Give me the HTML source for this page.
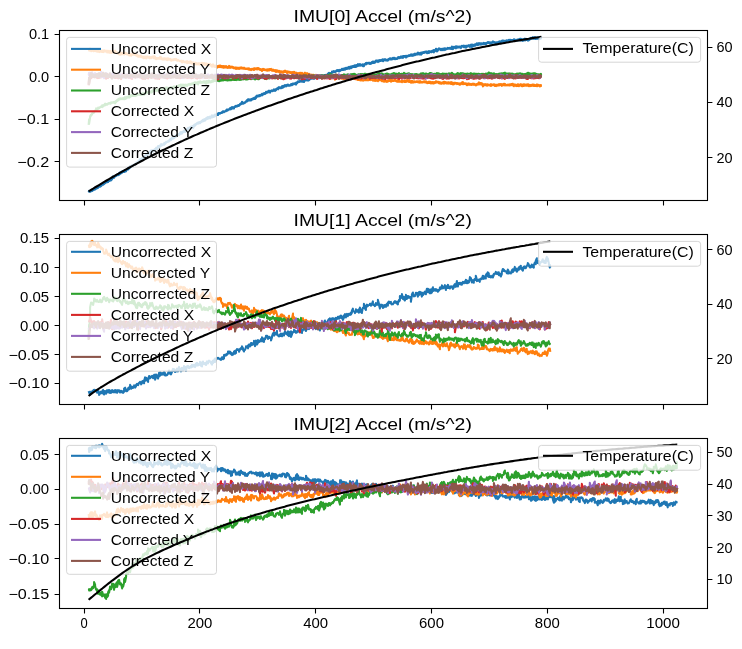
<!DOCTYPE html>
<html><head><meta charset="utf-8"><title>IMU Accel</title>
<style>html,body{margin:0;padding:0;background:#fff;}svg{display:block;will-change:transform;}text{font-family:"Liberation Sans",sans-serif;}</style></head>
<body>
<svg width="742" height="649" viewBox="0 0 742 649" font-family="'Liberation Sans', sans-serif" fill="#000">
<rect width="742" height="649" fill="#fff"/>
<defs><clipPath id="c0"><rect x="59.5" y="30.5" width="648.0" height="170.0"/></clipPath><clipPath id="c1"><rect x="59.5" y="234.5" width="648.0" height="170.0"/></clipPath><clipPath id="c2"><rect x="59.5" y="438.5" width="648.0" height="170.0"/></clipPath></defs>
<g clip-path="url(#c0)">
<path d="M88.6,192.2 L89.1,190.9 L89.1,191.7 L90.1,191.8 L90.1,190.7 L91.1,190.7 L91.1,191.2 L92.1,190.9 L92.1,190.3 L93.1,189.3 L93.1,190.2 L94.1,189.7 L94.1,189.1 L95.1,187.7 L95.1,189.4 L96.1,188.6 L96.1,187.5 L97.1,187.1 L97.1,188.2 L98.1,187.7 L98.1,186.8 L99.1,185.8 L99.1,186.8 L100.1,186.7 L100.1,185.0 L101.1,184.2 L101.1,186.1 L102.1,184.9 L102.1,184.4 L103.1,183.6 L103.1,184.8 L104.1,183.9 L104.1,182.7 L105.1,182.8 L105.1,183.2 L106.1,182.4 L106.1,181.0 L107.1,181.6 L107.1,182.3 L108.1,182.0 L108.1,181.2 L109.1,180.7 L109.1,181.0 L110.1,180.5 L110.1,179.8 L111.1,179.3 L111.1,180.4 L112.1,179.2 L112.1,178.5 L113.1,176.4 L113.1,178.0 L114.1,177.8 L114.1,176.6 L115.1,176.1 L115.1,176.4 L116.1,176.1 L116.1,175.7 L117.1,174.6 L117.1,175.3 L118.1,175.2 L118.1,174.4 L119.1,173.1 L119.1,174.6 L120.1,173.9 L120.1,172.5 L121.1,172.3 L121.1,173.3 L122.1,172.7 L122.1,171.4 L123.1,171.0 L123.1,171.8 L124.1,172.0 L124.1,170.9 L125.1,170.4 L125.1,171.6 L126.1,171.2 L126.1,170.1 L127.1,169.2 L127.1,169.8 L128.1,169.6 L128.1,168.2 L129.1,166.8 L129.1,168.5 L130.1,167.3 L130.1,166.1 L131.1,165.9 L131.1,166.6 L132.1,165.8 L132.1,165.0 L133.1,165.1 L133.1,166.1 L134.1,165.0 L134.1,164.4 L135.1,164.3 L135.1,164.7 L136.1,163.9 L136.1,162.6 L137.1,162.5 L137.1,163.3 L138.1,162.3 L138.1,161.2 L139.1,160.4 L139.1,161.2 L140.1,161.3 L140.1,159.0 L141.1,159.1 L141.1,160.1 L142.1,159.1 L142.1,158.1 L143.1,157.3 L143.1,158.5 L144.1,157.8 L144.1,156.5 L145.1,155.6 L145.1,156.7 L146.1,155.2 L146.1,154.5 L147.1,153.4 L147.1,155.3 L148.1,154.4 L148.1,152.8 L149.1,153.1 L149.1,153.7 L150.1,153.4 L150.1,151.5 L151.1,150.4 L151.1,152.0 L152.1,152.3 L152.1,150.5 L153.1,150.3 L153.1,151.4 L154.1,150.4 L154.1,149.8 L155.1,148.9 L155.1,149.7 L156.1,148.6 L156.1,147.7 L157.1,147.6 L157.1,149.0 L158.1,147.7 L158.1,146.0 L159.1,146.1 L159.1,146.9 L160.1,146.7 L160.1,145.7 L161.1,144.2 L161.1,145.8 L162.1,145.3 L162.1,144.6 L163.1,144.1 L163.1,144.5 L164.1,144.7 L164.1,143.2 L165.1,142.8 L165.1,143.9 L166.1,142.6 L166.1,141.9 L167.1,141.8 L167.1,141.9 L168.1,141.7 L168.1,140.9 L169.1,140.4 L169.1,141.5 L170.1,140.1 L170.1,139.1 L171.1,138.6 L171.1,140.1 L172.1,138.5 L172.1,137.5 L173.1,137.3 L173.1,138.5 L174.1,138.0 L174.1,136.8 L175.1,135.9 L175.1,137.1 L176.1,136.6 L176.1,135.4 L177.1,135.2 L177.1,135.7 L178.1,134.8 L178.1,134.4 L179.1,134.0 L179.1,135.1 L180.1,133.8 L180.1,132.5 L181.1,132.0 L181.1,133.7 L182.1,133.5 L182.1,132.3 L183.1,131.4 L183.1,132.3 L184.1,131.7 L184.1,130.8 L185.1,130.6 L185.1,131.9 L186.1,130.9 L186.1,129.8 L187.1,128.8 L187.1,129.7 L188.1,129.2 L188.1,127.7 L189.1,127.9 L189.1,128.5 L190.1,128.1 L190.1,127.2 L191.1,126.6 L191.1,128.2 L192.1,128.0 L192.1,126.4 L193.1,125.9 L193.1,128.0 L194.1,126.1 L194.1,125.0 L195.1,124.3 L195.1,125.7 L196.1,124.4 L196.1,124.0 L197.1,123.0 L197.1,123.8 L198.1,123.8 L198.1,122.5 L199.1,122.3 L199.1,123.1 L200.1,123.2 L200.1,121.9 L201.1,121.6 L201.1,122.1 L202.0,121.5 L202.0,120.8 L203.0,119.8 L203.0,121.4 L204.0,120.9 L204.0,119.4 L205.0,119.1 L205.0,120.6 L206.0,119.3 L206.0,118.4 L207.0,117.6 L207.0,118.9 L208.0,118.7 L208.0,117.0 L209.0,117.5 L209.0,117.8 L210.0,118.4 L210.0,116.5 L211.0,116.5 L211.0,117.5 L212.0,117.4 L212.0,115.3 L213.0,115.9 L213.0,117.0 L214.0,116.7 L214.0,115.5 L215.0,114.5 L215.0,116.3 L216.0,115.0 L216.0,114.7 L217.0,114.0 L217.0,114.8 L218.0,115.0 L218.0,113.5 L219.0,113.0 L219.0,113.7 L220.0,113.7 L220.0,113.1 L221.0,112.7 L221.0,113.0 L222.0,113.0 L222.0,112.0 L223.0,111.2 L223.0,112.3 L224.0,112.2 L224.0,111.6 L225.0,111.1 L225.0,111.5 L226.0,111.3 L226.0,110.5 L227.0,109.4 L227.0,110.7 L228.0,110.3 L228.0,109.9 L229.0,109.2 L229.0,109.6 L230.0,109.4 L230.0,108.2 L231.0,107.8 L231.0,109.3 L232.0,108.5 L232.0,107.1 L233.0,107.4 L233.0,108.5 L234.0,108.4 L234.0,107.2 L235.0,106.3 L235.0,107.0 L236.0,106.8 L236.0,105.8 L237.0,106.1 L237.0,106.4 L238.0,106.1 L238.0,105.3 L239.0,104.9 L239.0,105.9 L240.0,104.8 L240.0,104.1 L241.0,103.2 L241.0,104.3 L242.0,103.5 L242.0,101.7 L243.0,102.9 L243.0,103.8 L244.0,103.4 L244.0,102.9 L245.0,102.2 L245.0,102.9 L246.0,101.8 L246.0,101.4 L247.0,100.1 L247.0,101.5 L248.0,100.7 L248.0,99.4 L249.0,99.3 L249.0,100.2 L250.0,100.5 L250.0,99.6 L251.0,99.2 L251.0,100.4 L252.0,99.6 L252.0,99.0 L253.0,98.4 L253.0,99.2 L254.0,98.9 L254.0,97.9 L255.0,97.4 L255.0,98.9 L256.0,97.9 L256.0,96.4 L257.0,95.5 L257.0,96.8 L258.0,96.5 L258.0,95.7 L259.0,95.3 L259.0,96.2 L260.0,96.1 L260.0,95.1 L261.0,94.8 L261.0,95.1 L262.0,95.4 L262.0,93.8 L263.0,93.8 L263.0,94.7 L264.0,94.1 L264.0,93.3 L265.0,92.9 L265.0,94.0 L266.0,93.2 L266.0,91.8 L267.0,92.1 L267.0,92.7 L268.0,92.3 L268.0,91.3 L269.0,90.6 L269.0,92.3 L270.0,92.6 L270.0,91.6 L271.0,90.7 L271.0,91.1 L272.0,91.3 L272.0,90.2 L273.0,90.4 L273.0,91.0 L274.0,90.0 L274.0,89.3 L275.0,90.0 L275.0,90.9 L276.0,90.2 L276.0,89.1 L277.0,88.5 L277.0,88.9 L278.0,89.3 L278.0,87.9 L279.0,87.2 L279.0,88.2 L280.0,88.2 L280.0,87.6 L281.0,87.1 L281.0,88.3 L282.0,88.1 L282.0,86.3 L283.0,85.9 L283.0,87.5 L284.0,86.9 L284.0,86.0 L285.0,85.0 L285.0,85.8 L286.0,86.5 L286.0,85.5 L287.0,84.9 L287.0,85.6 L288.0,85.8 L288.0,84.5 L289.0,85.3 L289.0,85.8 L290.0,85.8 L290.0,85.3 L291.0,84.1 L291.0,85.3 L292.0,85.3 L292.0,83.9 L293.0,83.5 L293.0,84.5 L294.0,84.1 L294.0,83.6 L295.0,83.3 L295.0,84.1 L296.0,84.6 L296.0,82.7 L297.0,82.3 L297.0,83.4 L298.0,82.2 L298.0,81.3 L299.0,81.5 L299.0,82.0 L300.0,81.7 L300.0,80.7 L301.0,80.6 L301.0,81.3 L302.0,81.7 L302.0,80.3 L303.0,80.5 L303.0,81.5 L304.0,82.0 L304.0,80.2 L305.0,79.8 L305.0,80.7 L306.0,79.9 L306.0,79.1 L307.0,79.1 L307.0,80.4 L308.0,80.6 L308.0,79.5 L309.0,78.7 L309.0,80.1 L310.0,79.3 L310.0,78.7 L311.0,77.8 L311.0,78.7 L312.0,78.7 L312.0,77.7 L313.0,77.3 L313.0,78.3 L314.0,78.8 L314.0,77.5 L315.0,77.5 L315.0,78.2 L316.0,77.7 L316.0,76.6 L317.0,76.4 L317.0,77.0 L318.0,76.6 L318.0,75.0 L319.0,75.9 L319.0,76.5 L320.0,76.4 L320.0,75.5 L321.0,75.3 L321.0,76.6 L322.0,76.8 L322.0,75.5 L323.0,75.7 L323.0,76.6 L324.0,76.1 L324.0,75.3 L325.0,75.0 L325.0,75.4 L326.0,75.3 L326.0,74.7 L327.0,74.7 L327.0,75.1 L328.0,75.4 L328.0,73.8 L329.0,72.8 L329.0,74.8 L330.0,74.0 L330.0,73.3 L331.0,72.9 L331.0,73.4 L332.0,72.9 L332.0,71.6 L333.0,71.6 L333.0,72.2 L334.0,72.0 L334.0,71.1 L335.0,71.5 L335.0,72.2 L336.0,71.6 L336.0,70.8 L337.0,70.2 L337.0,70.8 L338.0,71.1 L338.0,70.0 L339.0,70.2 L339.0,71.4 L340.0,71.1 L340.0,69.8 L341.0,70.0 L341.0,70.3 L342.0,69.8 L342.0,68.7 L343.0,69.3 L343.0,69.9 L344.0,69.7 L344.0,68.5 L345.0,68.2 L345.0,69.7 L346.0,68.9 L346.0,67.8 L347.0,68.1 L347.0,69.0 L348.0,68.3 L348.0,67.5 L349.0,66.9 L349.0,68.8 L350.0,68.1 L350.0,67.0 L351.0,66.5 L351.0,68.2 L352.0,67.4 L352.0,66.2 L353.0,66.1 L353.0,67.1 L354.0,66.9 L354.0,65.7 L355.0,65.3 L355.0,66.7 L356.0,67.0 L356.0,65.3 L357.0,65.0 L357.0,66.3 L358.0,66.1 L358.0,64.1 L359.0,64.7 L359.0,65.2 L360.0,65.7 L360.0,64.1 L361.0,64.8 L361.0,65.3 L362.0,65.6 L362.0,64.7 L363.0,64.3 L363.0,66.2 L364.0,66.1 L364.0,64.7 L365.0,63.8 L365.0,64.4 L366.0,64.4 L366.0,63.0 L367.0,62.9 L367.0,63.8 L368.0,63.4 L368.0,63.2 L369.0,62.7 L369.0,63.6 L370.0,64.0 L370.0,63.0 L371.0,62.9 L371.0,63.8 L372.0,62.8 L372.0,61.9 L373.0,61.6 L373.0,63.1 L374.0,62.9 L374.0,61.7 L375.0,61.4 L375.0,62.7 L376.0,61.5 L376.0,60.6 L377.0,60.5 L377.0,61.1 L378.0,62.1 L378.0,60.5 L379.0,60.4 L379.0,61.4 L380.0,61.1 L380.0,60.0 L381.0,60.3 L381.0,60.9 L382.0,60.5 L382.0,59.7 L383.0,59.3 L383.0,61.3 L384.0,60.0 L384.0,59.7 L385.0,59.1 L385.0,60.0 L386.0,60.5 L386.0,59.7 L387.0,59.8 L387.0,60.6 L388.0,60.5 L388.0,59.6 L389.0,58.8 L389.0,59.5 L390.0,59.4 L390.0,58.2 L391.0,58.4 L391.0,59.4 L392.0,59.5 L392.0,58.6 L393.0,57.8 L393.0,58.6 L394.0,59.1 L394.0,57.7 L395.0,58.2 L395.0,59.1 L396.0,59.0 L396.0,58.4 L397.0,58.5 L397.0,59.0 L398.0,58.0 L398.0,57.3 L399.0,57.1 L399.0,58.3 L400.0,58.0 L400.0,57.6 L401.0,56.3 L401.0,57.7 L402.0,57.7 L402.0,56.8 L403.0,56.0 L403.0,57.9 L404.0,56.7 L404.0,56.1 L405.0,55.9 L405.0,56.7 L406.0,57.6 L406.0,56.0 L407.0,55.8 L407.0,56.8 L408.0,56.4 L408.0,55.8 L409.0,55.2 L409.0,55.7 L410.0,56.0 L410.0,55.5 L411.0,54.3 L411.0,55.2 L412.0,55.8 L412.0,54.5 L413.0,54.6 L413.0,55.7 L414.0,54.7 L414.0,54.2 L415.0,53.5 L415.0,55.2 L416.0,54.6 L416.0,54.1 L417.0,53.3 L417.0,54.6 L418.0,54.0 L418.0,52.6 L419.0,53.0 L419.0,54.5 L420.0,54.5 L420.0,53.3 L421.0,52.6 L421.0,54.6 L422.0,53.8 L422.0,52.5 L423.0,52.2 L423.0,53.1 L424.0,52.9 L424.0,51.9 L425.0,51.7 L425.0,52.5 L426.0,52.2 L426.0,51.5 L427.0,51.5 L427.0,53.3 L428.0,52.6 L428.0,51.8 L428.9,51.2 L428.9,52.9 L429.9,52.0 L429.9,51.2 L430.9,51.5 L430.9,52.1 L431.9,52.1 L431.9,50.9 L432.9,50.5 L432.9,51.7 L433.9,52.3 L433.9,50.0 L434.9,50.4 L434.9,51.2 L435.9,50.4 L435.9,48.7 L436.9,49.4 L436.9,51.4 L437.9,50.5 L437.9,49.7 L438.9,48.4 L438.9,49.5 L439.9,49.4 L439.9,48.8 L440.9,49.3 L440.9,50.3 L441.9,49.8 L441.9,48.8 L442.9,48.8 L442.9,50.2 L443.9,49.4 L443.9,48.5 L444.9,48.4 L444.9,50.1 L445.9,49.2 L445.9,48.5 L446.9,48.5 L446.9,49.1 L447.9,48.6 L447.9,47.9 L448.9,48.1 L448.9,48.7 L449.9,48.6 L449.9,47.7 L450.9,47.9 L450.9,49.0 L451.9,48.7 L451.9,46.5 L452.9,47.2 L452.9,49.2 L453.9,47.7 L453.9,46.8 L454.9,47.3 L454.9,47.9 L455.9,48.4 L455.9,46.2 L456.9,46.5 L456.9,47.8 L457.9,47.1 L457.9,46.6 L458.9,46.7 L458.9,47.4 L459.9,47.4 L459.9,46.6 L460.9,46.5 L460.9,48.1 L461.9,46.1 L461.9,45.9 L462.9,46.0 L462.9,46.6 L463.9,47.2 L463.9,45.6 L464.9,46.2 L464.9,47.1 L465.9,47.7 L465.9,45.7 L466.9,45.8 L466.9,46.8 L467.9,46.3 L467.9,45.6 L468.9,45.1 L468.9,46.1 L469.9,46.8 L469.9,45.5 L470.9,44.7 L470.9,45.9 L471.9,47.0 L471.9,44.6 L472.9,44.7 L472.9,46.1 L473.9,46.0 L473.9,44.9 L474.9,44.4 L474.9,45.7 L475.9,45.3 L475.9,44.2 L476.9,43.3 L476.9,44.5 L477.9,45.1 L477.9,43.5 L478.9,43.1 L478.9,44.5 L479.9,44.2 L479.9,43.5 L480.9,43.3 L480.9,44.6 L481.9,44.2 L481.9,43.2 L482.9,43.4 L482.9,44.1 L483.9,44.0 L483.9,42.9 L484.9,43.3 L484.9,44.0 L485.9,44.4 L485.9,43.0 L486.9,42.7 L486.9,43.3 L487.9,43.0 L487.9,42.1 L488.9,42.3 L488.9,43.1 L489.9,43.4 L489.9,42.4 L490.9,42.5 L490.9,43.6 L491.9,43.0 L491.9,42.5 L492.9,41.3 L492.9,42.0 L493.9,42.6 L493.9,42.0 L494.9,42.3 L494.9,42.8 L495.9,43.6 L495.9,42.5 L496.9,42.2 L496.9,43.2 L497.9,43.0 L497.9,42.1 L498.9,41.6 L498.9,43.0 L499.9,41.6 L499.9,41.4 L500.9,41.5 L500.9,42.5 L501.9,42.1 L501.9,40.7 L502.9,40.4 L502.9,41.4 L503.9,42.0 L503.9,41.3 L504.9,40.8 L504.9,41.7 L505.9,41.5 L505.9,40.7 L506.9,40.3 L506.9,41.4 L507.9,41.6 L507.9,40.6 L508.9,39.9 L508.9,40.7 L509.9,41.0 L509.9,39.8 L510.9,40.1 L510.9,41.1 L511.9,40.6 L511.9,40.1 L512.9,40.0 L512.9,40.8 L513.9,40.9 L513.9,39.3 L514.9,39.8 L514.9,40.7 L515.9,40.6 L515.9,40.0 L516.9,39.9 L516.9,40.6 L517.9,40.2 L517.9,39.4 L518.9,39.2 L518.9,40.2 L519.9,40.3 L519.9,38.8 L520.9,38.8 L520.9,40.4 L521.9,40.5 L521.9,39.2 L522.9,39.5 L522.9,41.0 L523.9,39.5 L523.9,39.1 L524.9,38.6 L524.9,40.4 L525.9,40.1 L525.9,39.9 L526.9,38.9 L526.9,39.5 L527.9,40.7 L527.9,39.3 L528.9,39.1 L528.9,40.2 L529.9,39.5 L529.9,38.5 L530.9,37.8 L530.9,39.0 L531.9,38.3 L531.9,37.8 L532.9,37.2 L532.9,38.6 L533.9,38.6 L533.9,37.8 L534.9,37.2 L534.9,38.7 L535.9,38.9 L535.9,37.7 L536.9,37.7 L536.9,38.6 L537.9,38.7 L537.9,37.2 L538.9,37.5 L538.9,39.2 L539.9,38.9 L539.9,37.8 L540.9,37.6 L540.9,38.5 L541.4,37.9" fill="none" stroke="#1f77b4" stroke-width="2.08" stroke-linejoin="round" stroke-linecap="butt"/>
<path d="M88.6,49.6 L89.1,49.6 L89.1,50.6 L90.1,49.8 L90.1,48.6 L91.1,49.9 L91.1,51.3 L92.1,50.4 L92.1,49.6 L93.1,49.4 L93.1,51.1 L94.1,51.1 L94.1,50.6 L95.1,50.2 L95.1,51.1 L96.1,51.3 L96.1,50.1 L97.1,50.9 L97.1,51.7 L98.1,51.2 L98.1,50.4 L99.1,51.3 L99.1,52.1 L100.1,51.5 L100.1,51.1 L101.1,50.6 L101.1,51.7 L102.1,51.9 L102.1,50.6 L103.1,50.7 L103.1,52.1 L104.1,51.5 L104.1,50.3 L105.1,50.7 L105.1,51.6 L106.1,51.3 L106.1,50.7 L107.1,50.7 L107.1,52.5 L108.1,52.1 L108.1,50.7 L109.1,51.7 L109.1,52.7 L110.1,52.4 L110.1,50.9 L111.1,51.5 L111.1,53.0 L112.1,52.5 L112.1,51.4 L113.1,51.4 L113.1,52.1 L114.1,52.6 L114.1,51.7 L115.1,50.7 L115.1,52.8 L116.1,53.0 L116.1,52.2 L117.1,52.5 L117.1,53.4 L118.1,53.9 L118.1,52.6 L119.1,53.9 L119.1,54.5 L120.1,54.7 L120.1,53.2 L121.1,52.6 L121.1,54.4 L122.1,54.3 L122.1,53.5 L123.1,52.7 L123.1,54.1 L124.1,54.5 L124.1,53.3 L125.1,52.7 L125.1,54.0 L126.1,53.7 L126.1,53.1 L127.1,53.7 L127.1,54.5 L128.1,54.6 L128.1,54.1 L129.1,54.4 L129.1,55.5 L130.1,55.3 L130.1,53.8 L131.1,54.6 L131.1,55.7 L132.1,54.8 L132.1,54.0 L133.1,53.4 L133.1,54.8 L134.1,54.8 L134.1,53.4 L135.1,54.3 L135.1,55.1 L136.1,55.4 L136.1,55.0 L137.1,54.6 L137.1,56.0 L138.1,56.6 L138.1,55.6 L139.1,55.7 L139.1,56.5 L140.1,56.8 L140.1,55.7 L141.1,55.6 L141.1,57.2 L142.1,57.2 L142.1,56.5 L143.1,56.6 L143.1,58.1 L144.1,58.1 L144.1,56.9 L145.1,56.5 L145.1,57.7 L146.1,58.5 L146.1,56.7 L147.1,56.4 L147.1,57.6 L148.1,57.5 L148.1,56.9 L149.1,56.7 L149.1,58.1 L150.1,58.1 L150.1,57.1 L151.1,57.2 L151.1,58.2 L152.1,57.2 L152.1,56.8 L153.1,56.4 L153.1,57.7 L154.1,58.3 L154.1,56.3 L155.1,56.8 L155.1,58.3 L156.1,59.2 L156.1,58.0 L157.1,58.1 L157.1,58.9 L158.1,58.5 L158.1,58.0 L159.1,58.0 L159.1,58.8 L160.1,58.6 L160.1,56.9 L161.1,57.3 L161.1,59.0 L162.1,59.4 L162.1,58.5 L163.1,58.5 L163.1,59.6 L164.1,59.2 L164.1,58.2 L165.1,58.5 L165.1,59.4 L166.1,59.4 L166.1,58.6 L167.1,58.4 L167.1,60.2 L168.1,59.2 L168.1,58.3 L169.1,59.2 L169.1,59.8 L170.1,59.8 L170.1,58.9 L171.1,59.6 L171.1,60.8 L172.1,60.2 L172.1,59.5 L173.1,60.0 L173.1,60.3 L174.1,59.8 L174.1,59.0 L175.1,59.2 L175.1,59.7 L176.1,60.1 L176.1,58.9 L177.1,60.1 L177.1,60.8 L178.1,60.3 L178.1,59.9 L179.1,60.7 L179.1,60.8 L180.1,61.2 L180.1,61.0 L181.1,60.6 L181.1,61.4 L182.1,62.5 L182.1,61.0 L183.1,60.8 L183.1,61.5 L184.1,62.3 L184.1,61.9 L185.1,61.6 L185.1,62.3 L186.1,62.4 L186.1,61.9 L187.1,61.1 L187.1,63.3 L188.1,62.4 L188.1,61.8 L189.1,62.0 L189.1,63.0 L190.1,62.5 L190.1,61.3 L191.1,61.8 L191.1,63.1 L192.1,63.7 L192.1,63.0 L193.1,62.3 L193.1,63.2 L194.1,64.4 L194.1,63.4 L195.1,62.6 L195.1,64.0 L196.1,64.4 L196.1,63.1 L197.1,63.4 L197.1,64.4 L198.1,64.1 L198.1,63.2 L199.1,63.3 L199.1,64.6 L200.1,64.0 L200.1,63.2 L201.1,63.4 L201.1,64.1 L202.0,64.4 L202.0,62.8 L203.0,63.8 L203.0,64.6 L204.0,64.5 L204.0,63.1 L205.0,64.1 L205.0,65.1 L206.0,64.9 L206.0,63.3 L207.0,64.1 L207.0,64.8 L208.0,65.0 L208.0,63.9 L209.0,64.5 L209.0,65.4 L210.0,65.0 L210.0,63.9 L211.0,65.3 L211.0,65.8 L212.0,66.7 L212.0,64.9 L213.0,64.4 L213.0,66.4 L214.0,66.6 L214.0,65.4 L215.0,65.6 L215.0,66.9 L216.0,67.1 L216.0,65.8 L217.0,66.7 L217.0,67.8 L218.0,67.0 L218.0,66.0 L219.0,65.8 L219.0,67.1 L220.0,66.7 L220.0,65.5 L221.0,66.0 L221.0,67.2 L222.0,67.2 L222.0,66.3 L223.0,66.1 L223.0,67.6 L224.0,67.7 L224.0,66.1 L225.0,67.1 L225.0,67.4 L226.0,67.2 L226.0,66.0 L227.0,66.9 L227.0,67.8 L228.0,67.9 L228.0,66.9 L229.0,65.9 L229.0,67.2 L230.0,67.8 L230.0,66.5 L231.0,67.0 L231.0,67.8 L232.0,67.0 L232.0,66.6 L233.0,67.0 L233.0,68.0 L234.0,68.4 L234.0,67.7 L235.0,67.4 L235.0,68.1 L236.0,69.0 L236.0,67.8 L237.0,67.6 L237.0,68.7 L238.0,68.4 L238.0,68.1 L239.0,67.6 L239.0,68.9 L240.0,68.6 L240.0,67.9 L241.0,67.3 L241.0,68.2 L242.0,68.4 L242.0,67.7 L243.0,67.8 L243.0,68.7 L244.0,68.6 L244.0,67.7 L245.0,68.4 L245.0,69.0 L246.0,69.0 L246.0,68.7 L247.0,68.4 L247.0,68.7 L248.0,69.2 L248.0,68.7 L249.0,68.3 L249.0,69.7 L250.0,69.7 L250.0,69.0 L251.0,69.2 L251.0,70.1 L252.0,69.5 L252.0,68.8 L253.0,69.0 L253.0,69.4 L254.0,70.0 L254.0,68.4 L255.0,68.4 L255.0,69.3 L256.0,69.2 L256.0,68.5 L257.0,68.1 L257.0,69.4 L258.0,69.3 L258.0,68.0 L259.0,68.4 L259.0,69.2 L260.0,69.8 L260.0,69.0 L261.0,69.3 L261.0,69.9 L262.0,71.0 L262.0,69.5 L263.0,68.9 L263.0,70.1 L264.0,69.7 L264.0,69.1 L265.0,69.9 L265.0,70.3 L266.0,70.3 L266.0,69.5 L267.0,69.6 L267.0,70.7 L268.0,70.4 L268.0,69.3 L269.0,69.3 L269.0,70.5 L270.0,70.1 L270.0,69.1 L271.0,68.9 L271.0,70.0 L272.0,70.8 L272.0,69.8 L273.0,69.6 L273.0,70.6 L274.0,70.9 L274.0,70.4 L275.0,70.1 L275.0,71.2 L276.0,72.0 L276.0,70.2 L277.0,70.3 L277.0,71.7 L278.0,71.4 L278.0,71.0 L279.0,70.8 L279.0,72.0 L280.0,72.6 L280.0,71.2 L281.0,71.2 L281.0,72.0 L282.0,72.7 L282.0,71.6 L283.0,71.4 L283.0,72.7 L284.0,71.6 L284.0,71.1 L285.0,70.6 L285.0,72.1 L286.0,71.9 L286.0,71.3 L287.0,71.3 L287.0,73.1 L288.0,72.6 L288.0,71.6 L289.0,71.8 L289.0,72.4 L290.0,72.9 L290.0,71.9 L291.0,72.4 L291.0,73.3 L292.0,73.4 L292.0,72.0 L293.0,72.2 L293.0,73.1 L294.0,73.4 L294.0,71.7 L295.0,72.9 L295.0,73.9 L296.0,73.9 L296.0,72.5 L297.0,73.3 L297.0,74.1 L298.0,75.0 L298.0,73.0 L299.0,73.4 L299.0,74.7 L300.0,75.0 L300.0,72.7 L301.0,73.0 L301.0,74.7 L302.0,74.5 L302.0,72.9 L303.0,73.7 L303.0,74.5 L304.0,74.9 L304.0,73.9 L305.0,72.7 L305.0,73.7 L306.0,74.5 L306.0,73.7 L307.0,73.1 L307.0,74.7 L308.0,75.5 L308.0,74.0 L309.0,73.8 L309.0,75.2 L310.0,75.0 L310.0,74.7 L311.0,74.5 L311.0,76.0 L312.0,76.0 L312.0,75.6 L313.0,74.7 L313.0,76.7 L314.0,75.7 L314.0,75.3 L315.0,75.0 L315.0,76.4 L316.0,75.8 L316.0,74.8 L317.0,75.4 L317.0,76.6 L318.0,76.1 L318.0,75.2 L319.0,75.3 L319.0,76.8 L320.0,77.4 L320.0,75.8 L321.0,76.2 L321.0,77.2 L322.0,77.2 L322.0,75.7 L323.0,76.5 L323.0,77.2 L324.0,76.8 L324.0,76.3 L325.0,76.5 L325.0,77.5 L326.0,77.4 L326.0,75.7 L327.0,75.8 L327.0,77.3 L328.0,77.0 L328.0,76.0 L329.0,76.4 L329.0,76.8 L330.0,77.7 L330.0,77.2 L331.0,76.8 L331.0,78.4 L332.0,78.2 L332.0,77.1 L333.0,77.5 L333.0,78.2 L334.0,77.8 L334.0,77.1 L335.0,77.7 L335.0,79.7 L336.0,78.3 L336.0,77.0 L337.0,77.2 L337.0,78.6 L338.0,77.5 L338.0,77.1 L339.0,77.9 L339.0,78.1 L340.0,78.0 L340.0,77.2 L341.0,77.6 L341.0,78.6 L342.0,78.8 L342.0,77.1 L343.0,77.4 L343.0,78.4 L344.0,79.1 L344.0,77.7 L345.0,77.6 L345.0,78.5 L346.0,78.3 L346.0,77.5 L347.0,77.6 L347.0,78.5 L348.0,78.6 L348.0,77.7 L349.0,77.2 L349.0,78.5 L350.0,78.6 L350.0,77.5 L351.0,77.5 L351.0,78.5 L352.0,78.7 L352.0,77.7 L353.0,77.9 L353.0,78.8 L354.0,78.9 L354.0,77.6 L355.0,78.1 L355.0,79.1 L356.0,79.1 L356.0,78.5 L357.0,78.8 L357.0,79.5 L358.0,80.0 L358.0,78.7 L359.0,78.7 L359.0,80.1 L360.0,80.3 L360.0,79.5 L361.0,79.6 L361.0,80.6 L362.0,79.6 L362.0,79.1 L363.0,78.7 L363.0,80.8 L364.0,79.8 L364.0,79.2 L365.0,78.8 L365.0,80.3 L366.0,80.3 L366.0,79.4 L367.0,79.0 L367.0,80.0 L368.0,80.4 L368.0,78.2 L369.0,78.5 L369.0,79.7 L370.0,80.1 L370.0,78.6 L371.0,79.4 L371.0,79.6 L372.0,80.0 L372.0,78.9 L373.0,78.8 L373.0,80.8 L374.0,80.4 L374.0,79.8 L375.0,79.8 L375.0,80.9 L376.0,80.8 L376.0,78.8 L377.0,79.8 L377.0,80.4 L378.0,81.1 L378.0,79.8 L379.0,79.4 L379.0,80.2 L380.0,80.3 L380.0,79.1 L381.0,79.7 L381.0,80.3 L382.0,81.2 L382.0,79.9 L383.0,80.5 L383.0,81.0 L384.0,81.8 L384.0,80.5 L385.0,79.1 L385.0,81.1 L386.0,81.7 L386.0,80.8 L387.0,80.9 L387.0,81.9 L388.0,81.5 L388.0,80.4 L389.0,80.2 L389.0,81.0 L390.0,81.0 L390.0,80.0 L391.0,80.1 L391.0,81.8 L392.0,81.0 L392.0,80.1 L393.0,80.4 L393.0,81.0 L394.0,81.0 L394.0,80.5 L395.0,79.0 L395.0,80.5 L396.0,81.1 L396.0,80.6 L397.0,80.6 L397.0,81.7 L398.0,81.7 L398.0,80.1 L399.0,81.0 L399.0,81.8 L400.0,81.8 L400.0,81.2 L401.0,81.2 L401.0,81.5 L402.0,82.1 L402.0,80.8 L403.0,81.3 L403.0,81.4 L404.0,81.9 L404.0,81.0 L405.0,80.5 L405.0,82.0 L406.0,81.9 L406.0,81.1 L407.0,80.1 L407.0,81.3 L408.0,81.5 L408.0,80.7 L409.0,80.1 L409.0,81.9 L410.0,82.1 L410.0,81.2 L411.0,81.1 L411.0,82.7 L412.0,82.3 L412.0,80.7 L413.0,81.7 L413.0,82.6 L414.0,82.0 L414.0,81.3 L415.0,81.7 L415.0,82.3 L416.0,82.1 L416.0,81.5 L417.0,81.2 L417.0,82.0 L418.0,82.2 L418.0,81.3 L419.0,81.5 L419.0,82.6 L420.0,82.5 L420.0,81.1 L421.0,82.0 L421.0,82.6 L422.0,82.4 L422.0,81.9 L423.0,82.0 L423.0,82.4 L424.0,82.0 L424.0,81.3 L425.0,81.6 L425.0,82.4 L426.0,82.2 L426.0,81.3 L427.0,82.0 L427.0,83.1 L428.0,83.0 L428.0,82.1 L428.9,81.7 L428.9,83.0 L429.9,82.7 L429.9,81.8 L430.9,82.1 L430.9,83.5 L431.9,83.1 L431.9,82.3 L432.9,82.0 L432.9,83.4 L433.9,83.4 L433.9,82.2 L434.9,82.1 L434.9,83.0 L435.9,82.4 L435.9,81.3 L436.9,81.7 L436.9,82.6 L437.9,82.3 L437.9,81.8 L438.9,82.1 L438.9,83.3 L439.9,83.5 L439.9,82.3 L440.9,82.8 L440.9,83.7 L441.9,83.6 L441.9,82.7 L442.9,82.3 L442.9,83.0 L443.9,83.7 L443.9,81.7 L444.9,82.0 L444.9,83.3 L445.9,83.0 L445.9,82.2 L446.9,82.9 L446.9,83.6 L447.9,83.2 L447.9,82.3 L448.9,82.3 L448.9,83.6 L449.9,83.3 L449.9,82.6 L450.9,82.2 L450.9,84.0 L451.9,83.8 L451.9,82.3 L452.9,83.0 L452.9,84.5 L453.9,84.3 L453.9,82.8 L454.9,82.7 L454.9,83.7 L455.9,83.3 L455.9,82.9 L456.9,83.1 L456.9,84.1 L457.9,83.9 L457.9,83.2 L458.9,83.5 L458.9,84.2 L459.9,84.7 L459.9,83.5 L460.9,83.1 L460.9,84.1 L461.9,83.4 L461.9,82.4 L462.9,82.1 L462.9,84.3 L463.9,84.0 L463.9,83.3 L464.9,83.2 L464.9,84.0 L465.9,84.3 L465.9,83.4 L466.9,83.6 L466.9,85.2 L467.9,84.8 L467.9,84.1 L468.9,83.3 L468.9,84.5 L469.9,84.9 L469.9,84.4 L470.9,83.9 L470.9,84.7 L471.9,85.0 L471.9,84.2 L472.9,83.7 L472.9,84.3 L473.9,84.8 L473.9,83.8 L474.9,84.2 L474.9,84.6 L475.9,85.3 L475.9,84.4 L476.9,84.0 L476.9,84.9 L477.9,84.5 L477.9,83.9 L478.9,82.4 L478.9,84.5 L479.9,83.9 L479.9,83.0 L480.9,83.0 L480.9,84.5 L481.9,84.6 L481.9,83.2 L482.9,84.0 L482.9,86.4 L483.9,84.9 L483.9,84.5 L484.9,84.1 L484.9,85.2 L485.9,85.1 L485.9,84.3 L486.9,84.5 L486.9,85.8 L487.9,85.3 L487.9,84.4 L488.9,84.7 L488.9,85.2 L489.9,85.5 L489.9,84.8 L490.9,84.2 L490.9,86.0 L491.9,85.0 L491.9,84.7 L492.9,84.6 L492.9,85.3 L493.9,85.3 L493.9,84.3 L494.9,84.7 L494.9,85.9 L495.9,86.1 L495.9,84.8 L496.9,84.7 L496.9,85.6 L497.9,85.5 L497.9,84.6 L498.9,84.2 L498.9,85.5 L499.9,84.9 L499.9,84.2 L500.9,84.1 L500.9,85.2 L501.9,85.8 L501.9,84.2 L502.9,84.3 L502.9,85.2 L503.9,85.3 L503.9,83.7 L504.9,84.0 L504.9,85.4 L505.9,85.2 L505.9,84.7 L506.9,84.9 L506.9,85.4 L507.9,85.1 L507.9,84.5 L508.9,84.8 L508.9,85.4 L509.9,85.4 L509.9,84.2 L510.9,84.3 L510.9,85.3 L511.9,84.6 L511.9,84.1 L512.9,83.8 L512.9,85.4 L513.9,86.1 L513.9,84.9 L514.9,84.3 L514.9,85.3 L515.9,85.9 L515.9,85.2 L516.9,84.8 L516.9,86.1 L517.9,85.7 L517.9,84.4 L518.9,84.5 L518.9,86.2 L519.9,85.5 L519.9,84.8 L520.9,84.2 L520.9,85.5 L521.9,86.1 L521.9,84.9 L522.9,84.6 L522.9,86.1 L523.9,85.9 L523.9,84.2 L524.9,84.7 L524.9,85.5 L525.9,85.6 L525.9,84.6 L526.9,84.6 L526.9,85.7 L527.9,85.8 L527.9,84.3 L528.9,84.8 L528.9,86.2 L529.9,86.0 L529.9,85.1 L530.9,84.9 L530.9,86.1 L531.9,85.8 L531.9,85.0 L532.9,84.5 L532.9,85.7 L533.9,86.0 L533.9,84.6 L534.9,85.0 L534.9,86.0 L535.9,86.0 L535.9,85.4 L536.9,84.4 L536.9,86.3 L537.9,85.8 L537.9,84.7 L538.9,84.9 L538.9,85.5 L539.9,86.4 L539.9,85.2 L540.9,85.0 L540.9,86.2 L541.4,85.6" fill="none" stroke="#ff7f0e" stroke-width="2.08" stroke-linejoin="round" stroke-linecap="butt"/>
<path d="M88.6,124.8 L89.1,119.3 L89.1,123.9 L90.1,117.5 L90.1,116.2 L91.1,114.5 L91.1,115.8 L92.1,114.1 L92.1,113.4 L93.1,112.1 L93.1,113.1 L94.1,112.5 L94.1,111.5 L95.1,110.4 L95.1,111.3 L96.1,110.0 L96.1,108.4 L97.1,109.0 L97.1,109.7 L98.1,108.7 L98.1,107.6 L99.1,107.7 L99.1,108.4 L100.1,107.3 L100.1,107.0 L101.1,106.3 L101.1,106.9 L102.1,107.1 L102.1,105.2 L103.1,105.3 L103.1,106.5 L104.1,105.6 L104.1,105.1 L105.1,103.7 L105.1,105.4 L106.1,104.9 L106.1,104.1 L107.1,104.1 L107.1,104.8 L108.1,103.9 L108.1,103.4 L109.1,103.0 L109.1,103.3 L110.1,103.8 L110.1,103.0 L111.1,102.4 L111.1,103.4 L112.1,102.9 L112.1,102.2 L113.1,102.3 L113.1,102.6 L114.1,102.7 L114.1,101.8 L115.1,101.8 L115.1,103.4 L116.1,101.9 L116.1,101.0 L117.1,100.1 L117.1,101.3 L118.1,100.5 L118.1,99.3 L119.1,98.8 L119.1,99.8 L120.1,99.4 L120.1,98.2 L121.1,98.4 L121.1,99.0 L122.1,99.1 L122.1,98.3 L123.1,98.2 L123.1,99.0 L124.1,99.2 L124.1,98.1 L125.1,97.0 L125.1,99.0 L126.1,98.6 L126.1,97.7 L127.1,96.8 L127.1,97.7 L128.1,97.2 L128.1,96.8 L129.1,95.6 L129.1,97.6 L130.1,97.0 L130.1,95.9 L131.1,95.2 L131.1,96.3 L132.1,95.6 L132.1,94.8 L133.1,94.9 L133.1,96.0 L134.1,95.9 L134.1,95.3 L135.1,94.6 L135.1,96.1 L136.1,95.7 L136.1,94.5 L137.1,94.6 L137.1,95.3 L138.1,94.9 L138.1,94.4 L139.1,94.3 L139.1,94.7 L140.1,94.9 L140.1,93.9 L141.1,93.7 L141.1,94.7 L142.1,95.0 L142.1,93.7 L143.1,93.3 L143.1,94.5 L144.1,94.6 L144.1,93.8 L145.1,93.2 L145.1,93.9 L146.1,93.4 L146.1,92.5 L147.1,92.0 L147.1,93.0 L148.1,92.7 L148.1,92.1 L149.1,91.6 L149.1,92.6 L150.1,92.4 L150.1,92.0 L151.1,91.2 L151.1,92.6 L152.1,92.0 L152.1,90.8 L153.1,90.3 L153.1,91.1 L154.1,91.0 L154.1,89.4 L155.1,89.5 L155.1,91.3 L156.1,90.8 L156.1,89.8 L157.1,89.8 L157.1,90.7 L158.1,90.8 L158.1,89.5 L159.1,89.0 L159.1,90.5 L160.1,90.3 L160.1,89.2 L161.1,88.3 L161.1,89.9 L162.1,90.2 L162.1,88.8 L163.1,88.9 L163.1,89.4 L164.1,89.3 L164.1,88.6 L165.1,88.1 L165.1,89.7 L166.1,88.7 L166.1,87.6 L167.1,87.5 L167.1,88.7 L168.1,89.0 L168.1,88.0 L169.1,88.2 L169.1,89.0 L170.1,87.8 L170.1,87.5 L171.1,87.0 L171.1,88.1 L172.1,88.3 L172.1,87.3 L173.1,87.3 L173.1,87.8 L174.1,87.9 L174.1,86.4 L175.1,86.6 L175.1,87.5 L176.1,87.6 L176.1,87.1 L177.1,86.0 L177.1,86.6 L178.1,87.0 L178.1,85.6 L179.1,85.1 L179.1,86.2 L180.1,86.2 L180.1,85.0 L181.1,84.5 L181.1,86.0 L182.1,86.0 L182.1,84.9 L183.1,84.6 L183.1,85.7 L184.1,86.5 L184.1,85.2 L185.1,84.6 L185.1,85.8 L186.1,85.7 L186.1,84.8 L187.1,84.9 L187.1,86.1 L188.1,84.9 L188.1,84.4 L189.1,83.9 L189.1,84.8 L190.1,84.8 L190.1,84.0 L191.1,83.8 L191.1,84.6 L192.1,84.3 L192.1,83.5 L193.1,83.2 L193.1,84.2 L194.1,83.9 L194.1,82.7 L195.1,82.3 L195.1,83.8 L196.1,83.1 L196.1,82.4 L197.1,82.8 L197.1,83.6 L198.1,84.3 L198.1,81.7 L199.1,82.2 L199.1,82.9 L200.1,82.5 L200.1,81.2 L201.1,82.3 L201.1,82.9 L202.0,82.5 L202.0,81.7 L203.0,81.7 L203.0,82.8 L204.0,82.4 L204.0,81.2 L205.0,81.4 L205.0,83.0 L206.0,83.6 L206.0,81.5 L207.0,81.0 L207.0,82.0 L208.0,82.9 L208.0,81.4 L209.0,80.7 L209.0,82.1 L210.0,82.5 L210.0,81.7 L211.0,81.2 L211.0,82.3 L212.0,81.9 L212.0,80.8 L213.0,80.3 L213.0,81.6 L214.0,81.0 L214.0,80.1 L215.0,79.2 L215.0,80.9 L216.0,80.9 L216.0,79.6 L217.0,80.4 L217.0,80.8 L218.0,80.7 L218.0,80.2 L219.0,79.9 L219.0,81.2 L220.0,80.8 L220.0,79.7 L221.0,79.0 L221.0,80.8 L222.0,80.0 L222.0,79.0 L223.0,79.6 L223.0,80.6 L224.0,79.7 L224.0,79.0 L225.0,78.8 L225.0,80.2 L226.0,79.8 L226.0,78.1 L227.0,79.0 L227.0,80.4 L228.0,80.4 L228.0,79.0 L229.0,79.2 L229.0,80.1 L230.0,80.3 L230.0,80.0 L231.0,79.5 L231.0,80.2 L232.0,80.0 L232.0,79.2 L233.0,79.4 L233.0,79.6 L234.0,80.0 L234.0,78.4 L235.0,78.8 L235.0,79.8 L236.0,80.1 L236.0,79.5 L237.0,78.6 L237.0,79.8 L238.0,79.5 L238.0,78.9 L239.0,78.7 L239.0,79.8 L240.0,79.9 L240.0,79.3 L241.0,78.5 L241.0,79.8 L242.0,79.2 L242.0,78.1 L243.0,78.3 L243.0,79.5 L244.0,78.7 L244.0,77.7 L245.0,78.5 L245.0,79.2 L246.0,79.4 L246.0,78.8 L247.0,78.6 L247.0,79.4 L248.0,79.3 L248.0,78.5 L249.0,77.9 L249.0,78.9 L250.0,78.3 L250.0,77.3 L251.0,78.0 L251.0,79.2 L252.0,78.4 L252.0,77.7 L253.0,77.4 L253.0,78.7 L254.0,78.8 L254.0,76.9 L255.0,77.5 L255.0,79.4 L256.0,79.1 L256.0,77.3 L257.0,77.9 L257.0,78.5 L258.0,79.1 L258.0,78.2 L259.0,77.9 L259.0,79.2 L260.0,77.8 L260.0,77.0 L261.0,76.8 L261.0,78.1 L262.0,77.7 L262.0,77.2 L263.0,77.3 L263.0,78.3 L264.0,77.9 L264.0,76.9 L265.0,77.8 L265.0,78.9 L266.0,79.1 L266.0,77.6 L267.0,77.8 L267.0,78.2 L268.0,78.0 L268.0,76.8 L269.0,77.1 L269.0,78.5 L270.0,78.1 L270.0,76.8 L271.0,77.1 L271.0,77.7 L272.0,77.7 L272.0,77.5 L273.0,77.5 L273.0,78.0 L274.0,78.2 L274.0,77.6 L275.0,77.6 L275.0,77.9 L276.0,78.2 L276.0,77.2 L277.0,77.0 L277.0,77.8 L278.0,78.3 L278.0,76.8 L279.0,77.2 L279.0,78.1 L280.0,77.9 L280.0,77.2 L281.0,76.8 L281.0,78.4 L282.0,77.7 L282.0,76.8 L283.0,76.6 L283.0,77.4 L284.0,77.1 L284.0,76.8 L285.0,76.9 L285.0,77.6 L286.0,77.4 L286.0,76.5 L287.0,76.5 L287.0,77.0 L288.0,77.8 L288.0,76.6 L289.0,75.8 L289.0,76.9 L290.0,78.0 L290.0,76.3 L291.0,76.0 L291.0,77.0 L292.0,77.1 L292.0,76.6 L293.0,75.9 L293.0,77.6 L294.0,78.0 L294.0,77.0 L295.0,77.0 L295.0,77.8 L296.0,77.4 L296.0,76.5 L297.0,76.6 L297.0,78.3 L298.0,77.6 L298.0,76.5 L299.0,77.3 L299.0,77.5 L300.0,77.5 L300.0,77.0 L301.0,76.4 L301.0,77.8 L302.0,77.7 L302.0,76.9 L303.0,77.1 L303.0,77.8 L304.0,77.4 L304.0,76.9 L305.0,76.5 L305.0,77.6 L306.0,76.9 L306.0,75.4 L307.0,76.7 L307.0,77.3 L308.0,77.9 L308.0,76.8 L309.0,76.8 L309.0,77.2 L310.0,77.2 L310.0,75.8 L311.0,76.1 L311.0,76.8 L312.0,77.1 L312.0,76.7 L313.0,76.0 L313.0,77.1 L314.0,76.7 L314.0,75.4 L315.0,76.6 L315.0,76.8 L316.0,76.9 L316.0,76.1 L317.0,75.7 L317.0,76.8 L318.0,75.9 L318.0,75.6 L319.0,76.4 L319.0,76.8 L320.0,77.2 L320.0,75.6 L321.0,75.5 L321.0,76.4 L322.0,76.3 L322.0,75.0 L323.0,76.1 L323.0,76.6 L324.0,76.3 L324.0,75.5 L325.0,76.1 L325.0,77.5 L326.0,76.9 L326.0,75.7 L327.0,75.7 L327.0,76.7 L328.0,75.9 L328.0,75.2 L329.0,75.1 L329.0,75.7 L330.0,76.0 L330.0,74.0 L331.0,74.6 L331.0,75.4 L332.0,75.8 L332.0,74.9 L333.0,74.8 L333.0,76.5 L334.0,75.8 L334.0,75.2 L335.0,75.3 L335.0,75.7 L336.0,75.6 L336.0,74.8 L337.0,76.1 L337.0,76.4 L338.0,76.0 L338.0,74.7 L339.0,75.1 L339.0,76.2 L340.0,76.3 L340.0,75.5 L341.0,75.6 L341.0,76.0 L342.0,75.8 L342.0,75.1 L343.0,75.1 L343.0,75.6 L344.0,75.7 L344.0,74.4 L345.0,75.0 L345.0,76.3 L346.0,76.0 L346.0,74.8 L347.0,74.7 L347.0,75.6 L348.0,75.6 L348.0,74.4 L349.0,75.2 L349.0,76.4 L350.0,75.1 L350.0,74.6 L351.0,74.2 L351.0,75.3 L352.0,75.4 L352.0,74.4 L353.0,74.0 L353.0,74.8 L354.0,75.2 L354.0,73.8 L355.0,74.2 L355.0,76.0 L356.0,76.0 L356.0,74.7 L357.0,75.1 L357.0,75.8 L358.0,75.8 L358.0,74.4 L359.0,74.2 L359.0,75.7 L360.0,76.0 L360.0,74.5 L361.0,74.0 L361.0,75.8 L362.0,74.7 L362.0,74.1 L363.0,74.2 L363.0,75.1 L364.0,74.6 L364.0,74.1 L365.0,73.6 L365.0,75.0 L366.0,75.5 L366.0,74.7 L367.0,74.0 L367.0,75.0 L368.0,75.2 L368.0,74.8 L369.0,73.8 L369.0,74.5 L370.0,74.7 L370.0,73.7 L371.0,73.9 L371.0,75.0 L372.0,75.0 L372.0,74.5 L373.0,74.6 L373.0,75.1 L374.0,75.1 L374.0,74.4 L375.0,74.5 L375.0,74.9 L376.0,75.4 L376.0,74.7 L377.0,74.3 L377.0,75.2 L378.0,74.3 L378.0,73.6 L379.0,73.1 L379.0,74.8 L380.0,74.4 L380.0,73.9 L381.0,73.3 L381.0,74.6 L382.0,75.0 L382.0,73.4 L383.0,74.3 L383.0,75.0 L384.0,75.7 L384.0,74.4 L385.0,74.2 L385.0,74.6 L386.0,75.1 L386.0,73.7 L387.0,73.5 L387.0,74.6 L388.0,74.9 L388.0,73.9 L389.0,74.7 L389.0,75.3 L390.0,75.0 L390.0,74.4 L391.0,74.5 L391.0,75.5 L392.0,75.5 L392.0,73.8 L393.0,73.6 L393.0,74.3 L394.0,74.2 L394.0,73.0 L395.0,74.2 L395.0,74.6 L396.0,75.6 L396.0,73.6 L397.0,74.4 L397.0,75.1 L398.0,75.1 L398.0,73.9 L399.0,73.2 L399.0,75.3 L400.0,74.6 L400.0,74.1 L401.0,73.9 L401.0,74.4 L402.0,74.8 L402.0,73.8 L403.0,74.2 L403.0,75.0 L404.0,74.5 L404.0,72.8 L405.0,73.5 L405.0,74.2 L406.0,75.1 L406.0,73.9 L407.0,73.7 L407.0,74.8 L408.0,74.1 L408.0,73.4 L409.0,73.2 L409.0,74.8 L410.0,74.8 L410.0,74.0 L411.0,74.3 L411.0,75.0 L412.0,76.1 L412.0,74.0 L413.0,75.2 L413.0,75.9 L414.0,75.3 L414.0,74.3 L415.0,74.3 L415.0,75.2 L416.0,75.0 L416.0,74.0 L417.0,74.3 L417.0,75.7 L418.0,75.7 L418.0,75.0 L419.0,74.5 L419.0,75.5 L420.0,74.7 L420.0,74.5 L421.0,73.3 L421.0,74.6 L422.0,74.5 L422.0,73.5 L423.0,73.1 L423.0,74.1 L424.0,75.1 L424.0,73.9 L425.0,73.8 L425.0,74.9 L426.0,75.3 L426.0,73.5 L427.0,73.9 L427.0,75.4 L428.0,75.5 L428.0,74.5 L428.9,73.7 L428.9,74.5 L429.9,74.5 L429.9,73.1 L430.9,73.0 L430.9,74.0 L431.9,74.2 L431.9,73.6 L432.9,73.7 L432.9,74.6 L433.9,74.8 L433.9,74.3 L434.9,73.8 L434.9,74.3 L435.9,76.1 L435.9,73.9 L436.9,73.2 L436.9,75.1 L437.9,75.2 L437.9,73.2 L438.9,73.5 L438.9,74.5 L439.9,74.8 L439.9,74.0 L440.9,74.3 L440.9,76.2 L441.9,75.0 L441.9,74.0 L442.9,73.5 L442.9,75.6 L443.9,74.7 L443.9,73.9 L444.9,73.9 L444.9,74.6 L445.9,74.9 L445.9,73.9 L446.9,73.8 L446.9,75.4 L447.9,75.2 L447.9,74.0 L448.9,73.4 L448.9,74.1 L449.9,74.5 L449.9,73.6 L450.9,73.5 L450.9,74.3 L451.9,74.7 L451.9,72.8 L452.9,73.9 L452.9,74.4 L453.9,76.0 L453.9,74.3 L454.9,74.6 L454.9,74.7 L455.9,75.0 L455.9,74.4 L456.9,73.5 L456.9,74.9 L457.9,74.2 L457.9,73.1 L458.9,73.6 L458.9,74.6 L459.9,74.8 L459.9,73.9 L460.9,73.1 L460.9,74.7 L461.9,74.3 L461.9,73.3 L462.9,73.3 L462.9,74.5 L463.9,74.8 L463.9,73.8 L464.9,73.7 L464.9,75.0 L465.9,74.8 L465.9,73.9 L466.9,73.9 L466.9,74.8 L467.9,75.3 L467.9,73.6 L468.9,74.0 L468.9,75.1 L469.9,74.8 L469.9,73.7 L470.9,73.1 L470.9,74.8 L471.9,75.2 L471.9,74.3 L472.9,73.8 L472.9,75.1 L473.9,74.5 L473.9,73.5 L474.9,73.8 L474.9,74.3 L475.9,74.3 L475.9,73.7 L476.9,74.0 L476.9,74.7 L477.9,75.7 L477.9,73.9 L478.9,73.9 L478.9,75.2 L479.9,74.5 L479.9,74.0 L480.9,74.6 L480.9,75.3 L481.9,74.8 L481.9,73.7 L482.9,73.9 L482.9,74.5 L483.9,74.6 L483.9,73.9 L484.9,74.3 L484.9,75.5 L485.9,75.1 L485.9,73.6 L486.9,73.7 L486.9,74.4 L487.9,74.8 L487.9,73.5 L488.9,72.4 L488.9,74.1 L489.9,74.3 L489.9,73.9 L490.9,73.2 L490.9,74.8 L491.9,75.4 L491.9,73.5 L492.9,73.7 L492.9,74.5 L493.9,75.0 L493.9,73.2 L494.9,74.4 L494.9,75.4 L495.9,74.7 L495.9,74.0 L496.9,74.3 L496.9,75.4 L497.9,75.3 L497.9,74.2 L498.9,73.8 L498.9,74.4 L499.9,74.0 L499.9,73.5 L500.9,73.5 L500.9,73.8 L501.9,74.4 L501.9,73.3 L502.9,73.5 L502.9,74.0 L503.9,74.0 L503.9,73.0 L504.9,72.6 L504.9,74.5 L505.9,74.6 L505.9,74.1 L506.9,73.4 L506.9,74.1 L507.9,75.0 L507.9,73.9 L508.9,73.4 L508.9,74.3 L509.9,74.3 L509.9,73.5 L510.9,74.0 L510.9,74.9 L511.9,74.7 L511.9,73.6 L512.9,73.7 L512.9,75.0 L513.9,75.1 L513.9,74.6 L514.9,74.2 L514.9,74.9 L515.9,74.7 L515.9,74.4 L516.9,73.7 L516.9,74.9 L517.9,74.4 L517.9,73.6 L518.9,73.8 L518.9,75.8 L519.9,74.9 L519.9,73.3 L520.9,73.7 L520.9,74.7 L521.9,75.6 L521.9,73.8 L522.9,74.1 L522.9,74.9 L523.9,75.1 L523.9,74.3 L524.9,74.1 L524.9,75.1 L525.9,74.4 L525.9,73.9 L526.9,73.3 L526.9,74.4 L527.9,73.9 L527.9,72.8 L528.9,73.1 L528.9,73.9 L529.9,74.7 L529.9,73.7 L530.9,73.6 L530.9,74.7 L531.9,74.6 L531.9,73.7 L532.9,73.4 L532.9,74.3 L533.9,74.9 L533.9,73.3 L534.9,73.2 L534.9,74.2 L535.9,74.4 L535.9,73.9 L536.9,74.0 L536.9,74.9 L537.9,76.0 L537.9,74.8 L538.9,74.3 L538.9,75.4 L539.9,75.2 L539.9,74.4 L540.9,73.8 L540.9,75.2 L541.4,74.2" fill="none" stroke="#2ca02c" stroke-width="2.08" stroke-linejoin="round" stroke-linecap="butt"/>
<path d="M88.6,85.2 L89.1,77.7 L89.1,83.6 L90.1,76.4 L90.1,73.7 L91.1,74.7 L91.1,78.3 L92.1,77.1 L92.1,76.1 L93.1,74.3 L93.1,76.1 L94.1,77.2 L94.1,75.0 L95.1,75.0 L95.1,77.0 L96.1,76.9 L96.1,74.9 L97.1,76.1 L97.1,78.1 L98.1,77.8 L98.1,74.2 L99.1,76.5 L99.1,77.9 L100.1,77.5 L100.1,74.4 L101.1,75.7 L101.1,77.4 L102.1,75.3 L102.1,73.4 L103.1,74.7 L103.1,76.7 L104.1,76.7 L104.1,73.9 L105.1,75.8 L105.1,77.8 L106.1,78.7 L106.1,75.6 L107.1,75.8 L107.1,78.0 L108.1,78.0 L108.1,75.8 L109.1,74.4 L109.1,76.8 L110.1,76.2 L110.1,75.0 L111.1,74.5 L111.1,77.4 L112.1,77.3 L112.1,75.3 L113.1,75.2 L113.1,76.8 L114.1,77.2 L114.1,75.2 L115.1,73.8 L115.1,78.0 L116.1,77.6 L116.1,75.1 L117.1,74.8 L117.1,77.9 L118.1,78.3 L118.1,75.4 L119.1,76.0 L119.1,77.6 L120.1,77.5 L120.1,76.0 L121.1,75.7 L121.1,79.2 L122.1,76.4 L122.1,74.9 L123.1,73.6 L123.1,76.5 L124.1,76.5 L124.1,74.8 L125.1,75.6 L125.1,76.5 L126.1,77.0 L126.1,75.6 L127.1,75.3 L127.1,76.2 L128.1,77.6 L128.1,76.3 L129.1,77.0 L129.1,77.9 L130.1,77.4 L130.1,75.5 L131.1,75.2 L131.1,78.3 L132.1,79.0 L132.1,75.5 L133.1,75.3 L133.1,76.5 L134.1,77.2 L134.1,75.8 L135.1,75.4 L135.1,77.6 L136.1,76.8 L136.1,73.5 L137.1,75.6 L137.1,77.3 L138.1,76.6 L138.1,75.4 L139.1,75.1 L139.1,77.3 L140.1,77.4 L140.1,76.0 L141.1,76.4 L141.1,77.4 L142.1,78.6 L142.1,76.1 L143.1,76.3 L143.1,79.0 L144.1,78.3 L144.1,76.7 L145.1,77.7 L145.1,79.0 L146.1,77.7 L146.1,76.7 L147.1,76.8 L147.1,77.6 L148.1,78.3 L148.1,75.8 L149.1,76.5 L149.1,77.3 L150.1,76.8 L150.1,75.3 L151.1,76.5 L151.1,77.6 L152.1,77.7 L152.1,75.7 L153.1,76.2 L153.1,77.0 L154.1,77.6 L154.1,75.9 L155.1,75.5 L155.1,78.5 L156.1,78.2 L156.1,77.0 L157.1,75.8 L157.1,78.8 L158.1,77.4 L158.1,76.7 L159.1,76.9 L159.1,78.9 L160.1,77.1 L160.1,75.3 L161.1,74.9 L161.1,77.4 L162.1,77.3 L162.1,75.3 L163.1,75.9 L163.1,76.5 L164.1,75.9 L164.1,75.1 L165.1,76.1 L165.1,78.1 L166.1,77.9 L166.1,76.1 L167.1,75.8 L167.1,78.5 L168.1,77.9 L168.1,76.3 L169.1,76.0 L169.1,77.3 L170.1,77.8 L170.1,76.6 L171.1,76.5 L171.1,77.4 L172.1,76.8 L172.1,75.7 L173.1,75.1 L173.1,77.3 L174.1,76.7 L174.1,75.6 L175.1,75.5 L175.1,77.5 L176.1,76.2 L176.1,75.8 L177.1,75.2 L177.1,77.7 L178.1,77.8 L178.1,74.9 L179.1,76.1 L179.1,76.7 L180.1,78.2 L180.1,75.5 L181.1,76.0 L181.1,77.8 L182.1,78.0 L182.1,76.4 L183.1,76.1 L183.1,76.8 L184.1,77.0 L184.1,76.1 L185.1,75.5 L185.1,77.5 L186.1,77.1 L186.1,76.3 L187.1,76.6 L187.1,77.9 L188.1,77.8 L188.1,76.1 L189.1,76.6 L189.1,77.7 L190.1,77.1 L190.1,76.3 L191.1,76.8 L191.1,78.3 L192.1,77.6 L192.1,76.6 L193.1,76.4 L193.1,77.9 L194.1,76.8 L194.1,76.0 L195.1,76.7 L195.1,77.5 L196.1,78.2 L196.1,75.7 L197.1,76.7 L197.1,78.6 L198.1,77.2 L198.1,76.2 L199.1,76.2 L199.1,78.0 L200.1,78.3 L200.1,75.2 L201.1,75.6 L201.1,77.8 L202.0,77.2 L202.0,76.2 L203.0,75.9 L203.0,77.1 L204.0,77.1 L204.0,76.3 L205.0,76.3 L205.0,77.9 L206.0,77.8 L206.0,76.5 L207.0,76.3 L207.0,78.0 L208.0,77.6 L208.0,77.2 L209.0,76.7 L209.0,77.0 L210.0,77.4 L210.0,76.7 L211.0,75.7 L211.0,77.3 L212.0,76.4 L212.0,75.0 L213.0,75.4 L213.0,76.9 L214.0,77.2 L214.0,76.3 L215.0,76.5 L215.0,77.4 L216.0,78.6 L216.0,76.6 L217.0,77.7 L217.0,78.5 L218.0,79.6 L218.0,77.9 L219.0,77.7 L219.0,78.3 L220.0,78.0 L220.0,76.7 L221.0,75.8 L221.0,77.7 L222.0,76.4 L222.0,75.9 L223.0,75.3 L223.0,77.8 L224.0,78.4 L224.0,75.5 L225.0,76.0 L225.0,77.9 L226.0,78.4 L226.0,75.4 L227.0,76.7 L227.0,77.3 L228.0,78.3 L228.0,75.6 L229.0,76.0 L229.0,77.1 L230.0,77.2 L230.0,76.1 L231.0,76.5 L231.0,77.2 L232.0,76.8 L232.0,76.2 L233.0,75.5 L233.0,78.8 L234.0,77.3 L234.0,76.6 L235.0,75.9 L235.0,76.6 L236.0,78.0 L236.0,75.8 L237.0,75.3 L237.0,77.6 L238.0,76.6 L238.0,75.1 L239.0,76.3 L239.0,76.9 L240.0,77.4 L240.0,76.6 L241.0,76.9 L241.0,78.2 L242.0,78.2 L242.0,77.3 L243.0,76.4 L243.0,78.7 L244.0,76.4 L244.0,75.9 L245.0,76.3 L245.0,78.3 L246.0,77.9 L246.0,76.7 L247.0,76.4 L247.0,78.1 L248.0,77.8 L248.0,77.2 L249.0,76.3 L249.0,78.2 L250.0,78.4 L250.0,75.9 L251.0,77.8 L251.0,78.8 L252.0,77.5 L252.0,75.9 L253.0,76.3 L253.0,77.3 L254.0,77.0 L254.0,76.6 L255.0,75.1 L255.0,77.5 L256.0,77.2 L256.0,75.9 L257.0,76.5 L257.0,77.5 L258.0,78.6 L258.0,76.8 L259.0,75.7 L259.0,77.4 L260.0,78.0 L260.0,76.2 L261.0,75.8 L261.0,76.8 L262.0,77.7 L262.0,75.9 L263.0,76.2 L263.0,77.5 L264.0,78.1 L264.0,77.1 L265.0,77.1 L265.0,78.6 L266.0,78.6 L266.0,76.9 L267.0,76.8 L267.0,78.6 L268.0,77.9 L268.0,77.2 L269.0,76.2 L269.0,76.9 L270.0,78.1 L270.0,76.2 L271.0,76.6 L271.0,77.6 L272.0,78.3 L272.0,76.9 L273.0,76.4 L273.0,78.1 L274.0,77.9 L274.0,76.6 L275.0,76.9 L275.0,78.3 L276.0,77.4 L276.0,75.9 L277.0,76.1 L277.0,77.5 L278.0,78.8 L278.0,76.5 L279.0,75.8 L279.0,77.0 L280.0,77.2 L280.0,75.5 L281.0,75.4 L281.0,78.2 L282.0,78.5 L282.0,77.0 L283.0,76.5 L283.0,79.1 L284.0,79.1 L284.0,77.5 L285.0,76.0 L285.0,78.6 L286.0,78.0 L286.0,76.9 L287.0,76.3 L287.0,78.2 L288.0,77.6 L288.0,76.7 L289.0,76.2 L289.0,78.1 L290.0,78.5 L290.0,76.4 L291.0,77.2 L291.0,78.7 L292.0,78.0 L292.0,76.5 L293.0,75.2 L293.0,77.5 L294.0,78.3 L294.0,76.6 L295.0,76.0 L295.0,77.4 L296.0,78.0 L296.0,76.8 L297.0,76.8 L297.0,77.9 L298.0,78.0 L298.0,77.5 L299.0,77.0 L299.0,78.1 L300.0,77.1 L300.0,76.2 L301.0,76.2 L301.0,78.6 L302.0,79.4 L302.0,77.2 L303.0,76.8 L303.0,79.0 L304.0,77.9 L304.0,76.5 L305.0,76.8 L305.0,78.9 L306.0,77.8 L306.0,76.4 L307.0,75.9 L307.0,77.9 L308.0,77.9 L308.0,76.1 L309.0,77.2 L309.0,78.8 L310.0,77.8 L310.0,76.0 L311.0,76.0 L311.0,77.9 L312.0,77.6 L312.0,77.0 L313.0,77.1 L313.0,78.3 L314.0,78.3 L314.0,76.4 L315.0,76.6 L315.0,77.4 L316.0,77.6 L316.0,76.9 L317.0,75.7 L317.0,78.9 L318.0,77.9 L318.0,76.4 L319.0,75.9 L319.0,77.7 L320.0,77.7 L320.0,75.8 L321.0,77.3 L321.0,77.9 L322.0,78.7 L322.0,75.9 L323.0,76.8 L323.0,77.7 L324.0,78.4 L324.0,77.4 L325.0,76.8 L325.0,78.0 L326.0,78.2 L326.0,75.6 L327.0,75.8 L327.0,78.5 L328.0,77.4 L328.0,75.7 L329.0,77.2 L329.0,78.6 L330.0,78.9 L330.0,76.5 L331.0,76.6 L331.0,77.4 L332.0,77.6 L332.0,76.7 L333.0,76.3 L333.0,78.0 L334.0,78.1 L334.0,76.5 L335.0,76.1 L335.0,78.5 L336.0,79.0 L336.0,77.0 L337.0,76.2 L337.0,77.5 L338.0,77.0 L338.0,75.3 L339.0,76.3 L339.0,76.9 L340.0,77.8 L340.0,75.2 L341.0,77.3 L341.0,78.0 L342.0,78.0 L342.0,77.0 L343.0,77.4 L343.0,77.7 L344.0,78.2 L344.0,77.4 L345.0,76.8 L345.0,78.0 L346.0,78.5 L346.0,77.3 L347.0,77.2 L347.0,78.5 L348.0,77.4 L348.0,76.5 L349.0,76.4 L349.0,78.4 L350.0,79.1 L350.0,77.3 L351.0,77.1 L351.0,79.1 L352.0,79.0 L352.0,76.3 L353.0,76.6 L353.0,78.3 L354.0,77.7 L354.0,77.1 L355.0,77.2 L355.0,78.8 L356.0,78.4 L356.0,76.5 L357.0,77.4 L357.0,78.1 L358.0,78.6 L358.0,76.8 L359.0,76.3 L359.0,78.0 L360.0,77.7 L360.0,76.7 L361.0,77.4 L361.0,78.6 L362.0,77.5 L362.0,76.7 L363.0,76.4 L363.0,77.9 L364.0,77.8 L364.0,76.9 L365.0,76.8 L365.0,78.2 L366.0,78.0 L366.0,76.1 L367.0,76.1 L367.0,76.7 L368.0,77.0 L368.0,75.9 L369.0,75.9 L369.0,76.8 L370.0,78.7 L370.0,77.0 L371.0,76.6 L371.0,78.0 L372.0,77.9 L372.0,76.7 L373.0,77.2 L373.0,78.0 L374.0,78.0 L374.0,76.2 L375.0,76.2 L375.0,78.2 L376.0,77.9 L376.0,76.6 L377.0,76.2 L377.0,77.1 L378.0,77.3 L378.0,76.0 L379.0,77.2 L379.0,78.5 L380.0,78.0 L380.0,76.9 L381.0,76.5 L381.0,77.2 L382.0,78.5 L382.0,77.1 L383.0,75.8 L383.0,78.2 L384.0,78.7 L384.0,76.6 L385.0,77.4 L385.0,79.3 L386.0,77.8 L386.0,76.7 L387.0,76.3 L387.0,78.0 L388.0,78.4 L388.0,76.6 L389.0,76.7 L389.0,78.3 L390.0,77.6 L390.0,76.3 L391.0,76.5 L391.0,78.0 L392.0,77.3 L392.0,77.0 L393.0,76.2 L393.0,78.1 L394.0,77.7 L394.0,76.6 L395.0,76.3 L395.0,78.1 L396.0,77.8 L396.0,76.9 L397.0,76.2 L397.0,78.1 L398.0,77.3 L398.0,76.7 L399.0,77.1 L399.0,79.1 L400.0,77.6 L400.0,77.2 L401.0,76.7 L401.0,77.8 L402.0,78.6 L402.0,76.4 L403.0,76.6 L403.0,78.1 L404.0,78.3 L404.0,76.0 L405.0,76.9 L405.0,78.2 L406.0,77.8 L406.0,76.7 L407.0,76.9 L407.0,77.5 L408.0,78.1 L408.0,75.9 L409.0,77.2 L409.0,77.9 L410.0,78.4 L410.0,76.5 L411.0,77.0 L411.0,77.8 L412.0,77.3 L412.0,75.9 L413.0,76.8 L413.0,78.0 L414.0,77.1 L414.0,76.5 L415.0,76.5 L415.0,77.0 L416.0,77.9 L416.0,76.6 L417.0,77.4 L417.0,78.3 L418.0,78.0 L418.0,76.4 L419.0,76.9 L419.0,78.4 L420.0,77.8 L420.0,76.2 L421.0,76.5 L421.0,78.5 L422.0,77.8 L422.0,77.5 L423.0,76.6 L423.0,78.7 L424.0,77.0 L424.0,76.4 L425.0,77.6 L425.0,78.7 L426.0,77.6 L426.0,76.8 L427.0,76.7 L427.0,78.1 L428.0,77.7 L428.0,76.1 L428.9,76.3 L428.9,77.7 L429.9,77.8 L429.9,75.9 L430.9,77.0 L430.9,78.2 L431.9,78.4 L431.9,76.6 L432.9,76.8 L432.9,78.7 L433.9,78.2 L433.9,76.7 L434.9,76.9 L434.9,78.3 L435.9,77.9 L435.9,76.1 L436.9,76.6 L436.9,77.6 L437.9,77.4 L437.9,76.8 L438.9,75.8 L438.9,76.2 L439.9,78.0 L439.9,75.9 L440.9,75.8 L440.9,77.7 L441.9,78.4 L441.9,77.2 L442.9,78.2 L442.9,78.9 L443.9,77.9 L443.9,76.9 L444.9,77.2 L444.9,77.4 L445.9,78.3 L445.9,76.7 L446.9,76.9 L446.9,78.6 L447.9,78.3 L447.9,77.3 L448.9,76.6 L448.9,78.4 L449.9,78.3 L449.9,76.5 L450.9,75.2 L450.9,77.6 L451.9,78.2 L451.9,75.9 L452.9,76.8 L452.9,77.4 L453.9,77.7 L453.9,76.4 L454.9,76.8 L454.9,78.1 L455.9,77.4 L455.9,76.6 L456.9,76.4 L456.9,78.3 L457.9,78.2 L457.9,77.1 L458.9,76.5 L458.9,78.5 L459.9,78.0 L459.9,76.9 L460.9,76.2 L460.9,77.9 L461.9,78.0 L461.9,76.5 L462.9,76.8 L462.9,78.2 L463.9,78.2 L463.9,77.2 L464.9,76.9 L464.9,77.9 L465.9,77.5 L465.9,77.0 L466.9,77.3 L466.9,79.3 L467.9,77.9 L467.9,77.3 L468.9,76.4 L468.9,78.9 L469.9,77.8 L469.9,76.2 L470.9,76.4 L470.9,77.6 L471.9,78.2 L471.9,77.5 L472.9,77.4 L472.9,78.5 L473.9,78.9 L473.9,77.1 L474.9,76.8 L474.9,77.9 L475.9,78.5 L475.9,77.5 L476.9,77.1 L476.9,78.1 L477.9,78.0 L477.9,77.0 L478.9,77.1 L478.9,78.2 L479.9,78.7 L479.9,77.0 L480.9,76.9 L480.9,77.9 L481.9,76.6 L481.9,75.5 L482.9,75.3 L482.9,77.3 L483.9,78.1 L483.9,76.6 L484.9,76.2 L484.9,77.9 L485.9,77.3 L485.9,76.7 L486.9,76.3 L486.9,78.0 L487.9,78.4 L487.9,76.9 L488.9,76.5 L488.9,77.6 L489.9,78.2 L489.9,77.1 L490.9,76.1 L490.9,78.0 L491.9,78.7 L491.9,76.8 L492.9,77.1 L492.9,78.3 L493.9,77.4 L493.9,76.3 L494.9,76.4 L494.9,77.8 L495.9,76.6 L495.9,76.1 L496.9,75.7 L496.9,77.2 L497.9,77.9 L497.9,76.4 L498.9,77.0 L498.9,78.0 L499.9,78.3 L499.9,77.3 L500.9,76.4 L500.9,77.1 L501.9,78.3 L501.9,77.4 L502.9,76.8 L502.9,78.2 L503.9,78.1 L503.9,77.4 L504.9,76.7 L504.9,78.9 L505.9,77.8 L505.9,76.2 L506.9,77.0 L506.9,78.0 L507.9,78.0 L507.9,77.1 L508.9,76.5 L508.9,78.1 L509.9,77.5 L509.9,76.4 L510.9,76.3 L510.9,77.6 L511.9,77.8 L511.9,76.4 L512.9,76.8 L512.9,77.9 L513.9,78.5 L513.9,75.5 L514.9,76.0 L514.9,77.5 L515.9,78.4 L515.9,75.3 L516.9,75.3 L516.9,77.7 L517.9,78.0 L517.9,76.4 L518.9,76.4 L518.9,77.3 L519.9,77.7 L519.9,76.0 L520.9,76.9 L520.9,77.9 L521.9,77.7 L521.9,76.5 L522.9,77.0 L522.9,77.6 L523.9,77.6 L523.9,76.2 L524.9,76.7 L524.9,77.7 L525.9,78.4 L525.9,77.4 L526.9,77.8 L526.9,78.9 L527.9,78.9 L527.9,77.1 L528.9,76.6 L528.9,77.9 L529.9,77.3 L529.9,76.2 L530.9,77.2 L530.9,78.1 L531.9,78.2 L531.9,77.3 L532.9,77.2 L532.9,78.1 L533.9,78.5 L533.9,77.1 L534.9,76.4 L534.9,77.8 L535.9,78.2 L535.9,76.4 L536.9,77.6 L536.9,77.8 L537.9,78.0 L537.9,75.9 L538.9,76.3 L538.9,78.3 L539.9,78.0 L539.9,75.2 L540.9,76.1 L540.9,77.2 L541.4,77.3" fill="none" stroke="#d62728" stroke-width="2.08" stroke-linejoin="round" stroke-linecap="butt"/>
<path d="M88.6,75.0 L89.1,72.8 L89.1,75.8 L90.1,75.6 L90.1,72.7 L91.1,73.2 L91.1,75.4 L92.1,75.3 L92.1,72.3 L93.1,74.9 L93.1,76.4 L94.1,76.6 L94.1,74.9 L95.1,73.1 L95.1,76.6 L96.1,75.1 L96.1,74.2 L97.1,74.1 L97.1,76.0 L98.1,75.6 L98.1,73.8 L99.1,74.5 L99.1,75.8 L100.1,76.8 L100.1,74.1 L101.1,71.7 L101.1,76.8 L102.1,76.9 L102.1,73.9 L103.1,74.1 L103.1,76.5 L104.1,78.2 L104.1,74.8 L105.1,74.5 L105.1,75.8 L106.1,75.3 L106.1,73.1 L107.1,74.9 L107.1,76.3 L108.1,77.0 L108.1,75.5 L109.1,75.0 L109.1,76.4 L110.1,74.4 L110.1,73.4 L111.1,74.5 L111.1,75.3 L112.1,75.9 L112.1,73.9 L113.1,73.7 L113.1,75.3 L114.1,75.6 L114.1,73.7 L115.1,74.6 L115.1,75.6 L116.1,75.7 L116.1,74.3 L117.1,75.3 L117.1,76.8 L118.1,77.3 L118.1,74.7 L119.1,74.3 L119.1,76.4 L120.1,75.2 L120.1,74.1 L121.1,75.4 L121.1,77.0 L122.1,75.9 L122.1,74.5 L123.1,74.7 L123.1,77.4 L124.1,77.4 L124.1,75.3 L125.1,74.7 L125.1,75.4 L126.1,77.3 L126.1,75.0 L127.1,74.3 L127.1,75.6 L128.1,76.9 L128.1,75.8 L129.1,74.2 L129.1,77.6 L130.1,75.4 L130.1,74.1 L131.1,74.6 L131.1,75.1 L132.1,77.5 L132.1,75.4 L133.1,75.2 L133.1,75.8 L134.1,75.9 L134.1,73.5 L135.1,73.7 L135.1,76.9 L136.1,77.5 L136.1,75.8 L137.1,75.3 L137.1,76.7 L138.1,75.8 L138.1,75.2 L139.1,74.2 L139.1,77.0 L140.1,76.7 L140.1,75.3 L141.1,73.7 L141.1,76.0 L142.1,76.6 L142.1,74.4 L143.1,75.3 L143.1,76.5 L144.1,75.9 L144.1,74.9 L145.1,75.8 L145.1,76.9 L146.1,77.0 L146.1,75.2 L147.1,74.9 L147.1,77.2 L148.1,75.8 L148.1,74.9 L149.1,73.9 L149.1,76.1 L150.1,76.0 L150.1,73.5 L151.1,75.2 L151.1,75.7 L152.1,77.1 L152.1,73.7 L153.1,76.2 L153.1,76.8 L154.1,77.5 L154.1,76.6 L155.1,75.9 L155.1,76.3 L156.1,77.4 L156.1,75.6 L157.1,75.7 L157.1,77.1 L158.1,75.5 L158.1,74.5 L159.1,74.7 L159.1,75.5 L160.1,77.1 L160.1,74.1 L161.1,75.7 L161.1,77.0 L162.1,76.6 L162.1,75.1 L163.1,75.6 L163.1,77.5 L164.1,75.5 L164.1,73.8 L165.1,75.7 L165.1,77.6 L166.1,76.1 L166.1,74.6 L167.1,74.9 L167.1,76.8 L168.1,75.7 L168.1,74.0 L169.1,73.9 L169.1,77.0 L170.1,77.5 L170.1,75.8 L171.1,74.8 L171.1,76.5 L172.1,76.4 L172.1,75.1 L173.1,73.5 L173.1,75.6 L174.1,76.4 L174.1,73.5 L175.1,75.1 L175.1,76.1 L176.1,76.6 L176.1,74.4 L177.1,75.5 L177.1,76.6 L178.1,76.7 L178.1,75.6 L179.1,74.9 L179.1,76.6 L180.1,76.9 L180.1,75.1 L181.1,75.7 L181.1,77.1 L182.1,78.0 L182.1,76.8 L183.1,75.9 L183.1,77.9 L184.1,76.8 L184.1,76.2 L185.1,76.0 L185.1,77.0 L186.1,76.0 L186.1,74.9 L187.1,75.4 L187.1,76.8 L188.1,76.8 L188.1,75.8 L189.1,76.0 L189.1,76.5 L190.1,77.1 L190.1,75.7 L191.1,75.3 L191.1,76.5 L192.1,76.7 L192.1,74.2 L193.1,75.4 L193.1,76.9 L194.1,77.0 L194.1,76.0 L195.1,75.8 L195.1,77.0 L196.1,76.8 L196.1,75.6 L197.1,75.6 L197.1,76.7 L198.1,76.3 L198.1,75.3 L199.1,75.5 L199.1,77.6 L200.1,77.0 L200.1,75.6 L201.1,75.7 L201.1,76.6 L202.0,76.6 L202.0,76.2 L203.0,76.3 L203.0,77.6 L204.0,77.0 L204.0,75.0 L205.0,75.9 L205.0,77.0 L206.0,76.8 L206.0,75.2 L207.0,76.2 L207.0,76.8 L208.0,76.0 L208.0,74.2 L209.0,76.4 L209.0,77.0 L210.0,76.0 L210.0,75.3 L211.0,75.2 L211.0,76.5 L212.0,77.5 L212.0,75.0 L213.0,76.1 L213.0,77.7 L214.0,75.8 L214.0,75.4 L215.0,74.7 L215.0,76.4 L216.0,76.1 L216.0,74.9 L217.0,75.9 L217.0,78.1 L218.0,77.2 L218.0,74.5 L219.0,75.5 L219.0,76.5 L220.0,78.4 L220.0,75.3 L221.0,74.5 L221.0,77.4 L222.0,75.3 L222.0,74.5 L223.0,76.0 L223.0,76.6 L224.0,77.5 L224.0,74.7 L225.0,75.9 L225.0,76.6 L226.0,77.5 L226.0,74.7 L227.0,76.9 L227.0,77.3 L228.0,77.6 L228.0,75.1 L229.0,74.7 L229.0,76.3 L230.0,76.7 L230.0,75.5 L231.0,75.0 L231.0,75.5 L232.0,75.7 L232.0,74.5 L233.0,75.2 L233.0,76.7 L234.0,76.9 L234.0,75.6 L235.0,75.8 L235.0,76.8 L236.0,76.2 L236.0,74.9 L237.0,75.3 L237.0,76.2 L238.0,76.3 L238.0,75.3 L239.0,75.0 L239.0,76.9 L240.0,77.0 L240.0,74.8 L241.0,75.6 L241.0,76.9 L242.0,78.3 L242.0,75.1 L243.0,75.8 L243.0,77.1 L244.0,76.4 L244.0,74.8 L245.0,74.8 L245.0,76.2 L246.0,77.1 L246.0,75.6 L247.0,75.0 L247.0,76.3 L248.0,78.0 L248.0,75.5 L249.0,75.5 L249.0,76.5 L250.0,77.5 L250.0,74.7 L251.0,75.4 L251.0,77.2 L252.0,78.3 L252.0,75.7 L253.0,75.9 L253.0,77.7 L254.0,77.6 L254.0,76.5 L255.0,75.0 L255.0,76.3 L256.0,77.3 L256.0,75.2 L257.0,75.2 L257.0,76.6 L258.0,77.5 L258.0,75.9 L259.0,75.5 L259.0,77.3 L260.0,76.5 L260.0,76.0 L261.0,75.3 L261.0,76.3 L262.0,78.0 L262.0,75.9 L263.0,76.0 L263.0,77.2 L264.0,76.7 L264.0,75.3 L265.0,75.7 L265.0,76.4 L266.0,77.2 L266.0,75.1 L267.0,75.0 L267.0,76.3 L268.0,76.0 L268.0,75.1 L269.0,75.5 L269.0,76.4 L270.0,77.9 L270.0,76.0 L271.0,76.6 L271.0,77.6 L272.0,77.5 L272.0,76.3 L273.0,75.3 L273.0,77.1 L274.0,76.2 L274.0,75.6 L275.0,74.9 L275.0,77.0 L276.0,76.7 L276.0,76.1 L277.0,75.6 L277.0,76.9 L278.0,77.4 L278.0,76.1 L279.0,76.6 L279.0,77.3 L280.0,77.0 L280.0,76.7 L281.0,74.5 L281.0,76.7 L282.0,76.7 L282.0,75.9 L283.0,75.1 L283.0,76.9 L284.0,77.0 L284.0,75.4 L285.0,75.4 L285.0,77.0 L286.0,77.3 L286.0,75.8 L287.0,75.0 L287.0,77.7 L288.0,77.7 L288.0,75.4 L289.0,75.8 L289.0,77.6 L290.0,76.9 L290.0,76.3 L291.0,76.3 L291.0,77.2 L292.0,76.5 L292.0,75.5 L293.0,74.6 L293.0,77.6 L294.0,76.8 L294.0,75.0 L295.0,76.2 L295.0,76.6 L296.0,77.2 L296.0,75.2 L297.0,75.7 L297.0,77.4 L298.0,77.0 L298.0,75.4 L299.0,76.2 L299.0,79.1 L300.0,77.7 L300.0,76.9 L301.0,76.0 L301.0,77.6 L302.0,77.7 L302.0,76.0 L303.0,76.2 L303.0,77.3 L304.0,77.0 L304.0,75.9 L305.0,76.5 L305.0,77.7 L306.0,77.8 L306.0,76.7 L307.0,76.3 L307.0,78.2 L308.0,78.3 L308.0,76.9 L309.0,76.6 L309.0,78.1 L310.0,77.3 L310.0,75.9 L311.0,75.5 L311.0,77.0 L312.0,77.3 L312.0,76.0 L313.0,76.2 L313.0,77.2 L314.0,77.6 L314.0,76.3 L315.0,75.6 L315.0,76.4 L316.0,76.6 L316.0,75.2 L317.0,75.4 L317.0,76.1 L318.0,77.0 L318.0,75.1 L319.0,75.9 L319.0,78.4 L320.0,77.2 L320.0,76.1 L321.0,75.5 L321.0,76.5 L322.0,76.7 L322.0,75.8 L323.0,75.8 L323.0,76.7 L324.0,76.8 L324.0,76.3 L325.0,76.0 L325.0,77.1 L326.0,77.6 L326.0,76.2 L327.0,76.2 L327.0,77.8 L328.0,77.6 L328.0,76.7 L329.0,76.1 L329.0,76.7 L330.0,77.4 L330.0,75.7 L331.0,75.4 L331.0,77.5 L332.0,78.2 L332.0,75.6 L333.0,75.5 L333.0,77.3 L334.0,77.4 L334.0,75.8 L335.0,75.5 L335.0,77.4 L336.0,76.5 L336.0,76.2 L337.0,76.1 L337.0,77.2 L338.0,77.7 L338.0,76.8 L339.0,74.4 L339.0,76.6 L340.0,77.2 L340.0,75.2 L341.0,75.9 L341.0,77.4 L342.0,76.6 L342.0,75.9 L343.0,76.2 L343.0,77.6 L344.0,76.8 L344.0,76.3 L345.0,76.5 L345.0,77.6 L346.0,76.7 L346.0,75.5 L347.0,75.9 L347.0,76.8 L348.0,76.7 L348.0,76.2 L349.0,74.6 L349.0,77.1 L350.0,78.1 L350.0,75.4 L351.0,76.1 L351.0,77.6 L352.0,77.4 L352.0,76.5 L353.0,76.1 L353.0,77.3 L354.0,77.9 L354.0,76.2 L355.0,76.2 L355.0,77.3 L356.0,78.3 L356.0,76.1 L357.0,75.8 L357.0,76.7 L358.0,76.8 L358.0,75.3 L359.0,74.9 L359.0,78.1 L360.0,77.9 L360.0,75.9 L361.0,75.5 L361.0,76.8 L362.0,76.9 L362.0,74.8 L363.0,76.3 L363.0,77.2 L364.0,78.4 L364.0,76.3 L365.0,75.7 L365.0,76.6 L366.0,76.0 L366.0,75.5 L367.0,75.5 L367.0,76.9 L368.0,76.4 L368.0,76.0 L369.0,75.2 L369.0,77.2 L370.0,76.9 L370.0,75.2 L371.0,75.6 L371.0,77.1 L372.0,76.7 L372.0,76.2 L373.0,76.2 L373.0,76.8 L374.0,77.2 L374.0,76.0 L375.0,77.0 L375.0,77.2 L376.0,77.2 L376.0,76.0 L377.0,75.9 L377.0,78.0 L378.0,77.0 L378.0,75.2 L379.0,75.9 L379.0,77.3 L380.0,77.8 L380.0,75.8 L381.0,74.7 L381.0,77.3 L382.0,77.2 L382.0,75.9 L383.0,76.0 L383.0,76.9 L384.0,78.4 L384.0,75.8 L385.0,75.2 L385.0,76.6 L386.0,77.0 L386.0,75.7 L387.0,76.0 L387.0,77.6 L388.0,77.5 L388.0,77.0 L389.0,75.5 L389.0,76.7 L390.0,76.8 L390.0,75.6 L391.0,75.4 L391.0,77.6 L392.0,77.0 L392.0,75.7 L393.0,75.2 L393.0,77.5 L394.0,77.0 L394.0,75.4 L395.0,76.6 L395.0,77.3 L396.0,77.0 L396.0,76.4 L397.0,75.4 L397.0,77.5 L398.0,76.5 L398.0,76.0 L399.0,75.2 L399.0,76.3 L400.0,76.9 L400.0,75.2 L401.0,75.2 L401.0,77.1 L402.0,77.4 L402.0,76.0 L403.0,75.4 L403.0,77.2 L404.0,77.7 L404.0,76.7 L405.0,75.1 L405.0,76.0 L406.0,77.4 L406.0,75.7 L407.0,74.8 L407.0,76.7 L408.0,76.7 L408.0,76.2 L409.0,74.1 L409.0,77.5 L410.0,76.6 L410.0,75.5 L411.0,75.2 L411.0,76.7 L412.0,77.3 L412.0,76.1 L413.0,74.9 L413.0,77.2 L414.0,76.9 L414.0,75.7 L415.0,75.7 L415.0,76.9 L416.0,77.1 L416.0,76.0 L417.0,76.1 L417.0,76.7 L418.0,77.3 L418.0,76.2 L419.0,75.8 L419.0,76.5 L420.0,77.7 L420.0,76.6 L421.0,76.3 L421.0,77.2 L422.0,77.4 L422.0,75.9 L423.0,75.5 L423.0,76.5 L424.0,76.8 L424.0,75.8 L425.0,75.7 L425.0,77.4 L426.0,78.4 L426.0,76.5 L427.0,75.2 L427.0,77.2 L428.0,77.4 L428.0,75.8 L428.9,75.7 L428.9,76.9 L429.9,76.3 L429.9,75.2 L430.9,74.3 L430.9,76.0 L431.9,77.2 L431.9,74.1 L432.9,74.9 L432.9,76.3 L433.9,76.0 L433.9,75.2 L434.9,74.9 L434.9,76.6 L435.9,76.8 L435.9,75.7 L436.9,75.6 L436.9,77.3 L437.9,77.4 L437.9,76.0 L438.9,75.3 L438.9,76.9 L439.9,77.2 L439.9,76.0 L440.9,75.6 L440.9,77.0 L441.9,77.6 L441.9,76.5 L442.9,76.2 L442.9,77.3 L443.9,77.2 L443.9,76.0 L444.9,75.5 L444.9,76.5 L445.9,77.8 L445.9,76.6 L446.9,76.2 L446.9,76.6 L447.9,76.3 L447.9,74.6 L448.9,76.0 L448.9,76.9 L449.9,77.1 L449.9,76.3 L450.9,75.6 L450.9,76.3 L451.9,77.1 L451.9,75.5 L452.9,75.9 L452.9,76.9 L453.9,78.1 L453.9,75.7 L454.9,75.9 L454.9,77.5 L455.9,78.4 L455.9,77.1 L456.9,76.0 L456.9,77.9 L457.9,77.0 L457.9,75.9 L458.9,76.0 L458.9,77.3 L459.9,77.7 L459.9,76.0 L460.9,76.0 L460.9,76.5 L461.9,76.8 L461.9,75.6 L462.9,74.5 L462.9,75.4 L463.9,77.2 L463.9,75.6 L464.9,75.3 L464.9,76.0 L465.9,77.5 L465.9,76.1 L466.9,76.2 L466.9,78.3 L467.9,77.0 L467.9,75.7 L468.9,75.0 L468.9,76.9 L469.9,77.0 L469.9,75.8 L470.9,76.9 L470.9,77.3 L471.9,77.6 L471.9,75.9 L472.9,76.6 L472.9,77.9 L473.9,77.3 L473.9,76.0 L474.9,75.9 L474.9,77.0 L475.9,77.4 L475.9,76.0 L476.9,75.7 L476.9,77.5 L477.9,77.1 L477.9,75.7 L478.9,75.2 L478.9,76.7 L479.9,77.3 L479.9,76.1 L480.9,75.2 L480.9,77.2 L481.9,76.8 L481.9,76.2 L482.9,75.3 L482.9,76.9 L483.9,77.6 L483.9,76.2 L484.9,76.0 L484.9,78.4 L485.9,77.1 L485.9,76.5 L486.9,76.0 L486.9,76.5 L487.9,77.7 L487.9,76.4 L488.9,75.3 L488.9,76.2 L489.9,76.8 L489.9,75.1 L490.9,75.0 L490.9,77.5 L491.9,76.4 L491.9,75.5 L492.9,76.1 L492.9,77.6 L493.9,77.2 L493.9,76.4 L494.9,75.8 L494.9,77.4 L495.9,77.2 L495.9,75.5 L496.9,76.0 L496.9,76.3 L497.9,77.4 L497.9,75.6 L498.9,75.9 L498.9,76.7 L499.9,77.2 L499.9,75.6 L500.9,74.5 L500.9,76.0 L501.9,78.2 L501.9,76.4 L502.9,75.2 L502.9,76.7 L503.9,77.0 L503.9,75.6 L504.9,77.0 L504.9,77.5 L505.9,77.8 L505.9,76.1 L506.9,74.9 L506.9,77.2 L507.9,76.3 L507.9,75.6 L508.9,76.9 L508.9,78.0 L509.9,77.0 L509.9,75.3 L510.9,75.5 L510.9,76.3 L511.9,76.6 L511.9,75.4 L512.9,75.9 L512.9,77.9 L513.9,77.0 L513.9,75.5 L514.9,75.9 L514.9,76.8 L515.9,77.4 L515.9,75.9 L516.9,75.8 L516.9,76.9 L517.9,77.6 L517.9,76.0 L518.9,75.6 L518.9,77.4 L519.9,77.3 L519.9,75.1 L520.9,75.9 L520.9,77.1 L521.9,77.4 L521.9,76.1 L522.9,76.4 L522.9,77.5 L523.9,77.7 L523.9,76.7 L524.9,76.3 L524.9,77.3 L525.9,77.6 L525.9,76.5 L526.9,75.8 L526.9,77.2 L527.9,77.2 L527.9,76.1 L528.9,76.1 L528.9,77.4 L529.9,76.9 L529.9,76.3 L530.9,75.4 L530.9,76.5 L531.9,77.9 L531.9,75.0 L532.9,76.1 L532.9,77.2 L533.9,77.4 L533.9,76.2 L534.9,76.1 L534.9,76.9 L535.9,77.2 L535.9,76.1 L536.9,75.2 L536.9,76.5 L537.9,76.9 L537.9,75.6 L538.9,75.9 L538.9,76.4 L539.9,77.8 L539.9,76.0 L540.9,76.1 L540.9,76.5 L541.4,76.5" fill="none" stroke="#9467bd" stroke-width="2.08" stroke-linejoin="round" stroke-linecap="butt"/>
<path d="M88.6,84.5 L89.1,77.8 L89.1,84.3 L90.1,77.8 L90.1,74.9 L91.1,73.2 L91.1,76.4 L92.1,76.7 L92.1,74.0 L93.1,74.8 L93.1,76.2 L94.1,76.9 L94.1,75.6 L95.1,74.8 L95.1,77.5 L96.1,76.0 L96.1,74.5 L97.1,73.8 L97.1,76.2 L98.1,76.9 L98.1,73.9 L99.1,73.0 L99.1,77.1 L100.1,76.2 L100.1,73.7 L101.1,75.2 L101.1,76.0 L102.1,76.0 L102.1,75.0 L103.1,72.7 L103.1,76.0 L104.1,76.2 L104.1,73.9 L105.1,73.3 L105.1,75.6 L106.1,76.8 L106.1,74.9 L107.1,73.8 L107.1,76.0 L108.1,77.1 L108.1,75.1 L109.1,74.7 L109.1,76.0 L110.1,77.1 L110.1,73.3 L111.1,75.6 L111.1,77.0 L112.1,78.6 L112.1,76.7 L113.1,76.2 L113.1,77.4 L114.1,77.6 L114.1,76.3 L115.1,73.9 L115.1,76.6 L116.1,77.1 L116.1,74.6 L117.1,74.8 L117.1,77.0 L118.1,76.9 L118.1,74.8 L119.1,75.8 L119.1,78.3 L120.1,76.7 L120.1,76.2 L121.1,76.4 L121.1,78.1 L122.1,76.9 L122.1,75.1 L123.1,75.7 L123.1,76.5 L124.1,76.4 L124.1,74.6 L125.1,75.5 L125.1,77.6 L126.1,77.7 L126.1,75.8 L127.1,74.8 L127.1,76.4 L128.1,76.4 L128.1,75.5 L129.1,75.5 L129.1,77.0 L130.1,76.6 L130.1,75.5 L131.1,74.4 L131.1,74.7 L132.1,76.4 L132.1,74.8 L133.1,74.6 L133.1,76.8 L134.1,76.7 L134.1,74.7 L135.1,75.9 L135.1,77.2 L136.1,76.4 L136.1,75.3 L137.1,75.3 L137.1,76.2 L138.1,76.7 L138.1,75.0 L139.1,75.4 L139.1,76.4 L140.1,76.4 L140.1,74.3 L141.1,75.3 L141.1,77.3 L142.1,77.1 L142.1,74.5 L143.1,76.2 L143.1,77.8 L144.1,76.8 L144.1,76.0 L145.1,75.3 L145.1,78.7 L146.1,77.3 L146.1,75.7 L147.1,75.1 L147.1,75.9 L148.1,76.6 L148.1,74.8 L149.1,73.7 L149.1,76.3 L150.1,77.4 L150.1,74.5 L151.1,75.0 L151.1,77.7 L152.1,75.9 L152.1,73.3 L153.1,75.8 L153.1,76.6 L154.1,76.8 L154.1,74.2 L155.1,74.9 L155.1,75.9 L156.1,76.6 L156.1,75.3 L157.1,75.8 L157.1,77.3 L158.1,78.1 L158.1,75.8 L159.1,75.4 L159.1,76.5 L160.1,76.3 L160.1,75.0 L161.1,74.6 L161.1,76.7 L162.1,76.1 L162.1,74.8 L163.1,75.4 L163.1,77.6 L164.1,77.2 L164.1,75.9 L165.1,76.3 L165.1,77.7 L166.1,76.9 L166.1,75.7 L167.1,73.9 L167.1,76.9 L168.1,76.8 L168.1,75.7 L169.1,75.5 L169.1,77.0 L170.1,77.0 L170.1,74.7 L171.1,76.5 L171.1,77.8 L172.1,77.6 L172.1,76.0 L173.1,75.7 L173.1,77.4 L174.1,76.4 L174.1,74.8 L175.1,74.8 L175.1,76.6 L176.1,77.9 L176.1,76.8 L177.1,75.5 L177.1,77.2 L178.1,77.8 L178.1,76.0 L179.1,74.9 L179.1,77.1 L180.1,76.4 L180.1,75.1 L181.1,75.9 L181.1,76.9 L182.1,76.8 L182.1,75.9 L183.1,75.3 L183.1,77.1 L184.1,77.6 L184.1,75.6 L185.1,75.4 L185.1,77.3 L186.1,76.5 L186.1,75.1 L187.1,75.3 L187.1,76.1 L188.1,76.8 L188.1,74.9 L189.1,75.8 L189.1,77.1 L190.1,77.0 L190.1,75.5 L191.1,75.0 L191.1,76.6 L192.1,76.8 L192.1,75.7 L193.1,75.5 L193.1,76.7 L194.1,76.9 L194.1,75.1 L195.1,74.2 L195.1,76.5 L196.1,76.5 L196.1,74.3 L197.1,76.1 L197.1,77.2 L198.1,76.9 L198.1,75.5 L199.1,75.9 L199.1,76.9 L200.1,77.2 L200.1,75.8 L201.1,74.1 L201.1,75.7 L202.0,77.3 L202.0,74.9 L203.0,74.5 L203.0,75.7 L204.0,75.9 L204.0,74.5 L205.0,76.1 L205.0,77.8 L206.0,77.8 L206.0,75.6 L207.0,75.8 L207.0,77.3 L208.0,77.4 L208.0,76.4 L209.0,76.8 L209.0,77.5 L210.0,77.6 L210.0,76.1 L211.0,75.0 L211.0,77.3 L212.0,77.9 L212.0,74.6 L213.0,76.9 L213.0,78.2 L214.0,76.8 L214.0,76.0 L215.0,75.7 L215.0,77.2 L216.0,76.9 L216.0,75.3 L217.0,76.2 L217.0,78.1 L218.0,78.0 L218.0,75.9 L219.0,76.0 L219.0,77.8 L220.0,76.7 L220.0,75.2 L221.0,76.0 L221.0,76.7 L222.0,77.1 L222.0,75.7 L223.0,76.5 L223.0,77.7 L224.0,75.4 L224.0,75.1 L225.0,75.7 L225.0,77.0 L226.0,77.0 L226.0,75.7 L227.0,75.7 L227.0,76.9 L228.0,77.5 L228.0,75.9 L229.0,76.6 L229.0,77.3 L230.0,77.2 L230.0,77.0 L231.0,75.9 L231.0,76.3 L232.0,76.8 L232.0,75.8 L233.0,76.3 L233.0,77.9 L234.0,77.9 L234.0,76.3 L235.0,75.9 L235.0,77.1 L236.0,77.0 L236.0,76.3 L237.0,75.1 L237.0,76.2 L238.0,76.0 L238.0,75.4 L239.0,75.4 L239.0,76.5 L240.0,78.7 L240.0,75.5 L241.0,75.7 L241.0,76.4 L242.0,77.1 L242.0,76.2 L243.0,75.6 L243.0,77.0 L244.0,77.7 L244.0,75.8 L245.0,75.0 L245.0,77.3 L246.0,77.1 L246.0,75.8 L247.0,76.2 L247.0,77.8 L248.0,76.7 L248.0,75.4 L249.0,75.7 L249.0,77.5 L250.0,76.7 L250.0,75.6 L251.0,75.4 L251.0,77.0 L252.0,76.8 L252.0,75.0 L253.0,75.4 L253.0,77.1 L254.0,76.3 L254.0,75.7 L255.0,75.1 L255.0,76.3 L256.0,76.8 L256.0,75.5 L257.0,74.7 L257.0,76.9 L258.0,77.3 L258.0,75.6 L259.0,75.9 L259.0,77.2 L260.0,77.1 L260.0,76.7 L261.0,76.0 L261.0,77.3 L262.0,76.6 L262.0,75.6 L263.0,74.3 L263.0,77.0 L264.0,75.6 L264.0,75.3 L265.0,76.3 L265.0,76.8 L266.0,76.9 L266.0,76.0 L267.0,76.1 L267.0,77.1 L268.0,77.7 L268.0,75.6 L269.0,75.2 L269.0,77.5 L270.0,77.3 L270.0,76.7 L271.0,76.0 L271.0,77.2 L272.0,77.4 L272.0,75.9 L273.0,76.2 L273.0,77.3 L274.0,77.3 L274.0,76.3 L275.0,76.6 L275.0,77.9 L276.0,78.0 L276.0,75.3 L277.0,76.0 L277.0,77.8 L278.0,77.1 L278.0,75.8 L279.0,76.3 L279.0,77.3 L280.0,76.9 L280.0,74.6 L281.0,75.3 L281.0,77.4 L282.0,76.8 L282.0,75.8 L283.0,75.4 L283.0,78.1 L284.0,77.4 L284.0,74.9 L285.0,75.3 L285.0,76.8 L286.0,77.2 L286.0,76.3 L287.0,76.1 L287.0,77.5 L288.0,76.6 L288.0,75.6 L289.0,75.7 L289.0,77.3 L290.0,77.5 L290.0,76.2 L291.0,76.1 L291.0,77.1 L292.0,76.7 L292.0,75.2 L293.0,75.5 L293.0,77.2 L294.0,78.0 L294.0,76.4 L295.0,76.0 L295.0,76.9 L296.0,76.9 L296.0,75.6 L297.0,74.5 L297.0,77.3 L298.0,77.5 L298.0,76.8 L299.0,76.2 L299.0,78.6 L300.0,77.4 L300.0,75.2 L301.0,76.0 L301.0,77.0 L302.0,78.3 L302.0,75.6 L303.0,75.7 L303.0,76.4 L304.0,76.7 L304.0,75.1 L305.0,75.9 L305.0,76.8 L306.0,76.8 L306.0,75.7 L307.0,76.3 L307.0,77.4 L308.0,77.4 L308.0,76.7 L309.0,74.7 L309.0,76.5 L310.0,77.2 L310.0,75.8 L311.0,75.8 L311.0,77.3 L312.0,77.4 L312.0,75.2 L313.0,75.7 L313.0,77.0 L314.0,77.4 L314.0,76.3 L315.0,76.6 L315.0,77.7 L316.0,77.5 L316.0,77.2 L317.0,75.6 L317.0,77.0 L318.0,77.4 L318.0,75.8 L319.0,76.5 L319.0,77.5 L320.0,77.5 L320.0,76.3 L321.0,76.7 L321.0,78.0 L322.0,78.7 L322.0,76.2 L323.0,76.5 L323.0,77.4 L324.0,77.9 L324.0,75.7 L325.0,76.2 L325.0,78.2 L326.0,77.0 L326.0,76.3 L327.0,76.5 L327.0,77.3 L328.0,77.1 L328.0,76.2 L329.0,75.7 L329.0,76.5 L330.0,77.7 L330.0,76.5 L331.0,75.3 L331.0,77.4 L332.0,77.3 L332.0,75.9 L333.0,75.7 L333.0,77.3 L334.0,77.0 L334.0,74.7 L335.0,74.9 L335.0,76.2 L336.0,77.0 L336.0,74.4 L337.0,75.9 L337.0,77.1 L338.0,77.2 L338.0,76.0 L339.0,76.4 L339.0,78.9 L340.0,77.3 L340.0,76.6 L341.0,75.9 L341.0,77.3 L342.0,76.8 L342.0,75.3 L343.0,76.5 L343.0,77.8 L344.0,77.3 L344.0,75.9 L345.0,76.1 L345.0,77.3 L346.0,78.4 L346.0,76.4 L347.0,75.9 L347.0,77.0 L348.0,78.1 L348.0,76.5 L349.0,75.9 L349.0,77.1 L350.0,77.2 L350.0,76.3 L351.0,76.2 L351.0,78.4 L352.0,76.8 L352.0,76.3 L353.0,76.1 L353.0,77.8 L354.0,78.0 L354.0,76.2 L355.0,76.1 L355.0,77.7 L356.0,77.8 L356.0,76.2 L357.0,76.2 L357.0,77.5 L358.0,78.1 L358.0,76.3 L359.0,76.5 L359.0,78.5 L360.0,77.1 L360.0,76.3 L361.0,75.1 L361.0,77.5 L362.0,76.4 L362.0,75.5 L363.0,76.3 L363.0,76.9 L364.0,77.6 L364.0,76.8 L365.0,76.0 L365.0,77.9 L366.0,78.2 L366.0,76.1 L367.0,76.1 L367.0,77.1 L368.0,77.1 L368.0,75.3 L369.0,75.1 L369.0,76.7 L370.0,76.9 L370.0,75.7 L371.0,76.0 L371.0,77.4 L372.0,77.8 L372.0,75.8 L373.0,75.5 L373.0,77.0 L374.0,76.6 L374.0,75.9 L375.0,76.5 L375.0,77.5 L376.0,77.4 L376.0,76.8 L377.0,76.2 L377.0,77.7 L378.0,77.0 L378.0,76.3 L379.0,75.1 L379.0,77.5 L380.0,77.4 L380.0,76.8 L381.0,76.9 L381.0,77.7 L382.0,78.1 L382.0,76.4 L383.0,76.5 L383.0,77.2 L384.0,77.8 L384.0,76.4 L385.0,76.2 L385.0,77.6 L386.0,77.0 L386.0,75.4 L387.0,75.7 L387.0,76.5 L388.0,77.9 L388.0,75.7 L389.0,76.3 L389.0,77.3 L390.0,77.6 L390.0,77.0 L391.0,75.9 L391.0,78.0 L392.0,78.0 L392.0,75.9 L393.0,75.4 L393.0,77.4 L394.0,76.6 L394.0,75.6 L395.0,76.1 L395.0,76.8 L396.0,76.6 L396.0,76.0 L397.0,75.0 L397.0,76.4 L398.0,77.3 L398.0,75.5 L399.0,75.4 L399.0,76.1 L400.0,76.8 L400.0,75.3 L401.0,75.3 L401.0,76.5 L402.0,77.0 L402.0,75.5 L403.0,75.5 L403.0,76.3 L404.0,77.1 L404.0,75.9 L405.0,75.6 L405.0,77.9 L406.0,77.2 L406.0,76.0 L407.0,76.5 L407.0,77.5 L408.0,77.6 L408.0,77.0 L409.0,75.3 L409.0,77.6 L410.0,77.3 L410.0,75.8 L411.0,75.8 L411.0,76.2 L412.0,76.3 L412.0,75.1 L413.0,76.4 L413.0,77.6 L414.0,78.6 L414.0,76.0 L415.0,76.5 L415.0,76.8 L416.0,76.5 L416.0,75.2 L417.0,75.9 L417.0,77.4 L418.0,75.9 L418.0,75.4 L419.0,75.9 L419.0,76.5 L420.0,76.8 L420.0,76.3 L421.0,74.9 L421.0,76.7 L422.0,76.6 L422.0,76.0 L423.0,75.9 L423.0,77.1 L424.0,77.4 L424.0,76.2 L425.0,76.5 L425.0,77.0 L426.0,76.4 L426.0,75.7 L427.0,75.4 L427.0,76.7 L428.0,77.0 L428.0,76.0 L428.9,76.1 L428.9,76.7 L429.9,77.3 L429.9,75.4 L430.9,75.8 L430.9,77.1 L431.9,76.7 L431.9,75.5 L432.9,75.6 L432.9,76.5 L433.9,77.1 L433.9,75.8 L434.9,76.3 L434.9,77.7 L435.9,77.4 L435.9,75.5 L436.9,76.4 L436.9,77.2 L437.9,77.0 L437.9,75.9 L438.9,75.5 L438.9,77.2 L439.9,77.4 L439.9,76.1 L440.9,76.0 L440.9,77.1 L441.9,77.1 L441.9,76.1 L442.9,75.5 L442.9,77.0 L443.9,77.7 L443.9,76.0 L444.9,75.9 L444.9,76.7 L445.9,77.4 L445.9,75.7 L446.9,75.0 L446.9,77.1 L447.9,77.2 L447.9,76.9 L448.9,77.2 L448.9,78.1 L449.9,77.4 L449.9,76.0 L450.9,75.6 L450.9,77.7 L451.9,76.1 L451.9,74.9 L452.9,76.2 L452.9,77.8 L453.9,77.2 L453.9,76.5 L454.9,75.8 L454.9,78.5 L455.9,78.0 L455.9,76.4 L456.9,75.5 L456.9,76.8 L457.9,77.1 L457.9,75.6 L458.9,76.0 L458.9,77.4 L459.9,77.8 L459.9,76.2 L460.9,76.3 L460.9,77.4 L461.9,76.4 L461.9,75.5 L462.9,75.5 L462.9,76.2 L463.9,76.9 L463.9,74.8 L464.9,75.7 L464.9,76.7 L465.9,76.8 L465.9,75.6 L466.9,76.1 L466.9,76.9 L467.9,76.8 L467.9,75.7 L468.9,75.7 L468.9,78.1 L469.9,77.5 L469.9,76.5 L470.9,75.7 L470.9,77.1 L471.9,77.4 L471.9,75.1 L472.9,76.6 L472.9,77.2 L473.9,78.0 L473.9,76.5 L474.9,76.3 L474.9,76.9 L475.9,76.7 L475.9,75.5 L476.9,75.7 L476.9,77.5 L477.9,76.8 L477.9,76.5 L478.9,76.2 L478.9,78.4 L479.9,77.4 L479.9,76.6 L480.9,76.1 L480.9,77.5 L481.9,77.6 L481.9,76.1 L482.9,75.0 L482.9,76.7 L483.9,76.9 L483.9,74.4 L484.9,74.7 L484.9,77.2 L485.9,77.2 L485.9,75.5 L486.9,76.4 L486.9,77.3 L487.9,77.1 L487.9,76.4 L488.9,76.3 L488.9,77.4 L489.9,77.0 L489.9,75.8 L490.9,75.4 L490.9,77.3 L491.9,77.8 L491.9,76.0 L492.9,75.5 L492.9,76.8 L493.9,77.3 L493.9,75.6 L494.9,76.4 L494.9,77.4 L495.9,76.9 L495.9,75.2 L496.9,76.1 L496.9,77.3 L497.9,76.5 L497.9,75.3 L498.9,76.4 L498.9,77.8 L499.9,77.4 L499.9,75.8 L500.9,76.0 L500.9,76.6 L501.9,77.2 L501.9,75.7 L502.9,76.4 L502.9,77.0 L503.9,77.3 L503.9,76.7 L504.9,75.8 L504.9,77.4 L505.9,77.6 L505.9,76.1 L506.9,76.4 L506.9,77.4 L507.9,77.2 L507.9,76.5 L508.9,75.0 L508.9,76.9 L509.9,76.7 L509.9,74.3 L510.9,76.0 L510.9,77.3 L511.9,76.7 L511.9,75.9 L512.9,76.5 L512.9,78.1 L513.9,77.5 L513.9,76.6 L514.9,76.4 L514.9,77.9 L515.9,76.6 L515.9,74.9 L516.9,76.1 L516.9,76.6 L517.9,77.9 L517.9,77.1 L518.9,76.2 L518.9,77.8 L519.9,76.6 L519.9,76.3 L520.9,75.9 L520.9,76.9 L521.9,77.7 L521.9,76.8 L522.9,76.1 L522.9,77.4 L523.9,77.5 L523.9,75.3 L524.9,75.5 L524.9,76.7 L525.9,77.7 L525.9,75.6 L526.9,75.7 L526.9,77.5 L527.9,78.0 L527.9,76.0 L528.9,76.2 L528.9,77.2 L529.9,77.6 L529.9,76.1 L530.9,76.0 L530.9,76.6 L531.9,77.1 L531.9,76.7 L532.9,75.8 L532.9,76.7 L533.9,76.7 L533.9,75.5 L534.9,75.2 L534.9,76.8 L535.9,77.5 L535.9,76.2 L536.9,76.3 L536.9,77.3 L537.9,77.5 L537.9,76.6 L538.9,75.4 L538.9,77.6 L539.9,77.2 L539.9,75.9 L540.9,75.9 L540.9,76.9 L541.4,76.6" fill="none" stroke="#8c564b" stroke-width="2.08" stroke-linejoin="round" stroke-linecap="butt"/>
</g>
<rect x="66.6" y="37.4" width="149.9" height="129.7" rx="2.8" fill="#fff" fill-opacity="0.8" stroke="#ccc" stroke-opacity="0.8" stroke-width="1"/>
<path d="M71.0,48.9 H101.0" stroke="#1f77b4" stroke-width="2.08" fill="none"/>
<text x="110.7" y="53.5" font-size="14.2" text-anchor="start" textLength="100.5" lengthAdjust="spacingAndGlyphs">Uncorrected X</text>
<path d="M71.0,69.7 H101.0" stroke="#ff7f0e" stroke-width="2.08" fill="none"/>
<text x="110.7" y="74.3" font-size="14.2" text-anchor="start" textLength="99.5" lengthAdjust="spacingAndGlyphs">Uncorrected Y</text>
<path d="M71.0,90.5 H101.0" stroke="#2ca02c" stroke-width="2.08" fill="none"/>
<text x="110.7" y="95.1" font-size="14.2" text-anchor="start" textLength="99.5" lengthAdjust="spacingAndGlyphs">Uncorrected Z</text>
<path d="M71.0,111.3 H101.0" stroke="#d62728" stroke-width="2.08" fill="none"/>
<text x="110.7" y="115.9" font-size="14.2" text-anchor="start" textLength="83.5" lengthAdjust="spacingAndGlyphs">Corrected X</text>
<path d="M71.0,132.1 H101.0" stroke="#9467bd" stroke-width="2.08" fill="none"/>
<text x="110.7" y="136.7" font-size="14.2" text-anchor="start" textLength="82.5" lengthAdjust="spacingAndGlyphs">Corrected Y</text>
<path d="M71.0,152.9 H101.0" stroke="#8c564b" stroke-width="2.08" fill="none"/>
<text x="110.7" y="157.6" font-size="14.2" text-anchor="start" textLength="82.5" lengthAdjust="spacingAndGlyphs">Corrected Z</text>
<rect x="59.5" y="30.5" width="648.0" height="170.0" fill="none" stroke="#000" stroke-width="1.1"/>
<path d="M59.5,34.5 h-4.9 M59.5,76.5 h-4.9 M59.5,119.5 h-4.9 M59.5,161.5 h-4.9 M707.5,47.5 h4.9 M707.5,102.5 h4.9 M707.5,157.5 h4.9 M84.5,200.5 v4.9 M199.5,200.5 v4.9 M315.5,200.5 v4.9 M431.5,200.5 v4.9 M547.5,200.5 v4.9 M663.5,200.5 v4.9" stroke="#000" stroke-width="1.1" fill="none"/>
<text x="49.2" y="39.3" font-size="14.2" text-anchor="end" textLength="20.3" lengthAdjust="spacingAndGlyphs">0.1</text>
<text x="49.2" y="81.8" font-size="14.2" text-anchor="end" textLength="20.3" lengthAdjust="spacingAndGlyphs">0.0</text>
<text x="49.2" y="124.3" font-size="14.2" text-anchor="end" textLength="31.9" lengthAdjust="spacingAndGlyphs">−0.1</text>
<text x="49.2" y="166.6" font-size="14.2" text-anchor="end" textLength="31.9" lengthAdjust="spacingAndGlyphs">−0.2</text>
<text x="716.4" y="52.2" font-size="14.2" text-anchor="start" textLength="16.1" lengthAdjust="spacingAndGlyphs">60</text>
<text x="716.4" y="107.4" font-size="14.2" text-anchor="start" textLength="16.1" lengthAdjust="spacingAndGlyphs">40</text>
<text x="716.4" y="162.8" font-size="14.2" text-anchor="start" textLength="16.1" lengthAdjust="spacingAndGlyphs">20</text>
<text x="382.7" y="22.2" font-size="17.0" text-anchor="middle" textLength="178.3" lengthAdjust="spacingAndGlyphs">IMU[0] Accel (m/s^2)</text>
<g clip-path="url(#c0)"><path d="M88.6,191.5 L90.6,190.2 L92.6,189.0 L94.6,187.7 L96.6,186.5 L98.6,185.3 L100.6,184.1 L102.6,182.9 L104.6,181.7 L106.6,180.5 L108.6,179.3 L110.6,178.2 L112.6,177.0 L114.6,175.9 L116.6,174.7 L118.6,173.6 L120.6,172.4 L122.6,171.3 L124.6,170.2 L126.6,169.1 L128.6,168.0 L130.6,166.9 L132.6,165.8 L134.6,164.7 L136.6,163.7 L138.6,162.6 L140.6,161.5 L142.6,160.5 L144.6,159.4 L146.6,158.4 L148.6,157.4 L150.6,156.3 L152.6,155.3 L154.6,154.3 L156.6,153.3 L158.6,152.3 L160.6,151.3 L162.6,150.3 L164.6,149.4 L166.6,148.4 L168.6,147.4 L170.6,146.5 L172.6,145.5 L174.6,144.6 L176.6,143.6 L178.6,142.7 L180.6,141.8 L182.6,140.9 L184.6,139.9 L186.6,139.0 L188.6,138.1 L190.6,137.2 L192.6,136.3 L194.6,135.4 L196.6,134.6 L198.6,133.7 L200.6,132.8 L202.6,132.0 L204.6,131.1 L206.6,130.2 L208.6,129.4 L210.6,128.5 L212.6,127.7 L214.6,126.9 L216.6,126.0 L218.6,125.2 L220.6,124.4 L222.6,123.6 L224.6,122.8 L226.6,122.0 L228.6,121.2 L230.6,120.4 L232.6,119.6 L234.6,118.8 L236.6,118.0 L238.6,117.2 L240.6,116.5 L242.6,115.7 L244.6,114.9 L246.6,114.2 L248.6,113.4 L250.6,112.7 L252.6,111.9 L254.6,111.2 L256.6,110.4 L258.6,109.7 L260.6,109.0 L262.6,108.2 L264.6,107.5 L266.6,106.8 L268.6,106.1 L270.6,105.4 L272.6,104.7 L274.6,104.0 L276.6,103.3 L278.6,102.6 L280.6,101.9 L282.6,101.2 L284.6,100.5 L286.6,99.8 L288.6,99.1 L290.6,98.4 L292.6,97.8 L294.6,97.1 L296.6,96.4 L298.6,95.7 L300.6,95.1 L302.6,94.4 L304.6,93.8 L306.6,93.1 L308.6,92.4 L310.6,91.8 L312.6,91.2 L314.6,90.5 L316.6,89.9 L318.6,89.2 L320.6,88.6 L322.6,88.0 L324.6,87.3 L326.6,86.7 L328.6,86.1 L330.6,85.5 L332.6,84.8 L334.6,84.2 L336.6,83.6 L338.6,83.0 L340.6,82.4 L342.6,81.8 L344.6,81.2 L346.6,80.6 L348.6,80.0 L350.6,79.4 L352.6,78.8 L354.6,78.3 L356.6,77.7 L358.6,77.1 L360.6,76.5 L362.6,76.0 L364.6,75.4 L366.6,74.8 L368.6,74.3 L370.6,73.7 L372.6,73.1 L374.6,72.6 L376.6,72.0 L378.6,71.5 L380.6,70.9 L382.6,70.4 L384.6,69.9 L386.6,69.3 L388.6,68.8 L390.6,68.3 L392.6,67.7 L394.6,67.2 L396.6,66.7 L398.6,66.2 L400.6,65.7 L402.6,65.1 L404.6,64.6 L406.6,64.1 L408.6,63.6 L410.6,63.1 L412.6,62.6 L414.6,62.1 L416.6,61.6 L418.6,61.2 L420.6,60.7 L422.6,60.2 L424.6,59.7 L426.6,59.2 L428.6,58.8 L430.6,58.3 L432.6,57.8 L434.6,57.4 L436.6,56.9 L438.6,56.4 L440.6,56.0 L442.6,55.5 L444.6,55.1 L446.6,54.6 L448.6,54.2 L450.6,53.7 L452.6,53.3 L454.6,52.9 L456.6,52.4 L458.6,52.0 L460.6,51.6 L462.6,51.1 L464.6,50.7 L466.6,50.3 L468.6,49.9 L470.6,49.5 L472.6,49.1 L474.6,48.7 L476.6,48.3 L478.6,47.9 L480.6,47.5 L482.6,47.1 L484.6,46.7 L486.6,46.3 L488.6,45.9 L490.6,45.5 L492.6,45.1 L494.6,44.7 L496.6,44.4 L498.6,44.0 L500.6,43.6 L502.6,43.3 L504.6,42.9 L506.6,42.5 L508.6,42.2 L510.6,41.8 L512.6,41.5 L514.6,41.1 L516.6,40.8 L518.6,40.4 L520.6,40.1 L522.6,39.8 L524.6,39.4 L526.6,39.1 L528.6,38.8 L530.6,38.4 L532.6,38.1 L534.6,37.8 L536.6,37.5 L538.6,37.2 L541.4,36.7" fill="none" stroke="#000000" stroke-width="2.08" stroke-linejoin="round" stroke-linecap="butt"/></g>
<rect x="538.6" y="37.4" width="162" height="24.8" rx="2.8" fill="#fff" fill-opacity="0.8" stroke="#ccc" stroke-opacity="0.8" stroke-width="1"/>
<path d="M543.0,48.9 H573.0" stroke="#000" stroke-width="2.08" fill="none"/>
<text x="582.4" y="53.3" font-size="14.2" text-anchor="start" textLength="111.4" lengthAdjust="spacingAndGlyphs">Temperature(C)</text>
<g clip-path="url(#c1)">
<path d="M88.6,391.2 L89.1,392.5 L89.1,392.6 L90.1,394.6 L90.1,391.7 L91.1,392.0 L91.1,392.4 L92.1,392.4 L92.1,391.6 L93.1,390.6 L93.1,391.4 L94.1,391.5 L94.1,389.7 L95.1,390.1 L95.1,390.4 L96.1,391.5 L96.1,390.6 L97.1,390.9 L97.1,392.7 L98.1,390.6 L98.1,390.4 L99.1,393.0 L99.1,394.9 L100.1,393.4 L100.1,392.6 L101.1,391.6 L101.1,393.3 L102.1,392.7 L102.1,392.0 L103.1,389.9 L103.1,393.5 L104.1,394.5 L104.1,391.3 L105.1,391.0 L105.1,392.2 L106.1,393.7 L106.1,392.3 L107.1,390.1 L107.1,391.6 L108.1,392.5 L108.1,390.5 L109.1,390.0 L109.1,390.6 L110.1,393.0 L110.1,390.6 L111.1,392.7 L111.1,392.8 L112.1,392.2 L112.1,390.1 L113.1,390.9 L113.1,391.6 L114.1,392.4 L114.1,390.8 L115.1,390.0 L115.1,390.3 L116.1,392.5 L116.1,391.4 L117.1,390.2 L117.1,392.8 L118.1,390.5 L118.1,390.3 L119.1,390.4 L119.1,391.2 L120.1,392.5 L120.1,391.0 L121.1,390.8 L121.1,391.9 L122.1,392.2 L122.1,391.2 L123.1,391.9 L123.1,393.0 L124.1,391.6 L124.1,388.5 L125.1,387.7 L125.1,387.8 L126.1,391.2 L126.1,389.4 L127.1,390.8 L127.1,391.3 L128.1,389.7 L128.1,388.2 L129.1,387.3 L129.1,389.3 L130.1,386.4 L130.1,384.9 L131.1,386.9 L131.1,388.8 L132.1,387.3 L132.1,386.7 L133.1,386.9 L133.1,387.9 L134.1,386.4 L134.1,385.4 L135.1,385.6 L135.1,387.6 L136.1,386.2 L136.1,384.9 L137.1,383.8 L137.1,384.8 L138.1,385.1 L138.1,385.0 L139.1,382.8 L139.1,382.8 L140.1,382.1 L140.1,381.9 L141.1,383.9 L141.1,384.4 L142.1,383.0 L142.1,381.5 L143.1,380.9 L143.1,382.0 L144.1,383.3 L144.1,381.0 L145.1,377.4 L145.1,380.9 L146.1,378.7 L146.1,377.7 L147.1,378.8 L147.1,380.4 L148.1,381.8 L148.1,379.5 L149.1,376.0 L149.1,378.6 L150.1,378.2 L150.1,376.7 L151.1,376.5 L151.1,376.8 L152.1,377.3 L152.1,375.7 L153.1,376.9 L153.1,378.3 L154.1,375.9 L154.1,374.9 L155.1,374.9 L155.1,379.7 L156.1,377.0 L156.1,374.5 L157.1,375.6 L157.1,376.7 L158.1,378.6 L158.1,376.9 L159.1,372.7 L159.1,376.4 L160.1,375.5 L160.1,372.3 L161.1,373.2 L161.1,374.6 L162.1,374.7 L162.1,373.2 L163.1,373.0 L163.1,373.1 L164.1,374.8 L164.1,371.9 L165.1,373.4 L165.1,375.5 L166.0,375.4 L166.0,374.6 L167.0,375.2 L167.0,375.2 L168.0,373.8 L168.0,373.4 L169.0,370.5 L169.0,371.9 L170.0,373.6 L170.0,371.7 L171.0,372.0 L171.0,374.4 L172.0,371.9 L172.0,371.8 L173.0,368.9 L173.0,369.3 L174.0,371.0 L174.0,369.0 L175.0,370.6 L175.0,372.0 L176.0,371.6 L176.0,371.1 L177.0,368.6 L177.0,369.5 L178.0,371.4 L178.0,370.7 L179.0,366.9 L179.0,368.5 L180.0,370.1 L180.0,368.4 L181.0,370.7 L181.0,371.4 L182.0,369.1 L182.0,367.7 L183.0,370.0 L183.0,370.2 L184.0,368.3 L184.0,366.0 L185.0,366.8 L185.0,369.0 L186.0,370.9 L186.0,370.6 L187.0,366.2 L187.0,367.5 L188.0,366.3 L188.0,365.9 L189.0,367.2 L189.0,368.3 L190.0,366.8 L190.0,366.8 L191.0,365.9 L191.0,367.5 L192.0,366.9 L192.0,364.7 L193.0,365.6 L193.0,366.6 L194.0,366.3 L194.0,364.7 L195.0,364.7 L195.0,367.1 L196.0,364.8 L196.0,363.6 L197.0,362.9 L197.0,365.4 L198.0,365.4 L198.0,363.7 L199.0,364.4 L199.0,365.0 L200.0,363.3 L200.0,361.9 L201.0,364.4 L201.0,365.8 L202.0,366.4 L202.0,362.4 L203.0,361.5 L203.0,363.3 L204.0,364.1 L204.0,363.4 L205.0,363.1 L205.0,363.9 L206.0,364.9 L206.0,363.5 L207.0,361.4 L207.0,363.2 L208.0,363.5 L208.0,362.0 L209.0,360.5 L209.0,361.9 L210.0,361.3 L210.0,361.2 L211.0,362.0 L211.0,363.2 L212.0,364.6 L212.0,362.0 L213.0,360.7 L213.0,363.0 L214.0,361.1 L214.0,360.3 L215.0,358.6 L215.0,362.0 L216.0,360.0 L216.0,358.5 L217.0,358.0 L217.0,358.8 L218.0,358.4 L218.0,357.7 L219.0,358.6 L219.0,358.8 L220.0,359.3 L220.0,358.9 L221.0,358.5 L221.0,360.0 L222.0,357.4 L222.0,357.3 L223.0,357.2 L223.0,359.3 L224.0,358.5 L224.0,355.0 L225.0,354.9 L225.0,355.8 L226.0,355.6 L226.0,354.5 L227.0,353.7 L227.0,354.8 L228.0,352.8 L228.0,351.5 L229.0,351.5 L229.0,353.4 L230.0,352.5 L230.0,351.6 L231.0,352.7 L231.0,354.1 L232.0,355.1 L232.0,354.6 L233.0,353.0 L233.0,354.6 L234.0,353.2 L234.0,351.6 L235.0,350.9 L235.0,353.8 L236.0,352.9 L236.0,350.8 L237.0,349.1 L237.0,349.6 L238.0,349.9 L238.0,349.3 L239.0,350.4 L239.0,351.7 L240.0,349.6 L240.0,349.0 L241.0,348.1 L241.0,349.2 L242.0,346.7 L242.0,346.4 L243.0,348.2 L243.0,349.8 L244.0,351.5 L244.0,350.6 L245.0,349.7 L245.0,349.9 L246.0,347.1 L246.0,346.3 L247.0,346.5 L247.0,346.7 L248.0,348.3 L248.0,345.6 L249.0,344.5 L249.0,346.4 L250.0,346.5 L250.0,345.2 L251.0,343.0 L251.0,345.4 L252.0,344.8 L252.0,343.1 L253.0,344.3 L253.0,344.6 L254.0,342.4 L254.0,340.8 L255.0,344.6 L255.0,346.3 L256.0,342.7 L256.0,340.6 L257.0,343.3 L257.0,344.4 L258.0,342.7 L258.0,340.1 L259.0,341.5 L259.0,342.0 L260.0,341.6 L260.0,341.3 L261.0,339.1 L261.0,339.3 L262.0,341.3 L262.0,337.3 L263.0,339.6 L263.0,341.0 L264.0,341.9 L264.0,338.5 L265.0,338.3 L265.0,339.3 L266.0,336.3 L266.0,335.8 L267.0,335.9 L267.0,336.0 L268.0,339.0 L268.0,338.9 L269.0,336.7 L269.0,337.9 L270.0,337.7 L270.0,337.3 L271.0,338.4 L271.0,340.5 L272.0,337.4 L272.0,336.4 L273.0,333.2 L273.0,334.3 L274.0,335.7 L274.0,332.2 L275.0,333.1 L275.0,333.3 L276.0,334.7 L276.0,334.1 L277.0,330.9 L277.0,333.3 L278.0,335.7 L278.0,335.2 L279.0,335.8 L279.0,336.4 L280.0,335.6 L280.0,334.7 L281.0,333.5 L281.0,336.1 L282.0,336.3 L282.0,334.6 L283.0,333.6 L283.0,334.5 L284.0,335.6 L284.0,334.5 L285.0,331.4 L285.0,333.8 L286.0,333.8 L286.0,333.7 L287.0,332.3 L287.0,334.2 L288.0,335.3 L288.0,331.3 L289.0,334.0 L289.0,336.2 L290.0,332.6 L290.0,331.9 L291.0,331.3 L291.0,337.0 L292.0,334.4 L292.0,333.0 L293.0,331.9 L293.0,332.5 L294.0,332.1 L294.0,329.9 L295.0,330.6 L295.0,330.8 L296.0,332.9 L296.0,331.8 L297.0,331.2 L297.0,332.4 L298.0,330.1 L298.0,329.4 L299.0,331.4 L299.0,331.7 L300.0,332.5 L300.0,327.4 L301.0,328.3 L301.0,328.4 L302.0,332.9 L302.0,331.9 L303.0,329.5 L303.0,330.0 L304.0,327.8 L304.0,326.7 L305.0,329.2 L305.0,329.7 L306.0,331.0 L306.0,327.7 L307.0,328.5 L307.0,329.4 L308.0,328.9 L308.0,328.6 L309.0,328.8 L309.0,329.1 L310.0,327.2 L310.0,327.0 L311.0,326.4 L311.0,326.8 L312.0,326.8 L312.0,325.4 L313.0,326.2 L313.0,326.5 L314.0,327.2 L314.0,327.0 L315.0,326.5 L315.0,326.6 L316.0,329.1 L316.0,326.8 L317.0,324.6 L317.0,328.0 L318.0,327.2 L318.0,324.1 L319.0,328.7 L319.0,329.0 L319.9,330.5 L319.9,326.5 L320.9,323.7 L320.9,326.2 L321.9,326.7 L321.9,324.9 L322.9,324.8 L322.9,325.1 L323.9,323.4 L323.9,322.9 L324.9,320.5 L324.9,322.9 L325.9,324.3 L325.9,322.3 L326.9,322.6 L326.9,324.4 L327.9,320.8 L327.9,320.5 L328.9,319.1 L328.9,321.4 L329.9,322.2 L329.9,318.3 L330.9,319.7 L330.9,320.0 L331.9,320.3 L331.9,318.5 L332.9,318.1 L332.9,319.7 L333.9,319.3 L333.9,318.9 L334.9,318.6 L334.9,320.5 L335.9,321.1 L335.9,317.7 L336.9,319.0 L336.9,319.1 L337.9,317.7 L337.9,316.7 L338.9,316.8 L338.9,318.8 L339.9,316.7 L339.9,316.5 L340.9,315.5 L340.9,317.8 L341.9,318.4 L341.9,316.2 L342.9,318.6 L342.9,319.9 L343.9,317.8 L343.9,315.8 L344.9,314.2 L344.9,314.8 L345.9,317.5 L345.9,315.0 L346.9,313.8 L346.9,314.6 L347.9,316.1 L347.9,314.7 L348.9,313.8 L348.9,314.3 L349.9,314.9 L349.9,314.0 L350.9,312.6 L350.9,314.5 L351.9,312.7 L351.9,310.8 L352.9,308.7 L352.9,310.7 L353.9,311.5 L353.9,311.4 L354.9,311.6 L354.9,313.1 L355.9,310.0 L355.9,309.3 L356.9,310.1 L356.9,311.8 L357.9,311.5 L357.9,311.4 L358.9,309.4 L358.9,312.7 L359.9,309.8 L359.9,307.6 L360.9,310.3 L360.9,312.0 L361.9,313.0 L361.9,312.4 L362.9,307.7 L362.9,308.3 L363.9,307.1 L363.9,303.9 L364.9,306.7 L364.9,308.4 L365.9,309.9 L365.9,306.7 L366.9,304.7 L366.9,306.6 L367.9,306.1 L367.9,305.2 L368.9,305.1 L368.9,305.1 L369.9,304.8 L369.9,303.8 L370.9,303.7 L370.9,305.8 L371.9,304.8 L371.9,304.4 L372.9,301.4 L372.9,304.5 L373.9,305.2 L373.9,305.0 L374.9,304.5 L374.9,306.2 L375.9,304.8 L375.9,303.0 L376.9,303.7 L376.9,304.7 L377.9,304.4 L377.9,299.9 L378.9,303.6 L378.9,304.4 L379.9,308.6 L379.9,306.4 L380.9,304.7 L380.9,306.4 L381.9,306.6 L381.9,304.7 L382.9,305.9 L382.9,308.0 L383.9,307.2 L383.9,305.2 L384.9,305.1 L384.9,306.4 L385.9,306.8 L385.9,305.4 L386.9,303.8 L386.9,303.9 L387.9,305.6 L387.9,302.6 L388.9,301.5 L388.9,303.2 L389.9,302.2 L389.9,302.1 L390.9,301.9 L390.9,303.5 L391.9,304.4 L391.9,304.1 L392.9,303.6 L392.9,304.2 L393.9,302.4 L393.9,302.2 L394.9,301.1 L394.9,302.6 L395.9,302.6 L395.9,301.9 L396.9,301.8 L396.9,303.5 L397.9,304.4 L397.9,302.6 L398.9,300.1 L398.9,301.7 L399.9,300.3 L399.9,296.1 L400.9,296.4 L400.9,296.5 L401.9,298.0 L401.9,294.0 L402.9,298.8 L402.9,298.9 L403.9,299.5 L403.9,296.7 L404.9,299.3 L404.9,300.6 L405.9,296.9 L405.9,294.9 L406.9,297.5 L406.9,298.9 L407.9,297.6 L407.9,296.0 L408.9,296.4 L408.9,297.5 L409.9,297.9 L409.9,297.5 L410.9,296.8 L410.9,301.8 L411.9,295.4 L411.9,294.5 L412.9,292.5 L412.9,293.9 L413.9,296.3 L413.9,295.6 L414.9,295.4 L414.9,296.1 L415.9,292.8 L415.9,292.7 L416.9,292.9 L416.9,293.3 L417.9,296.6 L417.9,293.2 L418.9,292.2 L418.9,295.1 L419.9,292.0 L419.9,291.9 L420.9,292.6 L420.9,293.6 L421.9,296.6 L421.9,292.5 L422.9,294.2 L422.9,295.1 L423.9,293.6 L423.9,292.9 L424.9,291.6 L424.9,293.3 L425.9,294.2 L425.9,293.3 L426.9,288.8 L426.9,291.3 L427.9,292.2 L427.9,288.7 L428.9,289.7 L428.9,290.4 L429.9,293.3 L429.9,289.7 L430.9,289.4 L430.9,293.3 L431.9,292.5 L431.9,290.0 L432.9,287.3 L432.9,290.9 L433.9,290.8 L433.9,288.9 L434.9,290.0 L434.9,290.0 L435.9,290.8 L435.9,289.1 L436.9,289.6 L436.9,289.6 L437.9,291.7 L437.9,290.9 L438.9,289.7 L438.9,290.7 L439.9,289.2 L439.9,287.6 L440.9,287.3 L440.9,288.9 L441.9,287.5 L441.9,285.4 L442.9,287.4 L442.9,288.4 L443.9,287.8 L443.9,287.7 L444.9,285.2 L444.9,285.9 L445.9,290.0 L445.9,288.1 L446.9,286.1 L446.9,288.0 L447.9,287.9 L447.9,284.8 L448.9,286.7 L448.9,287.5 L449.9,288.5 L449.9,288.2 L450.9,286.3 L450.9,286.5 L451.9,287.6 L451.9,286.4 L452.9,287.1 L452.9,288.9 L453.9,287.3 L453.9,285.5 L454.9,284.0 L454.9,284.3 L455.9,286.8 L455.9,286.1 L456.9,281.0 L456.9,285.4 L457.9,286.4 L457.9,283.3 L458.9,283.0 L458.9,284.4 L459.9,283.8 L459.9,282.7 L460.9,282.9 L460.9,284.4 L461.9,284.7 L461.9,283.4 L462.9,281.8 L462.9,283.1 L463.9,283.3 L463.9,282.9 L464.9,281.4 L464.9,282.0 L465.9,283.0 L465.9,279.8 L466.9,280.5 L466.9,283.2 L467.9,283.0 L467.9,281.8 L468.9,280.8 L468.9,282.5 L469.9,277.8 L469.9,277.1 L470.9,278.2 L470.9,278.3 L471.9,282.5 L471.9,279.8 L472.9,281.4 L472.9,281.7 L473.8,282.7 L473.8,280.1 L474.8,278.9 L474.8,280.1 L475.8,279.6 L475.8,275.8 L476.8,279.4 L476.8,281.1 L477.8,280.8 L477.8,280.2 L478.8,279.6 L478.8,279.7 L479.8,281.8 L479.8,279.3 L480.8,278.7 L480.8,279.2 L481.8,279.2 L481.8,278.9 L482.8,275.7 L482.8,276.6 L483.8,278.9 L483.8,276.2 L484.8,277.1 L484.8,277.5 L485.8,278.5 L485.8,275.2 L486.8,273.5 L486.8,274.6 L487.8,276.3 L487.8,272.3 L488.8,273.5 L488.8,276.9 L489.8,276.9 L489.8,275.6 L490.8,277.0 L490.8,277.5 L491.8,276.3 L491.8,276.1 L492.8,275.3 L492.8,277.5 L493.8,275.1 L493.8,273.9 L494.8,273.4 L494.8,274.2 L495.8,273.0 L495.8,271.9 L496.8,273.1 L496.8,273.9 L497.8,273.9 L497.8,272.6 L498.8,272.3 L498.8,275.1 L499.8,275.0 L499.8,273.6 L500.8,274.7 L500.8,276.5 L501.8,274.0 L501.8,272.2 L502.8,269.0 L502.8,269.9 L503.8,271.0 L503.8,269.6 L504.8,271.0 L504.8,271.2 L505.8,271.6 L505.8,271.2 L506.8,271.6 L506.8,273.3 L507.8,273.4 L507.8,269.6 L508.8,271.4 L508.8,273.4 L509.8,273.0 L509.8,272.4 L510.8,273.0 L510.8,273.5 L511.8,271.0 L511.8,270.4 L512.8,269.3 L512.8,272.2 L513.8,270.9 L513.8,270.6 L514.8,266.9 L514.8,268.9 L515.8,270.4 L515.8,268.4 L516.8,270.0 L516.8,271.8 L517.8,270.1 L517.8,269.5 L518.8,267.4 L518.8,269.7 L519.8,268.7 L519.8,266.9 L520.8,265.8 L520.8,267.8 L521.8,269.6 L521.8,267.6 L522.8,269.4 L522.8,270.8 L523.8,267.0 L523.8,266.8 L524.8,266.4 L524.8,267.9 L525.8,268.2 L525.8,267.7 L526.8,266.1 L526.8,266.1 L527.8,264.3 L527.8,263.0 L528.8,264.6 L528.8,265.7 L529.8,267.3 L529.8,266.0 L530.8,266.0 L530.8,267.5 L531.8,264.7 L531.8,264.6 L532.8,266.3 L532.8,266.9 L533.8,267.7 L533.8,265.2 L534.8,262.6 L534.8,262.6 L535.8,264.1 L535.8,260.7 L536.8,258.3 L536.8,260.8 L537.8,263.0 L537.8,261.7 L538.8,260.9 L538.8,261.6 L539.8,264.3 L539.8,263.8 L540.8,262.1 L540.8,262.6 L541.8,261.7 L541.8,261.5 L542.8,259.3 L542.8,261.6 L543.8,262.5 L543.8,261.0 L544.8,260.6 L544.8,262.9 L545.8,262.9 L545.8,260.1 L546.8,256.9 L546.8,257.3 L547.8,261.0 L547.8,258.4 L548.8,262.9 L548.8,263.6 L549.8,267.6 L549.8,264.8 L550.3,267.5" fill="none" stroke="#1f77b4" stroke-width="2.08" stroke-linejoin="round" stroke-linecap="butt"/>
<path d="M88.6,244.5 L89.1,245.4 L89.1,247.1 L90.1,247.0 L90.1,243.9 L91.1,241.5 L91.1,246.1 L92.1,243.4 L92.1,240.9 L93.1,241.7 L93.1,243.0 L94.1,245.1 L94.1,244.9 L95.1,242.8 L95.1,245.0 L96.1,245.8 L96.1,245.4 L97.1,244.7 L97.1,247.5 L98.1,244.3 L98.1,242.8 L99.1,245.0 L99.1,247.5 L100.1,247.2 L100.1,246.3 L101.1,247.4 L101.1,248.9 L102.1,248.1 L102.1,248.0 L103.1,249.0 L103.1,250.5 L104.1,253.8 L104.1,252.6 L105.1,253.5 L105.1,253.7 L106.1,251.1 L106.1,249.6 L107.1,252.3 L107.1,253.3 L108.1,254.9 L108.1,254.1 L109.1,253.6 L109.1,254.9 L110.1,256.1 L110.1,255.4 L111.1,256.7 L111.1,257.4 L112.1,256.1 L112.1,256.0 L113.1,257.1 L113.1,259.2 L114.1,260.6 L114.1,259.3 L115.1,260.8 L115.1,261.5 L116.1,261.4 L116.1,257.6 L117.1,259.2 L117.1,260.0 L118.1,262.2 L118.1,257.9 L119.1,257.6 L119.1,259.2 L120.1,261.4 L120.1,260.9 L121.1,262.2 L121.1,262.8 L122.1,264.2 L122.1,263.5 L123.1,260.9 L123.1,263.3 L124.1,262.8 L124.1,262.0 L125.1,262.0 L125.1,263.5 L126.1,266.5 L126.1,263.7 L127.1,263.0 L127.1,265.3 L128.1,267.3 L128.1,264.6 L129.1,264.3 L129.1,264.8 L130.1,266.7 L130.1,265.7 L131.1,267.0 L131.1,268.2 L132.1,267.1 L132.1,266.6 L133.1,269.6 L133.1,270.1 L134.1,269.5 L134.1,269.0 L135.1,268.2 L135.1,268.9 L136.1,271.5 L136.1,267.6 L137.1,269.2 L137.1,272.1 L138.1,270.8 L138.1,269.5 L139.1,268.4 L139.1,269.6 L140.1,270.5 L140.1,269.1 L141.1,269.1 L141.1,270.3 L142.1,267.6 L142.1,267.3 L143.1,269.9 L143.1,271.0 L144.1,273.3 L144.1,271.5 L145.1,270.8 L145.1,272.2 L146.1,273.0 L146.1,271.4 L147.1,270.9 L147.1,273.1 L148.1,273.2 L148.1,272.9 L149.1,270.5 L149.1,272.9 L150.1,275.7 L150.1,275.4 L151.1,276.9 L151.1,277.1 L152.1,276.1 L152.1,274.9 L153.1,273.9 L153.1,274.9 L154.1,277.1 L154.1,276.5 L155.1,278.8 L155.1,280.7 L156.1,279.5 L156.1,279.4 L157.1,278.9 L157.1,279.2 L158.1,279.4 L158.1,277.8 L159.1,278.0 L159.1,278.7 L160.1,281.9 L160.1,281.0 L161.1,278.7 L161.1,281.5 L162.1,279.9 L162.1,278.1 L163.1,278.7 L163.1,279.6 L164.1,282.9 L164.1,280.1 L165.1,279.5 L165.1,280.0 L166.0,281.9 L166.0,280.1 L167.0,280.8 L167.0,282.6 L168.0,281.8 L168.0,279.4 L169.0,283.0 L169.0,283.8 L170.0,286.4 L170.0,284.2 L171.0,283.6 L171.0,284.2 L172.0,285.7 L172.0,285.3 L173.0,284.4 L173.0,285.2 L174.0,283.2 L174.0,282.9 L175.0,284.7 L175.0,285.1 L176.0,284.6 L176.0,284.4 L177.0,283.7 L177.0,285.9 L178.0,288.7 L178.0,287.6 L179.0,288.1 L179.0,289.3 L180.0,288.6 L180.0,286.8 L181.0,286.9 L181.0,287.4 L182.0,287.8 L182.0,287.7 L183.0,287.2 L183.0,289.6 L184.0,288.8 L184.0,287.0 L185.0,287.8 L185.0,288.7 L186.0,290.1 L186.0,289.5 L187.0,289.3 L187.0,290.3 L188.0,291.1 L188.0,290.1 L189.0,290.3 L189.0,290.6 L190.0,292.2 L190.0,289.1 L191.0,290.7 L191.0,293.2 L192.0,292.3 L192.0,290.1 L193.0,291.3 L193.0,293.0 L194.0,291.8 L194.0,291.0 L195.0,294.1 L195.0,294.1 L196.0,294.4 L196.0,292.2 L197.0,293.2 L197.0,297.3 L198.0,299.9 L198.0,296.2 L199.0,297.5 L199.0,298.6 L200.0,297.8 L200.0,297.3 L201.0,295.2 L201.0,295.7 L202.0,296.0 L202.0,294.0 L203.0,292.3 L203.0,293.3 L204.0,297.1 L204.0,296.8 L205.0,298.1 L205.0,298.7 L206.0,297.0 L206.0,296.2 L207.0,296.9 L207.0,298.0 L208.0,296.4 L208.0,296.2 L209.0,295.3 L209.0,296.5 L210.0,294.9 L210.0,293.0 L211.0,297.0 L211.0,298.1 L212.0,299.9 L212.0,297.6 L213.0,301.2 L213.0,301.4 L214.0,302.3 L214.0,301.3 L215.0,300.1 L215.0,301.6 L216.0,299.3 L216.0,298.3 L217.0,298.8 L217.0,298.8 L218.0,299.5 L218.0,298.4 L219.0,298.3 L219.0,299.6 L220.0,298.5 L220.0,297.8 L221.0,298.8 L221.0,301.1 L222.0,303.7 L222.0,302.6 L223.0,303.7 L223.0,306.9 L224.0,304.5 L224.0,304.3 L225.0,304.2 L225.0,305.5 L226.0,305.6 L226.0,304.5 L227.0,305.4 L227.0,308.1 L228.0,303.1 L228.0,303.1 L229.0,303.1 L229.0,303.4 L230.0,304.2 L230.0,302.9 L231.0,304.7 L231.0,304.7 L232.0,307.8 L232.0,305.4 L233.0,306.2 L233.0,306.9 L234.0,306.4 L234.0,305.7 L235.0,303.8 L235.0,305.4 L236.0,306.0 L236.0,304.9 L237.0,305.5 L237.0,306.3 L238.0,308.2 L238.0,305.8 L239.0,306.2 L239.0,306.5 L240.0,308.5 L240.0,307.4 L241.0,304.5 L241.0,306.4 L242.0,308.7 L242.0,306.5 L243.0,306.3 L243.0,307.4 L244.0,310.8 L244.0,309.6 L245.0,306.3 L245.0,308.2 L246.0,307.9 L246.0,307.3 L247.0,306.8 L247.0,308.7 L248.0,309.0 L248.0,308.0 L249.0,308.8 L249.0,309.6 L250.0,311.8 L250.0,311.7 L251.0,311.4 L251.0,311.5 L252.0,312.8 L252.0,310.4 L253.0,312.6 L253.0,313.7 L254.0,310.9 L254.0,307.9 L255.0,310.1 L255.0,311.3 L256.0,312.5 L256.0,310.0 L257.0,311.8 L257.0,313.0 L258.0,311.0 L258.0,310.6 L259.0,311.5 L259.0,313.2 L260.0,314.3 L260.0,313.7 L261.0,310.9 L261.0,313.2 L262.0,310.7 L262.0,310.1 L263.0,310.5 L263.0,310.9 L264.0,314.1 L264.0,310.8 L265.0,313.3 L265.0,314.9 L266.0,313.7 L266.0,312.2 L267.0,312.5 L267.0,312.9 L268.0,313.1 L268.0,312.0 L269.0,313.0 L269.0,313.4 L270.0,314.3 L270.0,313.5 L271.0,311.8 L271.0,312.9 L272.0,311.1 L272.0,310.8 L273.0,311.3 L273.0,312.5 L274.0,314.1 L274.0,314.0 L275.0,309.7 L275.0,311.7 L276.0,313.0 L276.0,311.0 L277.0,314.8 L277.0,316.2 L278.0,317.7 L278.0,316.2 L279.0,317.2 L279.0,318.5 L280.0,318.1 L280.0,316.7 L281.0,314.5 L281.0,317.1 L282.0,316.2 L282.0,314.4 L283.0,315.4 L283.0,316.4 L284.0,315.8 L284.0,315.6 L285.0,317.6 L285.0,319.0 L286.0,318.6 L286.0,317.7 L287.0,319.5 L287.0,319.6 L288.0,319.2 L288.0,319.1 L289.0,315.8 L289.0,319.7 L290.0,318.9 L290.0,318.8 L291.0,319.9 L291.0,322.3 L292.0,319.4 L292.0,318.6 L293.0,313.6 L293.0,318.3 L294.0,317.3 L294.0,317.0 L295.0,319.4 L295.0,319.5 L296.0,320.4 L296.0,320.3 L297.0,319.6 L297.0,321.0 L298.0,323.9 L298.0,319.8 L299.0,322.7 L299.0,322.8 L300.0,320.6 L300.0,320.3 L301.0,319.1 L301.0,320.6 L302.0,320.7 L302.0,320.2 L303.0,318.1 L303.0,319.8 L304.0,321.5 L304.0,320.0 L305.0,321.0 L305.0,321.9 L306.0,320.8 L306.0,319.7 L307.0,321.6 L307.0,321.9 L308.0,324.0 L308.0,321.5 L309.0,321.5 L309.0,322.6 L310.0,324.3 L310.0,321.8 L311.0,320.6 L311.0,323.4 L312.0,324.4 L312.0,323.9 L313.0,323.9 L313.0,325.6 L314.0,325.3 L314.0,324.5 L315.0,325.7 L315.0,326.1 L316.0,324.1 L316.0,323.9 L317.0,322.1 L317.0,324.6 L318.0,325.7 L318.0,324.1 L319.0,324.2 L319.0,325.5 L319.9,327.5 L319.9,326.1 L320.9,325.7 L320.9,326.1 L321.9,326.5 L321.9,324.5 L322.9,326.4 L322.9,327.2 L323.9,327.4 L323.9,326.0 L324.9,326.1 L324.9,328.0 L325.9,327.0 L325.9,325.6 L326.9,325.2 L326.9,325.4 L327.9,325.2 L327.9,323.6 L328.9,326.3 L328.9,328.5 L329.9,327.9 L329.9,327.5 L330.9,329.2 L330.9,329.7 L331.9,328.9 L331.9,327.9 L332.9,328.1 L332.9,329.9 L333.9,330.7 L333.9,327.0 L334.9,329.4 L334.9,331.1 L335.9,331.1 L335.9,330.2 L336.9,331.9 L336.9,332.3 L337.9,329.9 L337.9,329.7 L338.9,329.8 L338.9,331.4 L339.9,328.8 L339.9,328.7 L340.9,328.2 L340.9,328.9 L341.9,330.5 L341.9,329.1 L342.9,332.8 L342.9,332.9 L343.9,331.9 L343.9,331.1 L344.9,330.7 L344.9,333.6 L345.9,335.5 L345.9,332.1 L346.9,331.4 L346.9,333.1 L347.9,332.6 L347.9,332.2 L348.9,333.1 L348.9,334.3 L349.9,335.0 L349.9,334.7 L350.9,334.6 L350.9,334.8 L351.9,334.7 L351.9,334.6 L352.9,328.9 L352.9,331.2 L353.9,331.4 L353.9,328.5 L354.9,332.4 L354.9,333.8 L355.9,331.8 L355.9,330.9 L356.9,332.5 L356.9,333.6 L357.9,334.4 L357.9,332.2 L358.9,331.9 L358.9,333.9 L359.9,333.9 L359.9,332.0 L360.9,333.4 L360.9,334.7 L361.9,335.6 L361.9,334.8 L362.9,333.4 L362.9,335.7 L363.9,339.3 L363.9,335.2 L364.9,335.5 L364.9,336.6 L365.9,335.5 L365.9,334.5 L366.9,332.4 L366.9,332.8 L367.9,333.0 L367.9,332.3 L368.9,332.8 L368.9,333.2 L369.9,334.2 L369.9,332.3 L370.9,331.7 L370.9,332.5 L371.9,335.3 L371.9,334.5 L372.9,337.6 L372.9,338.0 L373.9,337.7 L373.9,336.7 L374.9,336.2 L374.9,336.5 L375.9,335.1 L375.9,334.3 L376.9,335.6 L376.9,336.3 L377.9,336.4 L377.9,335.1 L378.9,335.5 L378.9,337.3 L379.9,335.6 L379.9,334.1 L380.9,336.8 L380.9,337.2 L381.9,338.1 L381.9,336.3 L382.9,336.8 L382.9,338.9 L383.9,338.3 L383.9,336.9 L384.9,337.1 L384.9,337.2 L385.9,338.0 L385.9,336.7 L386.9,335.0 L386.9,338.3 L387.9,341.3 L387.9,339.9 L388.9,335.4 L388.9,337.2 L389.9,337.0 L389.9,336.2 L390.9,338.0 L390.9,340.0 L391.9,339.7 L391.9,338.2 L392.9,339.0 L392.9,340.0 L393.9,340.3 L393.9,335.7 L394.9,337.4 L394.9,337.8 L395.9,339.3 L395.9,337.2 L396.9,339.1 L396.9,340.2 L397.9,339.9 L397.9,339.6 L398.9,339.9 L398.9,340.5 L399.9,340.7 L399.9,340.0 L400.9,339.1 L400.9,340.7 L401.9,337.1 L401.9,335.8 L402.9,338.4 L402.9,340.0 L403.9,341.0 L403.9,340.6 L404.9,340.9 L404.9,341.5 L405.9,339.4 L405.9,339.0 L406.9,338.4 L406.9,340.6 L407.9,341.4 L407.9,340.4 L408.9,342.4 L408.9,342.8 L409.9,340.2 L409.9,339.6 L410.9,338.6 L410.9,339.6 L411.9,343.2 L411.9,339.6 L412.9,341.5 L412.9,343.8 L413.9,343.9 L413.9,343.1 L414.9,341.8 L414.9,343.3 L415.9,341.7 L415.9,341.3 L416.9,339.4 L416.9,341.4 L417.9,341.4 L417.9,340.7 L418.9,342.0 L418.9,342.9 L419.9,343.8 L419.9,341.7 L420.9,340.1 L420.9,340.7 L421.9,343.9 L421.9,340.4 L422.9,339.7 L422.9,340.4 L423.9,344.3 L423.9,343.7 L424.9,341.0 L424.9,343.3 L425.9,342.2 L425.9,341.4 L426.9,343.1 L426.9,343.7 L427.9,342.5 L427.9,342.4 L428.9,343.9 L428.9,344.5 L429.9,343.5 L429.9,341.4 L430.9,341.3 L430.9,341.7 L431.9,343.8 L431.9,341.2 L432.9,342.0 L432.9,343.9 L433.9,343.1 L433.9,341.3 L434.9,342.8 L434.9,343.2 L435.9,344.3 L435.9,341.4 L436.9,342.9 L436.9,344.3 L437.9,346.5 L437.9,346.0 L438.9,344.4 L438.9,345.9 L439.9,349.3 L439.9,344.7 L440.9,345.7 L440.9,345.7 L441.9,344.8 L441.9,343.3 L442.9,343.7 L442.9,346.4 L443.9,345.6 L443.9,342.5 L444.9,345.1 L444.9,345.6 L445.9,346.2 L445.9,346.2 L446.9,343.2 L446.9,344.8 L447.9,346.4 L447.9,346.2 L448.9,349.2 L448.9,350.3 L449.9,347.1 L449.9,344.1 L450.9,342.7 L450.9,342.9 L451.9,345.8 L451.9,344.1 L452.9,344.6 L452.9,344.7 L453.9,346.6 L453.9,344.3 L454.9,346.1 L454.9,347.5 L455.9,345.5 L455.9,343.3 L456.9,344.0 L456.9,345.9 L457.9,344.3 L457.9,344.3 L458.9,346.4 L458.9,346.5 L459.9,349.2 L459.9,346.5 L460.9,347.1 L460.9,347.2 L461.9,346.3 L461.9,346.1 L462.9,347.8 L462.9,348.8 L463.9,345.8 L463.9,344.4 L464.9,344.6 L464.9,348.1 L465.9,349.3 L465.9,348.2 L466.9,346.2 L466.9,347.2 L467.9,345.9 L467.9,345.1 L468.9,346.7 L468.9,346.8 L469.9,347.5 L469.9,345.1 L470.9,346.7 L470.9,348.6 L471.9,349.6 L471.9,348.0 L472.9,349.3 L472.9,349.3 L473.8,347.9 L473.8,346.8 L474.8,348.0 L474.8,348.4 L475.8,348.8 L475.8,347.7 L476.8,348.3 L476.8,348.7 L477.8,347.7 L477.8,344.6 L478.8,345.5 L478.8,347.8 L479.8,349.4 L479.8,348.5 L480.8,348.6 L480.8,348.7 L481.8,348.9 L481.8,347.5 L482.8,346.6 L482.8,348.9 L483.8,349.0 L483.8,347.9 L484.8,346.4 L484.8,346.4 L485.8,347.5 L485.8,345.8 L486.8,347.8 L486.8,349.2 L487.8,349.5 L487.8,349.3 L488.8,349.5 L488.8,350.3 L489.8,351.1 L489.8,350.2 L490.8,348.8 L490.8,350.1 L491.8,350.3 L491.8,349.4 L492.8,349.0 L492.8,350.6 L493.8,350.1 L493.8,348.8 L494.8,346.7 L494.8,350.3 L495.8,349.0 L495.8,348.6 L496.8,348.3 L496.8,350.0 L497.8,351.6 L497.8,348.9 L498.8,350.3 L498.8,350.7 L499.8,351.4 L499.8,347.4 L500.8,350.0 L500.8,350.6 L501.8,351.3 L501.8,349.5 L502.8,349.5 L502.8,349.6 L503.8,351.9 L503.8,349.7 L504.8,351.2 L504.8,353.0 L505.8,351.4 L505.8,351.2 L506.8,349.7 L506.8,350.0 L507.8,351.9 L507.8,351.7 L508.8,350.0 L508.8,352.1 L509.8,353.2 L509.8,351.0 L510.8,349.3 L510.8,349.5 L511.8,350.8 L511.8,350.1 L512.8,349.5 L512.8,350.6 L513.8,350.5 L513.8,348.3 L514.8,348.4 L514.8,348.8 L515.8,350.8 L515.8,348.3 L516.8,347.2 L516.8,348.7 L517.8,353.7 L517.8,352.5 L518.8,351.8 L518.8,352.5 L519.8,351.6 L519.8,351.5 L520.8,349.1 L520.8,350.3 L521.8,349.5 L521.8,348.3 L522.8,349.7 L522.8,351.0 L523.8,348.0 L523.8,347.7 L524.8,349.1 L524.8,351.1 L525.8,352.3 L525.8,351.7 L526.8,348.9 L526.8,351.3 L527.8,354.1 L527.8,351.2 L528.8,352.6 L528.8,353.6 L529.8,352.8 L529.8,351.6 L530.8,351.2 L530.8,352.1 L531.8,353.1 L531.8,352.4 L532.8,350.6 L532.8,353.2 L533.8,353.0 L533.8,351.6 L534.8,353.1 L534.8,354.2 L535.8,353.4 L535.8,351.2 L536.8,351.5 L536.8,352.0 L537.8,355.2 L537.8,353.4 L538.8,353.5 L538.8,354.9 L539.8,356.1 L539.8,355.0 L540.8,355.2 L540.8,355.2 L541.8,355.8 L541.8,355.4 L542.8,352.9 L542.8,353.4 L543.8,354.0 L543.8,353.7 L544.8,351.3 L544.8,353.9 L545.8,353.7 L545.8,352.3 L546.8,352.2 L546.8,355.8 L547.8,353.1 L547.8,351.2 L548.8,348.7 L548.8,350.2 L549.8,349.5 L549.8,348.5 L550.3,351.9" fill="none" stroke="#ff7f0e" stroke-width="2.08" stroke-linejoin="round" stroke-linecap="butt"/>
<path d="M88.6,338.8 L89.1,324.9 L89.1,333.8 L90.1,312.4 L90.1,307.2 L91.1,302.5 L91.1,303.9 L92.1,303.5 L92.1,303.0 L93.1,303.9 L93.1,305.0 L94.1,300.3 L94.1,298.5 L95.1,299.4 L95.1,300.3 L96.1,301.7 L96.1,300.5 L97.1,299.8 L97.1,300.6 L98.1,302.0 L98.1,301.3 L99.1,301.6 L99.1,302.0 L100.1,301.2 L100.1,299.5 L101.1,302.0 L101.1,302.3 L102.1,301.8 L102.1,301.2 L103.1,297.8 L103.1,299.3 L104.1,297.2 L104.1,296.7 L105.1,298.7 L105.1,299.3 L106.1,300.8 L106.1,299.8 L107.1,297.8 L107.1,297.9 L108.1,300.4 L108.1,299.1 L109.1,300.0 L109.1,302.3 L110.1,299.5 L110.1,299.5 L111.1,300.0 L111.1,300.4 L112.1,300.8 L112.1,300.7 L113.1,299.2 L113.1,301.5 L114.1,299.5 L114.1,297.1 L115.1,297.6 L115.1,298.9 L116.1,299.6 L116.1,297.7 L117.1,300.4 L117.1,301.1 L118.1,300.4 L118.1,300.4 L119.1,299.8 L119.1,300.1 L120.1,302.1 L120.1,300.7 L121.1,302.9 L121.1,303.0 L122.1,304.8 L122.1,304.2 L123.1,299.4 L123.1,299.9 L124.1,300.4 L124.1,299.0 L125.1,300.5 L125.1,301.5 L126.1,303.1 L126.1,302.5 L127.1,301.4 L127.1,302.1 L128.1,304.1 L128.1,302.8 L129.1,302.1 L129.1,303.6 L130.1,302.6 L130.1,302.0 L131.1,302.2 L131.1,303.3 L132.1,300.9 L132.1,299.2 L133.1,302.0 L133.1,303.4 L134.1,304.3 L134.1,300.7 L135.1,303.7 L135.1,304.4 L136.1,307.7 L136.1,306.7 L137.1,304.4 L137.1,308.2 L138.1,303.9 L138.1,302.7 L139.1,302.7 L139.1,304.4 L140.1,305.8 L140.1,303.9 L141.1,305.4 L141.1,306.8 L142.1,307.2 L142.1,306.3 L143.1,303.5 L143.1,305.3 L144.1,304.2 L144.1,303.6 L145.1,302.2 L145.1,302.4 L146.1,304.9 L146.1,302.6 L147.1,304.5 L147.1,307.5 L148.1,308.8 L148.1,308.4 L149.1,305.8 L149.1,307.7 L150.1,305.5 L150.1,303.1 L151.1,304.7 L151.1,305.7 L152.1,303.6 L152.1,302.8 L153.1,306.2 L153.1,306.3 L154.1,308.8 L154.1,308.5 L155.1,307.7 L155.1,309.1 L156.1,308.5 L156.1,306.6 L157.1,307.5 L157.1,308.1 L158.1,308.9 L158.1,307.8 L159.1,307.1 L159.1,307.7 L160.1,307.3 L160.1,305.4 L161.1,306.2 L161.1,307.7 L162.1,309.7 L162.1,307.4 L163.1,309.8 L163.1,310.4 L164.1,308.5 L164.1,306.2 L165.1,306.3 L165.1,306.7 L166.0,307.5 L166.0,307.1 L167.0,307.2 L167.0,307.8 L168.0,309.3 L168.0,304.9 L169.0,305.4 L169.0,306.0 L170.0,308.6 L170.0,308.5 L171.0,308.2 L171.0,308.8 L172.0,306.4 L172.0,304.2 L173.0,305.6 L173.0,306.6 L174.0,307.3 L174.0,306.1 L175.0,306.5 L175.0,306.7 L176.0,306.5 L176.0,305.9 L177.0,305.9 L177.0,308.0 L178.0,307.4 L178.0,305.5 L179.0,304.9 L179.0,305.5 L180.0,306.2 L180.0,305.5 L181.0,307.3 L181.0,307.7 L182.0,308.0 L182.0,306.5 L183.0,304.5 L183.0,305.1 L184.0,306.1 L184.0,301.8 L185.0,306.7 L185.0,308.9 L186.0,305.9 L186.0,305.3 L187.0,303.9 L187.0,307.6 L188.0,308.0 L188.0,306.2 L189.0,305.8 L189.0,306.7 L190.0,305.8 L190.0,304.5 L191.0,306.0 L191.0,306.1 L192.0,308.0 L192.0,307.9 L193.0,303.7 L193.0,307.5 L194.0,304.0 L194.0,303.7 L195.0,303.5 L195.0,305.3 L196.0,307.9 L196.0,305.7 L197.0,307.3 L197.0,307.9 L198.0,305.5 L198.0,305.3 L199.0,306.3 L199.0,306.8 L200.0,306.8 L200.0,304.2 L201.0,306.2 L201.0,306.5 L202.0,310.0 L202.0,309.6 L203.0,308.7 L203.0,309.1 L204.0,309.6 L204.0,307.2 L205.0,308.6 L205.0,310.0 L206.0,309.6 L206.0,308.1 L207.0,309.0 L207.0,309.9 L208.0,310.3 L208.0,309.9 L209.0,307.1 L209.0,309.0 L210.0,308.9 L210.0,307.5 L211.0,307.6 L211.0,308.0 L212.0,307.7 L212.0,306.2 L213.0,311.1 L213.0,312.1 L214.0,313.5 L214.0,312.8 L215.0,310.8 L215.0,311.5 L216.0,311.3 L216.0,309.0 L217.0,311.6 L217.0,312.2 L218.0,311.8 L218.0,310.9 L219.0,309.9 L219.0,311.4 L220.0,312.5 L220.0,312.4 L221.0,312.4 L221.0,313.3 L222.0,314.2 L222.0,314.0 L223.0,312.7 L223.0,312.8 L224.0,314.0 L224.0,313.7 L225.0,313.3 L225.0,314.7 L226.0,312.0 L226.0,311.0 L227.0,311.8 L227.0,312.3 L228.0,312.0 L228.0,307.5 L229.0,311.5 L229.0,313.1 L230.0,314.9 L230.0,312.9 L231.0,313.5 L231.0,313.7 L232.0,312.6 L232.0,310.7 L233.0,310.8 L233.0,311.1 L234.0,310.6 L234.0,304.8 L235.0,310.5 L235.0,311.8 L236.0,313.7 L236.0,312.3 L237.0,315.5 L237.0,315.8 L238.0,317.3 L238.0,313.2 L239.0,313.6 L239.0,314.8 L240.0,315.5 L240.0,313.4 L241.0,313.2 L241.0,315.7 L242.0,315.7 L242.0,314.9 L243.0,316.0 L243.0,316.3 L244.0,315.5 L244.0,313.9 L245.0,314.0 L245.0,314.2 L246.0,313.5 L246.0,312.1 L247.0,314.4 L247.0,316.3 L248.0,315.8 L248.0,315.0 L249.0,317.5 L249.0,317.7 L250.0,317.0 L250.0,316.9 L251.0,314.2 L251.0,316.2 L252.0,318.2 L252.0,317.5 L253.0,314.8 L253.0,317.2 L254.0,316.8 L254.0,316.2 L255.0,315.3 L255.0,317.7 L256.0,315.1 L256.0,313.9 L257.0,311.3 L257.0,314.9 L258.0,315.6 L258.0,313.7 L259.0,314.0 L259.0,314.6 L260.0,316.9 L260.0,314.5 L261.0,314.6 L261.0,316.8 L262.0,317.0 L262.0,317.0 L263.0,315.0 L263.0,316.8 L264.0,317.5 L264.0,316.6 L265.0,313.9 L265.0,314.8 L266.0,315.5 L266.0,314.7 L267.0,315.4 L267.0,318.2 L268.0,318.7 L268.0,317.3 L269.0,317.7 L269.0,318.2 L270.0,319.9 L270.0,318.6 L271.0,317.7 L271.0,319.1 L272.0,318.7 L272.0,318.2 L273.0,316.6 L273.0,317.7 L274.0,318.9 L274.0,317.9 L275.0,318.7 L275.0,320.7 L276.0,320.1 L276.0,317.7 L277.0,319.7 L277.0,320.5 L278.0,317.9 L278.0,317.9 L279.0,319.9 L279.0,321.2 L280.0,318.2 L280.0,318.1 L281.0,318.5 L281.0,319.0 L282.0,321.4 L282.0,319.9 L283.0,319.1 L283.0,320.6 L284.0,319.0 L284.0,318.4 L285.0,319.4 L285.0,320.5 L286.0,323.0 L286.0,321.8 L287.0,320.4 L287.0,321.0 L288.0,322.2 L288.0,319.6 L289.0,321.3 L289.0,322.5 L290.0,321.0 L290.0,320.2 L291.0,318.7 L291.0,319.0 L292.0,320.9 L292.0,320.7 L293.0,321.9 L293.0,322.7 L294.0,322.6 L294.0,321.4 L295.0,321.2 L295.0,324.0 L296.0,322.4 L296.0,319.5 L297.0,319.1 L297.0,320.6 L298.0,320.0 L298.0,318.9 L299.0,322.9 L299.0,323.4 L300.0,322.1 L300.0,321.6 L301.0,317.9 L301.0,321.9 L302.0,322.8 L302.0,321.6 L303.0,321.4 L303.0,324.9 L304.0,322.5 L304.0,322.4 L305.0,322.6 L305.0,323.2 L306.0,325.3 L306.0,323.1 L307.0,323.8 L307.0,325.2 L308.0,327.6 L308.0,322.7 L309.0,324.5 L309.0,325.4 L310.0,327.2 L310.0,325.3 L311.0,323.3 L311.0,326.8 L312.0,324.9 L312.0,323.6 L313.0,321.5 L313.0,325.0 L314.0,325.4 L314.0,325.2 L315.0,326.1 L315.0,326.6 L316.0,325.5 L316.0,323.2 L317.0,324.4 L317.0,325.3 L318.0,326.4 L318.0,323.7 L319.0,324.3 L319.0,325.2 L319.9,325.9 L319.9,323.1 L320.9,326.2 L320.9,326.6 L321.9,328.4 L321.9,326.7 L322.9,326.8 L322.9,328.8 L323.9,327.2 L323.9,325.6 L324.9,324.6 L324.9,325.0 L325.9,325.8 L325.9,324.6 L326.9,325.7 L326.9,327.3 L327.9,329.2 L327.9,327.9 L328.9,326.4 L328.9,326.6 L329.9,326.7 L329.9,324.9 L330.9,325.2 L330.9,325.7 L331.9,328.1 L331.9,327.8 L332.9,327.9 L332.9,328.1 L333.9,330.4 L333.9,328.4 L334.9,329.5 L334.9,330.2 L335.9,328.9 L335.9,328.7 L336.9,328.2 L336.9,329.7 L337.9,329.6 L337.9,327.1 L338.9,327.5 L338.9,328.7 L339.9,330.8 L339.9,329.0 L340.9,326.8 L340.9,330.3 L341.9,329.0 L341.9,327.8 L342.9,326.9 L342.9,327.8 L343.9,327.8 L343.9,327.5 L344.9,329.1 L344.9,330.3 L345.9,333.1 L345.9,330.1 L346.9,328.8 L346.9,329.5 L347.9,330.0 L347.9,329.6 L348.9,325.9 L348.9,326.5 L349.9,330.1 L349.9,329.2 L350.9,327.0 L350.9,328.6 L351.9,328.4 L351.9,325.8 L352.9,327.6 L352.9,327.7 L353.9,332.1 L353.9,329.7 L354.9,332.0 L354.9,335.2 L355.9,332.9 L355.9,332.2 L356.9,329.7 L356.9,331.3 L357.9,331.5 L357.9,330.3 L358.9,329.6 L358.9,329.9 L359.9,330.5 L359.9,329.4 L360.9,331.6 L360.9,332.3 L361.9,331.7 L361.9,330.3 L362.9,331.4 L362.9,334.4 L363.9,334.5 L363.9,332.1 L364.9,330.3 L364.9,331.0 L365.9,331.6 L365.9,331.2 L366.9,331.6 L366.9,335.4 L367.9,336.4 L367.9,334.0 L368.9,332.7 L368.9,333.2 L369.9,334.9 L369.9,332.7 L370.9,332.8 L370.9,333.8 L371.9,332.5 L371.9,329.9 L372.9,333.5 L372.9,333.5 L373.9,332.3 L373.9,331.2 L374.9,333.3 L374.9,334.4 L375.9,336.7 L375.9,335.5 L376.9,334.0 L376.9,334.9 L377.9,337.8 L377.9,334.7 L378.9,334.9 L378.9,336.4 L379.9,331.3 L379.9,330.4 L380.9,333.2 L380.9,333.3 L381.9,335.5 L381.9,334.3 L382.9,332.6 L382.9,334.2 L383.9,336.4 L383.9,334.5 L384.9,335.2 L384.9,335.4 L385.9,336.1 L385.9,334.0 L386.9,333.7 L386.9,334.0 L387.9,332.2 L387.9,330.4 L388.9,333.6 L388.9,335.5 L389.9,339.9 L389.9,338.6 L390.9,334.0 L390.9,336.0 L391.9,334.2 L391.9,332.4 L392.9,333.9 L392.9,335.5 L393.9,334.5 L393.9,334.5 L394.9,332.7 L394.9,334.1 L395.9,335.8 L395.9,334.9 L396.9,334.3 L396.9,335.6 L397.9,337.7 L397.9,334.3 L398.9,332.0 L398.9,334.2 L399.9,335.3 L399.9,335.1 L400.9,336.1 L400.9,336.4 L401.9,335.2 L401.9,333.9 L402.9,333.2 L402.9,335.8 L403.9,333.8 L403.9,330.8 L404.9,332.8 L404.9,333.4 L405.9,335.4 L405.9,334.7 L406.9,335.3 L406.9,336.6 L407.9,336.8 L407.9,335.8 L408.9,335.4 L408.9,335.5 L409.9,335.4 L409.9,332.7 L410.9,331.9 L410.9,334.5 L411.9,337.6 L411.9,333.9 L412.9,334.9 L412.9,336.2 L413.9,335.3 L413.9,334.1 L414.9,334.8 L414.9,335.3 L415.9,336.1 L415.9,335.3 L416.9,335.6 L416.9,336.2 L417.9,337.0 L417.9,335.2 L418.9,337.3 L418.9,337.6 L419.9,338.2 L419.9,335.1 L420.9,334.9 L420.9,337.6 L421.9,340.0 L421.9,338.0 L422.9,339.3 L422.9,339.8 L423.9,340.7 L423.9,339.0 L424.9,335.6 L424.9,335.6 L425.9,334.7 L425.9,332.2 L426.9,336.6 L426.9,337.6 L427.9,338.1 L427.9,337.6 L428.9,335.3 L428.9,337.5 L429.9,336.5 L429.9,335.9 L430.9,338.9 L430.9,339.1 L431.9,339.2 L431.9,339.0 L432.9,338.6 L432.9,340.5 L433.9,337.9 L433.9,337.8 L434.9,336.9 L434.9,340.4 L435.9,338.7 L435.9,334.6 L436.9,335.7 L436.9,337.9 L437.9,335.9 L437.9,334.8 L438.9,334.3 L438.9,336.7 L439.9,341.7 L439.9,338.3 L440.9,339.4 L440.9,339.9 L441.9,340.4 L441.9,339.6 L442.9,341.6 L442.9,342.4 L443.9,338.6 L443.9,338.4 L444.9,339.6 L444.9,341.4 L445.9,340.7 L445.9,338.9 L446.9,338.8 L446.9,339.0 L447.9,339.9 L447.9,338.8 L448.9,337.3 L448.9,337.9 L449.9,339.7 L449.9,338.5 L450.9,338.4 L450.9,339.0 L451.9,339.8 L451.9,339.1 L452.9,338.6 L452.9,339.4 L453.9,340.8 L453.9,340.0 L454.9,337.9 L454.9,338.5 L455.9,338.5 L455.9,337.5 L456.9,340.4 L456.9,343.0 L457.9,338.5 L457.9,338.3 L458.9,338.5 L458.9,340.9 L459.9,340.8 L459.9,339.0 L460.9,338.6 L460.9,338.8 L461.9,339.9 L461.9,339.0 L462.9,339.8 L462.9,340.3 L463.9,339.7 L463.9,339.6 L464.9,339.2 L464.9,341.5 L465.9,341.1 L465.9,340.4 L466.9,337.7 L466.9,338.3 L467.9,341.1 L467.9,340.8 L468.9,340.6 L468.9,341.2 L469.9,342.2 L469.9,341.4 L470.9,342.9 L470.9,343.5 L471.9,342.5 L471.9,340.2 L472.9,338.2 L472.9,341.7 L473.8,343.8 L473.8,340.9 L474.8,339.6 L474.8,339.7 L475.8,339.6 L475.8,338.7 L476.8,338.8 L476.8,341.8 L477.8,340.0 L477.8,339.5 L478.8,339.9 L478.8,341.8 L479.8,341.7 L479.8,340.8 L480.8,339.9 L480.8,341.5 L481.8,345.4 L481.8,342.0 L482.8,341.9 L482.8,343.5 L483.8,345.6 L483.8,339.5 L484.8,338.8 L484.8,340.0 L485.8,342.1 L485.8,341.8 L486.8,342.3 L486.8,342.6 L487.8,343.6 L487.8,343.1 L488.8,338.7 L488.8,342.7 L489.8,342.2 L489.8,341.0 L490.8,337.9 L490.8,342.5 L491.8,342.2 L491.8,340.6 L492.8,339.6 L492.8,342.1 L493.8,341.7 L493.8,341.0 L494.8,342.0 L494.8,342.4 L495.8,344.1 L495.8,340.6 L496.8,340.6 L496.8,342.9 L497.8,343.4 L497.8,339.1 L498.8,340.4 L498.8,341.7 L499.8,341.0 L499.8,340.8 L500.8,341.6 L500.8,342.1 L501.8,342.0 L501.8,340.9 L502.8,342.8 L502.8,343.2 L503.8,345.0 L503.8,342.1 L504.8,341.1 L504.8,342.2 L505.8,343.3 L505.8,342.4 L506.8,343.8 L506.8,344.7 L507.8,345.1 L507.8,343.2 L508.8,343.3 L508.8,344.2 L509.8,342.9 L509.8,341.6 L510.8,342.7 L510.8,342.9 L511.8,344.3 L511.8,343.9 L512.8,343.5 L512.8,344.5 L513.8,346.5 L513.8,342.9 L514.8,344.7 L514.8,345.4 L515.8,344.5 L515.8,343.2 L516.8,343.1 L516.8,344.8 L517.8,342.6 L517.8,341.7 L518.8,340.2 L518.8,340.3 L519.8,343.5 L519.8,343.4 L520.8,341.3 L520.8,345.8 L521.8,343.7 L521.8,343.3 L522.8,342.6 L522.8,343.6 L523.8,343.3 L523.8,341.0 L524.8,343.1 L524.8,343.1 L525.8,345.7 L525.8,344.1 L526.8,345.3 L526.8,345.8 L527.8,345.6 L527.8,343.9 L528.8,343.7 L528.8,344.8 L529.8,343.1 L529.8,342.9 L530.8,343.7 L530.8,344.4 L531.8,345.0 L531.8,342.6 L532.8,342.6 L532.8,344.3 L533.8,347.1 L533.8,345.8 L534.8,343.5 L534.8,345.0 L535.8,347.9 L535.8,344.6 L536.8,343.4 L536.8,344.2 L537.8,345.5 L537.8,345.1 L538.8,342.9 L538.8,343.2 L539.8,345.0 L539.8,344.5 L540.8,346.4 L540.8,346.7 L541.8,343.6 L541.8,342.2 L542.8,341.4 L542.8,341.9 L543.8,343.4 L543.8,341.0 L544.8,342.8 L544.8,343.4 L545.8,346.4 L545.8,343.1 L546.8,342.6 L546.8,345.5 L547.8,343.8 L547.8,343.4 L548.8,341.2 L548.8,342.4 L549.8,344.1 L549.8,343.1 L550.3,342.7" fill="none" stroke="#2ca02c" stroke-width="2.08" stroke-linejoin="round" stroke-linecap="butt"/>
<path d="M88.6,320.5 L89.1,320.5 L89.1,321.4 L90.1,319.5 L90.1,317.3 L91.1,320.7 L91.1,321.3 L92.1,324.6 L92.1,324.5 L93.1,321.3 L93.1,322.0 L94.1,322.7 L94.1,321.1 L95.1,323.9 L95.1,324.5 L96.1,324.0 L96.1,322.3 L97.1,324.7 L97.1,324.9 L98.1,324.5 L98.1,322.5 L99.1,322.4 L99.1,327.2 L100.1,327.2 L100.1,325.3 L101.1,321.7 L101.1,323.6 L102.1,326.1 L102.1,319.3 L103.1,324.9 L103.1,325.2 L104.1,325.9 L104.1,324.2 L105.1,325.1 L105.1,326.2 L106.1,323.0 L106.1,322.9 L107.1,322.9 L107.1,323.3 L108.1,322.2 L108.1,322.1 L109.1,324.0 L109.1,324.9 L110.1,324.9 L110.1,323.5 L111.1,319.5 L111.1,325.0 L112.1,329.3 L112.1,325.2 L113.1,324.8 L113.1,325.9 L114.1,324.4 L114.1,324.1 L115.1,323.2 L115.1,324.6 L116.1,324.4 L116.1,321.1 L117.1,323.6 L117.1,324.8 L118.1,324.6 L118.1,322.3 L119.1,327.5 L119.1,327.5 L120.1,327.4 L120.1,325.6 L121.1,322.3 L121.1,326.6 L122.1,326.2 L122.1,323.5 L123.1,324.1 L123.1,324.2 L124.1,325.2 L124.1,324.3 L125.1,321.9 L125.1,323.4 L126.1,327.2 L126.1,321.5 L127.1,323.0 L127.1,325.2 L128.1,323.4 L128.1,322.7 L129.1,323.4 L129.1,327.9 L130.1,327.4 L130.1,323.0 L131.1,324.1 L131.1,327.2 L132.1,328.0 L132.1,323.5 L133.1,321.3 L133.1,325.3 L134.1,322.0 L134.1,321.1 L135.1,323.6 L135.1,324.3 L136.1,324.5 L136.1,320.5 L137.1,323.8 L137.1,326.7 L138.1,329.8 L138.1,326.3 L139.1,322.9 L139.1,325.6 L140.1,327.4 L140.1,324.0 L141.1,324.4 L141.1,325.9 L142.1,324.3 L142.1,323.1 L143.1,326.3 L143.1,326.4 L144.1,325.9 L144.1,324.5 L145.1,321.7 L145.1,326.1 L146.1,321.3 L146.1,321.2 L147.1,323.5 L147.1,324.2 L148.1,327.2 L148.1,325.3 L149.1,325.8 L149.1,326.1 L150.1,326.6 L150.1,324.9 L151.1,323.7 L151.1,324.2 L152.1,325.5 L152.1,323.8 L153.1,321.7 L153.1,324.4 L154.1,326.0 L154.1,325.8 L155.1,327.2 L155.1,328.1 L156.1,326.2 L156.1,324.2 L157.1,327.4 L157.1,327.9 L158.1,325.3 L158.1,324.1 L159.1,323.8 L159.1,325.2 L160.1,324.8 L160.1,324.8 L161.1,325.7 L161.1,329.2 L162.1,327.0 L162.1,323.8 L163.1,324.0 L163.1,324.5 L164.1,323.5 L164.1,322.7 L165.1,321.8 L165.1,323.5 L166.0,321.7 L166.0,321.0 L167.0,323.2 L167.0,324.2 L168.0,327.8 L168.0,322.5 L169.0,324.6 L169.0,327.0 L170.0,323.6 L170.0,322.4 L171.0,322.7 L171.0,322.8 L172.0,325.2 L172.0,322.4 L173.0,324.3 L173.0,328.7 L174.0,326.5 L174.0,325.9 L175.0,321.5 L175.0,326.9 L176.0,327.1 L176.0,322.9 L177.0,322.4 L177.0,322.7 L178.0,326.1 L178.0,322.1 L179.0,321.4 L179.0,322.7 L180.0,324.8 L180.0,323.9 L181.0,321.8 L181.0,326.2 L182.0,324.6 L182.0,323.3 L183.0,324.8 L183.0,326.7 L184.0,326.7 L184.0,326.4 L185.0,326.1 L185.0,327.6 L186.0,328.8 L186.0,326.7 L187.0,323.7 L187.0,324.9 L188.0,325.3 L188.0,323.5 L189.0,322.6 L189.0,323.7 L190.0,324.8 L190.0,322.8 L191.0,323.0 L191.0,324.8 L192.0,326.4 L192.0,324.8 L193.0,327.5 L193.0,328.4 L194.0,324.6 L194.0,321.8 L195.0,325.2 L195.0,325.4 L196.0,327.1 L196.0,324.5 L197.0,325.3 L197.0,328.4 L198.0,323.8 L198.0,323.3 L199.0,321.4 L199.0,326.5 L200.0,323.2 L200.0,322.1 L201.0,326.0 L201.0,327.8 L202.0,327.2 L202.0,324.4 L203.0,322.4 L203.0,327.2 L204.0,326.4 L204.0,326.3 L205.0,325.3 L205.0,327.8 L206.0,326.4 L206.0,325.1 L207.0,326.0 L207.0,327.6 L208.0,326.3 L208.0,324.8 L209.0,326.2 L209.0,329.7 L210.0,324.2 L210.0,323.7 L211.0,323.6 L211.0,327.2 L212.0,325.0 L212.0,323.6 L213.0,325.3 L213.0,326.4 L214.0,325.7 L214.0,322.3 L215.0,322.3 L215.0,322.7 L216.0,328.6 L216.0,327.3 L217.0,327.5 L217.0,328.6 L218.0,323.9 L218.0,322.2 L219.0,322.9 L219.0,328.1 L220.0,325.5 L220.0,324.6 L221.0,322.8 L221.0,329.0 L222.0,325.4 L222.0,322.8 L223.0,324.4 L223.0,325.8 L224.0,326.9 L224.0,324.9 L225.0,327.0 L225.0,327.1 L226.0,327.4 L226.0,326.3 L227.0,327.1 L227.0,327.7 L228.0,325.2 L228.0,324.2 L229.0,326.4 L229.0,329.4 L230.0,327.7 L230.0,325.0 L231.0,323.3 L231.0,329.2 L232.0,326.9 L232.0,325.2 L233.0,324.3 L233.0,324.5 L234.0,325.9 L234.0,324.2 L235.0,321.9 L235.0,326.4 L236.0,324.0 L236.0,322.0 L237.0,323.4 L237.0,327.5 L238.0,326.9 L238.0,322.6 L239.0,319.8 L239.0,325.5 L240.0,325.2 L240.0,323.1 L241.0,324.9 L241.0,326.6 L242.0,327.4 L242.0,326.7 L243.0,324.1 L243.0,326.2 L244.0,325.9 L244.0,324.6 L245.0,324.5 L245.0,324.7 L246.0,326.2 L246.0,324.5 L247.0,323.2 L247.0,325.6 L248.0,327.1 L248.0,321.5 L249.0,325.2 L249.0,326.9 L250.0,326.1 L250.0,323.5 L251.0,322.8 L251.0,323.0 L252.0,328.2 L252.0,326.2 L253.0,324.9 L253.0,325.3 L254.0,327.0 L254.0,326.9 L255.0,323.4 L255.0,326.5 L256.0,326.3 L256.0,325.9 L257.0,325.0 L257.0,325.6 L258.0,325.0 L258.0,324.2 L259.0,324.7 L259.0,324.9 L260.0,328.4 L260.0,325.6 L261.0,326.8 L261.0,327.3 L262.0,325.0 L262.0,324.1 L263.0,324.2 L263.0,325.8 L264.0,328.1 L264.0,324.7 L265.0,324.2 L265.0,326.5 L266.0,326.9 L266.0,324.5 L267.0,323.5 L267.0,326.7 L268.0,326.2 L268.0,324.9 L269.0,326.0 L269.0,326.9 L270.0,327.2 L270.0,325.6 L271.0,326.7 L271.0,328.9 L272.0,328.9 L272.0,328.5 L273.0,323.7 L273.0,327.2 L274.0,330.6 L274.0,326.0 L275.0,324.0 L275.0,326.0 L276.0,325.0 L276.0,321.0 L277.0,328.0 L277.0,328.0 L278.0,325.2 L278.0,324.2 L279.0,324.8 L279.0,326.1 L280.0,326.4 L280.0,324.3 L281.0,324.1 L281.0,326.2 L282.0,327.6 L282.0,324.6 L283.0,324.5 L283.0,326.7 L284.0,326.3 L284.0,323.9 L285.0,323.6 L285.0,324.5 L286.0,325.4 L286.0,321.3 L287.0,325.4 L287.0,325.7 L288.0,323.9 L288.0,323.8 L289.0,324.0 L289.0,327.2 L290.0,325.7 L290.0,324.2 L291.0,322.0 L291.0,327.9 L292.0,323.7 L292.0,323.0 L293.0,322.2 L293.0,323.5 L294.0,325.1 L294.0,323.0 L295.0,322.5 L295.0,324.8 L296.0,327.8 L296.0,327.4 L297.0,327.3 L297.0,327.9 L298.0,325.9 L298.0,322.5 L299.0,323.7 L299.0,328.8 L300.0,332.1 L300.0,322.7 L301.0,323.1 L301.0,324.4 L302.0,324.5 L302.0,322.9 L303.0,324.7 L303.0,325.0 L304.0,326.6 L304.0,322.2 L305.0,324.2 L305.0,324.8 L306.0,328.4 L306.0,326.7 L307.0,323.5 L307.0,325.0 L308.0,326.6 L308.0,324.7 L309.0,323.6 L309.0,325.1 L310.0,325.5 L310.0,323.5 L311.0,322.5 L311.0,327.9 L312.0,326.0 L312.0,324.2 L313.0,325.0 L313.0,325.5 L314.0,325.2 L314.0,321.0 L315.0,324.9 L315.0,328.1 L316.0,325.7 L316.0,324.9 L317.0,324.7 L317.0,327.4 L318.0,326.4 L318.0,325.7 L319.0,324.3 L319.0,327.9 L319.9,325.5 L319.9,325.1 L320.9,324.1 L320.9,324.3 L321.9,326.0 L321.9,326.0 L322.9,326.0 L322.9,326.7 L323.9,326.9 L323.9,325.4 L324.9,326.8 L324.9,329.0 L325.9,324.3 L325.9,324.1 L326.9,323.3 L326.9,324.4 L327.9,325.9 L327.9,322.9 L328.9,327.1 L328.9,327.1 L329.9,324.4 L329.9,323.0 L330.9,322.1 L330.9,325.3 L331.9,326.9 L331.9,324.7 L332.9,324.2 L332.9,329.2 L333.9,327.1 L333.9,326.5 L334.9,325.4 L334.9,325.9 L335.9,324.9 L335.9,321.3 L336.9,324.2 L336.9,326.5 L337.9,326.3 L337.9,325.3 L338.9,323.1 L338.9,325.0 L339.9,324.2 L339.9,323.8 L340.9,325.2 L340.9,326.9 L341.9,327.4 L341.9,326.3 L342.9,322.6 L342.9,326.4 L343.9,323.7 L343.9,323.0 L344.9,326.0 L344.9,328.6 L345.9,324.4 L345.9,324.1 L346.9,322.0 L346.9,325.0 L347.9,326.1 L347.9,322.9 L348.9,325.4 L348.9,325.5 L349.9,326.9 L349.9,325.5 L350.9,326.2 L350.9,328.5 L351.9,329.8 L351.9,327.9 L352.9,322.7 L352.9,328.7 L353.9,324.5 L353.9,323.7 L354.9,323.0 L354.9,324.8 L355.9,327.5 L355.9,325.5 L356.9,326.9 L356.9,328.0 L357.9,328.4 L357.9,326.4 L358.9,324.3 L358.9,326.7 L359.9,326.4 L359.9,325.0 L360.9,323.8 L360.9,328.5 L361.9,324.6 L361.9,322.9 L362.9,323.1 L362.9,324.8 L363.9,324.8 L363.9,323.5 L364.9,323.9 L364.9,325.4 L365.9,327.4 L365.9,322.9 L366.9,326.9 L366.9,327.2 L367.9,327.5 L367.9,325.4 L368.9,326.4 L368.9,328.2 L369.9,325.5 L369.9,323.5 L370.9,325.1 L370.9,327.8 L371.9,327.3 L371.9,324.3 L372.9,325.8 L372.9,327.2 L373.9,327.7 L373.9,327.5 L374.9,324.7 L374.9,327.9 L375.9,325.8 L375.9,325.7 L376.9,326.7 L376.9,328.9 L377.9,327.9 L377.9,327.7 L378.9,324.9 L378.9,325.1 L379.9,326.8 L379.9,326.4 L380.9,325.8 L380.9,326.0 L381.9,331.8 L381.9,327.6 L382.9,326.4 L382.9,328.1 L383.9,324.2 L383.9,323.0 L384.9,323.6 L384.9,325.3 L385.9,325.2 L385.9,322.7 L386.9,324.6 L386.9,329.1 L387.9,325.2 L387.9,325.0 L388.9,324.8 L388.9,326.7 L389.9,327.5 L389.9,327.2 L390.9,326.2 L390.9,326.3 L391.9,328.4 L391.9,326.5 L392.9,324.2 L392.9,325.8 L393.9,325.9 L393.9,325.6 L394.9,323.8 L394.9,326.1 L395.9,324.7 L395.9,324.5 L396.9,325.2 L396.9,326.2 L397.9,327.7 L397.9,327.3 L398.9,325.3 L398.9,325.7 L399.9,324.0 L399.9,323.0 L400.9,322.8 L400.9,323.1 L401.9,326.5 L401.9,326.3 L402.9,326.5 L402.9,327.3 L403.9,328.6 L403.9,327.1 L404.9,325.2 L404.9,327.3 L405.9,326.6 L405.9,322.5 L406.9,323.4 L406.9,323.8 L407.9,324.9 L407.9,323.8 L408.9,324.1 L408.9,325.6 L409.9,326.3 L409.9,325.5 L410.9,326.5 L410.9,327.9 L411.9,328.3 L411.9,327.1 L412.9,329.1 L412.9,330.4 L413.9,324.9 L413.9,324.0 L414.9,325.0 L414.9,327.9 L415.9,325.7 L415.9,325.6 L416.9,323.5 L416.9,326.4 L417.9,325.7 L417.9,324.4 L418.9,326.5 L418.9,328.4 L419.9,325.3 L419.9,323.2 L420.9,324.1 L420.9,325.1 L421.9,325.5 L421.9,322.5 L422.9,323.8 L422.9,326.7 L423.9,325.1 L423.9,325.1 L424.9,325.0 L424.9,325.9 L425.9,329.8 L425.9,326.0 L426.9,324.9 L426.9,325.3 L427.9,323.5 L427.9,323.4 L428.9,323.4 L428.9,325.4 L429.9,327.9 L429.9,324.9 L430.9,326.8 L430.9,329.0 L431.9,327.4 L431.9,327.0 L432.9,324.0 L432.9,325.9 L433.9,324.4 L433.9,323.9 L434.9,324.7 L434.9,326.9 L435.9,327.3 L435.9,321.1 L436.9,324.7 L436.9,326.4 L437.9,327.6 L437.9,327.4 L438.9,321.3 L438.9,326.3 L439.9,326.9 L439.9,322.4 L440.9,324.4 L440.9,327.5 L441.9,326.1 L441.9,326.1 L442.9,323.5 L442.9,323.8 L443.9,325.4 L443.9,321.9 L444.9,325.2 L444.9,327.7 L445.9,325.0 L445.9,324.4 L446.9,325.0 L446.9,325.4 L447.9,325.9 L447.9,324.6 L448.9,325.1 L448.9,326.9 L449.9,324.4 L449.9,323.8 L450.9,325.3 L450.9,326.3 L451.9,326.7 L451.9,326.5 L452.9,321.6 L452.9,325.6 L453.9,326.0 L453.9,325.9 L454.9,327.7 L454.9,332.3 L455.9,326.7 L455.9,326.5 L456.9,326.9 L456.9,327.1 L457.9,326.3 L457.9,325.1 L458.9,323.2 L458.9,326.4 L459.9,326.3 L459.9,323.9 L460.9,325.0 L460.9,328.0 L461.9,324.6 L461.9,323.0 L462.9,324.4 L462.9,325.8 L463.9,326.4 L463.9,326.3 L464.9,324.7 L464.9,325.6 L465.9,325.3 L465.9,324.8 L466.9,323.5 L466.9,323.8 L467.9,322.2 L467.9,321.8 L468.9,324.1 L468.9,326.0 L469.9,325.7 L469.9,324.2 L470.9,323.1 L470.9,323.2 L471.9,327.6 L471.9,323.8 L472.9,324.6 L472.9,326.0 L473.8,324.8 L473.8,324.7 L474.8,322.1 L474.8,325.4 L475.8,324.7 L475.8,324.7 L476.8,322.9 L476.8,327.2 L477.8,325.2 L477.8,323.5 L478.8,324.9 L478.8,327.9 L479.8,328.8 L479.8,327.2 L480.8,323.8 L480.8,325.7 L481.8,326.9 L481.8,323.3 L482.8,322.0 L482.8,327.2 L483.8,327.6 L483.8,327.2 L484.8,328.2 L484.8,329.2 L485.8,327.4 L485.8,324.4 L486.8,328.4 L486.8,330.0 L487.8,328.9 L487.8,326.2 L488.8,322.5 L488.8,326.0 L489.8,325.2 L489.8,323.4 L490.8,323.5 L490.8,326.3 L491.8,326.5 L491.8,325.1 L492.8,325.9 L492.8,328.1 L493.8,324.9 L493.8,323.9 L494.8,325.5 L494.8,327.7 L495.8,327.1 L495.8,325.8 L496.8,323.9 L496.8,324.2 L497.8,328.4 L497.8,325.5 L498.8,325.0 L498.8,326.3 L499.8,326.6 L499.8,324.0 L500.8,321.0 L500.8,324.6 L501.8,327.8 L501.8,320.6 L502.8,326.1 L502.8,326.4 L503.8,327.1 L503.8,325.5 L504.8,325.3 L504.8,325.4 L505.8,325.2 L505.8,322.7 L506.8,324.9 L506.8,327.4 L507.8,327.2 L507.8,324.9 L508.8,324.9 L508.8,325.2 L509.8,328.3 L509.8,326.7 L510.8,323.5 L510.8,326.1 L511.8,324.9 L511.8,321.7 L512.8,321.3 L512.8,323.1 L513.8,323.2 L513.8,322.4 L514.8,325.2 L514.8,326.3 L515.8,323.6 L515.8,321.5 L516.8,323.4 L516.8,325.0 L517.8,324.1 L517.8,323.1 L518.8,325.0 L518.8,326.6 L519.8,323.9 L519.8,321.2 L520.8,323.5 L520.8,325.5 L521.8,324.4 L521.8,321.3 L522.8,323.6 L522.8,325.2 L523.8,325.8 L523.8,321.7 L524.8,325.0 L524.8,326.0 L525.8,324.9 L525.8,324.8 L526.8,327.5 L526.8,327.7 L527.8,326.5 L527.8,325.1 L528.8,326.2 L528.8,328.1 L529.8,328.3 L529.8,324.9 L530.8,324.5 L530.8,325.2 L531.8,324.9 L531.8,322.9 L532.8,322.1 L532.8,326.6 L533.8,325.1 L533.8,324.2 L534.8,326.7 L534.8,327.3 L535.8,327.5 L535.8,326.7 L536.8,325.1 L536.8,325.1 L537.8,324.9 L537.8,324.2 L538.8,323.7 L538.8,326.9 L539.8,329.4 L539.8,325.0 L540.8,323.9 L540.8,327.1 L541.8,324.2 L541.8,322.8 L542.8,323.7 L542.8,324.0 L543.8,325.2 L543.8,325.2 L544.8,324.9 L544.8,329.4 L545.8,329.0 L545.8,328.3 L546.8,324.3 L546.8,325.1 L547.8,328.1 L547.8,324.7 L548.8,322.2 L548.8,326.3 L549.8,324.7 L549.8,324.0 L550.3,325.4" fill="none" stroke="#d62728" stroke-width="2.08" stroke-linejoin="round" stroke-linecap="butt"/>
<path d="M88.6,327.5 L89.1,328.4 L89.1,329.2 L90.1,328.0 L90.1,326.1 L91.1,326.0 L91.1,326.8 L92.1,327.1 L92.1,325.3 L93.1,326.2 L93.1,326.4 L94.1,328.3 L94.1,323.4 L95.1,325.7 L95.1,326.8 L96.1,326.3 L96.1,324.9 L97.1,325.6 L97.1,328.6 L98.1,325.3 L98.1,324.1 L99.1,325.7 L99.1,327.7 L100.1,327.2 L100.1,325.9 L101.1,323.4 L101.1,324.4 L102.1,325.8 L102.1,323.1 L103.1,326.6 L103.1,329.0 L104.1,331.7 L104.1,329.2 L105.1,327.0 L105.1,328.2 L106.1,325.3 L106.1,324.0 L107.1,324.8 L107.1,326.1 L108.1,327.5 L108.1,325.9 L109.1,327.1 L109.1,328.4 L110.1,327.5 L110.1,325.4 L111.1,326.2 L111.1,328.2 L112.1,325.8 L112.1,325.0 L113.1,323.9 L113.1,328.5 L114.1,329.2 L114.1,328.5 L115.1,325.1 L115.1,326.0 L116.1,328.8 L116.1,326.8 L117.1,322.7 L117.1,327.4 L118.1,328.4 L118.1,323.8 L119.1,324.4 L119.1,328.7 L120.1,328.2 L120.1,327.0 L121.1,324.4 L121.1,327.4 L122.1,327.6 L122.1,324.0 L123.1,322.5 L123.1,325.4 L124.1,326.6 L124.1,326.1 L125.1,326.1 L125.1,329.5 L126.1,327.4 L126.1,324.4 L127.1,323.3 L127.1,324.0 L128.1,328.3 L128.1,325.1 L129.1,323.8 L129.1,325.5 L130.1,321.5 L130.1,319.8 L131.1,323.8 L131.1,324.2 L132.1,325.9 L132.1,323.6 L133.1,325.4 L133.1,326.8 L134.1,327.0 L134.1,325.7 L135.1,325.2 L135.1,325.9 L136.1,324.1 L136.1,323.4 L137.1,319.8 L137.1,321.8 L138.1,324.3 L138.1,323.0 L139.1,324.4 L139.1,326.2 L140.1,329.0 L140.1,324.7 L141.1,322.3 L141.1,324.1 L142.1,322.8 L142.1,322.1 L143.1,322.1 L143.1,325.2 L144.1,326.1 L144.1,322.3 L145.1,322.1 L145.1,325.7 L146.1,328.6 L146.1,327.5 L147.1,323.4 L147.1,326.9 L148.1,326.3 L148.1,322.9 L149.1,324.0 L149.1,326.3 L150.1,327.3 L150.1,326.7 L151.1,324.9 L151.1,326.5 L152.1,325.4 L152.1,322.7 L153.1,324.9 L153.1,325.5 L154.1,328.2 L154.1,324.5 L155.1,323.7 L155.1,324.1 L156.1,325.4 L156.1,323.4 L157.1,324.4 L157.1,325.7 L158.1,327.8 L158.1,326.0 L159.1,322.7 L159.1,326.6 L160.1,326.2 L160.1,323.7 L161.1,325.5 L161.1,325.7 L162.1,327.0 L162.1,326.0 L163.1,324.6 L163.1,324.6 L164.1,325.0 L164.1,324.1 L165.1,327.8 L165.1,328.8 L166.0,324.6 L166.0,324.1 L167.0,324.9 L167.0,327.8 L168.0,325.6 L168.0,321.5 L169.0,324.7 L169.0,325.2 L170.0,326.1 L170.0,322.6 L171.0,327.3 L171.0,328.3 L172.0,325.1 L172.0,324.1 L173.0,324.1 L173.0,327.8 L174.0,325.9 L174.0,323.5 L175.0,321.8 L175.0,322.8 L176.0,325.5 L176.0,324.4 L177.0,323.1 L177.0,323.4 L178.0,324.3 L178.0,323.7 L179.0,321.2 L179.0,325.5 L180.0,323.2 L180.0,322.8 L181.0,323.4 L181.0,326.1 L182.0,329.1 L182.0,325.9 L183.0,322.1 L183.0,327.4 L184.0,328.6 L184.0,322.6 L185.0,325.3 L185.0,327.7 L186.0,324.1 L186.0,323.8 L187.0,324.0 L187.0,324.8 L188.0,328.2 L188.0,324.5 L189.0,326.9 L189.0,328.2 L190.0,330.7 L190.0,324.1 L191.0,323.4 L191.0,323.9 L192.0,328.1 L192.0,324.1 L193.0,327.2 L193.0,328.3 L194.0,329.6 L194.0,322.7 L195.0,323.9 L195.0,325.1 L196.0,325.7 L196.0,323.6 L197.0,324.9 L197.0,328.4 L198.0,324.6 L198.0,324.2 L199.0,324.1 L199.0,326.5 L200.0,327.8 L200.0,326.3 L201.0,325.6 L201.0,325.8 L202.0,325.8 L202.0,324.5 L203.0,323.7 L203.0,325.7 L204.0,327.3 L204.0,324.3 L205.0,324.1 L205.0,326.4 L206.0,323.9 L206.0,322.7 L207.0,322.9 L207.0,323.2 L208.0,325.7 L208.0,323.3 L209.0,326.3 L209.0,326.8 L210.0,324.4 L210.0,323.3 L211.0,324.2 L211.0,324.3 L212.0,326.6 L212.0,321.9 L213.0,324.2 L213.0,324.4 L214.0,324.9 L214.0,324.6 L215.0,323.4 L215.0,325.5 L216.0,326.7 L216.0,323.0 L217.0,324.9 L217.0,325.7 L218.0,327.0 L218.0,323.5 L219.0,321.9 L219.0,325.7 L220.0,325.4 L220.0,324.5 L221.0,323.2 L221.0,324.4 L222.0,325.3 L222.0,323.3 L223.0,323.6 L223.0,327.1 L224.0,326.2 L224.0,323.2 L225.0,323.5 L225.0,325.9 L226.0,329.1 L226.0,326.0 L227.0,326.2 L227.0,326.4 L228.0,326.9 L228.0,326.8 L229.0,323.9 L229.0,325.8 L230.0,324.3 L230.0,322.3 L231.0,322.4 L231.0,324.8 L232.0,324.5 L232.0,324.3 L233.0,323.5 L233.0,325.0 L234.0,324.7 L234.0,324.4 L235.0,323.8 L235.0,325.0 L236.0,321.4 L236.0,319.7 L237.0,320.2 L237.0,326.8 L238.0,324.0 L238.0,320.2 L239.0,322.1 L239.0,325.5 L240.0,326.5 L240.0,325.8 L241.0,323.7 L241.0,325.7 L242.0,324.3 L242.0,323.8 L243.0,325.1 L243.0,325.2 L244.0,329.6 L244.0,328.4 L245.0,323.4 L245.0,328.6 L246.0,326.9 L246.0,326.3 L247.0,323.3 L247.0,327.7 L248.0,325.1 L248.0,324.2 L249.0,323.3 L249.0,324.4 L250.0,326.0 L250.0,323.8 L251.0,327.3 L251.0,327.7 L252.0,326.8 L252.0,325.2 L253.0,322.4 L253.0,324.4 L254.0,326.0 L254.0,325.0 L255.0,323.2 L255.0,326.2 L256.0,323.6 L256.0,322.5 L257.0,324.6 L257.0,326.0 L258.0,326.3 L258.0,323.9 L259.0,319.5 L259.0,323.4 L260.0,325.8 L260.0,319.7 L261.0,328.3 L261.0,330.7 L262.0,328.2 L262.0,326.0 L263.0,322.7 L263.0,325.0 L264.0,325.6 L264.0,324.0 L265.0,324.7 L265.0,327.2 L266.0,326.6 L266.0,325.2 L267.0,325.6 L267.0,326.4 L268.0,325.0 L268.0,324.0 L269.0,325.1 L269.0,326.0 L270.0,325.2 L270.0,322.9 L271.0,324.2 L271.0,324.3 L272.0,328.2 L272.0,322.7 L273.0,325.7 L273.0,326.0 L274.0,328.6 L274.0,327.3 L275.0,325.5 L275.0,328.4 L276.0,326.6 L276.0,324.5 L277.0,325.2 L277.0,326.5 L278.0,327.6 L278.0,322.6 L279.0,323.9 L279.0,324.6 L280.0,330.9 L280.0,323.1 L281.0,326.4 L281.0,327.4 L282.0,324.6 L282.0,324.2 L283.0,326.3 L283.0,326.5 L284.0,328.9 L284.0,326.9 L285.0,328.3 L285.0,330.0 L286.0,326.1 L286.0,322.4 L287.0,322.5 L287.0,325.6 L288.0,323.0 L288.0,322.5 L289.0,322.0 L289.0,326.7 L290.0,324.8 L290.0,321.9 L291.0,326.2 L291.0,326.7 L292.0,326.1 L292.0,323.0 L293.0,323.2 L293.0,325.7 L294.0,322.9 L294.0,320.1 L295.0,324.7 L295.0,325.5 L296.0,325.5 L296.0,318.3 L297.0,326.8 L297.0,327.0 L298.0,329.0 L298.0,324.7 L299.0,325.4 L299.0,326.5 L300.0,324.7 L300.0,323.4 L301.0,324.5 L301.0,326.3 L302.0,324.5 L302.0,324.4 L303.0,322.1 L303.0,322.7 L304.0,325.1 L304.0,324.3 L305.0,325.7 L305.0,326.3 L306.0,323.3 L306.0,322.6 L307.0,321.3 L307.0,326.5 L308.0,328.4 L308.0,325.7 L309.0,323.1 L309.0,326.0 L310.0,327.6 L310.0,325.0 L311.0,323.2 L311.0,326.3 L312.0,326.1 L312.0,325.9 L313.0,328.1 L313.0,329.5 L314.0,326.6 L314.0,326.3 L315.0,323.6 L315.0,326.9 L316.0,325.3 L316.0,323.1 L317.0,326.2 L317.0,326.6 L318.0,326.0 L318.0,325.7 L319.0,324.2 L319.0,324.4 L319.9,327.7 L319.9,326.1 L320.9,323.7 L320.9,324.6 L321.9,321.9 L321.9,320.8 L322.9,323.3 L322.9,323.4 L323.9,331.0 L323.9,326.3 L324.9,326.7 L324.9,328.3 L325.9,328.6 L325.9,323.2 L326.9,323.9 L326.9,324.2 L327.9,328.3 L327.9,324.3 L328.9,321.5 L328.9,327.3 L329.9,323.7 L329.9,323.6 L330.9,325.2 L330.9,325.8 L331.9,324.1 L331.9,322.1 L332.9,321.1 L332.9,324.4 L333.9,329.2 L333.9,324.4 L334.9,322.7 L334.9,325.9 L335.9,325.5 L335.9,323.1 L336.9,325.5 L336.9,327.4 L337.9,326.7 L337.9,326.0 L338.9,322.9 L338.9,323.1 L339.9,324.9 L339.9,321.1 L340.9,322.7 L340.9,323.3 L341.9,329.0 L341.9,324.8 L342.9,323.4 L342.9,327.6 L343.9,326.8 L343.9,324.5 L344.9,323.3 L344.9,325.7 L345.9,326.8 L345.9,326.6 L346.9,324.5 L346.9,326.0 L347.9,326.3 L347.9,325.5 L348.9,326.3 L348.9,326.9 L349.9,326.8 L349.9,325.0 L350.9,328.2 L350.9,330.1 L351.9,326.9 L351.9,325.2 L352.9,324.4 L352.9,325.5 L353.9,323.3 L353.9,322.8 L354.9,326.2 L354.9,328.6 L355.9,328.9 L355.9,325.9 L356.9,326.9 L356.9,329.0 L357.9,329.1 L357.9,325.7 L358.9,327.7 L358.9,328.5 L359.9,326.7 L359.9,326.6 L360.9,324.6 L360.9,324.7 L361.9,327.5 L361.9,324.5 L362.9,327.1 L362.9,327.8 L363.9,324.6 L363.9,323.4 L364.9,323.3 L364.9,323.5 L365.9,328.1 L365.9,324.2 L366.9,322.1 L366.9,327.1 L367.9,325.5 L367.9,324.9 L368.9,324.8 L368.9,324.9 L369.9,327.9 L369.9,324.8 L370.9,324.4 L370.9,327.0 L371.9,328.5 L371.9,328.0 L372.9,325.1 L372.9,330.7 L373.9,326.3 L373.9,325.0 L374.9,326.2 L374.9,326.4 L375.9,325.9 L375.9,325.0 L376.9,326.2 L376.9,328.7 L377.9,325.8 L377.9,325.5 L378.9,325.5 L378.9,328.0 L379.9,326.7 L379.9,323.2 L380.9,324.9 L380.9,325.7 L381.9,326.5 L381.9,324.1 L382.9,322.6 L382.9,323.4 L383.9,324.8 L383.9,322.3 L384.9,323.1 L384.9,326.4 L385.9,327.3 L385.9,324.4 L386.9,323.3 L386.9,325.1 L387.9,328.3 L387.9,325.3 L388.9,326.1 L388.9,329.9 L389.9,330.6 L389.9,328.1 L390.9,325.3 L390.9,327.9 L391.9,326.9 L391.9,320.7 L392.9,324.5 L392.9,325.7 L393.9,326.1 L393.9,326.0 L394.9,326.1 L394.9,327.0 L395.9,326.5 L395.9,326.3 L396.9,321.6 L396.9,324.4 L397.9,324.9 L397.9,321.5 L398.9,324.8 L398.9,325.7 L399.9,327.1 L399.9,325.8 L400.9,320.1 L400.9,321.2 L401.9,325.0 L401.9,325.0 L402.9,324.6 L402.9,328.1 L403.9,324.3 L403.9,321.9 L404.9,324.0 L404.9,324.1 L405.9,327.6 L405.9,324.3 L406.9,323.7 L406.9,325.4 L407.9,325.1 L407.9,322.4 L408.9,323.1 L408.9,323.3 L409.9,324.1 L409.9,323.0 L410.9,325.5 L410.9,327.8 L411.9,324.1 L411.9,323.9 L412.9,325.2 L412.9,325.7 L413.9,325.2 L413.9,325.0 L414.9,326.0 L414.9,327.7 L415.9,323.3 L415.9,319.4 L416.9,322.8 L416.9,324.0 L417.9,328.0 L417.9,324.7 L418.9,321.4 L418.9,324.7 L419.9,326.0 L419.9,322.5 L420.9,324.8 L420.9,326.9 L421.9,326.7 L421.9,323.9 L422.9,325.3 L422.9,328.8 L423.9,324.4 L423.9,323.6 L424.9,323.7 L424.9,324.9 L425.9,327.0 L425.9,325.1 L426.9,323.7 L426.9,324.3 L427.9,324.5 L427.9,322.9 L428.9,323.9 L428.9,325.0 L429.9,326.5 L429.9,323.2 L430.9,323.3 L430.9,326.3 L431.9,324.8 L431.9,322.8 L432.9,324.3 L432.9,326.4 L433.9,326.4 L433.9,325.1 L434.9,325.4 L434.9,325.9 L435.9,326.3 L435.9,324.2 L436.9,324.0 L436.9,326.2 L437.9,323.8 L437.9,322.6 L438.9,325.2 L438.9,325.8 L439.9,326.6 L439.9,323.3 L440.9,324.5 L440.9,325.4 L441.9,325.7 L441.9,325.7 L442.9,324.8 L442.9,325.0 L443.9,323.8 L443.9,323.0 L444.9,322.2 L444.9,328.2 L445.9,326.6 L445.9,322.8 L446.9,322.3 L446.9,323.9 L447.9,325.6 L447.9,324.9 L448.9,325.6 L448.9,327.2 L449.9,326.4 L449.9,324.7 L450.9,322.2 L450.9,323.2 L451.9,324.7 L451.9,320.4 L452.9,324.5 L452.9,326.2 L453.9,328.0 L453.9,325.3 L454.9,324.0 L454.9,325.7 L455.9,325.8 L455.9,325.4 L456.9,325.6 L456.9,326.6 L457.9,327.3 L457.9,324.6 L458.9,323.0 L458.9,327.4 L459.9,325.8 L459.9,324.9 L460.9,324.6 L460.9,325.0 L461.9,323.9 L461.9,322.1 L462.9,321.2 L462.9,324.0 L463.9,324.7 L463.9,322.4 L464.9,323.0 L464.9,323.9 L465.9,325.2 L465.9,323.2 L466.9,325.9 L466.9,326.4 L467.9,326.0 L467.9,324.8 L468.9,322.3 L468.9,328.1 L469.9,327.1 L469.9,322.0 L470.9,322.5 L470.9,328.1 L471.9,324.7 L471.9,320.0 L472.9,325.0 L472.9,326.0 L473.8,326.3 L473.8,325.1 L474.8,323.5 L474.8,324.8 L475.8,325.5 L475.8,322.8 L476.8,324.5 L476.8,325.2 L477.8,325.6 L477.8,324.9 L478.8,322.5 L478.8,325.8 L479.8,323.7 L479.8,322.0 L480.8,323.8 L480.8,327.8 L481.8,326.4 L481.8,322.5 L482.8,324.0 L482.8,325.2 L483.8,325.7 L483.8,324.5 L484.8,324.4 L484.8,326.7 L485.8,327.5 L485.8,327.2 L486.8,325.2 L486.8,325.3 L487.8,328.1 L487.8,325.1 L488.8,324.3 L488.8,325.9 L489.8,324.7 L489.8,322.7 L490.8,325.3 L490.8,326.0 L491.8,323.8 L491.8,322.7 L492.8,320.8 L492.8,325.3 L493.8,322.3 L493.8,320.7 L494.8,321.9 L494.8,326.8 L495.8,323.5 L495.8,323.1 L496.8,323.8 L496.8,326.2 L497.8,325.3 L497.8,324.9 L498.8,326.3 L498.8,328.1 L499.8,325.7 L499.8,321.4 L500.8,323.6 L500.8,327.0 L501.8,324.7 L501.8,322.2 L502.8,323.0 L502.8,324.6 L503.8,323.1 L503.8,322.8 L504.8,325.2 L504.8,326.2 L505.8,330.1 L505.8,326.8 L506.8,324.9 L506.8,328.3 L507.8,325.4 L507.8,323.1 L508.8,323.1 L508.8,325.4 L509.8,327.5 L509.8,327.4 L510.8,325.2 L510.8,326.7 L511.8,327.7 L511.8,325.4 L512.8,327.6 L512.8,328.2 L513.8,328.2 L513.8,325.4 L514.8,323.2 L514.8,325.9 L515.8,325.8 L515.8,323.6 L516.8,322.9 L516.8,324.1 L517.8,323.5 L517.8,322.3 L518.8,322.9 L518.8,326.2 L519.8,327.1 L519.8,325.3 L520.8,325.2 L520.8,327.5 L521.8,328.9 L521.8,325.6 L522.8,325.6 L522.8,326.9 L523.8,326.4 L523.8,325.3 L524.8,320.8 L524.8,324.2 L525.8,324.4 L525.8,323.3 L526.8,323.4 L526.8,326.0 L527.8,327.8 L527.8,327.2 L528.8,327.7 L528.8,327.8 L529.8,327.3 L529.8,323.7 L530.8,323.2 L530.8,325.1 L531.8,326.8 L531.8,324.6 L532.8,322.4 L532.8,322.8 L533.8,323.7 L533.8,323.0 L534.8,323.7 L534.8,328.3 L535.8,325.4 L535.8,322.1 L536.8,325.2 L536.8,326.5 L537.8,327.3 L537.8,323.9 L538.8,322.0 L538.8,329.0 L539.8,323.2 L539.8,323.1 L540.8,325.7 L540.8,327.0 L541.8,326.6 L541.8,323.2 L542.8,323.8 L542.8,324.6 L543.8,325.5 L543.8,324.6 L544.8,327.1 L544.8,329.6 L545.8,324.3 L545.8,324.1 L546.8,323.8 L546.8,326.5 L547.8,325.5 L547.8,325.4 L548.8,326.1 L548.8,328.1 L549.8,323.6 L549.8,322.3 L550.3,325.2" fill="none" stroke="#9467bd" stroke-width="2.08" stroke-linejoin="round" stroke-linecap="butt"/>
<path d="M88.6,340.0 L89.1,332.7 L89.1,338.4 L90.1,326.3 L90.1,324.9 L91.1,325.6 L91.1,325.8 L92.1,327.1 L92.1,324.0 L93.1,323.6 L93.1,324.4 L94.1,322.8 L94.1,322.8 L95.1,322.9 L95.1,325.4 L96.1,327.5 L96.1,326.9 L97.1,322.6 L97.1,323.3 L98.1,324.0 L98.1,321.1 L99.1,325.1 L99.1,325.4 L100.1,328.2 L100.1,326.9 L101.1,322.9 L101.1,326.8 L102.1,325.7 L102.1,325.3 L103.1,323.9 L103.1,328.3 L104.1,326.2 L104.1,325.9 L105.1,323.6 L105.1,327.3 L106.1,327.8 L106.1,322.5 L107.1,326.7 L107.1,328.1 L108.1,323.0 L108.1,322.4 L109.1,323.6 L109.1,328.6 L110.1,326.5 L110.1,325.4 L111.1,325.2 L111.1,325.4 L112.1,323.2 L112.1,322.5 L113.1,322.3 L113.1,324.8 L114.1,321.5 L114.1,320.2 L115.1,323.3 L115.1,324.1 L116.1,322.5 L116.1,321.8 L117.1,321.2 L117.1,324.1 L118.1,325.3 L118.1,324.3 L119.1,322.2 L119.1,323.7 L120.1,326.5 L120.1,320.4 L121.1,322.0 L121.1,324.4 L122.1,324.5 L122.1,321.9 L123.1,322.2 L123.1,323.6 L124.1,327.2 L124.1,321.2 L125.1,325.8 L125.1,325.9 L126.1,326.6 L126.1,325.0 L127.1,324.0 L127.1,324.8 L128.1,325.8 L128.1,321.8 L129.1,322.5 L129.1,323.1 L130.1,326.9 L130.1,324.2 L131.1,325.7 L131.1,327.6 L132.1,328.2 L132.1,322.5 L133.1,322.8 L133.1,322.9 L134.1,325.5 L134.1,321.1 L135.1,321.8 L135.1,323.0 L136.1,324.7 L136.1,323.0 L137.1,326.1 L137.1,329.6 L138.1,324.9 L138.1,323.5 L139.1,322.1 L139.1,322.7 L140.1,324.9 L140.1,321.9 L141.1,324.8 L141.1,326.3 L142.1,322.2 L142.1,320.2 L143.1,320.3 L143.1,325.8 L144.1,326.5 L144.1,326.4 L145.1,324.8 L145.1,325.0 L146.1,324.3 L146.1,323.8 L147.1,323.2 L147.1,323.5 L148.1,323.5 L148.1,320.0 L149.1,322.6 L149.1,324.7 L150.1,325.5 L150.1,322.0 L151.1,323.2 L151.1,325.6 L152.1,324.6 L152.1,321.1 L153.1,321.4 L153.1,325.5 L154.1,324.8 L154.1,324.4 L155.1,323.3 L155.1,326.7 L156.1,323.1 L156.1,319.8 L157.1,326.4 L157.1,327.0 L158.1,325.5 L158.1,324.6 L159.1,323.3 L159.1,323.4 L160.1,325.3 L160.1,322.4 L161.1,324.0 L161.1,325.2 L162.1,326.0 L162.1,322.9 L163.1,320.2 L163.1,322.0 L164.1,323.5 L164.1,321.1 L165.1,323.8 L165.1,325.8 L166.0,324.5 L166.0,324.0 L167.0,322.6 L167.0,325.2 L168.0,324.9 L168.0,323.5 L169.0,325.8 L169.0,326.0 L170.0,325.0 L170.0,320.8 L171.0,323.8 L171.0,324.7 L172.0,322.9 L172.0,321.6 L173.0,320.8 L173.0,324.4 L174.0,327.1 L174.0,323.9 L175.0,326.0 L175.0,326.4 L176.0,324.6 L176.0,323.8 L177.0,324.4 L177.0,325.4 L178.0,324.8 L178.0,322.5 L179.0,322.7 L179.0,325.6 L180.0,324.6 L180.0,321.6 L181.0,323.6 L181.0,325.3 L182.0,324.6 L182.0,323.9 L183.0,322.3 L183.0,328.0 L184.0,323.2 L184.0,323.0 L185.0,324.2 L185.0,324.6 L186.0,324.8 L186.0,323.4 L187.0,323.5 L187.0,328.6 L188.0,330.9 L188.0,326.4 L189.0,322.7 L189.0,326.5 L190.0,326.9 L190.0,325.2 L191.0,324.3 L191.0,326.3 L192.0,328.6 L192.0,327.5 L193.0,322.8 L193.0,323.9 L194.0,326.4 L194.0,326.2 L195.0,322.7 L195.0,323.8 L196.0,326.4 L196.0,326.0 L197.0,323.7 L197.0,326.5 L198.0,327.7 L198.0,323.4 L199.0,321.2 L199.0,324.7 L200.0,325.1 L200.0,322.7 L201.0,323.2 L201.0,326.2 L202.0,327.5 L202.0,322.3 L203.0,322.1 L203.0,326.8 L204.0,323.0 L204.0,322.9 L205.0,324.1 L205.0,327.1 L206.0,325.7 L206.0,324.5 L207.0,322.4 L207.0,325.2 L208.0,325.6 L208.0,323.2 L209.0,323.2 L209.0,325.1 L210.0,325.3 L210.0,322.4 L211.0,321.1 L211.0,324.6 L212.0,327.5 L212.0,326.0 L213.0,326.9 L213.0,327.8 L214.0,327.8 L214.0,324.6 L215.0,324.9 L215.0,325.2 L216.0,326.2 L216.0,325.6 L217.0,325.6 L217.0,328.7 L218.0,326.1 L218.0,325.0 L219.0,322.8 L219.0,328.0 L220.0,325.2 L220.0,324.2 L221.0,322.7 L221.0,325.8 L222.0,323.0 L222.0,322.4 L223.0,324.2 L223.0,328.1 L224.0,326.1 L224.0,325.9 L225.0,323.3 L225.0,323.4 L226.0,325.6 L226.0,325.2 L227.0,323.9 L227.0,325.5 L228.0,324.2 L228.0,323.3 L229.0,323.2 L229.0,324.6 L230.0,324.9 L230.0,321.1 L231.0,321.7 L231.0,325.4 L232.0,324.4 L232.0,321.9 L233.0,325.0 L233.0,325.5 L234.0,327.6 L234.0,322.4 L235.0,324.1 L235.0,331.6 L236.0,327.8 L236.0,324.9 L237.0,325.0 L237.0,326.3 L238.0,323.9 L238.0,322.8 L239.0,324.4 L239.0,326.5 L240.0,325.7 L240.0,324.5 L241.0,325.6 L241.0,326.5 L242.0,326.2 L242.0,324.7 L243.0,324.1 L243.0,325.1 L244.0,322.4 L244.0,321.3 L245.0,322.8 L245.0,326.3 L246.0,327.9 L246.0,326.0 L247.0,325.9 L247.0,326.4 L248.0,329.5 L248.0,327.7 L249.0,324.8 L249.0,324.9 L250.0,327.5 L250.0,325.5 L251.0,324.9 L251.0,327.7 L252.0,325.9 L252.0,325.3 L253.0,322.9 L253.0,325.4 L254.0,326.4 L254.0,326.3 L255.0,322.6 L255.0,325.8 L256.0,325.3 L256.0,325.0 L257.0,326.6 L257.0,327.1 L258.0,325.7 L258.0,325.6 L259.0,328.5 L259.0,328.8 L260.0,328.7 L260.0,327.4 L261.0,324.9 L261.0,330.6 L262.0,324.9 L262.0,323.0 L263.0,321.1 L263.0,323.7 L264.0,323.2 L264.0,322.5 L265.0,322.6 L265.0,324.8 L266.0,325.1 L266.0,324.8 L267.0,321.0 L267.0,323.8 L268.0,325.5 L268.0,322.7 L269.0,323.1 L269.0,323.8 L270.0,324.5 L270.0,324.2 L271.0,323.2 L271.0,325.7 L272.0,324.7 L272.0,321.9 L273.0,326.1 L273.0,326.8 L274.0,325.9 L274.0,325.5 L275.0,328.0 L275.0,328.1 L276.0,325.3 L276.0,323.2 L277.0,322.1 L277.0,323.2 L278.0,324.5 L278.0,323.6 L279.0,321.8 L279.0,328.4 L280.0,327.2 L280.0,326.0 L281.0,325.2 L281.0,325.4 L282.0,325.6 L282.0,325.4 L283.0,323.7 L283.0,324.7 L284.0,326.4 L284.0,326.1 L285.0,324.7 L285.0,329.6 L286.0,325.0 L286.0,324.6 L287.0,320.7 L287.0,321.0 L288.0,321.7 L288.0,318.9 L289.0,324.5 L289.0,325.1 L290.0,326.5 L290.0,324.3 L291.0,324.7 L291.0,325.4 L292.0,325.2 L292.0,320.8 L293.0,322.6 L293.0,326.1 L294.0,327.5 L294.0,327.3 L295.0,325.4 L295.0,325.9 L296.0,326.4 L296.0,323.2 L297.0,323.4 L297.0,324.8 L298.0,321.5 L298.0,321.5 L299.0,323.6 L299.0,326.5 L300.0,326.3 L300.0,325.2 L301.0,327.6 L301.0,328.0 L302.0,325.8 L302.0,325.2 L303.0,326.9 L303.0,327.3 L304.0,327.7 L304.0,323.6 L305.0,324.6 L305.0,326.2 L306.0,329.1 L306.0,322.4 L307.0,323.2 L307.0,324.4 L308.0,325.9 L308.0,325.5 L309.0,324.6 L309.0,326.3 L310.0,326.3 L310.0,324.0 L311.0,325.0 L311.0,326.3 L312.0,325.2 L312.0,325.1 L313.0,323.7 L313.0,324.9 L314.0,325.8 L314.0,324.9 L315.0,321.6 L315.0,328.2 L316.0,326.5 L316.0,325.7 L317.0,326.6 L317.0,327.6 L318.0,329.4 L318.0,324.1 L319.0,322.8 L319.0,326.5 L319.9,325.7 L319.9,324.2 L320.9,325.2 L320.9,328.4 L321.9,326.2 L321.9,322.8 L322.9,325.0 L322.9,325.3 L323.9,326.1 L323.9,323.6 L324.9,324.6 L324.9,324.6 L325.9,324.6 L325.9,324.1 L326.9,325.4 L326.9,325.9 L327.9,326.1 L327.9,324.1 L328.9,326.4 L328.9,327.8 L329.9,328.6 L329.9,326.0 L330.9,325.4 L330.9,326.7 L331.9,324.7 L331.9,324.5 L332.9,325.0 L332.9,325.6 L333.9,327.8 L333.9,323.3 L334.9,321.8 L334.9,327.2 L335.9,325.9 L335.9,325.2 L336.9,325.1 L336.9,325.3 L337.9,325.9 L337.9,325.7 L338.9,324.5 L338.9,326.0 L339.9,326.4 L339.9,324.6 L340.9,326.8 L340.9,327.1 L341.9,324.8 L341.9,323.3 L342.9,324.5 L342.9,327.7 L343.9,325.3 L343.9,325.2 L344.9,327.4 L344.9,328.1 L345.9,328.3 L345.9,325.6 L346.9,326.6 L346.9,327.1 L347.9,323.9 L347.9,322.5 L348.9,321.7 L348.9,324.1 L349.9,324.7 L349.9,322.3 L350.9,323.1 L350.9,323.5 L351.9,325.5 L351.9,323.5 L352.9,324.8 L352.9,330.7 L353.9,322.9 L353.9,322.7 L354.9,327.0 L354.9,328.0 L355.9,327.5 L355.9,324.1 L356.9,323.8 L356.9,327.4 L357.9,325.0 L357.9,323.4 L358.9,325.0 L358.9,326.9 L359.9,328.2 L359.9,325.4 L360.9,323.5 L360.9,326.4 L361.9,326.4 L361.9,325.8 L362.9,319.7 L362.9,322.6 L363.9,324.6 L363.9,321.7 L364.9,324.5 L364.9,326.1 L365.9,326.6 L365.9,325.4 L366.9,325.2 L366.9,327.1 L367.9,324.6 L367.9,324.5 L368.9,322.8 L368.9,324.1 L369.9,325.5 L369.9,325.4 L370.9,324.8 L370.9,325.9 L371.9,327.6 L371.9,325.9 L372.9,326.8 L372.9,328.8 L373.9,327.3 L373.9,324.6 L374.9,322.7 L374.9,328.2 L375.9,322.8 L375.9,321.5 L376.9,324.6 L376.9,326.6 L377.9,326.8 L377.9,325.7 L378.9,321.2 L378.9,328.3 L379.9,324.9 L379.9,323.6 L380.9,326.5 L380.9,327.2 L381.9,327.3 L381.9,323.3 L382.9,325.4 L382.9,326.2 L383.9,327.4 L383.9,324.1 L384.9,325.3 L384.9,327.8 L385.9,326.3 L385.9,323.8 L386.9,324.4 L386.9,326.0 L387.9,325.1 L387.9,324.1 L388.9,323.9 L388.9,325.8 L389.9,325.7 L389.9,323.3 L390.9,324.1 L390.9,327.4 L391.9,326.8 L391.9,325.7 L392.9,323.0 L392.9,326.2 L393.9,326.3 L393.9,325.3 L394.9,324.6 L394.9,327.0 L395.9,324.3 L395.9,323.3 L396.9,322.4 L396.9,325.2 L397.9,324.8 L397.9,324.6 L398.9,323.5 L398.9,327.1 L399.9,326.0 L399.9,324.1 L400.9,320.6 L400.9,324.6 L401.9,323.7 L401.9,321.9 L402.9,324.9 L402.9,326.6 L403.9,326.6 L403.9,325.2 L404.9,323.2 L404.9,329.2 L405.9,325.3 L405.9,323.3 L406.9,322.4 L406.9,323.1 L407.9,322.3 L407.9,321.2 L408.9,324.6 L408.9,325.3 L409.9,323.9 L409.9,321.6 L410.9,322.6 L410.9,327.2 L411.9,326.4 L411.9,325.3 L412.9,326.0 L412.9,326.3 L413.9,324.7 L413.9,323.7 L414.9,327.3 L414.9,327.7 L415.9,326.9 L415.9,323.1 L416.9,325.1 L416.9,326.1 L417.9,325.2 L417.9,322.3 L418.9,324.0 L418.9,325.7 L419.9,326.8 L419.9,324.3 L420.9,320.2 L420.9,326.9 L421.9,324.2 L421.9,323.3 L422.9,324.4 L422.9,324.9 L423.9,324.5 L423.9,323.4 L424.9,324.0 L424.9,325.1 L425.9,326.8 L425.9,326.4 L426.9,325.5 L426.9,327.7 L427.9,325.4 L427.9,325.3 L428.9,329.2 L428.9,330.1 L429.9,327.4 L429.9,325.5 L430.9,325.9 L430.9,327.9 L431.9,325.4 L431.9,325.3 L432.9,325.6 L432.9,326.9 L433.9,324.1 L433.9,321.4 L434.9,326.0 L434.9,326.8 L435.9,327.2 L435.9,325.6 L436.9,326.0 L436.9,326.7 L437.9,324.6 L437.9,323.1 L438.9,321.5 L438.9,322.2 L439.9,328.8 L439.9,324.6 L440.9,325.6 L440.9,330.1 L441.9,326.9 L441.9,322.8 L442.9,321.4 L442.9,322.9 L443.9,327.4 L443.9,325.0 L444.9,324.7 L444.9,326.6 L445.9,327.0 L445.9,322.9 L446.9,324.7 L446.9,327.0 L447.9,330.1 L447.9,324.1 L448.9,322.6 L448.9,324.0 L449.9,325.6 L449.9,324.2 L450.9,325.2 L450.9,326.5 L451.9,326.6 L451.9,324.3 L452.9,321.6 L452.9,323.2 L453.9,324.4 L453.9,324.4 L454.9,326.1 L454.9,326.9 L455.9,325.1 L455.9,325.0 L456.9,323.9 L456.9,326.7 L457.9,322.9 L457.9,322.2 L458.9,321.5 L458.9,322.8 L459.9,324.6 L459.9,320.2 L460.9,324.0 L460.9,327.0 L461.9,328.3 L461.9,328.3 L462.9,323.9 L462.9,325.4 L463.9,323.9 L463.9,321.3 L464.9,323.3 L464.9,324.7 L465.9,325.4 L465.9,322.4 L466.9,323.5 L466.9,327.8 L467.9,324.7 L467.9,324.0 L468.9,325.4 L468.9,325.5 L469.9,325.2 L469.9,324.0 L470.9,324.4 L470.9,328.1 L471.9,327.6 L471.9,323.8 L472.9,323.5 L472.9,326.6 L473.8,327.1 L473.8,324.8 L474.8,324.7 L474.8,325.6 L475.8,326.9 L475.8,325.3 L476.8,327.9 L476.8,328.7 L477.8,327.9 L477.8,327.7 L478.8,322.2 L478.8,326.8 L479.8,325.4 L479.8,322.5 L480.8,323.4 L480.8,324.6 L481.8,324.8 L481.8,323.9 L482.8,323.5 L482.8,325.6 L483.8,328.5 L483.8,328.3 L484.8,329.5 L484.8,329.7 L485.8,330.6 L485.8,328.3 L486.8,327.2 L486.8,328.7 L487.8,327.7 L487.8,326.1 L488.8,324.2 L488.8,326.7 L489.8,329.8 L489.8,327.3 L490.8,325.7 L490.8,326.3 L491.8,325.0 L491.8,324.7 L492.8,322.4 L492.8,324.1 L493.8,324.1 L493.8,322.8 L494.8,323.9 L494.8,325.9 L495.8,329.2 L495.8,329.0 L496.8,325.2 L496.8,330.8 L497.8,326.5 L497.8,325.5 L498.8,325.9 L498.8,326.0 L499.8,326.2 L499.8,324.1 L500.8,323.6 L500.8,327.4 L501.8,324.8 L501.8,323.4 L502.8,323.5 L502.8,325.6 L503.8,327.4 L503.8,326.8 L504.8,322.7 L504.8,323.8 L505.8,324.0 L505.8,323.4 L506.8,325.1 L506.8,326.5 L507.8,327.8 L507.8,324.3 L508.8,323.8 L508.8,329.9 L509.8,323.9 L509.8,321.7 L510.8,318.2 L510.8,320.5 L511.8,327.0 L511.8,323.6 L512.8,324.6 L512.8,325.8 L513.8,328.0 L513.8,326.9 L514.8,325.1 L514.8,328.0 L515.8,327.4 L515.8,324.7 L516.8,324.0 L516.8,325.5 L517.8,328.6 L517.8,324.4 L518.8,324.9 L518.8,326.1 L519.8,325.5 L519.8,324.3 L520.8,323.6 L520.8,325.0 L521.8,325.7 L521.8,323.5 L522.8,323.2 L522.8,323.9 L523.8,327.2 L523.8,319.9 L524.8,323.3 L524.8,327.2 L525.8,325.0 L525.8,323.9 L526.8,323.9 L526.8,328.8 L527.8,330.4 L527.8,327.4 L528.8,324.5 L528.8,326.1 L529.8,323.6 L529.8,322.9 L530.8,324.7 L530.8,324.9 L531.8,326.0 L531.8,322.5 L532.8,324.6 L532.8,327.5 L533.8,327.4 L533.8,326.0 L534.8,320.9 L534.8,325.9 L535.8,325.7 L535.8,324.2 L536.8,325.2 L536.8,327.1 L537.8,327.6 L537.8,326.5 L538.8,322.9 L538.8,323.6 L539.8,327.2 L539.8,323.3 L540.8,326.0 L540.8,326.9 L541.8,324.3 L541.8,322.4 L542.8,323.5 L542.8,324.3 L543.8,323.0 L543.8,322.9 L544.8,324.1 L544.8,326.6 L545.8,323.5 L545.8,322.3 L546.8,325.3 L546.8,326.0 L547.8,326.0 L547.8,325.3 L548.8,325.0 L548.8,327.4 L549.8,328.1 L549.8,322.4 L550.3,325.2" fill="none" stroke="#8c564b" stroke-width="2.08" stroke-linejoin="round" stroke-linecap="butt"/>
</g>
<rect x="66.6" y="241.4" width="149.9" height="129.8" rx="2.8" fill="#fff" fill-opacity="0.8" stroke="#ccc" stroke-opacity="0.8" stroke-width="1"/>
<path d="M71.0,251.8 H101.0" stroke="#1f77b4" stroke-width="2.08" fill="none"/>
<text x="110.7" y="256.8" font-size="14.2" text-anchor="start" textLength="100.5" lengthAdjust="spacingAndGlyphs">Uncorrected X</text>
<path d="M71.0,272.8 H101.0" stroke="#ff7f0e" stroke-width="2.08" fill="none"/>
<text x="110.7" y="277.8" font-size="14.2" text-anchor="start" textLength="99.5" lengthAdjust="spacingAndGlyphs">Uncorrected Y</text>
<path d="M71.0,293.8 H101.0" stroke="#2ca02c" stroke-width="2.08" fill="none"/>
<text x="110.7" y="298.8" font-size="14.2" text-anchor="start" textLength="99.5" lengthAdjust="spacingAndGlyphs">Uncorrected Z</text>
<path d="M71.0,314.9 H101.0" stroke="#d62728" stroke-width="2.08" fill="none"/>
<text x="110.7" y="319.9" font-size="14.2" text-anchor="start" textLength="83.5" lengthAdjust="spacingAndGlyphs">Corrected X</text>
<path d="M71.0,335.9 H101.0" stroke="#9467bd" stroke-width="2.08" fill="none"/>
<text x="110.7" y="340.9" font-size="14.2" text-anchor="start" textLength="82.5" lengthAdjust="spacingAndGlyphs">Corrected Y</text>
<path d="M71.0,356.9 H101.0" stroke="#8c564b" stroke-width="2.08" fill="none"/>
<text x="110.7" y="361.9" font-size="14.2" text-anchor="start" textLength="82.5" lengthAdjust="spacingAndGlyphs">Corrected Z</text>
<rect x="59.5" y="234.5" width="648.0" height="170.0" fill="none" stroke="#000" stroke-width="1.1"/>
<path d="M59.5,238.5 h-4.9 M59.5,267.5 h-4.9 M59.5,296.5 h-4.9 M59.5,325.5 h-4.9 M59.5,354.5 h-4.9 M59.5,383.5 h-4.9 M707.5,249.5 h4.9 M707.5,304.5 h4.9 M707.5,358.5 h4.9 M84.5,404.5 v4.9 M199.5,404.5 v4.9 M315.5,404.5 v4.9 M431.5,404.5 v4.9 M547.5,404.5 v4.9 M663.5,404.5 v4.9" stroke="#000" stroke-width="1.1" fill="none"/>
<text x="49.2" y="243.3" font-size="14.2" text-anchor="end" textLength="29.1" lengthAdjust="spacingAndGlyphs">0.15</text>
<text x="49.2" y="272.6" font-size="14.2" text-anchor="end" textLength="29.1" lengthAdjust="spacingAndGlyphs">0.10</text>
<text x="49.2" y="301.5" font-size="14.2" text-anchor="end" textLength="29.1" lengthAdjust="spacingAndGlyphs">0.05</text>
<text x="49.2" y="330.5" font-size="14.2" text-anchor="end" textLength="29.1" lengthAdjust="spacingAndGlyphs">0.00</text>
<text x="49.2" y="359.5" font-size="14.2" text-anchor="end" textLength="40.8" lengthAdjust="spacingAndGlyphs">−0.05</text>
<text x="49.2" y="388.4" font-size="14.2" text-anchor="end" textLength="40.8" lengthAdjust="spacingAndGlyphs">−0.10</text>
<text x="716.4" y="254.7" font-size="14.2" text-anchor="start" textLength="16.1" lengthAdjust="spacingAndGlyphs">60</text>
<text x="716.4" y="309.2" font-size="14.2" text-anchor="start" textLength="16.1" lengthAdjust="spacingAndGlyphs">40</text>
<text x="716.4" y="363.8" font-size="14.2" text-anchor="start" textLength="16.1" lengthAdjust="spacingAndGlyphs">20</text>
<text x="382.7" y="226.2" font-size="17.0" text-anchor="middle" textLength="178.3" lengthAdjust="spacingAndGlyphs">IMU[1] Accel (m/s^2)</text>
<g clip-path="url(#c1)"><path d="M88.6,396.0 L90.6,394.4 L92.6,392.9 L94.6,391.5 L96.6,390.1 L98.6,388.8 L100.6,387.5 L102.6,386.3 L104.6,385.1 L106.6,383.9 L108.6,382.7 L110.6,381.5 L112.6,380.4 L114.6,379.3 L116.6,378.1 L118.6,377.0 L120.6,375.9 L122.6,374.8 L124.6,373.8 L126.6,372.7 L128.6,371.6 L130.6,370.6 L132.6,369.5 L134.6,368.5 L136.6,367.4 L138.6,366.4 L140.6,365.3 L142.6,364.3 L144.6,363.3 L146.6,362.3 L148.6,361.3 L150.6,360.3 L152.6,359.3 L154.6,358.3 L156.6,357.3 L158.6,356.3 L160.6,355.4 L162.6,354.4 L164.6,353.4 L166.6,352.5 L168.6,351.5 L170.6,350.6 L172.6,349.7 L174.6,348.7 L176.6,347.8 L178.6,346.9 L180.6,345.9 L182.6,345.0 L184.6,344.1 L186.6,343.2 L188.6,342.3 L190.6,341.4 L192.6,340.5 L194.6,339.7 L196.6,338.8 L198.6,337.9 L200.6,337.0 L202.6,336.2 L204.6,335.3 L206.6,334.5 L208.6,333.6 L210.6,332.8 L212.6,331.9 L214.6,331.1 L216.6,330.3 L218.6,329.4 L220.6,328.6 L222.6,327.8 L224.6,327.0 L226.6,326.2 L228.6,325.4 L230.6,324.6 L232.6,323.8 L234.6,323.0 L236.6,322.2 L238.6,321.4 L240.6,320.7 L242.6,319.9 L244.6,319.1 L246.6,318.4 L248.6,317.6 L250.6,316.9 L252.6,316.1 L254.6,315.4 L256.6,314.6 L258.6,313.9 L260.6,313.2 L262.6,312.4 L264.6,311.7 L266.6,311.0 L268.6,310.3 L270.6,309.6 L272.6,308.8 L274.6,308.1 L276.6,307.4 L278.6,306.8 L280.6,306.1 L282.6,305.4 L284.6,304.7 L286.6,304.0 L288.6,303.3 L290.6,302.7 L292.6,302.0 L294.6,301.3 L296.6,300.7 L298.6,300.0 L300.6,299.4 L302.6,298.7 L304.6,298.1 L306.6,297.4 L308.6,296.8 L310.6,296.2 L312.6,295.5 L314.6,294.9 L316.6,294.3 L318.6,293.7 L320.6,293.0 L322.6,292.4 L324.6,291.8 L326.6,291.2 L328.6,290.6 L330.6,290.0 L332.6,289.4 L334.6,288.8 L336.6,288.2 L338.6,287.7 L340.6,287.1 L342.6,286.5 L344.6,285.9 L346.6,285.3 L348.6,284.8 L350.6,284.2 L352.6,283.7 L354.6,283.1 L356.6,282.5 L358.6,282.0 L360.6,281.4 L362.6,280.9 L364.6,280.4 L366.6,279.8 L368.6,279.3 L370.6,278.7 L372.6,278.2 L374.6,277.7 L376.6,277.2 L378.6,276.6 L380.6,276.1 L382.6,275.6 L384.6,275.1 L386.6,274.6 L388.6,274.1 L390.6,273.6 L392.6,273.1 L394.6,272.6 L396.6,272.1 L398.6,271.6 L400.6,271.1 L402.6,270.6 L404.6,270.1 L406.6,269.6 L408.6,269.2 L410.6,268.7 L412.6,268.2 L414.6,267.7 L416.6,267.3 L418.6,266.8 L420.6,266.4 L422.6,265.9 L424.6,265.4 L426.6,265.0 L428.6,264.5 L430.6,264.1 L432.6,263.6 L434.6,263.2 L436.6,262.8 L438.6,262.3 L440.6,261.9 L442.6,261.4 L444.6,261.0 L446.6,260.6 L448.6,260.2 L450.6,259.7 L452.6,259.3 L454.6,258.9 L456.6,258.5 L458.6,258.1 L460.6,257.7 L462.6,257.2 L464.6,256.8 L466.6,256.4 L468.6,256.0 L470.6,255.6 L472.6,255.2 L474.6,254.8 L476.6,254.4 L478.6,254.1 L480.6,253.7 L482.6,253.3 L484.6,252.9 L486.6,252.5 L488.6,252.1 L490.6,251.8 L492.6,251.4 L494.6,251.0 L496.6,250.6 L498.6,250.3 L500.6,249.9 L502.6,249.5 L504.6,249.2 L506.6,248.8 L508.6,248.4 L510.6,248.1 L512.6,247.7 L514.6,247.4 L516.6,247.0 L518.6,246.7 L520.6,246.3 L522.6,246.0 L524.6,245.7 L526.6,245.3 L528.6,245.0 L530.6,244.6 L532.6,244.3 L534.6,244.0 L536.6,243.6 L538.6,243.3 L540.6,243.0 L542.6,242.7 L544.6,242.3 L546.6,242.0 L550.3,241.4" fill="none" stroke="#000000" stroke-width="2.08" stroke-linejoin="round" stroke-linecap="butt"/></g>
<rect x="538.6" y="241.4" width="162" height="24.8" rx="2.8" fill="#fff" fill-opacity="0.8" stroke="#ccc" stroke-opacity="0.8" stroke-width="1"/>
<path d="M543.0,251.8 H573.0" stroke="#000" stroke-width="2.08" fill="none"/>
<text x="582.4" y="256.6" font-size="14.2" text-anchor="start" textLength="111.4" lengthAdjust="spacingAndGlyphs">Temperature(C)</text>
<g clip-path="url(#c2)">
<path d="M88.6,449.8 L89.1,448.1 L89.1,452.1 L90.1,449.8 L90.1,447.5 L91.1,449.4 L91.1,450.2 L92.1,449.7 L92.1,446.2 L93.1,446.3 L93.1,447.6 L94.1,447.3 L94.1,447.2 L95.1,445.9 L95.1,448.0 L96.1,448.3 L96.1,445.8 L97.1,445.7 L97.1,446.5 L98.1,446.7 L98.1,446.2 L99.1,445.4 L99.1,447.4 L100.1,446.7 L100.1,445.6 L101.1,445.7 L101.1,446.4 L102.1,446.0 L102.1,443.8 L103.1,446.6 L103.1,446.8 L104.1,449.1 L104.1,446.0 L105.1,448.4 L105.1,451.1 L106.1,448.1 L106.1,446.0 L107.1,447.6 L107.1,448.4 L108.1,450.7 L108.1,450.0 L109.1,450.6 L109.1,453.6 L110.1,453.8 L110.1,453.3 L111.1,456.8 L111.1,457.3 L112.1,457.3 L112.1,455.5 L113.1,454.7 L113.1,455.3 L114.1,453.9 L114.1,453.4 L115.1,454.8 L115.1,455.0 L116.1,454.0 L116.1,451.4 L117.1,454.2 L117.1,457.4 L118.1,453.8 L118.1,453.0 L119.1,453.2 L119.1,458.6 L120.1,454.6 L120.1,454.5 L121.1,453.1 L121.1,453.4 L122.1,455.5 L122.1,454.1 L123.1,456.9 L123.1,457.1 L124.1,457.5 L124.1,454.9 L125.1,455.0 L125.1,457.3 L126.1,456.4 L126.1,456.1 L127.1,456.9 L127.1,457.6 L128.1,458.3 L128.1,457.9 L129.1,455.8 L129.1,457.1 L130.1,459.1 L130.1,453.9 L131.1,458.8 L131.1,459.2 L132.1,459.5 L132.1,457.8 L133.1,461.3 L133.1,461.5 L134.1,462.8 L134.1,461.1 L135.1,460.0 L135.1,460.9 L136.1,462.4 L136.1,460.5 L137.1,458.2 L137.1,459.7 L138.1,461.2 L138.1,461.1 L139.1,460.5 L139.1,462.8 L140.1,462.0 L140.1,460.0 L141.1,462.3 L141.1,463.8 L142.1,462.5 L142.1,460.0 L143.1,464.3 L143.1,465.2 L144.1,463.6 L144.1,462.1 L145.1,461.9 L145.1,464.3 L146.1,465.4 L146.1,464.3 L147.1,463.0 L147.1,467.0 L148.1,466.2 L148.1,462.7 L149.1,463.7 L149.1,464.1 L150.1,462.2 L150.1,461.7 L151.1,463.3 L151.1,464.7 L152.1,466.3 L152.1,464.8 L153.1,465.3 L153.1,467.3 L154.1,464.1 L154.1,461.8 L155.1,463.2 L155.1,464.5 L156.1,463.3 L156.1,463.0 L157.1,462.7 L157.1,463.6 L158.1,464.6 L158.1,462.0 L159.1,459.5 L159.1,463.7 L160.1,463.4 L160.1,462.8 L161.1,462.8 L161.1,464.9 L162.1,465.6 L162.1,465.1 L163.1,464.0 L163.1,464.8 L164.1,463.9 L164.1,462.7 L165.1,460.7 L165.1,464.4 L166.1,462.3 L166.1,460.7 L167.1,460.4 L167.1,465.0 L168.1,464.4 L168.1,463.8 L169.1,461.8 L169.1,463.4 L170.1,464.5 L170.1,461.1 L171.1,465.1 L171.1,468.1 L172.1,467.4 L172.1,463.7 L173.1,465.1 L173.1,467.5 L174.1,466.5 L174.1,465.7 L175.1,466.9 L175.1,468.5 L176.1,468.3 L176.1,465.6 L177.1,466.4 L177.1,466.8 L178.1,465.7 L178.1,463.8 L179.1,465.7 L179.1,465.8 L180.1,466.7 L180.1,464.8 L181.1,462.9 L181.1,463.7 L182.1,462.9 L182.1,461.0 L183.1,462.3 L183.1,462.9 L184.1,465.0 L184.1,461.7 L185.1,461.9 L185.1,462.3 L186.1,465.7 L186.1,461.2 L187.0,464.9 L187.0,466.2 L188.0,464.9 L188.0,464.0 L189.0,464.0 L189.0,464.6 L190.0,464.7 L190.0,462.5 L191.0,465.2 L191.0,465.6 L192.0,465.8 L192.0,465.8 L193.0,463.8 L193.0,466.0 L194.0,466.8 L194.0,462.9 L195.0,464.2 L195.0,468.3 L196.0,467.0 L196.0,464.3 L197.0,467.1 L197.0,468.2 L198.0,465.1 L198.0,464.2 L199.0,464.1 L199.0,464.2 L200.0,464.3 L200.0,463.2 L201.0,465.4 L201.0,465.7 L202.0,467.7 L202.0,467.5 L203.0,464.6 L203.0,466.7 L204.0,468.4 L204.0,467.4 L205.0,464.9 L205.0,471.0 L206.0,467.7 L206.0,466.7 L207.0,468.8 L207.0,471.2 L208.0,470.0 L208.0,468.3 L209.0,468.8 L209.0,469.3 L210.0,470.1 L210.0,468.3 L211.0,467.9 L211.0,468.8 L212.0,471.5 L212.0,469.4 L213.0,469.4 L213.0,470.7 L214.0,471.5 L214.0,469.7 L215.0,467.2 L215.0,468.9 L216.0,467.2 L216.0,465.5 L217.0,469.0 L217.0,471.4 L218.0,469.9 L218.0,469.0 L219.0,468.8 L219.0,468.9 L220.0,469.6 L220.0,469.5 L221.0,468.1 L221.0,471.3 L222.0,470.4 L222.0,468.0 L223.0,468.5 L223.0,469.9 L224.0,470.6 L224.0,469.3 L225.0,469.6 L225.0,469.8 L226.0,472.2 L226.0,471.2 L227.0,470.4 L227.0,471.6 L228.0,473.2 L228.0,469.9 L229.0,471.8 L229.0,473.4 L230.0,473.3 L230.0,471.0 L231.0,473.7 L231.0,475.9 L232.0,475.4 L232.0,471.3 L233.0,472.3 L233.0,472.5 L234.0,471.0 L234.0,469.5 L235.0,470.6 L235.0,471.2 L236.0,474.8 L236.0,474.4 L237.0,472.4 L237.0,473.4 L238.0,474.7 L238.0,473.7 L239.0,471.7 L239.0,474.3 L240.0,475.1 L240.0,471.5 L241.0,470.6 L241.0,472.3 L242.0,473.2 L242.0,471.9 L243.0,472.4 L243.0,474.0 L244.0,474.2 L244.0,472.9 L245.0,472.8 L245.0,475.7 L246.0,475.7 L246.0,475.0 L247.0,474.0 L247.0,476.0 L248.0,474.7 L248.0,473.6 L249.0,472.7 L249.0,473.3 L250.0,472.2 L250.0,472.0 L251.0,471.6 L251.0,472.3 L252.0,473.5 L252.0,472.7 L253.0,472.5 L253.0,472.6 L254.0,473.4 L254.0,473.3 L255.0,473.1 L255.0,474.1 L256.0,474.2 L256.0,472.3 L257.0,474.4 L257.0,475.6 L258.0,475.0 L258.0,472.7 L259.0,473.6 L259.0,474.3 L260.0,476.3 L260.0,472.3 L261.0,474.5 L261.0,475.4 L262.0,475.9 L262.0,472.2 L263.0,473.7 L263.0,476.8 L264.0,476.5 L264.0,475.3 L265.0,475.5 L265.0,476.0 L266.0,474.7 L266.0,474.4 L267.0,473.8 L267.0,475.0 L268.0,476.1 L268.0,474.7 L269.0,472.9 L269.0,475.5 L270.0,475.3 L270.0,475.2 L271.0,476.1 L271.0,478.9 L272.0,479.2 L272.0,473.6 L273.0,473.8 L273.0,477.7 L274.0,474.4 L274.0,474.2 L275.0,474.0 L275.0,477.9 L276.0,478.7 L276.0,474.3 L277.0,477.3 L277.0,477.8 L278.0,475.6 L278.0,475.6 L279.0,475.3 L279.0,475.5 L280.0,476.0 L280.0,474.6 L281.0,476.3 L281.0,476.4 L282.0,476.2 L282.0,474.1 L283.0,473.5 L283.0,474.6 L284.0,474.1 L284.0,473.7 L285.0,475.1 L285.0,476.9 L286.0,477.4 L286.0,474.8 L287.0,473.0 L287.0,475.8 L288.0,475.6 L288.0,473.5 L289.0,474.9 L289.0,475.0 L290.0,478.9 L290.0,476.9 L291.0,478.0 L291.0,478.5 L292.0,481.4 L292.0,479.6 L293.0,478.4 L293.0,479.9 L294.0,478.6 L294.0,477.7 L295.0,478.5 L295.0,480.5 L296.0,475.6 L296.0,475.3 L297.0,474.1 L297.0,479.4 L298.0,475.7 L298.0,475.3 L299.0,478.8 L299.0,479.9 L300.0,478.0 L300.0,477.6 L301.0,477.6 L301.0,478.8 L302.0,479.5 L302.0,478.6 L303.0,477.9 L303.0,478.2 L304.0,479.5 L304.0,478.9 L305.0,478.7 L305.0,480.1 L306.0,477.9 L306.0,475.7 L307.0,478.7 L307.0,480.3 L308.0,478.6 L308.0,478.3 L309.0,479.5 L309.0,480.5 L310.0,480.5 L310.0,480.0 L311.0,481.2 L311.0,482.6 L312.0,480.4 L312.0,480.2 L313.0,479.3 L313.0,481.4 L314.0,481.5 L314.0,479.5 L315.0,479.1 L315.0,483.2 L316.0,482.0 L316.0,481.4 L317.0,479.7 L317.0,480.4 L318.0,481.0 L318.0,479.4 L319.0,479.5 L319.0,481.8 L320.0,481.3 L320.0,479.6 L321.0,481.4 L321.0,481.5 L322.0,481.8 L322.0,481.5 L323.0,483.1 L323.0,485.5 L324.0,482.5 L324.0,481.7 L325.0,479.9 L325.0,481.8 L326.0,481.4 L326.0,480.4 L327.0,481.1 L327.0,483.0 L328.0,481.4 L328.0,480.7 L329.0,482.4 L329.0,482.9 L330.0,485.2 L330.0,483.7 L331.0,481.4 L331.0,485.9 L332.0,481.9 L332.0,481.9 L333.0,480.1 L333.0,484.9 L334.0,483.4 L334.0,481.8 L335.0,482.2 L335.0,486.1 L336.0,484.9 L336.0,482.6 L337.0,483.8 L337.0,484.8 L338.0,486.8 L338.0,484.7 L339.0,484.0 L339.0,484.0 L340.0,485.6 L340.0,480.4 L341.0,480.3 L341.0,481.2 L342.0,483.5 L342.0,482.0 L343.0,481.7 L343.0,482.8 L344.0,484.5 L344.0,482.0 L345.0,482.4 L345.0,484.6 L346.0,486.2 L346.0,482.3 L347.0,483.7 L347.0,484.8 L348.0,485.5 L348.0,485.1 L349.0,483.8 L349.0,486.0 L350.0,481.6 L350.0,481.0 L351.0,483.2 L351.0,483.9 L352.0,484.3 L352.0,482.7 L353.0,481.5 L353.0,485.5 L354.0,486.2 L354.0,484.1 L355.0,483.3 L355.0,483.4 L356.0,484.5 L356.0,483.4 L357.0,480.4 L357.0,484.9 L358.0,485.5 L358.0,483.9 L359.0,483.8 L359.0,484.6 L360.0,485.9 L360.0,484.9 L361.0,484.5 L361.0,485.5 L362.0,485.2 L362.0,483.6 L363.0,485.7 L363.0,487.9 L364.0,485.7 L364.0,484.0 L365.0,485.2 L365.0,486.9 L366.0,487.1 L366.0,484.8 L367.0,484.3 L367.0,488.0 L368.0,485.7 L368.0,485.6 L369.0,486.5 L369.0,486.9 L370.0,488.1 L370.0,487.1 L371.0,485.2 L371.0,486.5 L372.0,485.3 L372.0,484.1 L373.0,484.7 L373.0,487.1 L374.0,484.5 L374.0,484.0 L375.0,485.4 L375.0,487.4 L376.0,486.7 L376.0,483.8 L377.0,485.9 L377.0,488.9 L378.0,489.5 L378.0,485.6 L379.0,487.6 L379.0,488.7 L380.0,489.1 L380.0,488.3 L381.0,486.4 L381.0,490.2 L382.0,489.3 L382.0,489.1 L382.9,485.0 L382.9,487.6 L383.9,490.3 L383.9,488.5 L384.9,487.8 L384.9,489.5 L385.9,489.4 L385.9,487.6 L386.9,487.1 L386.9,488.4 L387.9,487.9 L387.9,486.3 L388.9,487.0 L388.9,490.2 L389.9,489.6 L389.9,488.2 L390.9,486.7 L390.9,488.7 L391.9,488.0 L391.9,487.0 L392.9,485.7 L392.9,487.7 L393.9,490.8 L393.9,490.5 L394.9,488.3 L394.9,488.5 L395.9,488.2 L395.9,487.3 L396.9,488.9 L396.9,489.3 L397.9,490.2 L397.9,489.7 L398.9,488.9 L398.9,492.1 L399.9,489.0 L399.9,488.6 L400.9,487.9 L400.9,489.8 L401.9,492.0 L401.9,490.6 L402.9,487.6 L402.9,488.7 L403.9,489.8 L403.9,488.4 L404.9,486.2 L404.9,487.9 L405.9,487.8 L405.9,486.7 L406.9,486.3 L406.9,488.1 L407.9,487.8 L407.9,486.6 L408.9,490.3 L408.9,491.4 L409.9,491.2 L409.9,490.2 L410.9,488.5 L410.9,493.3 L411.9,489.6 L411.9,489.4 L412.9,487.2 L412.9,488.8 L413.9,487.6 L413.9,485.4 L414.9,489.1 L414.9,490.6 L415.9,490.5 L415.9,490.3 L416.9,490.2 L416.9,492.2 L417.9,491.8 L417.9,491.7 L418.9,489.8 L418.9,491.6 L419.9,492.2 L419.9,491.0 L420.9,489.5 L420.9,489.6 L421.9,489.3 L421.9,488.8 L422.9,487.9 L422.9,491.0 L423.9,490.2 L423.9,489.6 L424.9,489.1 L424.9,492.7 L425.9,490.0 L425.9,487.3 L426.9,488.9 L426.9,488.9 L427.9,490.3 L427.9,488.8 L428.9,489.5 L428.9,489.5 L429.9,490.9 L429.9,488.8 L430.9,490.8 L430.9,491.4 L431.9,493.0 L431.9,491.3 L432.9,491.8 L432.9,492.3 L433.9,493.0 L433.9,492.4 L434.9,491.4 L434.9,492.3 L435.9,492.1 L435.9,489.8 L436.9,489.1 L436.9,492.1 L437.9,492.5 L437.9,490.0 L438.9,490.6 L438.9,490.6 L439.9,491.9 L439.9,488.7 L440.9,490.4 L440.9,491.6 L441.9,490.8 L441.9,488.2 L442.9,491.3 L442.9,492.4 L443.9,490.2 L443.9,489.0 L444.9,490.0 L444.9,491.3 L445.9,494.9 L445.9,492.0 L446.9,489.8 L446.9,493.7 L447.9,490.7 L447.9,490.3 L448.9,490.5 L448.9,492.1 L449.9,490.8 L449.9,488.1 L450.9,490.1 L450.9,490.2 L451.9,490.4 L451.9,489.9 L452.9,490.0 L452.9,493.0 L453.9,493.4 L453.9,493.0 L454.9,490.8 L454.9,493.2 L455.9,491.9 L455.9,491.7 L456.9,491.9 L456.9,492.4 L457.9,492.3 L457.9,490.8 L458.9,493.8 L458.9,495.3 L459.9,494.2 L459.9,493.1 L460.9,491.4 L460.9,496.1 L461.9,495.6 L461.9,493.7 L462.9,492.7 L462.9,494.3 L463.9,493.2 L463.9,492.9 L464.9,492.7 L464.9,494.1 L465.9,494.1 L465.9,491.9 L466.9,491.8 L466.9,493.3 L467.9,495.9 L467.9,495.2 L468.9,491.6 L468.9,494.4 L469.9,495.6 L469.9,493.3 L470.9,491.7 L470.9,495.0 L471.9,495.9 L471.9,492.9 L472.9,493.7 L472.9,494.2 L473.9,493.0 L473.9,492.9 L474.9,491.8 L474.9,493.8 L475.9,496.0 L475.9,492.4 L476.9,492.5 L476.9,494.5 L477.9,495.2 L477.9,491.9 L478.9,497.0 L478.9,497.9 L479.9,494.6 L479.9,493.8 L480.9,492.8 L480.9,495.6 L481.9,493.1 L481.9,489.7 L482.9,491.8 L482.9,493.0 L483.9,493.8 L483.9,491.7 L484.9,493.9 L484.9,494.0 L485.9,494.7 L485.9,493.5 L486.9,494.4 L486.9,495.5 L487.9,495.3 L487.9,494.7 L488.9,492.3 L488.9,493.9 L489.9,495.4 L489.9,494.7 L490.9,492.4 L490.9,493.8 L491.9,494.3 L491.9,494.3 L492.9,493.7 L492.9,495.6 L493.9,494.6 L493.9,493.9 L494.9,496.5 L494.9,496.6 L495.9,498.5 L495.9,495.6 L496.9,497.2 L496.9,498.2 L497.9,499.1 L497.9,496.3 L498.9,497.2 L498.9,497.7 L499.9,496.0 L499.9,495.0 L500.9,495.6 L500.9,495.6 L501.9,495.3 L501.9,494.2 L502.9,496.2 L502.9,496.6 L503.9,496.2 L503.9,496.2 L504.9,496.1 L504.9,497.2 L505.9,497.8 L505.9,495.9 L506.9,497.5 L506.9,497.8 L507.9,497.5 L507.9,495.4 L508.9,495.4 L508.9,496.1 L509.9,499.4 L509.9,497.7 L510.9,494.9 L510.9,497.3 L511.9,496.7 L511.9,494.9 L512.9,495.7 L512.9,496.3 L513.9,496.4 L513.9,495.9 L514.9,497.4 L514.9,497.7 L515.9,495.3 L515.9,494.1 L516.9,497.4 L516.9,498.0 L517.9,495.8 L517.9,492.8 L518.9,492.7 L518.9,497.4 L519.9,499.5 L519.9,496.5 L520.9,497.4 L520.9,499.2 L521.9,497.0 L521.9,496.4 L522.9,493.3 L522.9,495.4 L523.9,497.7 L523.9,496.2 L524.9,496.7 L524.9,497.5 L525.9,497.5 L525.9,496.0 L526.9,496.8 L526.9,497.3 L527.9,496.3 L527.9,495.7 L528.9,498.4 L528.9,499.2 L529.9,497.0 L529.9,495.5 L530.9,497.5 L530.9,500.8 L531.9,500.1 L531.9,498.5 L532.9,496.4 L532.9,499.5 L533.9,497.5 L533.9,497.4 L534.9,496.3 L534.9,500.3 L535.9,500.8 L535.9,498.2 L536.9,496.7 L536.9,500.2 L537.9,499.6 L537.9,496.8 L538.9,498.3 L538.9,498.7 L539.9,499.5 L539.9,498.4 L540.9,498.2 L540.9,498.5 L541.9,500.0 L541.9,498.7 L542.9,495.4 L542.9,499.2 L543.9,498.1 L543.9,495.8 L544.9,498.5 L544.9,500.0 L545.9,498.7 L545.9,497.6 L546.9,494.9 L546.9,499.2 L547.9,499.3 L547.9,497.2 L548.9,495.0 L548.9,497.1 L549.9,497.3 L549.9,495.9 L550.9,496.1 L550.9,496.8 L551.9,497.5 L551.9,496.7 L552.9,497.8 L552.9,499.6 L553.9,502.7 L553.9,496.1 L554.9,499.6 L554.9,502.0 L555.9,500.6 L555.9,499.1 L556.9,498.8 L556.9,499.4 L557.9,498.1 L557.9,497.5 L558.9,499.0 L558.9,499.8 L559.9,500.5 L559.9,496.5 L560.9,496.0 L560.9,499.3 L561.9,500.7 L561.9,496.7 L562.9,496.5 L562.9,496.5 L563.9,499.4 L563.9,497.5 L564.9,497.7 L564.9,498.0 L565.9,495.5 L565.9,494.9 L566.9,497.5 L566.9,497.6 L567.9,497.8 L567.9,496.3 L568.9,497.9 L568.9,499.3 L569.9,499.4 L569.9,498.1 L570.9,499.0 L570.9,502.3 L571.9,499.5 L571.9,498.8 L572.9,496.9 L572.9,500.1 L573.9,495.6 L573.9,495.5 L574.9,494.7 L574.9,497.1 L575.9,499.6 L575.9,498.5 L576.9,499.1 L576.9,499.5 L577.9,498.7 L577.9,497.5 L578.9,498.6 L578.9,501.2 L579.8,502.0 L579.8,497.6 L580.8,497.5 L580.8,498.0 L581.8,497.4 L581.8,497.3 L582.8,498.5 L582.8,499.8 L583.8,501.5 L583.8,500.2 L584.8,501.3 L584.8,503.1 L585.8,500.2 L585.8,499.5 L586.8,499.9 L586.8,500.8 L587.8,502.8 L587.8,501.6 L588.8,501.0 L588.8,501.7 L589.8,500.3 L589.8,499.7 L590.8,499.1 L590.8,499.8 L591.8,501.3 L591.8,499.0 L592.8,498.1 L592.8,499.0 L593.8,499.9 L593.8,498.1 L594.8,499.0 L594.8,502.8 L595.8,502.1 L595.8,502.0 L596.8,502.1 L596.8,502.6 L597.8,505.3 L597.8,500.8 L598.8,500.8 L598.8,502.7 L599.8,503.6 L599.8,501.2 L600.8,500.2 L600.8,502.0 L601.8,502.3 L601.8,501.3 L602.8,501.8 L602.8,502.9 L603.8,501.6 L603.8,499.9 L604.8,499.9 L604.8,500.7 L605.8,499.1 L605.8,498.2 L606.8,499.7 L606.8,500.6 L607.8,500.7 L607.8,498.4 L608.8,499.3 L608.8,500.7 L609.8,502.4 L609.8,501.7 L610.8,502.8 L610.8,503.3 L611.8,501.7 L611.8,501.0 L612.8,500.4 L612.8,500.9 L613.8,502.5 L613.8,500.5 L614.8,499.0 L614.8,502.9 L615.8,502.5 L615.8,500.2 L616.8,499.7 L616.8,501.0 L617.8,501.0 L617.8,500.7 L618.8,496.4 L618.8,498.8 L619.8,501.3 L619.8,499.7 L620.8,496.8 L620.8,500.9 L621.8,500.0 L621.8,499.9 L622.8,502.3 L622.8,504.1 L623.8,503.8 L623.8,501.2 L624.8,499.3 L624.8,503.3 L625.8,501.6 L625.8,501.6 L626.8,501.0 L626.8,502.2 L627.8,503.5 L627.8,502.9 L628.8,502.9 L628.8,503.3 L629.8,501.5 L629.8,500.8 L630.8,499.3 L630.8,500.1 L631.8,502.0 L631.8,500.9 L632.8,501.0 L632.8,501.0 L633.8,503.2 L633.8,502.5 L634.8,501.9 L634.8,502.3 L635.8,504.2 L635.8,500.8 L636.8,498.8 L636.8,502.1 L637.8,502.5 L637.8,502.1 L638.8,502.8 L638.8,503.5 L639.8,503.5 L639.8,501.9 L640.8,500.5 L640.8,503.5 L641.8,501.7 L641.8,501.7 L642.8,500.7 L642.8,502.1 L643.8,501.3 L643.8,501.0 L644.8,501.5 L644.8,502.6 L645.8,503.7 L645.8,502.0 L646.8,502.4 L646.8,503.4 L647.8,501.9 L647.8,501.8 L648.8,499.7 L648.8,501.5 L649.8,503.5 L649.8,501.6 L650.8,499.8 L650.8,503.3 L651.8,503.0 L651.8,501.6 L652.8,501.0 L652.8,503.1 L653.8,505.1 L653.8,503.7 L654.8,501.8 L654.8,503.4 L655.8,502.7 L655.8,500.5 L656.8,500.1 L656.8,502.0 L657.8,501.7 L657.8,500.0 L658.8,502.2 L658.8,504.4 L659.8,506.1 L659.8,503.8 L660.8,504.2 L660.8,505.7 L661.8,505.3 L661.8,502.8 L662.8,502.8 L662.8,503.9 L663.8,503.8 L663.8,501.7 L664.8,501.6 L664.8,503.2 L665.8,504.9 L665.8,502.7 L666.8,502.2 L666.8,504.8 L667.8,507.3 L667.8,504.6 L668.8,504.3 L668.8,504.6 L669.8,505.3 L669.8,503.6 L670.8,503.1 L670.8,503.6 L671.8,504.0 L671.8,503.0 L672.8,503.5 L672.8,506.0 L673.8,502.6 L673.8,502.3 L674.8,503.7 L674.8,504.8 L675.8,501.9 L675.8,501.6 L676.8,502.2 L676.8,502.4 L677.3,502.2" fill="none" stroke="#1f77b4" stroke-width="2.08" stroke-linejoin="round" stroke-linecap="butt"/>
<path d="M88.6,514.0 L89.1,517.4 L89.1,517.5 L90.1,515.0 L90.1,513.5 L91.1,512.2 L91.1,516.8 L92.1,516.5 L92.1,512.2 L93.1,516.5 L93.1,516.8 L94.1,513.4 L94.1,513.4 L95.1,511.4 L95.1,515.5 L96.1,516.3 L96.1,514.4 L97.1,516.1 L97.1,516.2 L98.1,518.4 L98.1,517.6 L99.1,518.7 L99.1,519.9 L100.1,517.2 L100.1,515.4 L101.1,516.5 L101.1,519.1 L102.1,518.8 L102.1,515.0 L103.1,514.9 L103.1,515.1 L104.1,515.3 L104.1,513.8 L105.1,515.1 L105.1,516.1 L106.1,517.0 L106.1,515.6 L107.1,512.4 L107.1,516.7 L108.1,517.1 L108.1,515.4 L109.1,514.5 L109.1,515.2 L110.1,516.5 L110.1,514.6 L111.1,513.4 L111.1,516.7 L112.1,517.3 L112.1,517.3 L113.1,514.2 L113.1,517.5 L114.1,515.9 L114.1,515.2 L115.1,515.4 L115.1,515.4 L116.1,513.4 L116.1,512.9 L117.1,509.3 L117.1,513.4 L118.1,511.4 L118.1,508.5 L119.1,511.7 L119.1,511.9 L120.1,512.3 L120.1,511.9 L121.1,507.9 L121.1,510.4 L122.1,510.5 L122.1,509.4 L123.1,508.8 L123.1,512.0 L124.1,511.4 L124.1,510.7 L125.1,509.6 L125.1,513.9 L126.1,512.4 L126.1,511.6 L127.1,508.7 L127.1,509.3 L128.1,511.9 L128.1,509.3 L129.1,511.4 L129.1,513.5 L130.1,509.4 L130.1,508.8 L131.1,508.6 L131.1,511.7 L132.1,510.1 L132.1,509.3 L133.1,508.2 L133.1,511.1 L134.1,510.8 L134.1,510.3 L135.1,508.5 L135.1,508.8 L136.1,511.2 L136.1,510.7 L137.1,507.5 L137.1,507.5 L138.1,511.4 L138.1,508.8 L139.1,507.2 L139.1,507.6 L140.1,507.4 L140.1,506.7 L141.1,508.9 L141.1,509.0 L142.1,505.8 L142.1,505.8 L143.1,505.8 L143.1,508.5 L144.1,507.9 L144.1,504.0 L145.1,506.5 L145.1,506.6 L146.1,508.5 L146.1,508.4 L147.1,504.5 L147.1,508.7 L148.1,507.2 L148.1,506.4 L149.1,505.0 L149.1,506.9 L150.1,507.6 L150.1,506.7 L151.1,507.0 L151.1,507.3 L152.1,505.8 L152.1,505.5 L153.1,502.1 L153.1,506.3 L154.1,506.5 L154.1,505.8 L155.1,505.6 L155.1,506.5 L156.1,506.9 L156.1,505.7 L157.1,503.1 L157.1,505.5 L158.1,505.3 L158.1,502.4 L159.1,503.4 L159.1,507.4 L160.1,505.9 L160.1,504.9 L161.1,505.4 L161.1,506.0 L162.1,506.5 L162.1,505.3 L163.1,504.6 L163.1,505.6 L164.1,506.3 L164.1,506.0 L165.1,506.9 L165.1,507.0 L166.1,506.7 L166.1,503.0 L167.1,504.3 L167.1,506.1 L168.1,502.9 L168.1,502.7 L169.1,502.9 L169.1,503.2 L170.1,506.0 L170.1,502.6 L171.1,503.1 L171.1,504.1 L172.1,507.4 L172.1,503.0 L173.1,503.2 L173.1,503.2 L174.1,506.5 L174.1,504.1 L175.1,505.7 L175.1,507.7 L176.1,507.3 L176.1,503.3 L177.1,500.4 L177.1,504.2 L178.1,504.2 L178.1,503.1 L179.1,497.6 L179.1,506.6 L180.1,502.4 L180.1,500.1 L181.1,502.7 L181.1,504.0 L182.1,504.0 L182.1,502.6 L183.1,502.6 L183.1,502.9 L184.1,503.7 L184.1,501.6 L185.1,503.2 L185.1,504.5 L186.1,505.1 L186.1,501.2 L187.0,504.7 L187.0,504.9 L188.0,505.2 L188.0,503.5 L189.0,503.9 L189.0,506.0 L190.0,504.9 L190.0,503.9 L191.0,503.2 L191.0,504.4 L192.0,505.4 L192.0,503.4 L193.0,502.3 L193.0,506.9 L194.0,505.1 L194.0,503.4 L195.0,502.4 L195.0,504.3 L196.0,504.6 L196.0,503.0 L197.0,504.2 L197.0,506.9 L198.0,502.9 L198.0,499.8 L199.0,500.0 L199.0,504.9 L200.0,503.8 L200.0,502.8 L201.0,500.6 L201.0,502.7 L202.0,499.8 L202.0,497.6 L203.0,499.2 L203.0,500.1 L204.0,504.4 L204.0,500.2 L205.0,502.5 L205.0,504.1 L206.0,502.2 L206.0,499.5 L207.0,500.2 L207.0,500.4 L208.0,503.3 L208.0,500.5 L209.0,503.2 L209.0,503.9 L210.0,504.3 L210.0,502.0 L211.0,502.1 L211.0,503.9 L212.0,503.0 L212.0,502.8 L213.0,501.7 L213.0,503.9 L214.0,502.4 L214.0,501.6 L215.0,503.3 L215.0,503.4 L216.0,501.1 L216.0,500.8 L217.0,501.4 L217.0,502.3 L218.0,501.2 L218.0,500.2 L219.0,500.9 L219.0,501.5 L220.0,501.6 L220.0,500.8 L221.0,500.4 L221.0,501.9 L222.0,499.3 L222.0,498.7 L223.0,499.7 L223.0,499.8 L224.0,500.0 L224.0,499.9 L225.0,498.9 L225.0,501.4 L226.0,498.3 L226.0,497.1 L227.0,501.3 L227.0,501.6 L228.0,501.0 L228.0,500.0 L229.0,502.7 L229.0,503.0 L230.0,500.0 L230.0,499.1 L231.0,499.7 L231.0,500.7 L232.0,502.0 L232.0,499.2 L233.0,499.1 L233.0,500.2 L234.0,499.9 L234.0,496.4 L235.0,496.8 L235.0,500.6 L236.0,501.8 L236.0,496.7 L237.0,496.8 L237.0,498.8 L238.0,496.3 L238.0,496.0 L239.0,497.2 L239.0,499.8 L240.0,500.5 L240.0,497.0 L241.0,498.9 L241.0,499.9 L242.0,499.0 L242.0,497.9 L243.0,498.9 L243.0,501.5 L244.0,501.9 L244.0,500.9 L245.0,497.6 L245.0,498.9 L246.0,498.9 L246.0,497.2 L247.0,494.5 L247.0,497.1 L248.0,500.0 L248.0,496.4 L249.0,497.3 L249.0,499.2 L250.0,497.6 L250.0,497.3 L251.0,495.0 L251.0,500.6 L252.0,496.1 L252.0,494.9 L253.0,496.0 L253.0,496.9 L254.0,498.4 L254.0,497.3 L255.0,496.0 L255.0,496.3 L256.0,496.3 L256.0,496.1 L257.0,497.5 L257.0,499.4 L258.0,500.3 L258.0,498.2 L259.0,498.4 L259.0,500.4 L260.0,498.0 L260.0,495.4 L261.0,498.0 L261.0,499.2 L262.0,498.3 L262.0,494.4 L263.0,497.1 L263.0,497.9 L264.0,499.2 L264.0,498.0 L265.0,498.8 L265.0,498.9 L266.0,499.0 L266.0,497.0 L267.0,497.9 L267.0,498.8 L268.0,498.0 L268.0,495.1 L269.0,496.7 L269.0,497.3 L270.0,498.7 L270.0,496.2 L271.0,499.5 L271.0,501.3 L272.0,499.3 L272.0,498.4 L273.0,499.4 L273.0,499.6 L274.0,498.6 L274.0,497.5 L275.0,498.1 L275.0,499.8 L276.0,498.3 L276.0,498.3 L277.0,497.2 L277.0,497.5 L278.0,498.0 L278.0,497.8 L279.0,493.3 L279.0,494.1 L280.0,495.6 L280.0,495.0 L281.0,494.3 L281.0,494.7 L282.0,497.7 L282.0,496.5 L283.0,495.4 L283.0,497.3 L284.0,496.0 L284.0,494.4 L285.0,494.0 L285.0,495.6 L286.0,495.2 L286.0,494.3 L287.0,493.0 L287.0,494.4 L288.0,493.6 L288.0,492.5 L289.0,493.2 L289.0,496.0 L290.0,494.9 L290.0,494.8 L291.0,493.6 L291.0,495.1 L292.0,496.5 L292.0,493.8 L293.0,493.7 L293.0,496.2 L294.0,495.7 L294.0,494.1 L295.0,493.8 L295.0,494.7 L296.0,495.6 L296.0,494.3 L297.0,495.5 L297.0,497.9 L298.0,497.4 L298.0,496.1 L299.0,495.6 L299.0,497.2 L300.0,496.1 L300.0,495.5 L301.0,495.4 L301.0,496.3 L302.0,494.7 L302.0,492.7 L303.0,494.9 L303.0,495.6 L304.0,496.8 L304.0,494.7 L305.0,494.2 L305.0,498.2 L306.0,496.3 L306.0,494.2 L307.0,493.9 L307.0,497.0 L308.0,493.0 L308.0,492.8 L309.0,492.2 L309.0,494.4 L310.0,496.3 L310.0,495.8 L311.0,494.8 L311.0,497.1 L312.0,496.9 L312.0,495.7 L313.0,494.5 L313.0,497.4 L314.0,494.8 L314.0,493.7 L315.0,492.6 L315.0,492.8 L316.0,493.8 L316.0,493.8 L317.0,491.1 L317.0,492.0 L318.0,495.0 L318.0,491.7 L319.0,492.3 L319.0,495.0 L320.0,492.5 L320.0,491.5 L321.0,489.4 L321.0,491.2 L322.0,492.8 L322.0,490.3 L323.0,491.4 L323.0,495.8 L324.0,495.4 L324.0,494.8 L325.0,496.6 L325.0,497.1 L326.0,495.8 L326.0,493.2 L327.0,492.9 L327.0,495.3 L328.0,495.1 L328.0,493.3 L329.0,492.0 L329.0,493.6 L330.0,492.7 L330.0,489.8 L331.0,491.9 L331.0,492.8 L332.0,490.0 L332.0,488.9 L333.0,491.0 L333.0,492.6 L334.0,493.8 L334.0,493.0 L335.0,489.6 L335.0,491.0 L336.0,494.1 L336.0,493.6 L337.0,491.0 L337.0,493.8 L338.0,493.9 L338.0,493.7 L339.0,492.7 L339.0,492.8 L340.0,493.3 L340.0,492.3 L341.0,492.5 L341.0,493.0 L342.0,492.5 L342.0,490.9 L343.0,492.2 L343.0,492.6 L344.0,490.7 L344.0,490.1 L345.0,492.1 L345.0,492.4 L346.0,491.2 L346.0,490.1 L347.0,487.4 L347.0,493.2 L348.0,490.4 L348.0,490.2 L349.0,490.0 L349.0,490.2 L350.0,490.6 L350.0,489.8 L351.0,489.3 L351.0,490.9 L352.0,492.5 L352.0,489.9 L353.0,491.1 L353.0,491.7 L354.0,489.2 L354.0,488.3 L355.0,488.4 L355.0,489.3 L356.0,491.1 L356.0,489.2 L357.0,492.1 L357.0,493.4 L358.0,490.2 L358.0,489.2 L359.0,487.6 L359.0,490.5 L360.0,488.9 L360.0,486.1 L361.0,487.8 L361.0,489.2 L362.0,488.3 L362.0,488.0 L363.0,487.8 L363.0,488.5 L364.0,489.5 L364.0,488.6 L365.0,488.0 L365.0,489.5 L366.0,492.4 L366.0,492.4 L367.0,491.5 L367.0,493.5 L368.0,491.8 L368.0,490.3 L369.0,489.3 L369.0,490.4 L370.0,489.8 L370.0,489.6 L371.0,487.6 L371.0,490.5 L372.0,488.9 L372.0,487.1 L373.0,485.7 L373.0,488.4 L374.0,489.4 L374.0,488.6 L375.0,491.1 L375.0,491.3 L376.0,487.8 L376.0,485.9 L377.0,488.2 L377.0,489.1 L378.0,489.2 L378.0,487.0 L379.0,486.4 L379.0,486.9 L380.0,489.2 L380.0,487.6 L381.0,490.0 L381.0,491.3 L382.0,492.4 L382.0,491.5 L382.9,490.0 L382.9,490.1 L383.9,490.1 L383.9,488.5 L384.9,487.3 L384.9,488.6 L385.9,487.4 L385.9,486.4 L386.9,488.5 L386.9,489.7 L387.9,488.4 L387.9,488.0 L388.9,488.5 L388.9,489.5 L389.9,490.7 L389.9,488.6 L390.9,489.3 L390.9,489.7 L391.9,491.4 L391.9,488.1 L392.9,489.5 L392.9,490.9 L393.9,490.5 L393.9,489.2 L394.9,489.3 L394.9,489.6 L395.9,491.0 L395.9,490.6 L396.9,487.9 L396.9,491.0 L397.9,488.7 L397.9,487.7 L398.9,488.4 L398.9,491.0 L399.9,487.5 L399.9,484.2 L400.9,487.8 L400.9,489.1 L401.9,488.3 L401.9,486.7 L402.9,486.7 L402.9,487.6 L403.9,488.5 L403.9,484.8 L404.9,486.7 L404.9,488.6 L405.9,489.6 L405.9,487.4 L406.9,489.6 L406.9,490.2 L407.9,491.2 L407.9,490.3 L408.9,489.5 L408.9,492.6 L409.9,491.8 L409.9,488.9 L410.9,490.2 L410.9,494.4 L411.9,492.0 L411.9,491.9 L412.9,490.1 L412.9,492.2 L413.9,492.4 L413.9,490.1 L414.9,489.8 L414.9,494.4 L415.9,492.5 L415.9,489.7 L416.9,489.0 L416.9,489.5 L417.9,492.3 L417.9,487.3 L418.9,490.4 L418.9,491.2 L419.9,489.3 L419.9,488.7 L420.9,488.3 L420.9,492.0 L421.9,487.5 L421.9,486.3 L422.9,488.2 L422.9,489.1 L423.9,491.6 L423.9,489.2 L424.9,489.7 L424.9,489.7 L425.9,490.3 L425.9,488.5 L426.9,488.0 L426.9,490.1 L427.9,492.2 L427.9,491.8 L428.9,488.7 L428.9,489.0 L429.9,493.6 L429.9,492.0 L430.9,487.8 L430.9,491.9 L431.9,490.9 L431.9,490.7 L432.9,489.9 L432.9,492.2 L433.9,491.0 L433.9,489.9 L434.9,491.6 L434.9,492.9 L435.9,492.5 L435.9,491.6 L436.9,489.2 L436.9,491.2 L437.9,492.5 L437.9,491.7 L438.9,490.7 L438.9,490.9 L439.9,490.7 L439.9,489.8 L440.9,491.1 L440.9,492.1 L441.9,494.4 L441.9,492.1 L442.9,490.5 L442.9,493.1 L443.9,494.5 L443.9,494.2 L444.9,490.9 L444.9,491.0 L445.9,491.0 L445.9,490.3 L446.9,486.4 L446.9,489.5 L447.9,491.6 L447.9,491.0 L448.9,488.3 L448.9,489.1 L449.9,488.1 L449.9,487.3 L450.9,487.8 L450.9,489.3 L451.9,491.6 L451.9,489.9 L452.9,492.3 L452.9,493.6 L453.9,491.2 L453.9,491.1 L454.9,489.1 L454.9,491.1 L455.9,487.9 L455.9,486.9 L456.9,486.9 L456.9,489.6 L457.9,492.1 L457.9,491.5 L458.9,492.3 L458.9,494.4 L459.9,496.1 L459.9,495.4 L460.9,494.0 L460.9,495.6 L461.9,492.3 L461.9,491.2 L462.9,493.3 L462.9,494.4 L463.9,493.0 L463.9,492.9 L464.9,490.8 L464.9,491.7 L465.9,493.3 L465.9,492.8 L466.9,492.0 L466.9,495.2 L467.9,496.4 L467.9,491.2 L468.9,491.3 L468.9,494.2 L469.9,492.1 L469.9,492.1 L470.9,492.7 L470.9,492.7 L471.9,492.8 L471.9,492.2 L472.9,491.0 L472.9,492.5 L473.9,493.7 L473.9,491.7 L474.9,493.3 L474.9,494.0 L475.9,494.3 L475.9,491.8 L476.9,492.9 L476.9,493.5 L477.9,494.8 L477.9,492.3 L478.9,493.9 L478.9,494.5 L479.9,492.0 L479.9,490.5 L480.9,490.8 L480.9,491.5 L481.9,493.0 L481.9,491.2 L482.9,492.0 L482.9,495.4 L483.9,493.3 L483.9,491.8 L484.9,492.5 L484.9,492.6 L485.9,495.0 L485.9,494.9 L486.9,492.7 L486.9,494.1 L487.9,494.6 L487.9,493.6 L488.9,492.3 L488.9,494.2 L489.9,492.8 L489.9,491.2 L490.9,492.8 L490.9,493.2 L491.9,495.9 L491.9,491.2 L492.9,492.1 L492.9,493.2 L493.9,492.0 L493.9,491.3 L494.9,490.9 L494.9,493.7 L495.9,494.0 L495.9,491.6 L496.9,492.7 L496.9,493.4 L497.9,491.6 L497.9,488.3 L498.9,490.6 L498.9,490.8 L499.9,490.8 L499.9,489.8 L500.9,489.7 L500.9,491.5 L501.9,493.3 L501.9,490.6 L502.9,490.9 L502.9,492.7 L503.9,491.7 L503.9,490.8 L504.9,490.9 L504.9,491.5 L505.9,492.3 L505.9,490.9 L506.9,490.1 L506.9,491.4 L507.9,495.5 L507.9,491.1 L508.9,492.8 L508.9,495.3 L509.9,492.7 L509.9,491.2 L510.9,491.3 L510.9,494.7 L511.9,492.8 L511.9,488.7 L512.9,493.0 L512.9,494.7 L513.9,495.4 L513.9,494.1 L514.9,494.6 L514.9,495.5 L515.9,494.0 L515.9,492.3 L516.9,491.4 L516.9,492.4 L517.9,490.6 L517.9,490.3 L518.9,491.0 L518.9,491.9 L519.9,491.1 L519.9,490.4 L520.9,491.6 L520.9,492.2 L521.9,494.7 L521.9,491.3 L522.9,491.7 L522.9,492.8 L523.9,495.0 L523.9,492.4 L524.9,491.3 L524.9,492.7 L525.9,493.6 L525.9,491.2 L526.9,493.1 L526.9,495.0 L527.9,494.3 L527.9,492.6 L528.9,491.6 L528.9,492.5 L529.9,495.5 L529.9,493.9 L530.9,493.3 L530.9,495.1 L531.9,492.5 L531.9,490.8 L532.9,491.3 L532.9,494.2 L533.9,493.0 L533.9,491.8 L534.9,492.8 L534.9,494.0 L535.9,492.3 L535.9,491.8 L536.9,491.2 L536.9,491.7 L537.9,492.3 L537.9,491.2 L538.9,494.1 L538.9,495.1 L539.9,497.7 L539.9,495.2 L540.9,493.5 L540.9,497.2 L541.9,494.9 L541.9,493.7 L542.9,493.3 L542.9,495.1 L543.9,494.9 L543.9,493.5 L544.9,493.0 L544.9,493.2 L545.9,496.1 L545.9,492.6 L546.9,493.8 L546.9,496.0 L547.9,496.0 L547.9,492.3 L548.9,492.6 L548.9,492.9 L549.9,494.3 L549.9,493.4 L550.9,493.1 L550.9,495.0 L551.9,495.7 L551.9,491.8 L552.9,491.4 L552.9,493.2 L553.9,491.9 L553.9,491.0 L554.9,489.3 L554.9,492.4 L555.9,496.0 L555.9,492.7 L556.9,494.2 L556.9,495.6 L557.9,491.7 L557.9,490.6 L558.9,492.2 L558.9,493.5 L559.9,493.1 L559.9,490.5 L560.9,492.1 L560.9,496.4 L561.9,493.7 L561.9,492.4 L562.9,491.3 L562.9,493.2 L563.9,491.7 L563.9,491.0 L564.9,490.8 L564.9,490.9 L565.9,493.9 L565.9,492.0 L566.9,491.0 L566.9,494.0 L567.9,494.1 L567.9,492.6 L568.9,491.5 L568.9,492.3 L569.9,494.3 L569.9,493.6 L570.9,492.9 L570.9,496.5 L571.9,494.6 L571.9,492.5 L572.9,493.1 L572.9,493.3 L573.9,496.3 L573.9,493.1 L574.9,490.5 L574.9,492.1 L575.9,497.4 L575.9,494.6 L576.9,493.3 L576.9,493.6 L577.9,495.1 L577.9,491.1 L578.9,491.6 L578.9,493.1 L579.8,491.4 L579.8,491.2 L580.8,489.3 L580.8,489.8 L581.8,491.3 L581.8,485.4 L582.8,486.5 L582.8,490.7 L583.8,493.8 L583.8,492.8 L584.8,494.1 L584.8,494.7 L585.8,493.1 L585.8,491.8 L586.8,491.6 L586.8,493.3 L587.8,492.8 L587.8,492.0 L588.8,491.6 L588.8,492.6 L589.8,491.7 L589.8,491.3 L590.8,491.6 L590.8,492.4 L591.8,493.5 L591.8,493.1 L592.8,490.5 L592.8,492.3 L593.8,493.2 L593.8,489.7 L594.8,490.5 L594.8,491.6 L595.8,492.7 L595.8,491.5 L596.8,491.2 L596.8,491.6 L597.8,494.4 L597.8,490.9 L598.8,492.0 L598.8,493.0 L599.8,494.3 L599.8,492.0 L600.8,490.2 L600.8,490.8 L601.8,491.1 L601.8,488.3 L602.8,489.0 L602.8,489.9 L603.8,493.6 L603.8,489.4 L604.8,490.0 L604.8,492.1 L605.8,490.6 L605.8,488.9 L606.8,490.9 L606.8,492.0 L607.8,492.0 L607.8,491.6 L608.8,491.4 L608.8,493.1 L609.8,492.5 L609.8,490.2 L610.8,490.6 L610.8,491.4 L611.8,492.5 L611.8,488.5 L612.8,491.1 L612.8,491.6 L613.8,493.3 L613.8,490.6 L614.8,489.4 L614.8,492.0 L615.8,490.0 L615.8,488.2 L616.8,488.5 L616.8,490.5 L617.8,489.5 L617.8,487.4 L618.8,490.2 L618.8,493.2 L619.8,494.1 L619.8,492.5 L620.8,488.5 L620.8,488.7 L621.8,494.7 L621.8,493.0 L622.8,490.6 L622.8,493.9 L623.8,493.4 L623.8,493.3 L624.8,493.3 L624.8,493.3 L625.8,492.5 L625.8,491.4 L626.8,490.3 L626.8,491.0 L627.8,489.9 L627.8,489.5 L628.8,489.4 L628.8,490.8 L629.8,492.0 L629.8,491.2 L630.8,491.8 L630.8,494.5 L631.8,494.5 L631.8,492.0 L632.8,490.8 L632.8,493.7 L633.8,493.7 L633.8,489.4 L634.8,490.2 L634.8,493.0 L635.8,490.4 L635.8,489.1 L636.8,489.4 L636.8,490.8 L637.8,491.1 L637.8,489.1 L638.8,489.5 L638.8,489.7 L639.8,489.2 L639.8,488.6 L640.8,489.1 L640.8,490.2 L641.8,491.6 L641.8,490.5 L642.8,491.0 L642.8,493.1 L643.8,492.8 L643.8,492.7 L644.8,489.2 L644.8,491.2 L645.8,491.6 L645.8,488.5 L646.8,488.2 L646.8,490.8 L647.8,490.3 L647.8,489.9 L648.8,489.5 L648.8,490.5 L649.8,490.4 L649.8,489.3 L650.8,489.1 L650.8,490.5 L651.8,489.3 L651.8,488.9 L652.8,487.8 L652.8,488.0 L653.8,492.5 L653.8,489.3 L654.8,492.1 L654.8,493.1 L655.8,490.0 L655.8,489.0 L656.8,487.1 L656.8,491.3 L657.8,489.7 L657.8,487.8 L658.8,490.0 L658.8,490.3 L659.8,492.3 L659.8,488.3 L660.8,491.9 L660.8,491.9 L661.8,491.2 L661.8,491.2 L662.8,491.7 L662.8,492.7 L663.8,490.6 L663.8,488.0 L664.8,487.9 L664.8,490.7 L665.8,491.9 L665.8,490.0 L666.8,491.5 L666.8,492.2 L667.8,492.7 L667.8,492.6 L668.8,488.2 L668.8,491.6 L669.8,491.6 L669.8,491.4 L670.8,488.2 L670.8,490.5 L671.8,491.8 L671.8,490.8 L672.8,490.5 L672.8,491.3 L673.8,489.2 L673.8,487.8 L674.8,490.1 L674.8,492.7 L675.8,491.2 L675.8,489.8 L676.8,488.9 L676.8,492.7 L677.3,490.5" fill="none" stroke="#ff7f0e" stroke-width="2.08" stroke-linejoin="round" stroke-linecap="butt"/>
<path d="M88.6,589.9 L89.1,589.2 L89.1,590.4 L90.1,590.5 L90.1,590.3 L91.1,588.7 L91.1,590.2 L92.1,588.6 L92.1,587.1 L93.1,586.7 L93.1,588.1 L94.1,584.6 L94.1,582.1 L95.1,584.6 L95.1,585.9 L96.1,589.8 L96.1,589.3 L97.1,589.2 L97.1,591.3 L98.1,593.9 L98.1,590.2 L99.1,591.4 L99.1,591.7 L100.1,594.6 L100.1,593.8 L101.1,592.7 L101.1,594.6 L102.1,596.3 L102.1,591.7 L103.1,594.5 L103.1,594.9 L104.1,596.2 L104.1,595.1 L105.1,594.3 L105.1,597.7 L106.1,598.9 L106.1,596.4 L107.1,594.0 L107.1,597.2 L108.1,595.7 L108.1,592.2 L109.1,590.1 L109.1,592.6 L110.1,586.8 L110.1,586.6 L111.1,587.8 L111.1,589.2 L112.1,584.5 L112.1,583.7 L113.1,583.7 L113.1,584.4 L114.1,589.8 L114.1,584.3 L115.1,585.7 L115.1,587.4 L116.1,586.0 L116.1,583.7 L117.1,582.2 L117.1,586.9 L118.1,583.0 L118.1,580.5 L119.1,579.8 L119.1,580.1 L120.1,584.5 L120.1,583.0 L121.1,583.5 L121.1,583.8 L122.1,588.4 L122.1,585.8 L123.1,584.6 L123.1,586.8 L124.1,582.4 L124.1,579.4 L125.1,577.8 L125.1,581.9 L126.1,576.9 L126.1,574.5 L127.1,571.9 L127.1,572.7 L128.1,573.6 L128.1,573.2 L129.1,567.9 L129.1,571.4 L130.1,572.1 L130.1,572.1 L131.1,566.9 L131.1,568.8 L132.1,567.7 L132.1,563.7 L133.1,564.8 L133.1,567.7 L134.1,565.1 L134.1,563.0 L135.1,563.8 L135.1,565.5 L136.1,563.6 L136.1,559.9 L137.1,561.7 L137.1,562.2 L138.1,562.8 L138.1,561.3 L139.1,559.2 L139.1,561.1 L140.1,558.7 L140.1,558.2 L141.1,557.9 L141.1,558.0 L142.1,560.2 L142.1,558.4 L143.1,554.2 L143.1,556.1 L144.1,555.2 L144.1,554.3 L145.1,553.1 L145.1,553.3 L146.1,554.5 L146.1,554.1 L147.1,551.1 L147.1,554.4 L148.1,553.4 L148.1,548.3 L149.1,550.7 L149.1,550.9 L150.1,549.8 L150.1,549.0 L151.1,548.5 L151.1,548.6 L152.1,547.4 L152.1,546.9 L153.1,547.0 L153.1,551.5 L154.1,549.8 L154.1,549.2 L155.1,546.6 L155.1,552.5 L156.1,547.3 L156.1,546.1 L157.1,546.4 L157.1,546.5 L158.1,546.8 L158.1,545.2 L159.1,544.1 L159.1,544.3 L160.1,545.1 L160.1,543.5 L161.1,544.4 L161.1,545.9 L162.1,547.3 L162.1,546.0 L163.1,544.4 L163.1,546.9 L164.1,545.0 L164.1,542.5 L165.1,542.0 L165.1,543.5 L166.1,544.5 L166.1,543.3 L167.1,540.5 L167.1,545.3 L168.1,545.1 L168.1,541.3 L169.1,542.0 L169.1,546.4 L170.1,544.7 L170.1,543.2 L171.1,542.4 L171.1,542.4 L172.1,542.8 L172.1,540.5 L173.1,539.8 L173.1,541.2 L174.1,541.4 L174.1,537.8 L175.1,540.2 L175.1,542.8 L176.1,541.2 L176.1,541.0 L177.1,538.2 L177.1,542.2 L178.1,544.2 L178.1,539.2 L179.1,543.7 L179.1,545.1 L180.1,545.4 L180.1,544.0 L181.1,539.0 L181.1,539.8 L182.1,540.6 L182.1,540.5 L183.1,538.9 L183.1,543.5 L184.1,540.6 L184.1,538.5 L185.1,539.2 L185.1,543.2 L186.1,541.6 L186.1,541.4 L187.0,536.0 L187.0,540.2 L188.0,541.2 L188.0,536.7 L189.0,537.3 L189.0,539.5 L190.0,540.6 L190.0,538.6 L191.0,535.5 L191.0,535.6 L192.0,535.8 L192.0,534.7 L193.0,535.6 L193.0,535.8 L194.0,536.5 L194.0,536.2 L195.0,536.3 L195.0,538.7 L196.0,535.5 L196.0,534.0 L197.0,534.5 L197.0,535.5 L198.0,532.6 L198.0,529.6 L199.0,533.6 L199.0,534.2 L200.0,535.5 L200.0,530.9 L201.0,534.6 L201.0,537.3 L202.0,533.5 L202.0,533.1 L203.0,533.0 L203.0,533.6 L204.0,534.6 L204.0,532.6 L205.0,532.0 L205.0,534.0 L206.0,532.7 L206.0,529.7 L207.0,528.4 L207.0,530.5 L208.0,530.7 L208.0,528.8 L209.0,529.1 L209.0,531.6 L210.0,529.4 L210.0,528.2 L211.0,528.5 L211.0,529.0 L212.0,531.9 L212.0,530.0 L213.0,529.3 L213.0,531.9 L214.0,531.7 L214.0,529.9 L215.0,526.0 L215.0,531.1 L216.0,527.9 L216.0,527.9 L217.0,527.3 L217.0,528.5 L218.0,529.4 L218.0,526.8 L219.0,528.7 L219.0,530.0 L220.0,531.2 L220.0,529.5 L221.0,525.5 L221.0,527.5 L222.0,527.8 L222.0,527.3 L223.0,526.6 L223.0,526.6 L224.0,527.5 L224.0,524.9 L225.0,527.7 L225.0,528.8 L226.0,527.1 L226.0,525.3 L227.0,524.9 L227.0,527.5 L228.0,526.1 L228.0,524.3 L229.0,524.8 L229.0,526.8 L230.0,523.5 L230.0,519.8 L231.0,522.3 L231.0,524.2 L232.0,527.5 L232.0,526.4 L233.0,525.9 L233.0,527.8 L234.0,525.9 L234.0,524.1 L235.0,519.6 L235.0,525.4 L236.0,524.7 L236.0,523.2 L237.0,522.1 L237.0,523.6 L238.0,520.6 L238.0,520.1 L239.0,519.1 L239.0,519.4 L240.0,520.8 L240.0,518.7 L241.0,517.9 L241.0,518.2 L242.0,520.7 L242.0,518.4 L243.0,518.2 L243.0,519.9 L244.0,518.8 L244.0,518.8 L245.0,520.0 L245.0,521.9 L246.0,519.6 L246.0,518.9 L247.0,518.2 L247.0,520.4 L248.0,522.3 L248.0,520.9 L249.0,520.0 L249.0,520.7 L250.0,519.8 L250.0,519.4 L251.0,515.4 L251.0,517.9 L252.0,518.7 L252.0,517.5 L253.0,517.7 L253.0,518.6 L254.0,516.8 L254.0,515.8 L255.0,514.6 L255.0,515.9 L256.0,520.1 L256.0,516.6 L257.0,517.7 L257.0,518.5 L258.0,516.6 L258.0,516.5 L259.0,517.1 L259.0,518.0 L260.0,518.9 L260.0,516.5 L261.0,516.2 L261.0,516.5 L262.0,518.3 L262.0,518.2 L263.0,519.2 L263.0,519.7 L264.0,518.2 L264.0,516.6 L265.0,515.7 L265.0,516.8 L266.0,516.7 L266.0,515.9 L267.0,514.5 L267.0,517.0 L268.0,516.0 L268.0,514.9 L269.0,512.1 L269.0,515.9 L270.0,514.3 L270.0,512.9 L271.0,514.7 L271.0,515.1 L272.0,513.7 L272.0,512.1 L273.0,513.0 L273.0,515.1 L274.0,516.3 L274.0,516.0 L275.0,515.5 L275.0,516.7 L276.0,514.9 L276.0,513.6 L277.0,513.2 L277.0,513.7 L278.0,512.9 L278.0,512.8 L279.0,514.0 L279.0,515.0 L280.0,513.5 L280.0,511.4 L281.0,515.6 L281.0,516.1 L282.0,517.8 L282.0,517.0 L283.0,513.6 L283.0,514.5 L284.0,513.6 L284.0,509.8 L285.0,512.0 L285.0,515.7 L286.0,512.1 L286.0,510.6 L287.0,512.8 L287.0,513.6 L288.0,514.2 L288.0,510.9 L289.0,512.1 L289.0,513.9 L290.0,513.5 L290.0,509.5 L291.0,510.7 L291.0,512.6 L292.0,512.3 L292.0,511.1 L293.0,510.7 L293.0,512.3 L294.0,509.9 L294.0,509.2 L295.0,510.4 L295.0,512.3 L296.0,512.7 L296.0,507.5 L297.0,509.8 L297.0,510.2 L298.0,512.5 L298.0,508.6 L299.0,508.5 L299.0,511.1 L300.0,512.3 L300.0,509.2 L301.0,511.4 L301.0,511.6 L302.0,513.9 L302.0,508.5 L303.0,507.4 L303.0,508.8 L304.0,509.7 L304.0,507.5 L305.0,510.9 L305.0,511.1 L306.0,510.4 L306.0,505.7 L307.0,506.7 L307.0,508.7 L308.0,507.0 L308.0,504.8 L309.0,508.8 L309.0,509.4 L310.0,509.7 L310.0,509.0 L311.0,509.5 L311.0,512.0 L312.0,512.3 L312.0,510.7 L313.0,510.1 L313.0,510.9 L314.0,512.7 L314.0,509.7 L315.0,508.0 L315.0,508.9 L316.0,508.6 L316.0,506.9 L317.0,507.7 L317.0,508.0 L318.0,509.3 L318.0,506.0 L319.0,505.8 L319.0,510.6 L320.0,507.7 L320.0,503.5 L321.0,501.9 L321.0,506.4 L322.0,506.6 L322.0,506.5 L323.0,502.6 L323.0,505.1 L324.0,509.6 L324.0,503.5 L325.0,506.3 L325.0,508.5 L326.0,504.8 L326.0,503.6 L327.0,504.1 L327.0,505.1 L328.0,506.0 L328.0,504.2 L329.0,503.0 L329.0,504.3 L330.0,505.4 L330.0,503.1 L331.0,504.3 L331.0,504.3 L332.0,503.1 L332.0,502.7 L333.0,501.9 L333.0,503.1 L334.0,501.3 L334.0,500.6 L335.0,499.2 L335.0,500.1 L336.0,499.3 L336.0,499.2 L337.0,497.1 L337.0,500.1 L338.0,499.2 L338.0,497.8 L339.0,499.5 L339.0,501.1 L340.0,504.6 L340.0,501.5 L341.0,497.7 L341.0,501.0 L342.0,500.7 L342.0,496.2 L343.0,496.3 L343.0,496.6 L344.0,498.6 L344.0,494.1 L345.0,494.1 L345.0,496.5 L346.0,497.4 L346.0,496.0 L347.0,493.7 L347.0,495.4 L348.0,494.3 L348.0,493.0 L349.0,495.4 L349.0,498.0 L350.0,497.6 L350.0,494.5 L351.0,492.9 L351.0,495.6 L352.0,496.5 L352.0,492.5 L353.0,495.9 L353.0,498.5 L354.0,497.2 L354.0,493.4 L355.0,494.1 L355.0,495.9 L356.0,497.8 L356.0,494.2 L357.0,494.3 L357.0,495.0 L358.0,494.1 L358.0,492.2 L359.0,490.7 L359.0,491.5 L360.0,495.0 L360.0,494.9 L361.0,496.3 L361.0,497.4 L362.0,494.0 L362.0,494.0 L363.0,496.5 L363.0,497.1 L364.0,494.8 L364.0,492.1 L365.0,492.9 L365.0,493.7 L366.0,495.7 L366.0,495.4 L367.0,492.4 L367.0,496.5 L368.0,496.7 L368.0,495.7 L369.0,493.5 L369.0,495.1 L370.0,492.3 L370.0,491.3 L371.0,490.0 L371.0,491.4 L372.0,493.0 L372.0,491.0 L373.0,490.7 L373.0,493.8 L374.0,493.0 L374.0,490.1 L375.0,489.7 L375.0,490.9 L376.0,492.5 L376.0,489.7 L377.0,491.1 L377.0,491.2 L378.0,491.1 L378.0,490.9 L379.0,492.4 L379.0,492.9 L380.0,496.2 L380.0,491.2 L381.0,488.9 L381.0,492.5 L382.0,490.8 L382.0,490.3 L382.9,490.8 L382.9,491.1 L383.9,490.6 L383.9,490.2 L384.9,489.2 L384.9,489.5 L385.9,490.9 L385.9,487.9 L386.9,493.2 L386.9,493.3 L387.9,494.3 L387.9,490.9 L388.9,491.4 L388.9,493.6 L389.9,493.0 L389.9,491.2 L390.9,490.7 L390.9,491.7 L391.9,492.6 L391.9,490.2 L392.9,487.8 L392.9,491.9 L393.9,489.7 L393.9,488.7 L394.9,487.9 L394.9,492.9 L395.9,487.7 L395.9,487.7 L396.9,486.3 L396.9,488.6 L397.9,493.7 L397.9,488.9 L398.9,489.7 L398.9,491.4 L399.9,491.1 L399.9,486.8 L400.9,490.9 L400.9,492.4 L401.9,491.8 L401.9,486.6 L402.9,489.3 L402.9,490.5 L403.9,490.0 L403.9,487.7 L404.9,489.0 L404.9,489.0 L405.9,488.2 L405.9,487.5 L406.9,486.8 L406.9,487.9 L407.9,487.7 L407.9,487.4 L408.9,488.9 L408.9,490.9 L409.9,490.4 L409.9,489.5 L410.9,486.3 L410.9,488.9 L411.9,487.4 L411.9,485.2 L412.9,487.6 L412.9,487.8 L413.9,486.0 L413.9,485.5 L414.9,488.3 L414.9,491.4 L415.9,489.7 L415.9,489.6 L416.9,486.8 L416.9,494.1 L417.9,488.0 L417.9,486.1 L418.9,485.6 L418.9,489.7 L419.9,489.0 L419.9,488.2 L420.9,487.9 L420.9,488.8 L421.9,490.3 L421.9,488.7 L422.9,485.2 L422.9,486.0 L423.9,486.7 L423.9,486.6 L424.9,486.8 L424.9,488.1 L425.9,487.4 L425.9,485.6 L426.9,483.6 L426.9,486.6 L427.9,489.5 L427.9,487.0 L428.9,485.5 L428.9,485.6 L429.9,485.0 L429.9,482.5 L430.9,483.7 L430.9,483.9 L431.9,486.4 L431.9,484.5 L432.9,486.8 L432.9,489.7 L433.9,488.6 L433.9,487.5 L434.9,486.1 L434.9,486.9 L435.9,487.5 L435.9,486.8 L436.9,486.4 L436.9,487.7 L437.9,489.7 L437.9,487.1 L438.9,486.9 L438.9,488.4 L439.9,485.8 L439.9,485.5 L440.9,483.1 L440.9,483.8 L441.9,486.5 L441.9,482.1 L442.9,484.1 L442.9,486.5 L443.9,483.0 L443.9,481.8 L444.9,484.1 L444.9,485.7 L445.9,487.2 L445.9,485.2 L446.9,485.6 L446.9,486.8 L447.9,484.6 L447.9,483.1 L448.9,483.5 L448.9,484.3 L449.9,484.5 L449.9,482.7 L450.9,482.0 L450.9,482.4 L451.9,484.3 L451.9,482.4 L452.9,479.8 L452.9,482.6 L453.9,485.0 L453.9,483.6 L454.9,481.6 L454.9,481.7 L455.9,482.9 L455.9,479.9 L456.9,480.2 L456.9,480.3 L457.9,480.2 L457.9,478.6 L458.9,476.1 L458.9,481.9 L459.9,480.3 L459.9,476.8 L460.9,479.9 L460.9,481.0 L461.9,480.8 L461.9,480.6 L462.9,480.7 L462.9,481.4 L463.9,478.7 L463.9,478.4 L464.9,479.1 L464.9,482.9 L465.9,482.1 L465.9,480.7 L466.9,476.9 L466.9,479.7 L467.9,478.7 L467.9,478.7 L468.9,478.9 L468.9,480.1 L469.9,481.2 L469.9,479.1 L470.9,480.7 L470.9,482.9 L471.9,484.1 L471.9,482.8 L472.9,480.6 L472.9,482.3 L473.9,477.8 L473.9,477.5 L474.9,479.6 L474.9,480.3 L475.9,485.9 L475.9,480.3 L476.9,481.4 L476.9,482.6 L477.9,484.8 L477.9,484.3 L478.9,481.5 L478.9,481.8 L479.9,480.0 L479.9,478.2 L480.9,476.5 L480.9,479.7 L481.9,479.8 L481.9,478.0 L482.9,479.5 L482.9,480.5 L483.9,481.4 L483.9,479.2 L484.9,479.8 L484.9,480.0 L485.9,479.7 L485.9,479.7 L486.9,477.4 L486.9,479.6 L487.9,480.1 L487.9,479.0 L488.9,477.1 L488.9,479.1 L489.9,477.5 L489.9,476.6 L490.9,477.6 L490.9,478.3 L491.9,477.7 L491.9,477.3 L492.9,477.0 L492.9,481.0 L493.9,477.8 L493.9,477.1 L494.9,478.6 L494.9,479.5 L495.9,479.9 L495.9,477.9 L496.9,475.3 L496.9,476.0 L497.9,474.7 L497.9,473.8 L498.9,476.1 L498.9,478.4 L499.9,474.2 L499.9,474.1 L500.9,475.1 L500.9,475.3 L501.9,477.7 L501.9,475.6 L502.9,474.8 L502.9,475.2 L503.9,474.4 L503.9,472.5 L504.9,470.5 L504.9,472.6 L505.9,473.2 L505.9,473.1 L506.9,474.7 L506.9,477.0 L507.9,478.3 L507.9,472.9 L508.9,478.1 L508.9,480.5 L509.9,480.1 L509.9,478.1 L510.9,476.7 L510.9,478.0 L511.9,474.8 L511.9,474.2 L512.9,476.8 L512.9,477.2 L513.9,477.9 L513.9,476.0 L514.9,472.3 L514.9,477.8 L515.9,474.3 L515.9,471.2 L516.9,474.6 L516.9,477.8 L517.9,473.2 L517.9,472.7 L518.9,473.9 L518.9,475.9 L519.9,478.0 L519.9,475.3 L520.9,478.7 L520.9,479.0 L521.9,478.0 L521.9,475.9 L522.9,475.9 L522.9,478.1 L523.9,477.9 L523.9,475.6 L524.9,475.8 L524.9,478.3 L525.9,477.5 L525.9,474.3 L526.9,475.1 L526.9,475.2 L527.9,477.0 L527.9,475.2 L528.9,472.0 L528.9,475.3 L529.9,475.5 L529.9,473.6 L530.9,477.7 L530.9,477.8 L531.9,476.2 L531.9,473.8 L532.9,471.7 L532.9,473.9 L533.9,475.6 L533.9,473.5 L534.9,476.2 L534.9,476.7 L535.9,475.5 L535.9,475.5 L536.9,475.3 L536.9,476.7 L537.9,478.7 L537.9,476.5 L538.9,476.5 L538.9,477.7 L539.9,477.5 L539.9,475.9 L540.9,475.3 L540.9,476.8 L541.9,474.2 L541.9,472.8 L542.9,474.3 L542.9,475.2 L543.9,475.6 L543.9,475.3 L544.9,475.4 L544.9,475.6 L545.9,474.9 L545.9,474.4 L546.9,473.8 L546.9,474.9 L547.9,478.1 L547.9,473.1 L548.9,476.0 L548.9,477.0 L549.9,475.6 L549.9,474.5 L550.9,473.8 L550.9,476.2 L551.9,474.7 L551.9,474.5 L552.9,471.8 L552.9,474.0 L553.9,475.6 L553.9,473.4 L554.9,474.9 L554.9,476.3 L555.9,477.1 L555.9,474.1 L556.9,470.5 L556.9,475.4 L557.9,476.6 L557.9,473.4 L558.9,475.6 L558.9,477.8 L559.9,478.3 L559.9,475.8 L560.9,473.7 L560.9,475.7 L561.9,476.5 L561.9,475.8 L562.9,474.5 L562.9,477.0 L563.9,478.5 L563.9,475.3 L564.9,475.5 L564.9,476.8 L565.9,477.9 L565.9,474.9 L566.9,474.9 L566.9,475.1 L567.9,475.8 L567.9,472.9 L568.9,474.4 L568.9,478.5 L569.9,478.5 L569.9,474.8 L570.9,477.2 L570.9,478.3 L571.9,478.7 L571.9,478.0 L572.9,474.0 L572.9,477.7 L573.9,473.3 L573.9,470.3 L574.9,473.5 L574.9,474.2 L575.9,475.5 L575.9,472.0 L576.9,476.2 L576.9,476.2 L577.9,476.6 L577.9,474.5 L578.9,475.9 L578.9,478.6 L579.8,474.8 L579.8,473.7 L580.8,473.5 L580.8,475.8 L581.8,476.4 L581.8,471.2 L582.8,472.8 L582.8,474.8 L583.8,475.5 L583.8,473.1 L584.8,474.1 L584.8,475.7 L585.8,474.3 L585.8,472.2 L586.8,472.4 L586.8,475.3 L587.8,474.9 L587.8,473.7 L588.8,470.9 L588.8,474.1 L589.8,475.0 L589.8,473.3 L590.8,472.6 L590.8,473.5 L591.8,473.5 L591.8,471.0 L592.8,471.5 L592.8,472.2 L593.8,469.8 L593.8,469.2 L594.8,473.0 L594.8,473.4 L595.8,476.2 L595.8,475.1 L596.8,471.2 L596.8,474.5 L597.8,473.3 L597.8,471.9 L598.8,475.2 L598.8,476.5 L599.8,475.5 L599.8,475.2 L600.8,475.4 L600.8,476.2 L601.8,475.4 L601.8,475.2 L602.8,474.1 L602.8,476.2 L603.8,474.9 L603.8,474.1 L604.8,475.1 L604.8,475.5 L605.8,476.9 L605.8,470.8 L606.8,475.5 L606.8,476.6 L607.8,476.4 L607.8,472.9 L608.8,474.1 L608.8,475.5 L609.8,475.0 L609.8,474.5 L610.8,471.7 L610.8,473.1 L611.8,473.4 L611.8,471.2 L612.8,472.5 L612.8,473.8 L613.8,474.6 L613.8,474.2 L614.8,475.8 L614.8,476.6 L615.8,476.4 L615.8,475.9 L616.8,474.7 L616.8,476.3 L617.8,472.6 L617.8,471.5 L618.8,471.0 L618.8,473.4 L619.8,477.0 L619.8,474.9 L620.8,474.4 L620.8,476.0 L621.8,474.8 L621.8,473.7 L622.8,470.8 L622.8,473.2 L623.8,473.3 L623.8,469.7 L624.8,471.2 L624.8,472.3 L625.8,472.4 L625.8,472.3 L626.8,472.1 L626.8,473.1 L627.8,474.5 L627.8,473.1 L628.8,473.8 L628.8,474.9 L629.8,474.0 L629.8,471.7 L630.8,470.8 L630.8,471.2 L631.8,471.3 L631.8,471.2 L632.8,469.8 L632.8,472.2 L633.8,471.5 L633.8,469.2 L634.8,468.9 L634.8,473.7 L635.8,471.6 L635.8,470.9 L636.8,468.6 L636.8,470.9 L637.8,472.3 L637.8,472.3 L638.8,472.9 L638.8,473.8 L639.8,474.4 L639.8,472.5 L640.8,471.6 L640.8,472.3 L641.8,472.0 L641.8,471.1 L642.8,471.1 L642.8,471.1 L643.8,468.3 L643.8,467.3 L644.8,464.3 L644.8,465.9 L645.8,466.0 L645.8,465.1 L646.8,467.1 L646.8,468.9 L647.8,469.1 L647.8,468.0 L648.8,468.7 L648.8,469.6 L649.8,470.1 L649.8,468.5 L650.8,470.2 L650.8,471.1 L651.8,470.1 L651.8,469.4 L652.8,473.0 L652.8,473.2 L653.8,468.2 L653.8,466.7 L654.8,466.8 L654.8,468.0 L655.8,467.6 L655.8,464.4 L656.8,468.5 L656.8,469.9 L657.8,471.7 L657.8,470.5 L658.8,471.1 L658.8,473.3 L659.8,472.0 L659.8,469.9 L660.8,468.4 L660.8,470.4 L661.8,469.6 L661.8,468.8 L662.8,468.9 L662.8,469.6 L663.8,468.6 L663.8,468.6 L664.8,468.6 L664.8,470.2 L665.8,466.4 L665.8,466.2 L666.8,467.4 L666.8,470.9 L667.8,467.7 L667.8,465.0 L668.8,467.0 L668.8,468.9 L669.8,465.9 L669.8,465.6 L670.8,467.7 L670.8,469.3 L671.8,470.5 L671.8,469.7 L672.8,465.8 L672.8,466.4 L673.8,469.6 L673.8,465.8 L674.8,468.4 L674.8,468.4 L675.8,468.3 L675.8,465.5 L676.8,462.3 L676.8,468.2 L677.3,467.6" fill="none" stroke="#2ca02c" stroke-width="2.08" stroke-linejoin="round" stroke-linecap="butt"/>
<path d="M88.6,484.5 L89.1,481.1 L89.1,483.2 L90.1,483.1 L90.1,482.0 L91.1,479.7 L91.1,483.4 L92.1,482.9 L92.1,481.6 L93.1,483.3 L93.1,483.4 L94.1,487.1 L94.1,486.1 L95.1,484.9 L95.1,486.6 L96.1,487.7 L96.1,485.9 L97.1,485.7 L97.1,490.4 L98.1,486.3 L98.1,485.8 L99.1,487.3 L99.1,488.4 L100.1,485.6 L100.1,485.4 L101.1,485.2 L101.1,489.2 L102.1,487.3 L102.1,485.2 L103.1,486.1 L103.1,487.7 L104.1,488.0 L104.1,487.5 L105.1,484.5 L105.1,487.1 L106.1,484.7 L106.1,484.6 L107.1,484.8 L107.1,487.1 L108.1,486.6 L108.1,484.1 L109.1,484.5 L109.1,484.8 L110.1,486.3 L110.1,483.3 L111.1,483.7 L111.1,484.9 L112.1,483.3 L112.1,482.2 L113.1,478.3 L113.1,486.3 L114.1,489.7 L114.1,482.4 L115.1,489.1 L115.1,490.1 L116.1,488.6 L116.1,485.8 L117.1,485.4 L117.1,488.8 L118.1,485.1 L118.1,483.6 L119.1,484.8 L119.1,486.5 L120.1,486.2 L120.1,486.1 L121.1,486.5 L121.1,490.6 L122.1,486.8 L122.1,486.3 L123.1,483.3 L123.1,486.3 L124.1,486.6 L124.1,485.9 L125.1,484.1 L125.1,485.8 L126.1,483.2 L126.1,481.2 L127.1,483.2 L127.1,488.0 L128.1,485.1 L128.1,483.4 L129.1,486.0 L129.1,490.3 L130.1,487.0 L130.1,484.8 L131.1,484.1 L131.1,485.3 L132.1,488.4 L132.1,485.7 L133.1,486.7 L133.1,488.3 L134.1,486.5 L134.1,485.4 L135.1,486.0 L135.1,487.5 L136.1,489.1 L136.1,487.9 L137.1,483.9 L137.1,491.4 L138.1,489.3 L138.1,486.8 L139.1,487.7 L139.1,488.7 L140.1,488.0 L140.1,487.4 L141.1,484.3 L141.1,486.9 L142.1,487.8 L142.1,483.3 L143.1,484.4 L143.1,487.4 L144.1,489.1 L144.1,486.8 L145.1,486.2 L145.1,487.1 L146.1,486.3 L146.1,485.8 L147.1,484.3 L147.1,488.2 L148.1,486.9 L148.1,481.2 L149.1,486.6 L149.1,488.0 L150.1,487.5 L150.1,486.2 L151.1,486.7 L151.1,490.5 L152.1,485.2 L152.1,485.1 L153.1,484.8 L153.1,485.5 L154.1,490.0 L154.1,487.9 L155.1,486.0 L155.1,490.1 L156.1,487.4 L156.1,484.2 L157.1,486.4 L157.1,486.5 L158.1,490.6 L158.1,486.5 L159.1,485.5 L159.1,486.4 L160.1,489.9 L160.1,485.7 L161.1,486.8 L161.1,491.1 L162.1,486.0 L162.1,485.8 L163.1,483.6 L163.1,485.2 L164.1,487.6 L164.1,482.6 L165.1,484.9 L165.1,486.5 L166.1,485.4 L166.1,482.8 L167.1,482.9 L167.1,486.2 L168.1,486.2 L168.1,486.2 L169.1,486.0 L169.1,486.4 L170.1,488.1 L170.1,486.1 L171.1,487.9 L171.1,488.5 L172.1,488.4 L172.1,488.0 L173.1,488.1 L173.1,490.0 L174.1,490.4 L174.1,488.3 L175.1,485.0 L175.1,486.4 L176.1,490.0 L176.1,489.4 L177.1,489.2 L177.1,492.1 L178.1,488.2 L178.1,484.1 L179.1,482.5 L179.1,486.1 L180.1,486.5 L180.1,485.6 L181.1,489.5 L181.1,491.0 L182.1,490.9 L182.1,488.3 L183.1,486.0 L183.1,489.4 L184.1,485.2 L184.1,482.7 L185.1,485.6 L185.1,485.8 L186.1,487.3 L186.1,485.1 L187.0,486.4 L187.0,491.8 L188.0,492.7 L188.0,484.9 L189.0,485.5 L189.0,485.9 L190.0,487.8 L190.0,483.8 L191.0,487.4 L191.0,489.6 L192.0,484.9 L192.0,484.2 L193.0,481.4 L193.0,485.7 L194.0,486.4 L194.0,483.9 L195.0,486.3 L195.0,488.2 L196.0,490.1 L196.0,484.5 L197.0,485.9 L197.0,486.0 L198.0,490.6 L198.0,486.0 L199.0,483.0 L199.0,484.5 L200.0,487.1 L200.0,484.3 L201.0,485.5 L201.0,488.1 L202.0,486.9 L202.0,482.6 L203.0,485.0 L203.0,487.4 L204.0,484.8 L204.0,483.8 L205.0,483.8 L205.0,487.5 L206.0,487.2 L206.0,486.6 L207.0,486.8 L207.0,487.8 L208.0,489.5 L208.0,487.2 L209.0,484.2 L209.0,487.5 L210.0,489.0 L210.0,484.9 L211.0,486.5 L211.0,487.2 L212.0,489.2 L212.0,486.7 L213.0,488.0 L213.0,488.5 L214.0,487.6 L214.0,486.1 L215.0,487.4 L215.0,489.4 L216.0,486.4 L216.0,486.0 L217.0,484.8 L217.0,490.1 L218.0,488.1 L218.0,484.1 L219.0,484.2 L219.0,489.5 L220.0,485.9 L220.0,484.0 L221.0,481.2 L221.0,488.5 L222.0,485.2 L222.0,484.0 L223.0,484.2 L223.0,487.8 L224.0,487.7 L224.0,487.1 L225.0,486.9 L225.0,488.6 L226.0,487.7 L226.0,483.8 L227.0,487.9 L227.0,490.1 L228.0,487.0 L228.0,484.1 L229.0,485.5 L229.0,488.4 L230.0,487.6 L230.0,486.6 L231.0,480.8 L231.0,483.7 L232.0,486.3 L232.0,481.6 L233.0,487.5 L233.0,488.5 L234.0,488.7 L234.0,488.2 L235.0,485.2 L235.0,488.6 L236.0,485.6 L236.0,485.2 L237.0,487.5 L237.0,487.6 L238.0,487.6 L238.0,484.5 L239.0,486.9 L239.0,489.0 L240.0,489.1 L240.0,486.1 L241.0,484.3 L241.0,487.9 L242.0,486.6 L242.0,483.6 L243.0,484.1 L243.0,490.0 L244.0,488.7 L244.0,487.3 L245.0,484.0 L245.0,490.6 L246.0,489.7 L246.0,488.9 L247.0,487.0 L247.0,488.4 L248.0,490.0 L248.0,488.6 L249.0,487.8 L249.0,488.3 L250.0,490.4 L250.0,486.5 L251.0,485.0 L251.0,489.0 L252.0,490.6 L252.0,488.7 L253.0,486.4 L253.0,488.6 L254.0,488.8 L254.0,486.8 L255.0,486.6 L255.0,490.7 L256.0,489.5 L256.0,488.3 L257.0,485.8 L257.0,488.4 L258.0,489.1 L258.0,487.6 L259.0,487.5 L259.0,488.9 L260.0,493.8 L260.0,488.8 L261.0,487.4 L261.0,489.6 L262.0,491.6 L262.0,486.3 L263.0,487.0 L263.0,491.8 L264.0,486.9 L264.0,484.7 L265.0,489.4 L265.0,492.7 L266.0,488.6 L266.0,488.0 L267.0,484.9 L267.0,488.4 L268.0,490.4 L268.0,488.9 L269.0,486.4 L269.0,490.2 L270.0,489.5 L270.0,486.1 L271.0,483.5 L271.0,484.6 L272.0,487.8 L272.0,484.7 L273.0,487.5 L273.0,489.6 L274.0,493.4 L274.0,488.2 L275.0,489.7 L275.0,490.8 L276.0,488.9 L276.0,486.7 L277.0,484.9 L277.0,487.5 L278.0,486.2 L278.0,485.3 L279.0,486.2 L279.0,486.2 L280.0,489.6 L280.0,485.8 L281.0,489.4 L281.0,490.1 L282.0,491.4 L282.0,490.8 L283.0,488.0 L283.0,488.5 L284.0,489.1 L284.0,488.2 L285.0,486.1 L285.0,491.0 L286.0,489.6 L286.0,487.5 L287.0,486.0 L287.0,487.1 L288.0,488.1 L288.0,485.3 L289.0,486.1 L289.0,486.6 L290.0,489.4 L290.0,486.7 L291.0,485.2 L291.0,488.2 L292.0,490.2 L292.0,483.5 L293.0,487.2 L293.0,487.2 L294.0,488.0 L294.0,484.8 L295.0,487.1 L295.0,487.5 L296.0,490.7 L296.0,489.5 L297.0,487.5 L297.0,489.4 L298.0,489.5 L298.0,488.1 L299.0,486.4 L299.0,486.8 L300.0,488.3 L300.0,485.3 L301.0,488.5 L301.0,489.8 L302.0,490.6 L302.0,487.8 L303.0,487.7 L303.0,487.7 L304.0,487.8 L304.0,485.5 L305.0,484.9 L305.0,485.9 L306.0,488.8 L306.0,488.0 L307.0,482.7 L307.0,489.6 L308.0,488.0 L308.0,486.5 L309.0,484.7 L309.0,486.1 L310.0,487.6 L310.0,482.2 L311.0,483.1 L311.0,487.8 L312.0,485.6 L312.0,483.5 L313.0,482.9 L313.0,486.5 L314.0,488.9 L314.0,486.4 L315.0,485.7 L315.0,485.7 L316.0,489.4 L316.0,485.6 L317.0,484.7 L317.0,486.1 L318.0,487.5 L318.0,484.9 L319.0,484.7 L319.0,488.0 L320.0,491.3 L320.0,484.8 L321.0,489.5 L321.0,490.8 L322.0,491.5 L322.0,491.5 L323.0,488.7 L323.0,491.8 L324.0,491.4 L324.0,490.2 L325.0,483.3 L325.0,487.3 L326.0,489.2 L326.0,487.2 L327.0,484.9 L327.0,489.4 L328.0,486.0 L328.0,485.8 L329.0,489.0 L329.0,490.3 L330.0,492.6 L330.0,489.1 L331.0,490.6 L331.0,491.5 L332.0,491.3 L332.0,487.4 L333.0,488.9 L333.0,491.1 L334.0,491.1 L334.0,487.3 L335.0,492.6 L335.0,493.6 L336.0,495.7 L336.0,489.3 L337.0,486.9 L337.0,489.4 L338.0,490.6 L338.0,488.6 L339.0,488.2 L339.0,491.1 L340.0,489.5 L340.0,486.8 L341.0,485.3 L341.0,491.1 L342.0,489.5 L342.0,489.2 L343.0,484.0 L343.0,489.3 L344.0,487.3 L344.0,486.0 L345.0,486.3 L345.0,487.4 L346.0,489.1 L346.0,488.6 L347.0,485.4 L347.0,486.5 L348.0,486.4 L348.0,485.3 L349.0,485.8 L349.0,487.1 L350.0,490.9 L350.0,484.6 L351.0,489.9 L351.0,492.2 L352.0,491.5 L352.0,487.2 L353.0,486.6 L353.0,488.5 L354.0,487.7 L354.0,485.0 L355.0,488.0 L355.0,488.2 L356.0,490.8 L356.0,490.3 L357.0,489.2 L357.0,491.0 L358.0,490.4 L358.0,490.2 L359.0,488.1 L359.0,488.9 L360.0,488.2 L360.0,486.9 L361.0,484.8 L361.0,486.1 L362.0,491.5 L362.0,491.1 L363.0,490.1 L363.0,490.7 L364.0,493.3 L364.0,492.7 L365.0,489.2 L365.0,489.4 L366.0,490.1 L366.0,487.0 L367.0,488.8 L367.0,489.3 L368.0,489.9 L368.0,489.2 L369.0,490.1 L369.0,490.6 L370.0,490.1 L370.0,489.7 L371.0,488.4 L371.0,489.2 L372.0,488.4 L372.0,487.5 L373.0,488.7 L373.0,489.8 L374.0,489.4 L374.0,486.9 L375.0,484.5 L375.0,490.2 L376.0,488.0 L376.0,487.0 L377.0,487.5 L377.0,489.4 L378.0,490.3 L378.0,487.9 L379.0,484.5 L379.0,488.8 L380.0,490.4 L380.0,489.2 L381.0,485.2 L381.0,490.4 L382.0,489.6 L382.0,485.7 L382.9,485.6 L382.9,489.9 L383.9,490.8 L383.9,490.2 L384.9,489.9 L384.9,490.0 L385.9,488.7 L385.9,488.3 L386.9,485.5 L386.9,490.3 L387.9,490.2 L387.9,489.7 L388.9,490.6 L388.9,492.6 L389.9,493.1 L389.9,491.6 L390.9,486.8 L390.9,488.9 L391.9,489.8 L391.9,486.5 L392.9,488.5 L392.9,489.8 L393.9,491.2 L393.9,487.6 L394.9,489.1 L394.9,490.1 L395.9,488.1 L395.9,488.0 L396.9,488.6 L396.9,489.5 L397.9,490.2 L397.9,489.7 L398.9,487.7 L398.9,490.6 L399.9,488.3 L399.9,485.5 L400.9,486.0 L400.9,488.2 L401.9,486.6 L401.9,485.9 L402.9,487.4 L402.9,489.5 L403.9,490.5 L403.9,487.1 L404.9,484.6 L404.9,491.8 L405.9,490.0 L405.9,487.3 L406.9,486.8 L406.9,487.3 L407.9,488.4 L407.9,484.7 L408.9,487.8 L408.9,489.5 L409.9,489.2 L409.9,487.7 L410.9,488.3 L410.9,490.5 L411.9,490.2 L411.9,486.7 L412.9,486.6 L412.9,487.2 L413.9,491.3 L413.9,487.3 L414.9,488.3 L414.9,490.9 L415.9,492.3 L415.9,490.9 L416.9,487.7 L416.9,490.7 L417.9,493.5 L417.9,492.7 L418.9,489.3 L418.9,490.4 L419.9,486.3 L419.9,486.2 L420.9,487.6 L420.9,491.6 L421.9,489.8 L421.9,488.3 L422.9,485.8 L422.9,491.8 L423.9,485.7 L423.9,485.5 L424.9,485.6 L424.9,486.1 L425.9,488.4 L425.9,485.6 L426.9,487.8 L426.9,488.7 L427.9,488.0 L427.9,487.9 L428.9,489.3 L428.9,490.6 L429.9,489.6 L429.9,489.0 L430.9,486.2 L430.9,488.1 L431.9,489.1 L431.9,483.9 L432.9,487.3 L432.9,491.1 L433.9,486.1 L433.9,485.7 L434.9,487.1 L434.9,487.9 L435.9,487.9 L435.9,485.1 L436.9,488.8 L436.9,489.7 L437.9,489.9 L437.9,489.5 L438.9,488.4 L438.9,489.8 L439.9,489.4 L439.9,485.8 L440.9,489.0 L440.9,489.5 L441.9,491.2 L441.9,487.0 L442.9,488.9 L442.9,489.9 L443.9,487.3 L443.9,486.7 L444.9,487.0 L444.9,488.3 L445.9,492.0 L445.9,486.4 L446.9,485.7 L446.9,488.7 L447.9,490.6 L447.9,487.1 L448.9,486.0 L448.9,486.8 L449.9,489.9 L449.9,486.8 L450.9,487.4 L450.9,487.4 L451.9,489.0 L451.9,488.8 L452.9,483.8 L452.9,487.5 L453.9,490.0 L453.9,489.2 L454.9,484.2 L454.9,487.6 L455.9,488.9 L455.9,485.5 L456.9,487.1 L456.9,487.3 L457.9,487.8 L457.9,485.5 L458.9,485.7 L458.9,486.2 L459.9,485.7 L459.9,485.3 L460.9,485.6 L460.9,485.7 L461.9,492.2 L461.9,490.8 L462.9,486.5 L462.9,489.3 L463.9,488.9 L463.9,487.6 L464.9,487.5 L464.9,489.4 L465.9,490.6 L465.9,487.8 L466.9,487.2 L466.9,492.1 L467.9,490.7 L467.9,490.5 L468.9,487.2 L468.9,487.5 L469.9,491.7 L469.9,489.9 L470.9,489.6 L470.9,490.1 L471.9,487.8 L471.9,486.3 L472.9,483.4 L472.9,490.3 L473.9,489.4 L473.9,483.5 L474.9,488.3 L474.9,492.2 L475.9,492.2 L475.9,491.2 L476.9,490.3 L476.9,490.7 L477.9,490.4 L477.9,489.8 L478.9,490.9 L478.9,492.3 L479.9,491.6 L479.9,487.8 L480.9,485.8 L480.9,488.4 L481.9,490.3 L481.9,484.9 L482.9,487.2 L482.9,489.1 L483.9,492.0 L483.9,491.0 L484.9,486.5 L484.9,492.4 L485.9,488.8 L485.9,487.4 L486.9,487.5 L486.9,487.6 L487.9,488.3 L487.9,487.7 L488.9,491.7 L488.9,492.7 L489.9,491.0 L489.9,489.0 L490.9,486.7 L490.9,495.4 L491.9,491.3 L491.9,488.1 L492.9,487.0 L492.9,488.8 L493.9,490.6 L493.9,490.0 L494.9,487.3 L494.9,488.4 L495.9,492.3 L495.9,488.2 L496.9,487.7 L496.9,488.6 L497.9,486.4 L497.9,485.4 L498.9,486.8 L498.9,491.1 L499.9,488.4 L499.9,487.5 L500.9,486.7 L500.9,487.8 L501.9,489.8 L501.9,487.0 L502.9,487.9 L502.9,490.5 L503.9,489.5 L503.9,486.6 L504.9,489.2 L504.9,491.5 L505.9,492.7 L505.9,486.1 L506.9,489.2 L506.9,490.4 L507.9,492.6 L507.9,487.7 L508.9,487.5 L508.9,490.7 L509.9,492.2 L509.9,491.9 L510.9,487.0 L510.9,488.1 L511.9,489.1 L511.9,488.2 L512.9,488.5 L512.9,488.9 L513.9,489.1 L513.9,485.4 L514.9,485.1 L514.9,488.9 L515.9,488.9 L515.9,486.4 L516.9,490.1 L516.9,493.7 L517.9,492.7 L517.9,490.7 L518.9,487.9 L518.9,491.3 L519.9,493.3 L519.9,489.6 L520.9,491.8 L520.9,493.1 L521.9,489.9 L521.9,486.7 L522.9,487.8 L522.9,490.1 L523.9,492.4 L523.9,486.5 L524.9,487.0 L524.9,488.0 L525.9,490.3 L525.9,486.3 L526.9,485.7 L526.9,490.0 L527.9,488.4 L527.9,487.7 L528.9,487.9 L528.9,491.3 L529.9,489.2 L529.9,488.0 L530.9,488.9 L530.9,489.0 L531.9,487.5 L531.9,487.4 L532.9,488.9 L532.9,489.5 L533.9,491.2 L533.9,487.8 L534.9,487.2 L534.9,490.5 L535.9,494.3 L535.9,492.6 L536.9,489.8 L536.9,490.7 L537.9,493.7 L537.9,492.0 L538.9,489.1 L538.9,489.6 L539.9,491.3 L539.9,485.5 L540.9,488.0 L540.9,490.2 L541.9,487.1 L541.9,486.2 L542.9,490.1 L542.9,490.6 L543.9,494.7 L543.9,490.9 L544.9,489.6 L544.9,493.0 L545.9,488.5 L545.9,487.8 L546.9,484.0 L546.9,490.8 L547.9,494.6 L547.9,491.1 L548.9,488.9 L548.9,490.5 L549.9,490.0 L549.9,486.3 L550.9,483.9 L550.9,484.6 L551.9,490.5 L551.9,490.1 L552.9,487.8 L552.9,489.3 L553.9,490.3 L553.9,490.2 L554.9,486.8 L554.9,488.3 L555.9,486.1 L555.9,484.3 L556.9,486.9 L556.9,489.0 L557.9,491.0 L557.9,488.8 L558.9,488.7 L558.9,489.0 L559.9,488.2 L559.9,488.1 L560.9,490.0 L560.9,491.3 L561.9,491.1 L561.9,486.1 L562.9,487.0 L562.9,487.2 L563.9,488.0 L563.9,486.6 L564.9,487.7 L564.9,489.4 L565.9,491.1 L565.9,486.1 L566.9,486.8 L566.9,487.0 L567.9,488.7 L567.9,484.2 L568.9,487.3 L568.9,487.4 L569.9,491.9 L569.9,489.9 L570.9,488.3 L570.9,489.4 L571.9,490.9 L571.9,490.5 L572.9,485.7 L572.9,494.6 L573.9,488.4 L573.9,488.0 L574.9,489.4 L574.9,490.8 L575.9,491.7 L575.9,489.2 L576.9,489.0 L576.9,489.2 L577.9,490.8 L577.9,488.8 L578.9,491.2 L578.9,493.9 L579.8,492.6 L579.8,489.8 L580.8,488.0 L580.8,492.1 L581.8,486.8 L581.8,483.9 L582.8,487.7 L582.8,488.2 L583.8,489.6 L583.8,488.0 L584.8,486.4 L584.8,489.1 L585.8,491.1 L585.8,487.4 L586.8,489.6 L586.8,491.2 L587.8,490.9 L587.8,490.2 L588.8,489.5 L588.8,492.3 L589.8,489.5 L589.8,486.5 L590.8,488.4 L590.8,488.5 L591.8,488.1 L591.8,486.5 L592.8,488.5 L592.8,489.8 L593.8,488.9 L593.8,488.4 L594.8,488.5 L594.8,489.9 L595.8,492.3 L595.8,492.1 L596.8,488.2 L596.8,493.3 L597.8,491.0 L597.8,490.1 L598.8,484.1 L598.8,490.0 L599.8,488.6 L599.8,487.7 L600.8,488.1 L600.8,489.9 L601.8,489.6 L601.8,484.5 L602.8,488.3 L602.8,489.5 L603.8,483.6 L603.8,483.2 L604.8,486.3 L604.8,489.9 L605.8,489.7 L605.8,488.3 L606.8,484.5 L606.8,485.7 L607.8,489.7 L607.8,487.8 L608.8,486.0 L608.8,490.5 L609.8,491.3 L609.8,487.6 L610.8,487.7 L610.8,489.2 L611.8,489.8 L611.8,485.7 L612.8,484.5 L612.8,487.5 L613.8,488.9 L613.8,485.9 L614.8,486.7 L614.8,488.5 L615.8,495.7 L615.8,490.7 L616.8,488.3 L616.8,488.7 L617.8,488.1 L617.8,486.1 L618.8,484.4 L618.8,488.0 L619.8,489.5 L619.8,483.0 L620.8,485.5 L620.8,486.6 L621.8,487.0 L621.8,486.5 L622.8,488.0 L622.8,488.7 L623.8,489.9 L623.8,486.5 L624.8,488.8 L624.8,492.2 L625.8,491.3 L625.8,485.1 L626.8,487.7 L626.8,488.1 L627.8,486.2 L627.8,485.7 L628.8,485.5 L628.8,486.6 L629.8,485.9 L629.8,482.9 L630.8,486.3 L630.8,488.2 L631.8,486.4 L631.8,483.8 L632.8,486.2 L632.8,487.5 L633.8,487.3 L633.8,484.6 L634.8,486.3 L634.8,488.4 L635.8,488.5 L635.8,484.9 L636.8,490.1 L636.8,491.0 L637.8,485.0 L637.8,484.6 L638.8,483.6 L638.8,486.7 L639.8,485.8 L639.8,485.8 L640.8,487.5 L640.8,489.2 L641.8,492.0 L641.8,487.5 L642.8,485.9 L642.8,486.8 L643.8,490.0 L643.8,488.1 L644.8,485.3 L644.8,489.8 L645.8,486.8 L645.8,486.3 L646.8,482.0 L646.8,486.4 L647.8,487.1 L647.8,484.6 L648.8,485.5 L648.8,488.2 L649.8,485.9 L649.8,485.6 L650.8,485.9 L650.8,488.5 L651.8,489.1 L651.8,487.2 L652.8,488.0 L652.8,490.9 L653.8,488.3 L653.8,487.9 L654.8,487.3 L654.8,487.9 L655.8,488.6 L655.8,486.3 L656.8,483.5 L656.8,487.0 L657.8,490.2 L657.8,489.5 L658.8,485.1 L658.8,485.5 L659.8,487.4 L659.8,485.8 L660.8,486.2 L660.8,488.4 L661.8,490.1 L661.8,488.4 L662.8,482.9 L662.8,484.8 L663.8,486.6 L663.8,484.2 L664.8,482.0 L664.8,485.3 L665.8,487.7 L665.8,485.4 L666.8,483.5 L666.8,485.2 L667.8,491.8 L667.8,489.9 L668.8,488.9 L668.8,490.0 L669.8,492.3 L669.8,490.8 L670.8,481.8 L670.8,486.0 L671.8,487.0 L671.8,485.8 L672.8,486.5 L672.8,490.9 L673.8,489.5 L673.8,487.9 L674.8,488.5 L674.8,489.0 L675.8,489.5 L675.8,485.6 L676.8,488.1 L676.8,489.5 L677.3,487.8" fill="none" stroke="#d62728" stroke-width="2.08" stroke-linejoin="round" stroke-linecap="butt"/>
<path d="M88.6,489.0 L89.1,488.2 L89.1,489.2 L90.1,492.4 L90.1,487.9 L91.1,486.0 L91.1,491.1 L92.1,488.5 L92.1,487.6 L93.1,486.3 L93.1,491.2 L94.1,491.2 L94.1,488.3 L95.1,490.5 L95.1,490.9 L96.1,490.3 L96.1,486.9 L97.1,485.4 L97.1,487.8 L98.1,487.0 L98.1,486.0 L99.1,488.7 L99.1,493.1 L100.1,489.0 L100.1,484.6 L101.1,486.7 L101.1,486.8 L102.1,485.6 L102.1,484.4 L103.1,485.4 L103.1,489.2 L104.1,493.2 L104.1,485.3 L105.1,488.2 L105.1,491.9 L106.1,489.0 L106.1,488.6 L107.1,482.6 L107.1,485.5 L108.1,485.2 L108.1,483.3 L109.1,485.8 L109.1,487.6 L110.1,490.1 L110.1,486.2 L111.1,487.3 L111.1,488.6 L112.1,485.9 L112.1,485.0 L113.1,486.0 L113.1,489.8 L114.1,487.7 L114.1,484.2 L115.1,482.1 L115.1,488.3 L116.1,486.4 L116.1,485.3 L117.1,487.7 L117.1,488.3 L118.1,489.4 L118.1,488.8 L119.1,485.7 L119.1,489.7 L120.1,487.1 L120.1,487.1 L121.1,484.9 L121.1,489.6 L122.1,490.0 L122.1,487.0 L123.1,488.8 L123.1,489.4 L124.1,488.6 L124.1,486.9 L125.1,483.9 L125.1,488.4 L126.1,488.2 L126.1,487.5 L127.1,483.4 L127.1,486.5 L128.1,482.0 L128.1,481.5 L129.1,485.0 L129.1,487.0 L130.1,490.6 L130.1,488.8 L131.1,484.8 L131.1,486.0 L132.1,487.4 L132.1,487.3 L133.1,484.5 L133.1,487.3 L134.1,487.7 L134.1,487.1 L135.1,484.1 L135.1,486.4 L136.1,489.7 L136.1,486.7 L137.1,484.6 L137.1,489.7 L138.1,490.6 L138.1,488.2 L139.1,488.9 L139.1,489.4 L140.1,487.8 L140.1,486.2 L141.1,487.9 L141.1,489.4 L142.1,486.7 L142.1,486.2 L143.1,485.1 L143.1,492.9 L144.1,488.5 L144.1,486.8 L145.1,485.3 L145.1,485.8 L146.1,488.2 L146.1,484.7 L147.1,488.6 L147.1,489.0 L148.1,488.1 L148.1,485.9 L149.1,486.0 L149.1,490.4 L150.1,488.2 L150.1,483.7 L151.1,484.9 L151.1,486.5 L152.1,489.7 L152.1,488.2 L153.1,487.2 L153.1,487.7 L154.1,487.4 L154.1,486.8 L155.1,483.9 L155.1,486.2 L156.1,488.1 L156.1,487.0 L157.1,486.9 L157.1,488.5 L158.1,488.1 L158.1,483.4 L159.1,486.4 L159.1,486.9 L160.1,490.2 L160.1,485.5 L161.1,487.8 L161.1,489.6 L162.1,489.4 L162.1,488.9 L163.1,484.5 L163.1,490.1 L164.1,493.9 L164.1,483.3 L165.1,489.2 L165.1,490.4 L166.1,491.3 L166.1,487.6 L167.1,484.3 L167.1,484.6 L168.1,492.1 L168.1,484.2 L169.1,490.4 L169.1,490.8 L170.1,488.4 L170.1,486.8 L171.1,485.7 L171.1,489.0 L172.1,487.5 L172.1,487.0 L173.1,490.6 L173.1,491.7 L174.1,489.3 L174.1,488.7 L175.1,483.7 L175.1,489.3 L176.1,488.7 L176.1,488.3 L177.1,486.8 L177.1,487.0 L178.1,488.5 L178.1,486.8 L179.1,486.3 L179.1,488.5 L180.1,488.8 L180.1,487.5 L181.1,485.4 L181.1,490.7 L182.1,490.3 L182.1,484.1 L183.1,486.5 L183.1,487.4 L184.1,486.3 L184.1,486.2 L185.1,485.7 L185.1,487.8 L186.1,490.1 L186.1,487.2 L187.0,484.5 L187.0,485.7 L188.0,490.7 L188.0,485.7 L189.0,488.6 L189.0,488.9 L190.0,490.5 L190.0,486.5 L191.0,484.7 L191.0,488.0 L192.0,487.9 L192.0,485.7 L193.0,487.6 L193.0,491.4 L194.0,489.3 L194.0,487.2 L195.0,486.4 L195.0,487.0 L196.0,489.5 L196.0,486.9 L197.0,487.3 L197.0,489.9 L198.0,486.9 L198.0,486.5 L199.0,487.1 L199.0,488.5 L200.0,488.5 L200.0,486.4 L201.0,487.3 L201.0,490.1 L202.0,490.5 L202.0,486.1 L203.0,489.6 L203.0,489.8 L204.0,490.7 L204.0,488.7 L205.0,485.5 L205.0,487.2 L206.0,487.4 L206.0,482.8 L207.0,486.0 L207.0,487.5 L208.0,486.6 L208.0,485.0 L209.0,483.5 L209.0,486.1 L210.0,488.7 L210.0,486.4 L211.0,486.6 L211.0,487.7 L212.0,490.4 L212.0,485.1 L213.0,484.6 L213.0,485.5 L214.0,483.3 L214.0,481.6 L215.0,484.0 L215.0,486.4 L216.0,489.3 L216.0,486.4 L217.0,487.0 L217.0,487.2 L218.0,488.2 L218.0,486.3 L219.0,484.7 L219.0,485.5 L220.0,487.6 L220.0,485.8 L221.0,486.2 L221.0,486.3 L222.0,485.6 L222.0,485.2 L223.0,489.1 L223.0,490.5 L224.0,490.5 L224.0,489.1 L225.0,481.2 L225.0,487.1 L226.0,486.6 L226.0,485.4 L227.0,484.5 L227.0,484.6 L228.0,489.1 L228.0,487.6 L229.0,487.3 L229.0,489.9 L230.0,487.6 L230.0,486.1 L231.0,484.9 L231.0,485.1 L232.0,488.1 L232.0,486.3 L233.0,483.1 L233.0,489.1 L234.0,488.2 L234.0,487.3 L235.0,487.5 L235.0,489.1 L236.0,487.8 L236.0,485.8 L237.0,488.2 L237.0,490.2 L238.0,489.4 L238.0,489.1 L239.0,485.3 L239.0,487.3 L240.0,487.6 L240.0,486.9 L241.0,482.8 L241.0,487.7 L242.0,488.8 L242.0,488.2 L243.0,487.6 L243.0,487.6 L244.0,486.7 L244.0,484.0 L245.0,486.3 L245.0,487.0 L246.0,488.0 L246.0,485.2 L247.0,483.9 L247.0,488.0 L248.0,490.4 L248.0,488.4 L249.0,485.1 L249.0,487.7 L250.0,488.5 L250.0,484.4 L251.0,487.6 L251.0,489.1 L252.0,489.0 L252.0,486.5 L253.0,488.9 L253.0,490.0 L254.0,488.7 L254.0,486.5 L255.0,483.9 L255.0,491.3 L256.0,491.0 L256.0,488.1 L257.0,488.1 L257.0,488.2 L258.0,488.0 L258.0,488.0 L259.0,483.1 L259.0,484.2 L260.0,486.3 L260.0,485.7 L261.0,484.1 L261.0,487.0 L262.0,487.3 L262.0,484.4 L263.0,481.0 L263.0,485.3 L264.0,486.4 L264.0,485.7 L265.0,484.6 L265.0,490.2 L266.0,488.3 L266.0,486.5 L267.0,485.9 L267.0,486.5 L268.0,487.2 L268.0,486.3 L269.0,482.3 L269.0,488.2 L270.0,486.8 L270.0,486.7 L271.0,488.0 L271.0,489.8 L272.0,485.8 L272.0,485.5 L273.0,485.4 L273.0,489.1 L274.0,488.1 L274.0,486.5 L275.0,484.8 L275.0,486.9 L276.0,491.3 L276.0,486.5 L277.0,485.6 L277.0,487.6 L278.0,491.7 L278.0,486.9 L279.0,486.0 L279.0,488.3 L280.0,485.6 L280.0,484.0 L281.0,485.3 L281.0,485.7 L282.0,490.8 L282.0,486.4 L283.0,486.4 L283.0,489.4 L284.0,487.5 L284.0,487.3 L285.0,487.2 L285.0,488.6 L286.0,486.5 L286.0,485.0 L287.0,486.5 L287.0,488.5 L288.0,489.6 L288.0,484.9 L289.0,483.9 L289.0,486.8 L290.0,490.6 L290.0,489.8 L291.0,485.9 L291.0,489.7 L292.0,489.0 L292.0,483.8 L293.0,487.0 L293.0,494.6 L294.0,491.4 L294.0,490.6 L295.0,489.9 L295.0,490.1 L296.0,489.0 L296.0,484.8 L297.0,487.9 L297.0,492.9 L298.0,487.2 L298.0,486.5 L299.0,486.0 L299.0,487.8 L300.0,488.3 L300.0,485.1 L301.0,485.2 L301.0,487.4 L302.0,491.7 L302.0,490.3 L303.0,486.5 L303.0,487.9 L304.0,488.2 L304.0,485.1 L305.0,488.0 L305.0,490.2 L306.0,485.5 L306.0,484.4 L307.0,484.9 L307.0,486.0 L308.0,484.5 L308.0,484.2 L309.0,483.7 L309.0,489.2 L310.0,487.5 L310.0,483.8 L311.0,485.6 L311.0,486.9 L312.0,488.5 L312.0,487.6 L313.0,486.8 L313.0,490.0 L314.0,489.2 L314.0,489.1 L315.0,488.3 L315.0,492.7 L316.0,488.7 L316.0,486.8 L317.0,486.6 L317.0,487.3 L318.0,488.1 L318.0,487.1 L319.0,483.6 L319.0,488.1 L320.0,488.4 L320.0,484.3 L321.0,487.4 L321.0,488.6 L322.0,486.9 L322.0,485.9 L323.0,484.6 L323.0,485.6 L324.0,490.0 L324.0,489.6 L325.0,487.3 L325.0,490.2 L326.0,489.9 L326.0,489.0 L327.0,484.6 L327.0,485.4 L328.0,491.2 L328.0,487.6 L329.0,485.4 L329.0,487.5 L330.0,489.8 L330.0,486.9 L331.0,486.8 L331.0,487.6 L332.0,489.4 L332.0,488.7 L333.0,487.7 L333.0,487.9 L334.0,486.8 L334.0,486.5 L335.0,487.8 L335.0,488.8 L336.0,489.2 L336.0,487.5 L337.0,485.5 L337.0,486.6 L338.0,490.1 L338.0,487.8 L339.0,485.0 L339.0,487.5 L340.0,487.5 L340.0,484.2 L341.0,485.0 L341.0,489.3 L342.0,492.6 L342.0,490.5 L343.0,489.7 L343.0,490.5 L344.0,489.3 L344.0,487.1 L345.0,490.0 L345.0,491.3 L346.0,492.3 L346.0,488.2 L347.0,488.8 L347.0,491.3 L348.0,492.6 L348.0,490.9 L349.0,485.9 L349.0,489.2 L350.0,490.4 L350.0,485.8 L351.0,484.9 L351.0,488.6 L352.0,489.0 L352.0,485.3 L353.0,482.5 L353.0,488.3 L354.0,491.2 L354.0,488.1 L355.0,486.9 L355.0,487.3 L356.0,490.5 L356.0,487.4 L357.0,487.2 L357.0,488.5 L358.0,490.2 L358.0,487.3 L359.0,484.3 L359.0,486.5 L360.0,488.6 L360.0,484.4 L361.0,486.3 L361.0,487.2 L362.0,489.4 L362.0,488.5 L363.0,487.2 L363.0,490.2 L364.0,485.5 L364.0,483.5 L365.0,488.4 L365.0,491.5 L366.0,489.2 L366.0,486.0 L367.0,485.7 L367.0,488.9 L368.0,486.4 L368.0,485.5 L369.0,487.8 L369.0,488.4 L370.0,490.8 L370.0,488.3 L371.0,489.0 L371.0,492.4 L372.0,488.9 L372.0,486.2 L373.0,489.0 L373.0,490.9 L374.0,488.5 L374.0,487.9 L375.0,487.8 L375.0,489.2 L376.0,490.2 L376.0,486.1 L377.0,488.1 L377.0,488.4 L378.0,490.1 L378.0,485.2 L379.0,487.2 L379.0,488.2 L380.0,488.5 L380.0,485.3 L381.0,484.2 L381.0,489.7 L382.0,491.1 L382.0,488.0 L382.9,485.6 L382.9,490.5 L383.9,486.8 L383.9,486.4 L384.9,485.1 L384.9,491.8 L385.9,486.6 L385.9,485.6 L386.9,486.1 L386.9,487.8 L387.9,493.1 L387.9,486.4 L388.9,488.2 L388.9,489.7 L389.9,489.7 L389.9,487.7 L390.9,488.0 L390.9,490.2 L391.9,490.4 L391.9,488.8 L392.9,486.6 L392.9,487.4 L393.9,490.3 L393.9,489.3 L394.9,491.3 L394.9,491.8 L395.9,491.1 L395.9,488.8 L396.9,486.5 L396.9,488.8 L397.9,492.6 L397.9,491.7 L398.9,483.5 L398.9,490.6 L399.9,485.8 L399.9,485.5 L400.9,487.1 L400.9,487.7 L401.9,487.3 L401.9,485.7 L402.9,488.9 L402.9,491.8 L403.9,490.0 L403.9,486.6 L404.9,485.2 L404.9,486.2 L405.9,484.7 L405.9,480.4 L406.9,485.4 L406.9,488.8 L407.9,494.5 L407.9,490.9 L408.9,491.5 L408.9,491.8 L409.9,489.1 L409.9,487.7 L410.9,483.4 L410.9,485.7 L411.9,486.8 L411.9,485.8 L412.9,487.2 L412.9,489.6 L413.9,490.4 L413.9,490.1 L414.9,487.5 L414.9,490.6 L415.9,493.3 L415.9,488.7 L416.9,487.6 L416.9,492.2 L417.9,492.1 L417.9,490.6 L418.9,489.5 L418.9,490.0 L419.9,492.2 L419.9,490.3 L420.9,489.0 L420.9,494.8 L421.9,489.0 L421.9,487.3 L422.9,489.3 L422.9,490.2 L423.9,492.0 L423.9,491.7 L424.9,488.0 L424.9,488.8 L425.9,492.1 L425.9,489.2 L426.9,487.3 L426.9,492.7 L427.9,491.3 L427.9,489.7 L428.9,489.1 L428.9,491.4 L429.9,487.6 L429.9,487.0 L430.9,487.4 L430.9,487.6 L431.9,488.7 L431.9,482.6 L432.9,486.3 L432.9,488.5 L433.9,493.1 L433.9,488.2 L434.9,487.9 L434.9,489.3 L435.9,491.0 L435.9,489.1 L436.9,484.6 L436.9,487.8 L437.9,488.6 L437.9,488.0 L438.9,489.5 L438.9,491.0 L439.9,490.9 L439.9,490.4 L440.9,486.7 L440.9,488.2 L441.9,489.6 L441.9,489.1 L442.9,488.3 L442.9,488.8 L443.9,488.0 L443.9,487.8 L444.9,488.6 L444.9,490.9 L445.9,486.7 L445.9,486.5 L446.9,487.0 L446.9,487.8 L447.9,488.3 L447.9,488.1 L448.9,486.4 L448.9,489.5 L449.9,489.2 L449.9,484.6 L450.9,488.6 L450.9,489.3 L451.9,489.3 L451.9,485.3 L452.9,487.0 L452.9,487.6 L453.9,488.1 L453.9,487.1 L454.9,485.3 L454.9,488.8 L455.9,488.6 L455.9,486.7 L456.9,487.2 L456.9,491.1 L457.9,492.5 L457.9,492.1 L458.9,489.3 L458.9,489.7 L459.9,490.5 L459.9,489.7 L460.9,493.5 L460.9,494.4 L461.9,489.2 L461.9,488.4 L462.9,488.5 L462.9,489.7 L463.9,490.4 L463.9,489.4 L464.9,486.0 L464.9,488.1 L465.9,488.6 L465.9,483.9 L466.9,487.7 L466.9,488.2 L467.9,491.1 L467.9,486.4 L468.9,488.0 L468.9,489.2 L469.9,489.6 L469.9,489.0 L470.9,485.5 L470.9,487.1 L471.9,492.2 L471.9,489.5 L472.9,488.8 L472.9,492.5 L473.9,488.5 L473.9,485.3 L474.9,483.1 L474.9,486.9 L475.9,486.7 L475.9,484.1 L476.9,485.1 L476.9,488.1 L477.9,490.3 L477.9,489.3 L478.9,490.0 L478.9,490.1 L479.9,491.5 L479.9,490.9 L480.9,488.6 L480.9,493.6 L481.9,489.7 L481.9,487.6 L482.9,487.3 L482.9,492.1 L483.9,491.8 L483.9,487.8 L484.9,490.4 L484.9,491.5 L485.9,487.1 L485.9,486.8 L486.9,489.1 L486.9,493.6 L487.9,489.6 L487.9,489.0 L488.9,486.6 L488.9,489.8 L489.9,493.1 L489.9,490.1 L490.9,492.6 L490.9,494.8 L491.9,492.0 L491.9,488.9 L492.9,489.2 L492.9,491.7 L493.9,493.7 L493.9,490.9 L494.9,488.4 L494.9,490.9 L495.9,489.5 L495.9,485.9 L496.9,488.2 L496.9,490.1 L497.9,487.5 L497.9,486.4 L498.9,485.8 L498.9,490.7 L499.9,489.7 L499.9,487.9 L500.9,488.5 L500.9,490.4 L501.9,489.3 L501.9,486.2 L502.9,486.9 L502.9,492.2 L503.9,489.8 L503.9,486.5 L504.9,487.8 L504.9,488.1 L505.9,487.6 L505.9,487.2 L506.9,487.8 L506.9,490.0 L507.9,492.0 L507.9,486.1 L508.9,491.2 L508.9,492.2 L509.9,491.2 L509.9,490.0 L510.9,487.1 L510.9,490.5 L511.9,489.3 L511.9,487.6 L512.9,490.0 L512.9,490.6 L513.9,492.4 L513.9,488.4 L514.9,488.6 L514.9,489.5 L515.9,493.5 L515.9,489.6 L516.9,490.8 L516.9,493.1 L517.9,490.2 L517.9,489.9 L518.9,485.9 L518.9,486.6 L519.9,489.3 L519.9,485.8 L520.9,487.7 L520.9,487.9 L521.9,489.1 L521.9,485.6 L522.9,488.9 L522.9,489.4 L523.9,489.8 L523.9,488.8 L524.9,487.5 L524.9,487.6 L525.9,490.8 L525.9,490.8 L526.9,489.4 L526.9,492.6 L527.9,489.8 L527.9,489.0 L528.9,481.9 L528.9,490.0 L529.9,486.0 L529.9,485.2 L530.9,486.3 L530.9,487.8 L531.9,489.3 L531.9,489.2 L532.9,488.7 L532.9,489.8 L533.9,487.6 L533.9,486.8 L534.9,486.0 L534.9,490.1 L535.9,488.6 L535.9,488.2 L536.9,485.0 L536.9,485.7 L537.9,490.9 L537.9,489.9 L538.9,489.4 L538.9,492.6 L539.9,489.9 L539.9,485.8 L540.9,487.2 L540.9,489.7 L541.9,489.1 L541.9,487.6 L542.9,487.5 L542.9,491.0 L543.9,491.9 L543.9,487.7 L544.9,489.9 L544.9,490.5 L545.9,490.3 L545.9,487.9 L546.9,487.8 L546.9,492.6 L547.9,494.9 L547.9,492.5 L548.9,487.2 L548.9,494.6 L549.9,488.6 L549.9,483.7 L550.9,488.5 L550.9,489.6 L551.9,486.2 L551.9,485.8 L552.9,486.9 L552.9,489.1 L553.9,488.5 L553.9,488.3 L554.9,488.0 L554.9,490.3 L555.9,489.5 L555.9,488.4 L556.9,484.9 L556.9,490.0 L557.9,489.0 L557.9,485.5 L558.9,489.5 L558.9,490.0 L559.9,492.1 L559.9,489.4 L560.9,487.4 L560.9,491.9 L561.9,487.2 L561.9,485.6 L562.9,488.7 L562.9,490.1 L563.9,492.5 L563.9,482.5 L564.9,484.7 L564.9,488.1 L565.9,489.6 L565.9,488.3 L566.9,488.8 L566.9,492.0 L567.9,486.4 L567.9,484.7 L568.9,486.0 L568.9,488.9 L569.9,488.8 L569.9,482.5 L570.9,488.6 L570.9,489.1 L571.9,489.4 L571.9,488.7 L572.9,486.0 L572.9,490.2 L573.9,487.6 L573.9,485.0 L574.9,487.0 L574.9,493.0 L575.9,489.4 L575.9,486.2 L576.9,489.9 L576.9,493.1 L577.9,489.1 L577.9,487.0 L578.9,485.2 L578.9,489.2 L579.8,489.3 L579.8,488.1 L580.8,491.2 L580.8,492.5 L581.8,492.5 L581.8,491.3 L582.8,490.4 L582.8,491.1 L583.8,491.3 L583.8,490.9 L584.8,486.2 L584.8,488.1 L585.8,488.2 L585.8,486.8 L586.8,487.9 L586.8,495.0 L587.8,490.3 L587.8,489.4 L588.8,489.3 L588.8,490.3 L589.8,484.3 L589.8,482.8 L590.8,486.6 L590.8,488.7 L591.8,487.7 L591.8,486.6 L592.8,485.2 L592.8,485.6 L593.8,487.7 L593.8,483.2 L594.8,481.5 L594.8,482.9 L595.8,489.4 L595.8,486.1 L596.8,485.2 L596.8,486.4 L597.8,487.5 L597.8,484.5 L598.8,487.3 L598.8,490.0 L599.8,487.9 L599.8,487.4 L600.8,487.7 L600.8,490.0 L601.8,490.9 L601.8,487.5 L602.8,488.1 L602.8,490.6 L603.8,489.4 L603.8,485.8 L604.8,486.7 L604.8,490.1 L605.8,490.1 L605.8,487.0 L606.8,490.1 L606.8,494.4 L607.8,488.2 L607.8,487.4 L608.8,489.7 L608.8,492.1 L609.8,491.0 L609.8,489.8 L610.8,488.9 L610.8,489.6 L611.8,489.2 L611.8,488.6 L612.8,484.6 L612.8,487.6 L613.8,487.5 L613.8,484.9 L614.8,485.9 L614.8,486.0 L615.8,485.2 L615.8,483.1 L616.8,480.2 L616.8,488.3 L617.8,489.7 L617.8,488.0 L618.8,487.9 L618.8,491.2 L619.8,489.1 L619.8,488.5 L620.8,487.5 L620.8,490.0 L621.8,487.4 L621.8,483.9 L622.8,486.2 L622.8,489.8 L623.8,485.2 L623.8,484.7 L624.8,485.9 L624.8,490.1 L625.8,486.3 L625.8,485.2 L626.8,487.2 L626.8,488.5 L627.8,489.4 L627.8,487.6 L628.8,488.2 L628.8,489.5 L629.8,491.8 L629.8,486.3 L630.8,483.6 L630.8,489.0 L631.8,488.2 L631.8,484.9 L632.8,487.1 L632.8,487.6 L633.8,488.6 L633.8,484.7 L634.8,488.4 L634.8,491.7 L635.8,486.8 L635.8,485.7 L636.8,485.7 L636.8,487.8 L637.8,490.1 L637.8,485.0 L638.8,482.4 L638.8,488.2 L639.8,487.6 L639.8,486.6 L640.8,483.4 L640.8,484.0 L641.8,490.2 L641.8,485.4 L642.8,486.4 L642.8,488.5 L643.8,489.6 L643.8,487.9 L644.8,489.1 L644.8,489.7 L645.8,488.8 L645.8,482.1 L646.8,485.7 L646.8,486.4 L647.8,489.4 L647.8,486.4 L648.8,488.5 L648.8,488.8 L649.8,487.0 L649.8,483.8 L650.8,484.0 L650.8,486.9 L651.8,487.6 L651.8,486.7 L652.8,483.1 L652.8,485.3 L653.8,487.2 L653.8,484.9 L654.8,484.1 L654.8,487.5 L655.8,486.4 L655.8,485.7 L656.8,489.0 L656.8,489.1 L657.8,488.0 L657.8,487.1 L658.8,486.6 L658.8,489.9 L659.8,488.6 L659.8,488.0 L660.8,483.8 L660.8,483.9 L661.8,486.7 L661.8,483.1 L662.8,486.3 L662.8,490.0 L663.8,488.9 L663.8,486.3 L664.8,486.4 L664.8,488.2 L665.8,491.5 L665.8,488.1 L666.8,483.9 L666.8,490.2 L667.8,486.9 L667.8,486.2 L668.8,485.9 L668.8,487.9 L669.8,487.6 L669.8,486.9 L670.8,480.5 L670.8,486.2 L671.8,486.8 L671.8,486.8 L672.8,487.6 L672.8,489.1 L673.8,487.4 L673.8,486.6 L674.8,487.2 L674.8,487.8 L675.8,489.4 L675.8,489.2 L676.8,486.2 L676.8,488.3 L677.3,487.8" fill="none" stroke="#9467bd" stroke-width="2.08" stroke-linejoin="round" stroke-linecap="butt"/>
<path d="M88.6,482.5 L89.1,480.0 L89.1,484.3 L90.1,483.2 L90.1,482.2 L91.1,486.4 L91.1,490.1 L92.1,485.4 L92.1,484.2 L93.1,483.1 L93.1,486.5 L94.1,488.9 L94.1,486.0 L95.1,487.0 L95.1,491.7 L96.1,491.6 L96.1,491.3 L97.1,487.2 L97.1,487.7 L98.1,486.2 L98.1,483.2 L99.1,487.2 L99.1,489.0 L100.1,492.5 L100.1,491.1 L101.1,494.9 L101.1,496.3 L102.1,493.9 L102.1,493.9 L103.1,492.6 L103.1,498.8 L104.1,495.4 L104.1,495.2 L105.1,496.3 L105.1,497.3 L106.1,497.7 L106.1,496.6 L107.1,496.5 L107.1,499.6 L108.1,496.8 L108.1,494.8 L109.1,492.9 L109.1,499.0 L110.1,494.8 L110.1,492.3 L111.1,489.5 L111.1,491.7 L112.1,492.0 L112.1,488.7 L113.1,488.8 L113.1,494.0 L114.1,490.4 L114.1,488.1 L115.1,488.3 L115.1,488.4 L116.1,490.2 L116.1,489.5 L117.1,492.3 L117.1,493.9 L118.1,492.5 L118.1,492.0 L119.1,487.3 L119.1,489.3 L120.1,491.2 L120.1,488.2 L121.1,488.2 L121.1,492.1 L122.1,488.4 L122.1,486.4 L123.1,488.1 L123.1,488.4 L124.1,487.6 L124.1,486.3 L125.1,483.3 L125.1,487.0 L126.1,487.6 L126.1,483.4 L127.1,489.0 L127.1,490.7 L128.1,489.2 L128.1,486.1 L129.1,487.3 L129.1,490.1 L130.1,491.2 L130.1,488.8 L131.1,490.6 L131.1,491.8 L132.1,487.6 L132.1,485.9 L133.1,486.4 L133.1,487.5 L134.1,490.7 L134.1,488.1 L135.1,488.0 L135.1,488.7 L136.1,487.2 L136.1,486.6 L137.1,484.5 L137.1,484.6 L138.1,486.5 L138.1,483.6 L139.1,485.9 L139.1,486.0 L140.1,492.3 L140.1,490.0 L141.1,492.2 L141.1,492.3 L142.1,492.2 L142.1,488.5 L143.1,483.7 L143.1,489.4 L144.1,488.2 L144.1,484.8 L145.1,482.1 L145.1,488.6 L146.1,488.3 L146.1,487.9 L147.1,488.9 L147.1,489.2 L148.1,489.3 L148.1,488.9 L149.1,489.9 L149.1,490.9 L150.1,489.3 L150.1,488.6 L151.1,485.0 L151.1,486.1 L152.1,491.3 L152.1,490.7 L153.1,487.2 L153.1,490.5 L154.1,490.7 L154.1,488.1 L155.1,486.5 L155.1,488.8 L156.1,489.9 L156.1,486.5 L157.1,486.9 L157.1,488.1 L158.1,491.1 L158.1,487.6 L159.1,486.1 L159.1,489.6 L160.1,492.9 L160.1,491.0 L161.1,487.0 L161.1,490.9 L162.1,490.9 L162.1,490.9 L163.1,488.3 L163.1,489.6 L164.1,488.0 L164.1,486.7 L165.1,488.5 L165.1,493.5 L166.1,489.1 L166.1,488.7 L167.1,485.6 L167.1,486.9 L168.1,490.0 L168.1,488.7 L169.1,490.0 L169.1,492.1 L170.1,491.9 L170.1,490.6 L171.1,486.2 L171.1,486.7 L172.1,486.3 L172.1,484.7 L173.1,484.7 L173.1,487.3 L174.1,486.8 L174.1,484.0 L175.1,485.2 L175.1,485.7 L176.1,488.4 L176.1,487.8 L177.1,486.6 L177.1,494.2 L178.1,488.1 L178.1,484.7 L179.1,486.9 L179.1,491.2 L180.1,492.6 L180.1,489.8 L181.1,485.1 L181.1,486.3 L182.1,487.8 L182.1,484.4 L183.1,483.6 L183.1,484.8 L184.1,488.4 L184.1,487.5 L185.1,486.9 L185.1,488.8 L186.1,492.3 L186.1,488.6 L187.0,487.7 L187.0,490.1 L188.0,486.4 L188.0,485.5 L189.0,487.0 L189.0,491.4 L190.0,488.4 L190.0,487.8 L191.0,485.8 L191.0,488.0 L192.0,488.4 L192.0,485.8 L193.0,486.3 L193.0,487.0 L194.0,491.8 L194.0,491.2 L195.0,487.4 L195.0,489.4 L196.0,488.1 L196.0,488.1 L197.0,486.5 L197.0,488.0 L198.0,490.1 L198.0,487.0 L199.0,487.0 L199.0,489.5 L200.0,488.2 L200.0,484.1 L201.0,484.8 L201.0,487.4 L202.0,489.4 L202.0,486.2 L203.0,492.1 L203.0,495.2 L204.0,493.7 L204.0,491.6 L205.0,486.1 L205.0,488.9 L206.0,485.8 L206.0,483.7 L207.0,486.5 L207.0,487.8 L208.0,487.4 L208.0,486.7 L209.0,486.6 L209.0,490.7 L210.0,489.2 L210.0,488.5 L211.0,487.2 L211.0,489.5 L212.0,490.1 L212.0,486.2 L213.0,484.0 L213.0,487.8 L214.0,487.5 L214.0,486.7 L215.0,485.8 L215.0,486.0 L216.0,489.6 L216.0,488.6 L217.0,487.6 L217.0,493.6 L218.0,490.3 L218.0,490.0 L219.0,486.2 L219.0,490.9 L220.0,487.0 L220.0,485.6 L221.0,486.0 L221.0,487.5 L222.0,487.3 L222.0,485.8 L223.0,488.1 L223.0,489.6 L224.0,490.5 L224.0,489.3 L225.0,489.5 L225.0,490.6 L226.0,485.9 L226.0,485.3 L227.0,485.9 L227.0,490.7 L228.0,490.0 L228.0,487.3 L229.0,484.9 L229.0,486.5 L230.0,491.2 L230.0,487.8 L231.0,489.8 L231.0,491.4 L232.0,492.8 L232.0,490.7 L233.0,484.7 L233.0,485.5 L234.0,489.4 L234.0,486.4 L235.0,485.6 L235.0,492.0 L236.0,488.6 L236.0,485.4 L237.0,488.3 L237.0,491.0 L238.0,487.7 L238.0,483.2 L239.0,487.1 L239.0,487.4 L240.0,492.1 L240.0,489.3 L241.0,486.6 L241.0,487.9 L242.0,484.5 L242.0,483.6 L243.0,483.8 L243.0,486.1 L244.0,487.4 L244.0,486.3 L245.0,484.8 L245.0,486.7 L246.0,489.0 L246.0,485.0 L247.0,484.0 L247.0,484.6 L248.0,487.5 L248.0,485.6 L249.0,484.9 L249.0,489.3 L250.0,486.5 L250.0,486.4 L251.0,488.5 L251.0,489.3 L252.0,484.8 L252.0,484.2 L253.0,486.9 L253.0,489.6 L254.0,489.2 L254.0,485.3 L255.0,485.8 L255.0,490.2 L256.0,489.6 L256.0,487.2 L257.0,484.2 L257.0,486.0 L258.0,488.8 L258.0,488.6 L259.0,487.4 L259.0,491.8 L260.0,488.9 L260.0,487.9 L261.0,486.7 L261.0,488.5 L262.0,487.7 L262.0,485.3 L263.0,487.8 L263.0,488.0 L264.0,489.6 L264.0,488.7 L265.0,489.4 L265.0,490.7 L266.0,488.6 L266.0,485.6 L267.0,482.2 L267.0,485.1 L268.0,485.6 L268.0,483.4 L269.0,485.5 L269.0,488.0 L270.0,490.6 L270.0,488.3 L271.0,484.7 L271.0,487.5 L272.0,490.6 L272.0,486.3 L273.0,484.3 L273.0,489.1 L274.0,487.4 L274.0,486.2 L275.0,486.3 L275.0,487.8 L276.0,491.3 L276.0,486.0 L277.0,488.0 L277.0,488.5 L278.0,490.1 L278.0,486.0 L279.0,488.6 L279.0,490.2 L280.0,488.9 L280.0,486.5 L281.0,488.1 L281.0,490.3 L282.0,490.1 L282.0,487.3 L283.0,487.4 L283.0,489.0 L284.0,489.8 L284.0,485.2 L285.0,488.6 L285.0,490.6 L286.0,489.5 L286.0,487.1 L287.0,488.5 L287.0,489.4 L288.0,487.6 L288.0,486.3 L289.0,485.3 L289.0,488.7 L290.0,488.6 L290.0,486.6 L291.0,489.3 L291.0,490.3 L292.0,490.4 L292.0,489.1 L293.0,488.5 L293.0,490.2 L294.0,488.3 L294.0,488.0 L295.0,483.2 L295.0,492.0 L296.0,491.2 L296.0,487.7 L297.0,485.7 L297.0,487.0 L298.0,490.3 L298.0,490.0 L299.0,485.4 L299.0,486.6 L300.0,486.0 L300.0,485.5 L301.0,489.2 L301.0,489.7 L302.0,488.2 L302.0,485.5 L303.0,486.2 L303.0,487.5 L304.0,488.7 L304.0,486.7 L305.0,486.0 L305.0,488.9 L306.0,490.5 L306.0,488.4 L307.0,486.7 L307.0,488.6 L308.0,487.5 L308.0,485.8 L309.0,487.4 L309.0,488.4 L310.0,490.5 L310.0,487.7 L311.0,486.5 L311.0,489.5 L312.0,487.6 L312.0,485.9 L313.0,484.7 L313.0,488.2 L314.0,489.7 L314.0,482.6 L315.0,487.5 L315.0,490.5 L316.0,490.2 L316.0,488.5 L317.0,488.8 L317.0,489.9 L318.0,489.3 L318.0,485.0 L319.0,486.1 L319.0,489.5 L320.0,490.6 L320.0,487.6 L321.0,487.2 L321.0,490.4 L322.0,489.5 L322.0,489.2 L323.0,487.8 L323.0,491.6 L324.0,492.2 L324.0,489.4 L325.0,488.8 L325.0,490.6 L326.0,490.8 L326.0,490.7 L327.0,486.7 L327.0,490.7 L328.0,489.4 L328.0,488.4 L329.0,489.4 L329.0,491.7 L330.0,491.0 L330.0,489.5 L331.0,487.9 L331.0,488.4 L332.0,489.3 L332.0,485.9 L333.0,485.3 L333.0,486.6 L334.0,488.7 L334.0,488.7 L335.0,487.3 L335.0,487.7 L336.0,486.8 L336.0,486.8 L337.0,486.6 L337.0,486.8 L338.0,488.9 L338.0,487.5 L339.0,489.3 L339.0,491.5 L340.0,489.2 L340.0,485.8 L341.0,488.2 L341.0,488.4 L342.0,486.8 L342.0,484.6 L343.0,486.3 L343.0,487.2 L344.0,488.7 L344.0,483.6 L345.0,487.7 L345.0,488.9 L346.0,489.2 L346.0,487.4 L347.0,485.4 L347.0,490.5 L348.0,489.2 L348.0,489.2 L349.0,485.2 L349.0,487.9 L350.0,485.2 L350.0,483.0 L351.0,485.2 L351.0,489.9 L352.0,489.2 L352.0,486.2 L353.0,485.6 L353.0,490.1 L354.0,485.4 L354.0,484.2 L355.0,487.9 L355.0,490.1 L356.0,487.4 L356.0,485.5 L357.0,488.9 L357.0,492.0 L358.0,491.4 L358.0,490.0 L359.0,487.8 L359.0,489.2 L360.0,484.9 L360.0,483.8 L361.0,485.3 L361.0,488.9 L362.0,487.7 L362.0,486.0 L363.0,487.2 L363.0,490.0 L364.0,491.0 L364.0,488.8 L365.0,488.1 L365.0,488.9 L366.0,490.9 L366.0,487.2 L367.0,486.2 L367.0,486.2 L368.0,489.5 L368.0,484.1 L369.0,487.7 L369.0,489.0 L370.0,487.2 L370.0,486.3 L371.0,488.3 L371.0,489.4 L372.0,490.2 L372.0,487.2 L373.0,483.5 L373.0,485.7 L374.0,490.7 L374.0,488.6 L375.0,486.1 L375.0,487.1 L376.0,487.2 L376.0,485.6 L377.0,488.4 L377.0,488.5 L378.0,490.8 L378.0,489.3 L379.0,487.9 L379.0,491.5 L380.0,487.3 L380.0,487.3 L381.0,486.0 L381.0,487.2 L382.0,489.9 L382.0,483.4 L382.9,488.2 L382.9,488.8 L383.9,489.2 L383.9,488.8 L384.9,490.7 L384.9,492.0 L385.9,489.9 L385.9,488.8 L386.9,485.4 L386.9,491.8 L387.9,490.8 L387.9,487.3 L388.9,488.3 L388.9,490.6 L389.9,489.8 L389.9,487.6 L390.9,485.9 L390.9,486.2 L391.9,489.4 L391.9,487.7 L392.9,488.6 L392.9,490.3 L393.9,490.3 L393.9,488.3 L394.9,487.7 L394.9,488.8 L395.9,489.2 L395.9,488.1 L396.9,487.8 L396.9,490.0 L397.9,493.5 L397.9,487.9 L398.9,486.8 L398.9,489.9 L399.9,488.9 L399.9,486.4 L400.9,486.4 L400.9,489.3 L401.9,490.0 L401.9,486.8 L402.9,484.6 L402.9,485.0 L403.9,487.2 L403.9,487.0 L404.9,485.3 L404.9,489.4 L405.9,490.1 L405.9,487.6 L406.9,484.7 L406.9,487.5 L407.9,491.6 L407.9,484.0 L408.9,487.9 L408.9,488.0 L409.9,492.6 L409.9,491.6 L410.9,482.6 L410.9,488.5 L411.9,490.7 L411.9,488.7 L412.9,489.9 L412.9,492.8 L413.9,490.6 L413.9,490.2 L414.9,487.6 L414.9,489.1 L415.9,489.0 L415.9,488.5 L416.9,487.8 L416.9,490.7 L417.9,483.7 L417.9,483.3 L418.9,487.2 L418.9,490.0 L419.9,491.4 L419.9,488.7 L420.9,485.2 L420.9,494.1 L421.9,490.6 L421.9,487.4 L422.9,481.9 L422.9,482.5 L423.9,489.9 L423.9,484.5 L424.9,484.6 L424.9,493.3 L425.9,489.8 L425.9,489.0 L426.9,484.6 L426.9,488.8 L427.9,490.8 L427.9,489.8 L428.9,489.2 L428.9,489.6 L429.9,490.0 L429.9,489.4 L430.9,487.1 L430.9,492.4 L431.9,490.7 L431.9,488.7 L432.9,484.7 L432.9,487.8 L433.9,487.5 L433.9,485.9 L434.9,489.5 L434.9,493.7 L435.9,492.7 L435.9,491.5 L436.9,489.3 L436.9,492.4 L437.9,489.8 L437.9,486.8 L438.9,489.2 L438.9,492.9 L439.9,490.8 L439.9,489.5 L440.9,485.3 L440.9,488.2 L441.9,490.4 L441.9,488.4 L442.9,487.1 L442.9,487.3 L443.9,484.9 L443.9,484.8 L444.9,486.9 L444.9,487.4 L445.9,493.8 L445.9,492.7 L446.9,487.8 L446.9,492.2 L447.9,491.6 L447.9,489.5 L448.9,490.0 L448.9,490.4 L449.9,489.1 L449.9,488.2 L450.9,486.7 L450.9,487.7 L451.9,488.8 L451.9,483.8 L452.9,485.4 L452.9,490.2 L453.9,488.2 L453.9,484.1 L454.9,486.9 L454.9,489.3 L455.9,488.3 L455.9,483.8 L456.9,488.2 L456.9,489.1 L457.9,490.5 L457.9,486.1 L458.9,486.9 L458.9,491.4 L459.9,488.7 L459.9,486.0 L460.9,487.6 L460.9,492.8 L461.9,489.9 L461.9,488.2 L462.9,485.6 L462.9,487.4 L463.9,484.5 L463.9,484.4 L464.9,488.8 L464.9,490.8 L465.9,488.5 L465.9,487.8 L466.9,488.9 L466.9,492.9 L467.9,491.4 L467.9,490.2 L468.9,489.9 L468.9,491.4 L469.9,487.1 L469.9,486.7 L470.9,487.7 L470.9,488.3 L471.9,490.2 L471.9,488.1 L472.9,486.6 L472.9,489.9 L473.9,494.4 L473.9,487.0 L474.9,489.1 L474.9,490.5 L475.9,491.4 L475.9,488.0 L476.9,486.1 L476.9,490.1 L477.9,488.2 L477.9,487.2 L478.9,484.8 L478.9,488.8 L479.9,491.2 L479.9,483.2 L480.9,489.5 L480.9,491.9 L481.9,486.8 L481.9,485.7 L482.9,488.4 L482.9,490.5 L483.9,487.8 L483.9,487.7 L484.9,489.3 L484.9,491.5 L485.9,492.2 L485.9,487.7 L486.9,488.2 L486.9,489.4 L487.9,489.4 L487.9,488.3 L488.9,489.3 L488.9,490.5 L489.9,489.8 L489.9,487.6 L490.9,489.4 L490.9,490.4 L491.9,493.2 L491.9,492.9 L492.9,490.8 L492.9,491.6 L493.9,489.3 L493.9,483.0 L494.9,488.6 L494.9,489.6 L495.9,492.9 L495.9,492.4 L496.9,487.2 L496.9,488.7 L497.9,489.8 L497.9,485.8 L498.9,489.2 L498.9,491.1 L499.9,492.9 L499.9,492.2 L500.9,488.1 L500.9,489.0 L501.9,489.0 L501.9,487.6 L502.9,484.5 L502.9,485.7 L503.9,490.0 L503.9,489.2 L504.9,484.8 L504.9,491.7 L505.9,491.8 L505.9,484.8 L506.9,489.0 L506.9,489.3 L507.9,490.2 L507.9,486.2 L508.9,488.8 L508.9,489.0 L509.9,489.9 L509.9,487.2 L510.9,487.9 L510.9,488.2 L511.9,493.1 L511.9,492.9 L512.9,487.3 L512.9,488.9 L513.9,486.0 L513.9,484.9 L514.9,489.3 L514.9,490.4 L515.9,489.3 L515.9,486.8 L516.9,487.1 L516.9,489.3 L517.9,489.8 L517.9,483.7 L518.9,487.3 L518.9,488.3 L519.9,487.0 L519.9,483.9 L520.9,488.7 L520.9,490.0 L521.9,490.0 L521.9,488.2 L522.9,485.1 L522.9,485.4 L523.9,489.7 L523.9,487.7 L524.9,487.6 L524.9,488.5 L525.9,490.8 L525.9,487.6 L526.9,487.9 L526.9,492.2 L527.9,491.0 L527.9,490.6 L528.9,490.1 L528.9,491.2 L529.9,489.5 L529.9,488.1 L530.9,489.0 L530.9,489.4 L531.9,489.3 L531.9,487.1 L532.9,492.7 L532.9,493.8 L533.9,492.1 L533.9,490.8 L534.9,486.4 L534.9,488.6 L535.9,493.3 L535.9,489.5 L536.9,487.9 L536.9,490.8 L537.9,490.1 L537.9,487.4 L538.9,487.0 L538.9,489.4 L539.9,488.7 L539.9,485.7 L540.9,489.4 L540.9,490.5 L541.9,490.1 L541.9,488.0 L542.9,488.9 L542.9,489.6 L543.9,490.7 L543.9,489.9 L544.9,488.5 L544.9,488.8 L545.9,489.7 L545.9,488.0 L546.9,484.5 L546.9,488.8 L547.9,489.0 L547.9,485.2 L548.9,488.5 L548.9,490.3 L549.9,493.2 L549.9,491.1 L550.9,489.2 L550.9,490.2 L551.9,489.7 L551.9,488.1 L552.9,486.9 L552.9,491.5 L553.9,489.8 L553.9,483.8 L554.9,486.9 L554.9,492.5 L555.9,490.3 L555.9,488.5 L556.9,489.0 L556.9,489.8 L557.9,492.3 L557.9,492.1 L558.9,488.4 L558.9,491.0 L559.9,491.0 L559.9,490.6 L560.9,488.8 L560.9,489.6 L561.9,494.1 L561.9,487.2 L562.9,490.4 L562.9,490.4 L563.9,489.9 L563.9,488.3 L564.9,487.4 L564.9,493.3 L565.9,488.5 L565.9,487.2 L566.9,486.9 L566.9,489.2 L567.9,490.0 L567.9,488.7 L568.9,491.8 L568.9,492.8 L569.9,488.7 L569.9,487.7 L570.9,488.4 L570.9,493.1 L571.9,491.8 L571.9,488.9 L572.9,489.6 L572.9,491.2 L573.9,490.9 L573.9,490.6 L574.9,489.0 L574.9,491.0 L575.9,490.4 L575.9,488.1 L576.9,487.2 L576.9,488.1 L577.9,491.2 L577.9,486.5 L578.9,488.9 L578.9,490.3 L579.8,490.9 L579.8,487.6 L580.8,490.8 L580.8,493.2 L581.8,491.6 L581.8,489.5 L582.8,489.2 L582.8,490.0 L583.8,490.1 L583.8,489.8 L584.8,487.3 L584.8,488.2 L585.8,489.7 L585.8,489.7 L586.8,490.4 L586.8,491.2 L587.8,489.9 L587.8,487.4 L588.8,487.1 L588.8,491.4 L589.8,490.9 L589.8,489.5 L590.8,489.4 L590.8,493.2 L591.8,493.3 L591.8,488.7 L592.8,488.1 L592.8,490.5 L593.8,494.5 L593.8,490.1 L594.8,491.8 L594.8,494.4 L595.8,486.3 L595.8,486.2 L596.8,485.7 L596.8,486.5 L597.8,492.1 L597.8,485.8 L598.8,489.8 L598.8,491.1 L599.8,490.8 L599.8,489.6 L600.8,488.4 L600.8,491.6 L601.8,493.0 L601.8,485.8 L602.8,489.7 L602.8,491.7 L603.8,486.6 L603.8,485.8 L604.8,487.8 L604.8,488.0 L605.8,489.9 L605.8,488.7 L606.8,485.3 L606.8,486.7 L607.8,490.7 L607.8,487.7 L608.8,487.5 L608.8,489.9 L609.8,488.6 L609.8,486.4 L610.8,486.6 L610.8,492.1 L611.8,490.2 L611.8,484.6 L612.8,490.0 L612.8,492.0 L613.8,489.3 L613.8,485.9 L614.8,487.8 L614.8,489.0 L615.8,487.2 L615.8,487.1 L616.8,486.0 L616.8,489.9 L617.8,486.3 L617.8,485.7 L618.8,485.7 L618.8,489.1 L619.8,491.4 L619.8,490.8 L620.8,484.0 L620.8,486.8 L621.8,489.5 L621.8,489.2 L622.8,487.9 L622.8,490.7 L623.8,490.1 L623.8,487.5 L624.8,484.4 L624.8,487.3 L625.8,489.8 L625.8,489.6 L626.8,489.8 L626.8,490.4 L627.8,485.9 L627.8,484.6 L628.8,491.1 L628.8,491.9 L629.8,491.2 L629.8,491.0 L630.8,487.9 L630.8,489.4 L631.8,488.4 L631.8,485.5 L632.8,485.8 L632.8,487.6 L633.8,486.3 L633.8,485.4 L634.8,488.0 L634.8,489.4 L635.8,487.4 L635.8,487.1 L636.8,487.6 L636.8,491.3 L637.8,486.9 L637.8,485.0 L638.8,484.4 L638.8,486.2 L639.8,488.2 L639.8,487.8 L640.8,488.3 L640.8,489.6 L641.8,485.5 L641.8,485.2 L642.8,484.5 L642.8,485.9 L643.8,487.3 L643.8,485.3 L644.8,486.2 L644.8,486.4 L645.8,490.0 L645.8,489.6 L646.8,486.7 L646.8,488.7 L647.8,486.0 L647.8,483.7 L648.8,483.6 L648.8,484.7 L649.8,486.9 L649.8,481.9 L650.8,488.8 L650.8,488.9 L651.8,489.7 L651.8,486.6 L652.8,486.7 L652.8,487.3 L653.8,489.6 L653.8,487.4 L654.8,486.5 L654.8,490.7 L655.8,484.6 L655.8,483.0 L656.8,484.3 L656.8,485.6 L657.8,488.6 L657.8,482.4 L658.8,481.7 L658.8,488.6 L659.8,487.5 L659.8,486.6 L660.8,484.6 L660.8,488.3 L661.8,485.8 L661.8,481.5 L662.8,481.6 L662.8,485.8 L663.8,489.4 L663.8,486.2 L664.8,485.0 L664.8,488.2 L665.8,489.4 L665.8,487.9 L666.8,488.6 L666.8,489.7 L667.8,487.4 L667.8,483.8 L668.8,486.3 L668.8,486.4 L669.8,488.5 L669.8,486.7 L670.8,486.8 L670.8,488.1 L671.8,489.6 L671.8,489.2 L672.8,487.3 L672.8,489.6 L673.8,490.4 L673.8,488.7 L674.8,487.2 L674.8,492.6 L675.8,489.9 L675.8,488.6 L676.8,489.5 L676.8,490.9 L677.3,487.8" fill="none" stroke="#8c564b" stroke-width="2.08" stroke-linejoin="round" stroke-linecap="butt"/>
</g>
<rect x="66.6" y="445.4" width="149.9" height="128.9" rx="2.8" fill="#fff" fill-opacity="0.8" stroke="#ccc" stroke-opacity="0.8" stroke-width="1"/>
<path d="M71.0,455.8 H101.0" stroke="#1f77b4" stroke-width="2.08" fill="none"/>
<text x="110.7" y="460.8" font-size="14.2" text-anchor="start" textLength="100.5" lengthAdjust="spacingAndGlyphs">Uncorrected X</text>
<path d="M71.0,476.8 H101.0" stroke="#ff7f0e" stroke-width="2.08" fill="none"/>
<text x="110.7" y="481.8" font-size="14.2" text-anchor="start" textLength="99.5" lengthAdjust="spacingAndGlyphs">Uncorrected Y</text>
<path d="M71.0,497.8 H101.0" stroke="#2ca02c" stroke-width="2.08" fill="none"/>
<text x="110.7" y="502.8" font-size="14.2" text-anchor="start" textLength="99.5" lengthAdjust="spacingAndGlyphs">Uncorrected Z</text>
<path d="M71.0,518.9 H101.0" stroke="#d62728" stroke-width="2.08" fill="none"/>
<text x="110.7" y="523.9" font-size="14.2" text-anchor="start" textLength="83.5" lengthAdjust="spacingAndGlyphs">Corrected X</text>
<path d="M71.0,539.9 H101.0" stroke="#9467bd" stroke-width="2.08" fill="none"/>
<text x="110.7" y="544.9" font-size="14.2" text-anchor="start" textLength="82.5" lengthAdjust="spacingAndGlyphs">Corrected Y</text>
<path d="M71.0,560.9 H101.0" stroke="#8c564b" stroke-width="2.08" fill="none"/>
<text x="110.7" y="565.9" font-size="14.2" text-anchor="start" textLength="82.5" lengthAdjust="spacingAndGlyphs">Corrected Z</text>
<rect x="59.5" y="438.5" width="648.0" height="170.0" fill="none" stroke="#000" stroke-width="1.1"/>
<path d="M59.5,454.5 h-4.9 M59.5,489.5 h-4.9 M59.5,524.5 h-4.9 M59.5,558.5 h-4.9 M59.5,594.5 h-4.9 M707.5,452.5 h4.9 M707.5,484.5 h4.9 M707.5,515.5 h4.9 M707.5,547.5 h4.9 M707.5,579.5 h4.9 M84.5,608.5 v4.9 M199.5,608.5 v4.9 M315.5,608.5 v4.9 M431.5,608.5 v4.9 M547.5,608.5 v4.9 M663.5,608.5 v4.9" stroke="#000" stroke-width="1.1" fill="none"/>
<text x="49.2" y="459.6" font-size="14.2" text-anchor="end" textLength="29.1" lengthAdjust="spacingAndGlyphs">0.05</text>
<text x="49.2" y="494.4" font-size="14.2" text-anchor="end" textLength="29.1" lengthAdjust="spacingAndGlyphs">0.00</text>
<text x="49.2" y="529.2" font-size="14.2" text-anchor="end" textLength="40.8" lengthAdjust="spacingAndGlyphs">−0.05</text>
<text x="49.2" y="564.1" font-size="14.2" text-anchor="end" textLength="40.8" lengthAdjust="spacingAndGlyphs">−0.10</text>
<text x="49.2" y="599.2" font-size="14.2" text-anchor="end" textLength="40.8" lengthAdjust="spacingAndGlyphs">−0.15</text>
<text x="716.4" y="457.1" font-size="14.2" text-anchor="start" textLength="16.1" lengthAdjust="spacingAndGlyphs">50</text>
<text x="716.4" y="489.2" font-size="14.2" text-anchor="start" textLength="16.1" lengthAdjust="spacingAndGlyphs">40</text>
<text x="716.4" y="520.9" font-size="14.2" text-anchor="start" textLength="16.1" lengthAdjust="spacingAndGlyphs">30</text>
<text x="716.4" y="552.7" font-size="14.2" text-anchor="start" textLength="16.1" lengthAdjust="spacingAndGlyphs">20</text>
<text x="716.4" y="584.4" font-size="14.2" text-anchor="start" textLength="16.1" lengthAdjust="spacingAndGlyphs">10</text>
<text x="382.7" y="430.2" font-size="17.0" text-anchor="middle" textLength="178.3" lengthAdjust="spacingAndGlyphs">IMU[2] Accel (m/s^2)</text>
<g clip-path="url(#c2)"><path d="M88.6,599.8 L90.6,598.1 L92.6,596.5 L94.6,594.8 L96.6,593.2 L98.6,591.5 L100.6,589.9 L102.6,588.3 L104.6,586.6 L106.6,585.0 L108.6,583.4 L110.6,581.9 L112.6,580.3 L114.6,578.8 L116.6,577.3 L118.6,575.8 L120.6,574.3 L122.6,572.9 L124.6,571.5 L126.6,570.2 L128.6,568.8 L130.6,567.5 L132.6,566.2 L134.6,565.0 L136.6,563.8 L138.6,562.6 L140.6,561.4 L142.6,560.3 L144.6,559.2 L146.6,558.1 L148.6,557.1 L150.6,556.1 L152.6,555.1 L154.6,554.1 L156.6,553.1 L158.6,552.2 L160.6,551.2 L162.6,550.3 L164.6,549.4 L166.6,548.5 L168.6,547.6 L170.6,546.7 L172.6,545.8 L174.6,544.9 L176.6,544.1 L178.6,543.2 L180.6,542.3 L182.6,541.5 L184.6,540.6 L186.6,539.8 L188.6,538.9 L190.6,538.1 L192.6,537.2 L194.6,536.4 L196.6,535.6 L198.6,534.8 L200.6,534.0 L202.6,533.2 L204.6,532.4 L206.6,531.6 L208.6,530.9 L210.6,530.1 L212.6,529.4 L214.6,528.6 L216.6,527.9 L218.6,527.2 L220.6,526.4 L222.6,525.7 L224.6,525.0 L226.6,524.3 L228.6,523.6 L230.6,522.9 L232.6,522.3 L234.6,521.6 L236.6,520.9 L238.6,520.3 L240.6,519.6 L242.6,519.0 L244.6,518.3 L246.6,517.7 L248.6,517.0 L250.6,516.4 L252.6,515.8 L254.6,515.2 L256.6,514.6 L258.6,514.0 L260.6,513.4 L262.6,512.8 L264.6,512.2 L266.6,511.6 L268.6,511.1 L270.6,510.5 L272.6,509.9 L274.6,509.4 L276.6,508.8 L278.6,508.3 L280.6,507.7 L282.6,507.2 L284.6,506.7 L286.6,506.1 L288.6,505.6 L290.6,505.1 L292.6,504.6 L294.6,504.1 L296.6,503.6 L298.6,503.1 L300.6,502.6 L302.6,502.1 L304.6,501.6 L306.6,501.1 L308.6,500.6 L310.6,500.1 L312.6,499.6 L314.6,499.2 L316.6,498.7 L318.6,498.2 L320.6,497.7 L322.6,497.3 L324.6,496.8 L326.6,496.4 L328.6,495.9 L330.6,495.5 L332.6,495.0 L334.6,494.6 L336.6,494.1 L338.6,493.7 L340.6,493.2 L342.6,492.8 L344.6,492.3 L346.6,491.9 L348.6,491.5 L350.6,491.0 L352.6,490.6 L354.6,490.2 L356.6,489.8 L358.6,489.3 L360.6,488.9 L362.6,488.5 L364.6,488.1 L366.6,487.6 L368.6,487.2 L370.6,486.8 L372.6,486.4 L374.6,486.0 L376.6,485.6 L378.6,485.2 L380.6,484.8 L382.6,484.3 L384.6,483.9 L386.6,483.5 L388.6,483.1 L390.6,482.7 L392.6,482.3 L394.6,481.9 L396.6,481.5 L398.6,481.1 L400.6,480.7 L402.6,480.4 L404.6,480.0 L406.6,479.6 L408.6,479.2 L410.6,478.8 L412.6,478.4 L414.6,478.0 L416.6,477.6 L418.6,477.2 L420.6,476.9 L422.6,476.5 L424.6,476.1 L426.6,475.7 L428.6,475.3 L430.6,474.9 L432.6,474.6 L434.6,474.2 L436.6,473.8 L438.6,473.4 L440.6,473.1 L442.6,472.7 L444.6,472.3 L446.6,472.0 L448.6,471.6 L450.6,471.2 L452.6,470.9 L454.6,470.5 L456.6,470.2 L458.6,469.8 L460.6,469.5 L462.6,469.1 L464.6,468.7 L466.6,468.4 L468.6,468.1 L470.6,467.7 L472.6,467.4 L474.6,467.0 L476.6,466.7 L478.6,466.4 L480.6,466.0 L482.6,465.7 L484.6,465.4 L486.6,465.1 L488.6,464.7 L490.6,464.4 L492.6,464.1 L494.6,463.8 L496.6,463.5 L498.6,463.2 L500.6,462.9 L502.6,462.6 L504.6,462.3 L506.6,462.0 L508.6,461.7 L510.6,461.4 L512.6,461.1 L514.6,460.8 L516.6,460.5 L518.6,460.2 L520.6,459.9 L522.6,459.7 L524.6,459.4 L526.6,459.1 L528.6,458.8 L530.6,458.6 L532.6,458.3 L534.6,458.0 L536.6,457.8 L538.6,457.5 L540.6,457.3 L542.6,457.0 L544.6,456.7 L546.6,456.5 L548.6,456.2 L550.6,456.0 L552.6,455.8 L554.6,455.5 L556.6,455.3 L558.6,455.0 L560.6,454.8 L562.6,454.6 L564.6,454.3 L566.6,454.1 L568.6,453.9 L570.6,453.7 L572.6,453.4 L574.6,453.2 L576.6,453.0 L578.6,452.8 L580.6,452.6 L582.6,452.4 L584.6,452.1 L586.6,451.9 L588.6,451.7 L590.6,451.5 L592.6,451.3 L594.6,451.1 L596.6,450.9 L598.6,450.7 L600.6,450.6 L602.6,450.4 L604.6,450.2 L606.6,450.0 L608.6,449.8 L610.6,449.6 L612.6,449.4 L614.6,449.3 L616.6,449.1 L618.6,448.9 L620.6,448.7 L622.6,448.6 L624.6,448.4 L626.6,448.2 L628.6,448.1 L630.6,447.9 L632.6,447.7 L634.6,447.6 L636.6,447.4 L638.6,447.3 L640.6,447.1 L642.6,447.0 L644.6,446.8 L646.6,446.7 L648.6,446.5 L650.6,446.4 L652.6,446.2 L654.6,446.1 L656.6,446.0 L658.6,445.8 L660.6,445.7 L662.6,445.6 L664.6,445.4 L666.6,445.3 L668.6,445.2 L670.6,445.0 L672.6,444.9 L674.6,444.8 L677.3,444.6" fill="none" stroke="#000000" stroke-width="2.08" stroke-linejoin="round" stroke-linecap="butt"/></g>
<rect x="538.6" y="445.4" width="162" height="24.8" rx="2.8" fill="#fff" fill-opacity="0.8" stroke="#ccc" stroke-opacity="0.8" stroke-width="1"/>
<path d="M543.0,455.8 H573.0" stroke="#000" stroke-width="2.08" fill="none"/>
<text x="582.4" y="460.6" font-size="14.2" text-anchor="start" textLength="111.4" lengthAdjust="spacingAndGlyphs">Temperature(C)</text>
<text x="84.1" y="628.4" font-size="14.2" text-anchor="middle" textLength="7.2" lengthAdjust="spacingAndGlyphs">0</text>
<text x="199.9" y="628.4" font-size="14.2" text-anchor="middle" textLength="24.9" lengthAdjust="spacingAndGlyphs">200</text>
<text x="315.7" y="628.4" font-size="14.2" text-anchor="middle" textLength="24.9" lengthAdjust="spacingAndGlyphs">400</text>
<text x="431.5" y="628.4" font-size="14.2" text-anchor="middle" textLength="24.9" lengthAdjust="spacingAndGlyphs">600</text>
<text x="547.3" y="628.4" font-size="14.2" text-anchor="middle" textLength="24.9" lengthAdjust="spacingAndGlyphs">800</text>
<text x="663.1" y="628.4" font-size="14.2" text-anchor="middle" textLength="33.7" lengthAdjust="spacingAndGlyphs">1000</text>
</svg>
</body></html>
